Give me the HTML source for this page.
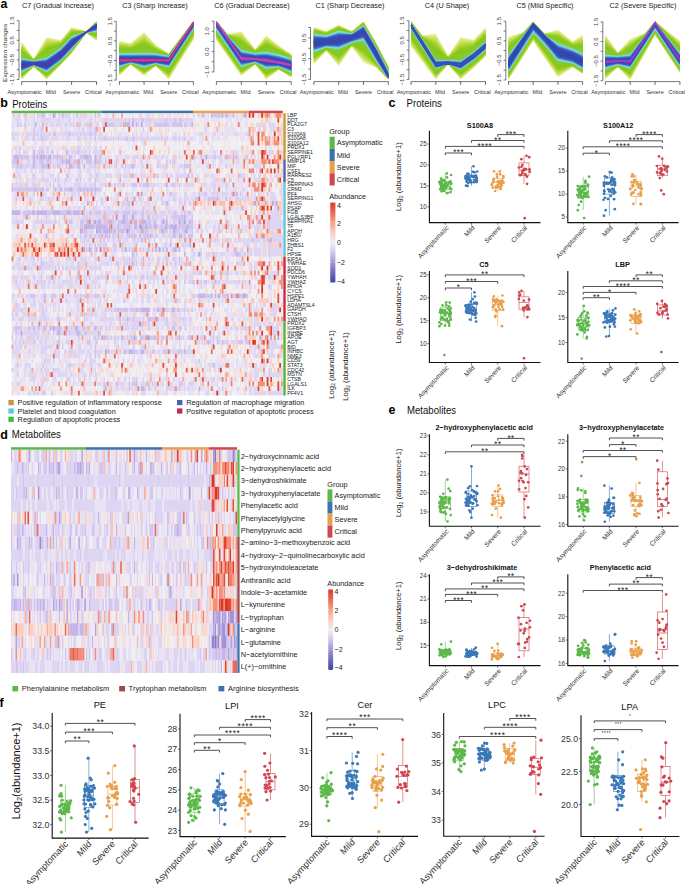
<!DOCTYPE html>
<html><head><meta charset="utf-8"><style>
html,body{margin:0;padding:0;background:#fff;}
svg{display:block;font-family:"Liberation Sans", sans-serif;}
</style></head><body>
<svg width="685" height="884" viewBox="0 0 685 884" shape-rendering="auto">
<rect width="685" height="884" fill="#fff"/>
<polygon points="21.70,41.67 33.67,58.92 46.63,37.16 60.97,39.91 71.57,27.36 86.28,31.28 96.50,21.29 96.50,41.08 86.28,32.85 71.57,53.43 60.97,64.60 46.63,79.50 33.67,66.56 21.70,79.50" fill="#eaef9a"/>
<polygon points="21.70,42.58 33.67,59.02 46.63,38.31 60.97,40.34 71.57,27.86 86.28,31.30 96.50,21.37 96.50,40.59 86.28,32.84 71.57,53.23 60.97,64.40 46.63,79.10 33.67,66.51 21.70,79.11" fill="#e1ea86"/>
<polygon points="21.70,43.48 33.67,59.13 46.63,39.45 60.97,40.78 71.57,28.37 86.28,31.32 96.50,21.45 96.50,40.10 86.28,32.82 71.57,53.02 60.97,64.20 46.63,78.69 33.67,66.45 21.70,78.72" fill="#d7e670"/>
<polygon points="21.70,44.38 33.67,59.23 46.63,40.59 60.97,41.21 71.57,28.87 86.28,31.33 96.50,21.52 96.50,39.61 86.28,32.80 71.57,52.81 60.97,64.00 46.63,78.29 33.67,66.39 21.70,78.32" fill="#cce15e"/>
<polygon points="21.70,45.29 33.67,59.33 46.63,41.74 60.97,41.65 71.57,29.37 86.28,31.35 96.50,21.60 96.50,39.12 86.28,32.79 71.57,52.60 60.97,63.79 46.63,77.89 33.67,66.33 21.70,77.93" fill="#c1dd51"/>
<polygon points="21.70,46.19 33.67,59.44 46.63,42.88 60.97,42.09 71.57,29.87 86.28,31.37 96.50,21.68 96.50,38.63 86.28,32.77 71.57,52.40 60.97,63.59 46.63,77.49 33.67,66.27 21.70,77.54" fill="#b4d844"/>
<polygon points="21.70,47.09 33.67,59.54 46.63,44.02 60.97,42.52 71.57,30.37 86.28,31.38 96.50,21.76 96.50,38.14 86.28,32.75 71.57,52.19 60.97,63.39 46.63,77.08 33.67,66.22 21.70,77.15" fill="#a9d537"/>
<polygon points="21.70,48.00 33.67,59.64 46.63,45.17 60.97,42.96 71.57,30.87 86.28,31.40 96.50,21.84 96.50,37.65 86.28,32.74 71.57,51.98 60.97,63.18 46.63,76.68 33.67,66.16 21.70,76.76" fill="#a0d12f"/>
<polygon points="21.70,48.90 33.67,59.75 46.63,46.31 60.97,43.39 71.57,31.37 86.28,31.42 96.50,21.92 96.50,37.16 86.28,32.72 71.57,51.78 60.97,62.98 46.63,76.28 33.67,66.10 21.70,76.36" fill="#96cd25"/>
<polygon points="21.70,49.81 33.67,59.85 46.63,47.45 60.97,43.83 71.57,31.87 86.28,31.43 96.50,22.00 96.50,36.67 86.28,32.70 71.57,51.57 60.97,62.78 46.63,75.87 33.67,66.04 21.70,75.97" fill="#8cca1b"/>
<polygon points="21.70,50.71 33.67,59.95 46.63,48.60 60.97,44.26 71.57,32.37 86.28,31.45 96.50,22.07 96.50,36.18 86.28,32.69 71.57,51.36 60.97,62.58 46.63,75.47 33.67,65.98 21.70,75.58" fill="#86c81a"/>
<polygon points="21.70,51.61 33.67,60.06 46.63,49.74 60.97,44.70 71.57,32.87 86.28,31.47 96.50,22.15 96.50,35.69 86.28,32.67 71.57,51.16 60.97,62.37 46.63,75.07 33.67,65.93 21.70,75.19" fill="#86c91e"/>
<polygon points="21.70,52.52 33.67,60.16 46.63,50.88 60.97,45.13 71.57,33.37 86.28,31.48 96.50,22.23 96.50,35.20 86.28,32.65 71.57,50.95 60.97,62.17 46.63,74.67 33.67,65.87 21.70,74.80" fill="#85c921"/>
<polygon points="21.70,53.42 33.67,60.26 46.63,52.03 60.97,45.57 71.57,33.88 86.28,31.50 96.50,22.31 96.50,34.71 86.28,32.64 71.57,50.74 60.97,61.97 46.63,74.26 33.67,65.81 21.70,74.40" fill="#85ca25"/>
<polygon points="21.70,54.32 33.67,60.37 46.63,53.17 60.97,46.01 71.57,34.38 86.28,31.52 96.50,22.39 96.50,34.22 86.28,32.62 71.57,50.54 60.97,61.77 46.63,73.86 33.67,65.75 21.70,74.01" fill="#85cb28"/>
<polygon points="21.70,55.23 33.67,60.47 46.63,54.31 60.97,46.44 71.57,34.88 86.28,31.53 96.50,22.47 96.50,33.73 86.28,32.60 71.57,50.33 60.97,61.56 46.63,73.46 33.67,65.70 21.70,73.62" fill="#84cb2c"/>
<polygon points="21.70,56.13 33.67,60.58 46.63,55.46 60.97,46.88 71.57,35.38 86.28,31.55 96.50,22.55 96.50,33.24 86.28,32.59 71.57,50.12 60.97,61.36 46.63,73.05 33.67,65.64 21.70,73.23" fill="#84cc2f"/>
<polygon points="21.70,57.04 33.67,60.68 46.63,56.60 60.97,47.31 71.57,35.88 86.28,31.57 96.50,22.62 96.50,32.75 86.28,32.57 71.57,49.91 60.97,61.16 46.63,72.65 33.67,65.58 21.70,72.84" fill="#80ca3e"/>
<polygon points="21.70,57.94 33.67,60.78 46.63,57.74 60.97,47.75 71.57,36.38 86.28,31.58 96.50,22.70 96.50,32.26 86.28,32.55 71.57,49.71 60.97,60.95 46.63,72.25 33.67,65.52 21.70,72.44" fill="#86dcc8"/>
<polygon points="21.70,58.54 33.67,61.04 46.63,58.35 60.97,48.35 71.57,36.98 86.28,31.62 96.50,22.90 96.50,31.66 86.28,32.51 71.57,49.20 60.97,60.46 46.63,71.64 33.67,65.38 21.70,71.84" fill="#80d9db"/>
<polygon points="21.70,59.15 33.67,61.29 46.63,58.95 60.97,48.96 71.57,37.59 86.28,31.66 96.50,23.09 96.50,31.06 86.28,32.47 71.57,48.70 60.97,59.96 46.63,71.04 33.67,65.24 21.70,71.24" fill="#6bc4e0"/>
<polygon points="21.70,59.75 33.67,61.54 46.63,59.56 60.97,49.56 71.57,38.19 86.28,31.70 96.50,23.28 96.50,30.45 86.28,32.43 71.57,48.19 60.97,59.47 46.63,70.44 33.67,65.10 21.70,70.63" fill="#4aa0d8"/>
<polygon points="21.70,60.36 33.67,61.79 46.63,60.16 60.97,50.17 71.57,38.80 86.28,31.74 96.50,23.47 96.50,29.85 86.28,32.39 71.57,47.68 60.97,58.97 46.63,69.83 33.67,64.95 21.70,70.03" fill="#4178c8"/>
<polygon points="21.70,60.96 33.67,62.05 46.63,60.77 60.97,50.77 71.57,39.40 86.28,31.78 96.50,23.67 96.50,29.24 86.28,32.35 71.57,47.18 60.97,58.47 46.63,69.23 33.67,64.81 21.70,69.42" fill="#3a57bb"/>
<polygon points="21.70,61.57 33.67,62.30 46.63,61.37 60.97,51.37 71.57,40.01 86.28,31.82 96.50,23.86 96.50,28.64 86.28,32.31 71.57,46.67 60.97,57.98 46.63,68.62 33.67,64.67 21.70,68.82" fill="#3a50b8"/>
<polygon points="21.70,62.17 33.67,62.55 46.63,61.97 60.97,51.98 71.57,40.61 86.28,31.87 96.50,24.05 96.50,28.03 86.28,32.27 71.57,46.16 60.97,57.48 46.63,68.02 33.67,64.53 21.70,68.21" fill="#3a4ab5"/>
<polygon points="21.70,62.77 33.67,62.81 46.63,62.58 60.97,52.58 71.57,41.21 86.28,31.91 96.50,24.24 96.50,27.43 86.28,32.23 71.57,45.66 60.97,56.98 46.63,67.41 33.67,64.39 21.70,67.61" fill="#3c46b1"/>
<polygon points="21.70,63.38 33.67,63.06 46.63,63.18 60.97,53.19 71.57,41.82 86.28,31.95 96.50,24.43 96.50,26.82 86.28,32.19 71.57,45.15 60.97,56.49 46.63,66.81 33.67,64.25 21.70,67.00" fill="#4141b0"/>
<polygon points="21.70,63.98 33.67,63.31 46.63,63.79 60.97,53.79 71.57,42.42 86.28,31.99 96.50,24.63 96.50,26.22 86.28,32.15 71.57,44.64 60.97,55.99 46.63,66.20 33.67,64.10 21.70,66.40" fill="#493cb0"/>
<polygon points="21.70,64.59 33.67,63.57 46.63,64.39 60.97,54.40 71.57,43.03 86.28,32.03 96.50,24.82 96.50,25.62 86.28,32.11 71.57,44.14 60.97,55.50 46.63,65.60 33.67,63.96 21.70,65.80" fill="#4a3cb0"/>
<polyline points="21.70,65.19 33.67,63.82 46.63,65.00 60.97,55.00 71.57,43.63 86.28,32.07 96.50,25.01" fill="none" stroke="#4a3cb0" stroke-width="1.6"/>
<line x1="19.00" y1="20.70" x2="19.00" y2="79.50" stroke="#555" stroke-width="0.8"/>
<line x1="16.80" y1="79.50" x2="19.00" y2="79.50" stroke="#555" stroke-width="0.8"/>
<line x1="16.80" y1="69.70" x2="19.00" y2="69.70" stroke="#555" stroke-width="0.8"/>
<line x1="16.80" y1="59.90" x2="19.00" y2="59.90" stroke="#555" stroke-width="0.8"/>
<line x1="16.80" y1="50.10" x2="19.00" y2="50.10" stroke="#555" stroke-width="0.8"/>
<line x1="16.80" y1="40.30" x2="19.00" y2="40.30" stroke="#555" stroke-width="0.8"/>
<line x1="16.80" y1="30.50" x2="19.00" y2="30.50" stroke="#555" stroke-width="0.8"/>
<line x1="16.80" y1="20.70" x2="19.00" y2="20.70" stroke="#555" stroke-width="0.8"/>
<text x="0" y="0" transform="translate(14.40,20.70) scale(1,1.080) rotate(-90)" font-size="5.6" text-anchor="middle" fill="#444">1.5</text>
<text x="0" y="0" transform="translate(14.40,40.30) scale(1,1.080) rotate(-90)" font-size="5.6" text-anchor="middle" fill="#444">0.5</text>
<text x="0" y="0" transform="translate(14.40,59.90) scale(1,1.080) rotate(-90)" font-size="5.6" text-anchor="middle" fill="#444">−0.5</text>
<text x="0" y="0" transform="translate(14.40,79.50) scale(1,1.080) rotate(-90)" font-size="5.6" text-anchor="middle" fill="#444">−1.5</text>
<line x1="21.70" y1="81.60" x2="96.50" y2="81.60" stroke="#555" stroke-width="0.8"/>
<line x1="21.70" y1="81.60" x2="21.70" y2="84.80" stroke="#555" stroke-width="0.9"/>
<text transform="translate(24.50,93.6) scale(1,1.080)" font-size="5.45" text-anchor="middle" fill="#333">Asymptomatic</text>
<line x1="46.63" y1="81.60" x2="46.63" y2="84.80" stroke="#555" stroke-width="0.9"/>
<text transform="translate(50.83,93.6) scale(1,1.080)" font-size="5.45" text-anchor="middle" fill="#333">Mild</text>
<line x1="71.57" y1="81.60" x2="71.57" y2="84.80" stroke="#555" stroke-width="0.9"/>
<text transform="translate(71.57,93.6) scale(1,1.080)" font-size="5.45" text-anchor="middle" fill="#333">Severe</text>
<line x1="96.50" y1="81.60" x2="96.50" y2="84.80" stroke="#555" stroke-width="0.9"/>
<text transform="translate(93.40,93.6) scale(1,1.080)" font-size="5.45" text-anchor="middle" fill="#333">Critical</text>
<text transform="translate(58.00,8.4) scale(1,1.080)" font-size="7.3" text-anchor="middle" fill="#222">C7 (Gradual Increase)</text>
<text x="0" y="0" transform="translate(6.5,52.8) scale(1,1.080) rotate(-90)" font-size="6.0" text-anchor="middle" fill="#333">Expression changes</text>
<polygon points="119.40,41.10 130.50,43.25 144.07,32.28 155.66,44.82 168.73,53.44 193.40,21.30 193.40,39.72 168.73,79.51 155.66,65.99 144.07,75.79 130.50,64.42 119.40,75.79" fill="#eaef9a"/>
<polygon points="119.40,41.77 130.50,43.81 144.07,33.43 155.66,45.29 168.73,53.59 193.40,21.32 193.40,39.17 168.73,78.85 155.66,65.87 144.07,75.33 130.50,64.34 119.40,75.34" fill="#e1ea86"/>
<polygon points="119.40,42.45 130.50,44.36 144.07,34.58 155.66,45.76 168.73,53.73 193.40,21.35 193.40,38.61 168.73,78.18 155.66,65.76 144.07,74.87 130.50,64.25 119.40,74.90" fill="#d7e670"/>
<polygon points="119.40,43.12 130.50,44.92 144.07,35.74 155.66,46.22 168.73,53.88 193.40,21.37 193.40,38.06 168.73,77.52 155.66,65.64 144.07,74.42 130.50,64.17 119.40,74.45" fill="#cce15e"/>
<polygon points="119.40,43.80 130.50,45.47 144.07,36.89 155.66,46.69 168.73,54.02 193.40,21.40 193.40,37.50 168.73,76.86 155.66,65.52 144.07,73.96 130.50,64.09 119.40,74.00" fill="#c1dd51"/>
<polygon points="119.40,44.47 130.50,46.03 144.07,38.05 155.66,47.16 168.73,54.17 193.40,21.42 193.40,36.95 168.73,76.19 155.66,65.41 144.07,73.50 130.50,64.01 119.40,73.56" fill="#b4d844"/>
<polygon points="119.40,45.15 130.50,46.58 144.07,39.20 155.66,47.63 168.73,54.31 193.40,21.45 193.40,36.39 168.73,75.53 155.66,65.29 144.07,73.04 130.50,63.92 119.40,73.11" fill="#a9d537"/>
<polygon points="119.40,45.82 130.50,47.14 144.07,40.36 155.66,48.10 168.73,54.46 193.40,21.47 193.40,35.84 168.73,74.86 155.66,65.18 144.07,72.59 130.50,63.84 119.40,72.66" fill="#a0d12f"/>
<polygon points="119.40,46.50 130.50,47.69 144.07,41.51 155.66,48.57 168.73,54.60 193.40,21.50 193.40,35.28 168.73,74.20 155.66,65.06 144.07,72.13 130.50,63.76 119.40,72.22" fill="#96cd25"/>
<polygon points="119.40,47.17 130.50,48.25 144.07,42.66 155.66,49.03 168.73,54.75 193.40,21.52 193.40,34.73 168.73,73.53 155.66,64.95 144.07,71.67 130.50,63.68 119.40,71.77" fill="#8cca1b"/>
<polygon points="119.40,47.85 130.50,48.81 144.07,43.82 155.66,49.50 168.73,54.89 193.40,21.55 193.40,34.17 168.73,72.87 155.66,64.83 144.07,71.21 130.50,63.59 119.40,71.32" fill="#86c81a"/>
<polygon points="119.40,48.52 130.50,49.36 144.07,44.97 155.66,49.97 168.73,55.04 193.40,21.57 193.40,33.62 168.73,72.21 155.66,64.71 144.07,70.76 130.50,63.51 119.40,70.88" fill="#86c91e"/>
<polygon points="119.40,49.20 130.50,49.92 144.07,46.13 155.66,50.44 168.73,55.18 193.40,21.60 193.40,33.06 168.73,71.54 155.66,64.60 144.07,70.30 130.50,63.43 119.40,70.43" fill="#85c921"/>
<polygon points="119.40,49.87 130.50,50.47 144.07,47.28 155.66,50.91 168.73,55.33 193.40,21.62 193.40,32.50 168.73,70.88 155.66,64.48 144.07,69.84 130.50,63.34 119.40,69.98" fill="#85ca25"/>
<polygon points="119.40,50.55 130.50,51.03 144.07,48.44 155.66,51.38 168.73,55.47 193.40,21.65 193.40,31.95 168.73,70.21 155.66,64.37 144.07,69.39 130.50,63.26 119.40,69.54" fill="#85cb28"/>
<polygon points="119.40,51.22 130.50,51.58 144.07,49.59 155.66,51.84 168.73,55.62 193.40,21.67 193.40,31.39 168.73,69.55 155.66,64.25 144.07,68.93 130.50,63.18 119.40,69.09" fill="#84cb2c"/>
<polygon points="119.40,51.90 130.50,52.14 144.07,50.74 155.66,52.31 168.73,55.76 193.40,21.70 193.40,30.84 168.73,68.88 155.66,64.13 144.07,68.47 130.50,63.10 119.40,68.64" fill="#84cc2f"/>
<polygon points="119.40,52.57 130.50,52.69 144.07,51.90 155.66,52.78 168.73,55.91 193.40,21.72 193.40,30.28 168.73,68.22 155.66,64.02 144.07,68.01 130.50,63.01 119.40,68.20" fill="#80ca3e"/>
<polygon points="119.40,53.25 130.50,53.25 144.07,53.05 155.66,53.25 168.73,56.05 193.40,21.75 193.40,29.73 168.73,67.56 155.66,63.90 144.07,67.56 130.50,62.93 119.40,67.75" fill="#86dcc8"/>
<polygon points="119.40,53.85 130.50,53.85 144.07,53.66 155.66,53.85 168.73,56.41 193.40,21.81 193.40,29.12 168.73,66.95 155.66,63.62 144.07,66.95 130.50,62.73 119.40,67.15" fill="#80d9db"/>
<polygon points="119.40,54.46 130.50,54.46 144.07,54.26 155.66,54.46 168.73,56.76 193.40,21.87 193.40,28.52 168.73,66.35 155.66,63.34 144.07,66.35 130.50,62.53 119.40,66.54" fill="#6bc4e0"/>
<polygon points="119.40,55.06 130.50,55.06 144.07,54.87 155.66,55.06 168.73,57.11 193.40,21.93 193.40,27.91 168.73,65.74 155.66,63.05 144.07,65.74 130.50,62.32 119.40,65.94" fill="#4aa0d8"/>
<polygon points="119.40,55.67 130.50,55.67 144.07,55.47 155.66,55.67 168.73,57.47 193.40,21.99 193.40,27.31 168.73,65.14 155.66,62.77 144.07,65.14 130.50,62.12 119.40,65.33" fill="#4178c8"/>
<polygon points="119.40,56.27 130.50,56.27 144.07,56.07 155.66,56.27 168.73,57.82 193.40,22.05 193.40,26.71 168.73,64.53 155.66,62.48 144.07,64.53 130.50,61.92 119.40,64.73" fill="#3a57bb"/>
<polygon points="119.40,56.87 130.50,56.87 144.07,56.68 155.66,56.87 168.73,58.18 193.40,22.11 193.40,26.10 168.73,63.93 155.66,62.20 144.07,63.93 130.50,61.72 119.40,64.13" fill="#3a50b8"/>
<polygon points="119.40,57.48 130.50,57.48 144.07,57.28 155.66,57.48 168.73,58.53 193.40,22.17 193.40,25.50 168.73,63.33 155.66,61.92 144.07,63.33 130.50,61.51 119.40,63.52" fill="#3a4ab5"/>
<polygon points="119.40,58.08 130.50,58.08 144.07,57.89 155.66,58.08 168.73,58.89 193.40,22.23 193.40,24.89 168.73,62.72 155.66,61.63 144.07,62.72 130.50,61.31 119.40,62.92" fill="#3c46b1"/>
<polygon points="119.40,58.69 130.50,58.69 144.07,58.49 155.66,58.69 168.73,59.24 193.40,22.29 193.40,24.29 168.73,62.12 155.66,61.35 144.07,62.12 130.50,61.11 119.40,62.31" fill="#773da3"/>
<polygon points="119.40,59.29 130.50,59.29 144.07,59.10 155.66,59.29 168.73,59.60 193.40,22.35 193.40,23.68 168.73,61.51 155.66,61.07 144.07,61.51 130.50,60.91 119.40,61.71" fill="#d8318e"/>
<polygon points="119.40,59.90 130.50,59.90 144.07,59.70 155.66,59.90 168.73,59.95 193.40,22.42 193.40,23.08 168.73,60.91 155.66,60.78 144.07,60.91 130.50,60.70 119.40,61.10" fill="#e0308c"/>
<polyline points="119.40,60.50 130.50,60.50 144.07,60.30 155.66,60.50 168.73,60.30 193.40,22.48" fill="none" stroke="#e0308c" stroke-width="1.6"/>
<line x1="116.20" y1="21.30" x2="116.20" y2="80.10" stroke="#555" stroke-width="0.8"/>
<line x1="114.00" y1="80.10" x2="116.20" y2="80.10" stroke="#555" stroke-width="0.8"/>
<line x1="114.00" y1="70.30" x2="116.20" y2="70.30" stroke="#555" stroke-width="0.8"/>
<line x1="114.00" y1="60.50" x2="116.20" y2="60.50" stroke="#555" stroke-width="0.8"/>
<line x1="114.00" y1="50.70" x2="116.20" y2="50.70" stroke="#555" stroke-width="0.8"/>
<line x1="114.00" y1="40.90" x2="116.20" y2="40.90" stroke="#555" stroke-width="0.8"/>
<line x1="114.00" y1="31.10" x2="116.20" y2="31.10" stroke="#555" stroke-width="0.8"/>
<line x1="114.00" y1="21.30" x2="116.20" y2="21.30" stroke="#555" stroke-width="0.8"/>
<text x="0" y="0" transform="translate(111.60,21.30) scale(1,1.080) rotate(-90)" font-size="5.6" text-anchor="middle" fill="#444">1.5</text>
<text x="0" y="0" transform="translate(111.60,40.90) scale(1,1.080) rotate(-90)" font-size="5.6" text-anchor="middle" fill="#444">0.5</text>
<text x="0" y="0" transform="translate(111.60,60.50) scale(1,1.080) rotate(-90)" font-size="5.6" text-anchor="middle" fill="#444">−0.5</text>
<text x="0" y="0" transform="translate(111.60,80.10) scale(1,1.080) rotate(-90)" font-size="5.6" text-anchor="middle" fill="#444">−1.5</text>
<line x1="119.40" y1="81.60" x2="193.40" y2="81.60" stroke="#555" stroke-width="0.8"/>
<line x1="119.40" y1="81.60" x2="119.40" y2="84.80" stroke="#555" stroke-width="0.9"/>
<text transform="translate(122.20,93.6) scale(1,1.080)" font-size="5.45" text-anchor="middle" fill="#333">Asymptomatic</text>
<line x1="144.07" y1="81.60" x2="144.07" y2="84.80" stroke="#555" stroke-width="0.9"/>
<text transform="translate(148.27,93.6) scale(1,1.080)" font-size="5.45" text-anchor="middle" fill="#333">Mild</text>
<line x1="168.73" y1="81.60" x2="168.73" y2="84.80" stroke="#555" stroke-width="0.9"/>
<text transform="translate(168.73,93.6) scale(1,1.080)" font-size="5.45" text-anchor="middle" fill="#333">Severe</text>
<line x1="193.40" y1="81.60" x2="193.40" y2="84.80" stroke="#555" stroke-width="0.9"/>
<text transform="translate(190.30,93.6) scale(1,1.080)" font-size="5.45" text-anchor="middle" fill="#333">Critical</text>
<text transform="translate(155.00,8.4) scale(1,1.080)" font-size="7.3" text-anchor="middle" fill="#222">C3 (Sharp Increase)</text>
<polygon points="216.40,21.15 227.62,34.34 241.33,31.30 255.30,49.16 266.27,35.56 278.73,45.51 291.20,54.04 291.20,77.58 278.73,69.87 266.27,79.41 255.30,64.59 241.33,75.76 227.62,56.27 216.40,40.44" fill="#eaef9a"/>
<polygon points="216.40,21.17 227.62,34.43 241.33,32.34 255.30,49.38 266.27,36.47 278.73,45.99 291.20,54.27 291.20,77.32 278.73,69.72 266.27,78.82 255.30,64.48 241.33,75.27 227.62,55.75 216.40,39.88" fill="#e1ea86"/>
<polygon points="216.40,21.18 227.62,34.52 241.33,33.38 255.30,49.59 266.27,37.37 278.73,46.48 291.20,54.51 291.20,77.06 278.73,69.57 266.27,78.24 255.30,64.37 241.33,74.79 227.62,55.23 216.40,39.33" fill="#d7e670"/>
<polygon points="216.40,21.20 227.62,34.60 241.33,34.41 255.30,49.81 266.27,38.27 278.73,46.96 291.20,54.74 291.20,76.80 278.73,69.42 266.27,77.65 255.30,64.26 241.33,74.30 227.62,54.71 216.40,38.78" fill="#cce15e"/>
<polygon points="216.40,21.22 227.62,34.69 241.33,35.45 255.30,50.02 266.27,39.17 278.73,47.45 291.20,54.98 291.20,76.54 278.73,69.27 266.27,77.07 255.30,64.15 241.33,73.82 227.62,54.19 216.40,38.22" fill="#c1dd51"/>
<polygon points="216.40,21.24 227.62,34.77 241.33,36.49 255.30,50.24 266.27,40.07 278.73,47.93 291.20,55.21 291.20,76.28 278.73,69.12 266.27,76.48 255.30,64.03 241.33,73.33 227.62,53.68 216.40,37.67" fill="#b4d844"/>
<polygon points="216.40,21.25 227.62,34.86 241.33,37.53 255.30,50.45 266.27,40.98 278.73,48.42 291.20,55.45 291.20,76.02 278.73,68.97 266.27,75.89 255.30,63.92 241.33,72.85 227.62,53.16 216.40,37.12" fill="#a9d537"/>
<polygon points="216.40,21.27 227.62,34.94 241.33,38.56 255.30,50.66 266.27,41.88 278.73,48.90 291.20,55.69 291.20,75.75 278.73,68.82 266.27,75.31 255.30,63.81 241.33,72.36 227.62,52.64 216.40,36.57" fill="#a0d12f"/>
<polygon points="216.40,21.29 227.62,35.03 241.33,39.60 255.30,50.88 266.27,42.78 278.73,49.39 291.20,55.92 291.20,75.49 278.73,68.67 266.27,74.72 255.30,63.70 241.33,71.88 227.62,52.12 216.40,36.01" fill="#96cd25"/>
<polygon points="216.40,21.30 227.62,35.12 241.33,40.64 255.30,51.09 266.27,43.68 278.73,49.87 291.20,56.16 291.20,75.23 278.73,68.52 266.27,74.13 255.30,63.59 241.33,71.39 227.62,51.60 216.40,35.46" fill="#8cca1b"/>
<polygon points="216.40,21.32 227.62,35.20 241.33,41.68 255.30,51.31 266.27,44.59 278.73,50.36 291.20,56.39 291.20,74.97 278.73,68.37 266.27,73.55 255.30,63.48 241.33,70.91 227.62,51.08 216.40,34.91" fill="#86c81a"/>
<polygon points="216.40,21.34 227.62,35.29 241.33,42.71 255.30,51.52 266.27,45.49 278.73,50.84 291.20,56.63 291.20,74.71 278.73,68.22 266.27,72.96 255.30,63.37 241.33,70.42 227.62,50.56 216.40,34.36" fill="#86c91e"/>
<polygon points="216.40,21.36 227.62,35.37 241.33,43.75 255.30,51.74 266.27,46.39 278.73,51.33 291.20,56.86 291.20,74.45 278.73,68.07 266.27,72.37 255.30,63.25 241.33,69.94 227.62,50.04 216.40,33.80" fill="#85c921"/>
<polygon points="216.40,21.37 227.62,35.46 241.33,44.79 255.30,51.95 266.27,47.29 278.73,51.81 291.20,57.10 291.20,74.19 278.73,67.92 266.27,71.79 255.30,63.14 241.33,69.45 227.62,49.52 216.40,33.25" fill="#85ca25"/>
<polygon points="216.40,21.39 227.62,35.54 241.33,45.83 255.30,52.16 266.27,48.19 278.73,52.30 291.20,57.34 291.20,73.92 278.73,67.77 266.27,71.20 255.30,63.03 241.33,68.97 227.62,49.01 216.40,32.70" fill="#85cb28"/>
<polygon points="216.40,21.41 227.62,35.63 241.33,46.86 255.30,52.38 266.27,49.10 278.73,52.78 291.20,57.57 291.20,73.66 278.73,67.62 266.27,70.61 255.30,62.92 241.33,68.48 227.62,48.49 216.40,32.15" fill="#84cb2c"/>
<polygon points="216.40,21.42 227.62,35.72 241.33,47.90 255.30,52.59 266.27,50.00 278.73,53.27 291.20,57.81 291.20,73.40 278.73,67.47 266.27,70.03 255.30,62.81 241.33,68.00 227.62,47.97 216.40,31.59" fill="#84cc2f"/>
<polygon points="216.40,21.44 227.62,35.80 241.33,48.94 255.30,52.81 266.27,50.90 278.73,53.75 291.20,58.04 291.20,73.14 278.73,67.32 266.27,69.44 255.30,62.70 241.33,67.51 227.62,47.45 216.40,31.04" fill="#80ca3e"/>
<polygon points="216.40,21.46 227.62,35.89 241.33,49.98 255.30,53.02 266.27,51.80 278.73,54.24 291.20,58.28 291.20,72.88 278.73,67.17 266.27,68.86 255.30,62.59 241.33,67.03 227.62,46.93 216.40,30.49" fill="#86dcc8"/>
<polygon points="216.40,21.50 227.62,36.10 241.33,50.69 255.30,53.55 266.27,52.51 278.73,54.95 291.20,58.86 291.20,72.24 278.73,66.80 266.27,68.14 255.30,62.31 241.33,66.32 227.62,46.22 216.40,29.78" fill="#80d9db"/>
<polygon points="216.40,21.54 227.62,36.31 241.33,51.40 255.30,54.07 266.27,53.22 278.73,55.66 291.20,59.43 291.20,71.60 278.73,66.44 266.27,67.43 255.30,62.04 241.33,65.61 227.62,45.51 216.40,29.07" fill="#6bc4e0"/>
<polygon points="216.40,21.58 227.62,36.52 241.33,52.11 255.30,54.59 266.27,53.93 278.73,56.37 291.20,60.01 291.20,70.96 278.73,66.07 266.27,66.72 255.30,61.77 241.33,64.90 227.62,44.80 216.40,28.36" fill="#4aa0d8"/>
<polygon points="216.40,21.63 227.62,36.73 241.33,52.82 255.30,55.12 266.27,54.65 278.73,57.08 291.20,60.59 291.20,70.32 278.73,65.70 266.27,66.01 255.30,61.50 241.33,64.19 227.62,44.09 216.40,27.65" fill="#4178c8"/>
<polygon points="216.40,21.67 227.62,36.94 241.33,53.53 255.30,55.64 266.27,55.36 278.73,57.79 291.20,61.16 291.20,69.68 278.73,65.33 266.27,65.30 255.30,61.22 241.33,63.48 227.62,43.38 216.40,26.94" fill="#3a57bb"/>
<polygon points="216.40,21.71 227.62,37.15 241.33,54.24 255.30,56.17 266.27,56.07 278.73,58.50 291.20,61.74 291.20,69.04 278.73,64.97 266.27,64.59 255.30,60.95 241.33,62.77 227.62,42.67 216.40,26.23" fill="#3a50b8"/>
<polygon points="216.40,21.75 227.62,37.36 241.33,54.95 255.30,56.69 266.27,56.78 278.73,59.21 291.20,62.32 291.20,68.40 278.73,64.60 266.27,63.88 255.30,60.68 241.33,62.05 227.62,41.96 216.40,25.51" fill="#3a4ab5"/>
<polygon points="216.40,21.79 227.62,37.57 241.33,55.66 255.30,57.22 266.27,57.49 278.73,59.92 291.20,62.89 291.20,67.76 278.73,64.23 266.27,63.17 255.30,60.40 241.33,61.34 227.62,41.25 216.40,24.80" fill="#3c46b1"/>
<polygon points="216.40,21.84 227.62,37.78 241.33,56.37 255.30,57.74 266.27,58.20 278.73,60.63 291.20,63.47 291.20,67.12 278.73,63.87 266.27,62.46 255.30,60.13 241.33,60.63 227.62,40.54 216.40,24.09" fill="#6b43b3"/>
<polygon points="216.40,21.88 227.62,37.99 241.33,57.08 255.30,58.27 266.27,58.91 278.73,61.34 291.20,64.05 291.20,66.48 278.73,63.50 266.27,61.75 255.30,59.86 241.33,59.92 227.62,39.83 216.40,23.38" fill="#ba40b8"/>
<polygon points="216.40,21.92 227.62,38.20 241.33,57.79 255.30,58.79 266.27,59.62 278.73,62.05 291.20,64.62 291.20,65.84 278.73,63.13 266.27,61.04 255.30,59.59 241.33,59.21 227.62,39.12 216.40,22.67" fill="#c040b8"/>
<polyline points="216.40,21.96 227.62,38.41 241.33,58.50 255.30,59.31 266.27,60.33 278.73,62.77 291.20,65.20" fill="none" stroke="#c040b8" stroke-width="1.6"/>
<line x1="213.90" y1="21.15" x2="213.90" y2="71.90" stroke="#555" stroke-width="0.8"/>
<line x1="211.70" y1="71.90" x2="213.90" y2="71.90" stroke="#555" stroke-width="0.8"/>
<line x1="211.70" y1="61.75" x2="213.90" y2="61.75" stroke="#555" stroke-width="0.8"/>
<line x1="211.70" y1="51.60" x2="213.90" y2="51.60" stroke="#555" stroke-width="0.8"/>
<line x1="211.70" y1="41.45" x2="213.90" y2="41.45" stroke="#555" stroke-width="0.8"/>
<line x1="211.70" y1="31.30" x2="213.90" y2="31.30" stroke="#555" stroke-width="0.8"/>
<line x1="211.70" y1="21.15" x2="213.90" y2="21.15" stroke="#555" stroke-width="0.8"/>
<text x="0" y="0" transform="translate(209.30,31.30) scale(1,1.080) rotate(-90)" font-size="5.6" text-anchor="middle" fill="#444">1.0</text>
<text x="0" y="0" transform="translate(209.30,51.60) scale(1,1.080) rotate(-90)" font-size="5.6" text-anchor="middle" fill="#444">0.0</text>
<text x="0" y="0" transform="translate(209.30,71.90) scale(1,1.080) rotate(-90)" font-size="5.6" text-anchor="middle" fill="#444">−1.0</text>
<line x1="216.40" y1="81.60" x2="291.20" y2="81.60" stroke="#555" stroke-width="0.8"/>
<line x1="216.40" y1="81.60" x2="216.40" y2="84.80" stroke="#555" stroke-width="0.9"/>
<text transform="translate(219.20,93.6) scale(1,1.080)" font-size="5.45" text-anchor="middle" fill="#333">Asymptomatic</text>
<line x1="241.33" y1="81.60" x2="241.33" y2="84.80" stroke="#555" stroke-width="0.9"/>
<text transform="translate(245.53,93.6) scale(1,1.080)" font-size="5.45" text-anchor="middle" fill="#333">Mild</text>
<line x1="266.27" y1="81.60" x2="266.27" y2="84.80" stroke="#555" stroke-width="0.9"/>
<text transform="translate(266.27,93.6) scale(1,1.080)" font-size="5.45" text-anchor="middle" fill="#333">Severe</text>
<line x1="291.20" y1="81.60" x2="291.20" y2="84.80" stroke="#555" stroke-width="0.9"/>
<text transform="translate(288.10,93.6) scale(1,1.080)" font-size="5.45" text-anchor="middle" fill="#333">Critical</text>
<text transform="translate(252.00,8.4) scale(1,1.080)" font-size="7.3" text-anchor="middle" fill="#222">C6 (Gradual Decrease)</text>
<polygon points="313.90,27.08 326.30,31.24 338.70,24.80 351.84,31.24 363.50,21.26 376.89,44.14 388.30,65.98 388.30,79.50 376.89,68.06 363.50,62.24 351.84,46.64 338.70,65.98 326.30,51.00 313.90,64.11" fill="#eaef9a"/>
<polygon points="313.90,27.44 326.30,31.47 338.70,25.12 351.84,31.36 363.50,21.47 376.89,44.36 388.30,66.21 388.30,79.45 376.89,67.77 363.50,61.03 351.84,46.43 338.70,65.06 326.30,50.81 313.90,63.45" fill="#e1ea86"/>
<polygon points="313.90,27.80 326.30,31.69 338.70,25.44 351.84,31.48 363.50,21.68 376.89,44.58 388.30,66.45 388.30,79.39 376.89,67.49 363.50,59.83 351.84,46.22 338.70,64.13 326.30,50.62 313.90,62.79" fill="#d7e670"/>
<polygon points="313.90,28.16 326.30,31.92 338.70,25.77 351.84,31.60 363.50,21.89 376.89,44.80 388.30,66.68 388.30,79.34 376.89,67.20 363.50,58.63 351.84,46.02 338.70,63.21 326.30,50.42 313.90,62.13" fill="#cce15e"/>
<polygon points="313.90,28.52 326.30,32.14 338.70,26.09 351.84,31.72 363.50,22.10 376.89,45.02 388.30,66.91 388.30,79.29 376.89,66.92 363.50,57.43 351.84,45.81 338.70,62.28 326.30,50.23 313.90,61.47" fill="#c1dd51"/>
<polygon points="313.90,28.88 326.30,32.36 338.70,26.41 351.84,31.84 363.50,22.31 376.89,45.24 388.30,67.14 388.30,79.24 376.89,66.63 363.50,56.23 351.84,45.60 338.70,61.36 326.30,50.04 313.90,60.81" fill="#b4d844"/>
<polygon points="313.90,29.23 326.30,32.59 338.70,26.74 351.84,31.96 363.50,22.52 376.89,45.46 388.30,67.38 388.30,79.18 376.89,66.35 363.50,55.03 351.84,45.40 338.70,60.43 326.30,49.84 313.90,60.16" fill="#a9d537"/>
<polygon points="313.90,29.59 326.30,32.81 338.70,27.06 351.84,32.07 363.50,22.74 376.89,45.68 388.30,67.61 388.30,79.13 376.89,66.06 363.50,53.82 351.84,45.19 338.70,59.51 326.30,49.65 313.90,59.50" fill="#a0d12f"/>
<polygon points="313.90,29.95 326.30,33.04 338.70,27.38 351.84,32.19 363.50,22.95 376.89,45.90 388.30,67.84 388.30,79.08 376.89,65.78 363.50,52.62 351.84,44.98 338.70,58.58 326.30,49.46 313.90,58.84" fill="#96cd25"/>
<polygon points="313.90,30.31 326.30,33.26 338.70,27.71 351.84,32.31 363.50,23.16 376.89,46.12 388.30,68.07 388.30,79.03 376.89,65.49 363.50,51.42 351.84,44.78 338.70,57.66 326.30,49.27 313.90,58.18" fill="#8cca1b"/>
<polygon points="313.90,30.67 326.30,33.48 338.70,28.03 351.84,32.43 363.50,23.37 376.89,46.34 388.30,68.31 388.30,78.97 376.89,65.21 363.50,50.22 351.84,44.57 338.70,56.74 326.30,49.07 313.90,57.52" fill="#86c81a"/>
<polygon points="313.90,31.02 326.30,33.71 338.70,28.36 351.84,32.55 363.50,23.58 376.89,46.56 388.30,68.54 388.30,78.92 376.89,64.92 363.50,49.02 351.84,44.37 338.70,55.81 326.30,48.88 313.90,56.86" fill="#86c91e"/>
<polygon points="313.90,31.38 326.30,33.93 338.70,28.68 351.84,32.67 363.50,23.79 376.89,46.77 388.30,68.77 388.30,78.87 376.89,64.63 363.50,47.81 351.84,44.16 338.70,54.89 326.30,48.69 313.90,56.20" fill="#85c921"/>
<polygon points="313.90,31.74 326.30,34.16 338.70,29.00 351.84,32.79 363.50,24.00 376.89,46.99 388.30,69.01 388.30,78.81 376.89,64.35 363.50,46.61 351.84,43.95 338.70,53.96 326.30,48.49 313.90,55.55" fill="#85ca25"/>
<polygon points="313.90,32.10 326.30,34.38 338.70,29.33 351.84,32.90 363.50,24.21 376.89,47.21 388.30,69.24 388.30,78.76 376.89,64.06 363.50,45.41 351.84,43.75 338.70,53.04 326.30,48.30 313.90,54.89" fill="#85cb28"/>
<polygon points="313.90,32.46 326.30,34.60 338.70,29.65 351.84,33.02 363.50,24.42 376.89,47.43 388.30,69.47 388.30,78.71 376.89,63.78 363.50,44.21 351.84,43.54 338.70,52.11 326.30,48.11 313.90,54.23" fill="#84cb2c"/>
<polygon points="313.90,32.82 326.30,34.83 338.70,29.97 351.84,33.14 363.50,24.63 376.89,47.65 388.30,69.70 388.30,78.66 376.89,63.49 363.50,43.01 351.84,43.33 338.70,51.19 326.30,47.91 313.90,53.57" fill="#84cc2f"/>
<polygon points="313.90,33.17 326.30,35.05 338.70,30.30 351.84,33.26 363.50,24.84 376.89,47.87 388.30,69.94 388.30,78.60 376.89,63.21 363.50,41.81 351.84,43.13 338.70,50.26 326.30,47.72 313.90,52.91" fill="#80ca3e"/>
<polygon points="313.90,33.53 326.30,35.28 338.70,30.62 351.84,33.38 363.50,25.05 376.89,48.09 388.30,70.17 388.30,78.55 376.89,62.92 363.50,40.60 351.84,42.92 338.70,49.34 326.30,47.53 313.90,52.25" fill="#86dcc8"/>
<polygon points="313.90,34.31 326.30,35.82 338.70,31.40 351.84,33.67 363.50,25.57 376.89,48.63 388.30,70.74 388.30,78.42 376.89,62.22 363.50,39.82 351.84,42.42 338.70,48.56 326.30,47.05 313.90,51.47" fill="#80d9db"/>
<polygon points="313.90,35.09 326.30,36.37 338.70,32.18 351.84,33.96 363.50,26.09 376.89,49.17 388.30,71.31 388.30,78.29 376.89,61.53 363.50,39.04 351.84,41.91 338.70,47.78 326.30,46.58 313.90,50.69" fill="#6bc4e0"/>
<polygon points="313.90,35.87 326.30,36.92 338.70,32.96 351.84,34.25 363.50,26.60 376.89,49.70 388.30,71.88 388.30,78.16 376.89,60.83 363.50,38.26 351.84,41.41 338.70,47.00 326.30,46.11 313.90,49.91" fill="#4aa0d8"/>
<polygon points="313.90,36.65 326.30,37.47 338.70,33.74 351.84,34.54 363.50,27.12 376.89,50.24 388.30,72.45 388.30,78.04 376.89,60.13 363.50,37.48 351.84,40.90 338.70,46.22 326.30,45.63 313.90,49.13" fill="#4178c8"/>
<polygon points="313.90,37.43 326.30,38.02 338.70,34.52 351.84,34.83 363.50,27.63 376.89,50.78 388.30,73.02 388.30,77.91 376.89,59.43 363.50,36.70 351.84,40.40 338.70,45.44 326.30,45.16 313.90,48.35" fill="#3a57bb"/>
<polygon points="313.90,38.21 326.30,38.56 338.70,35.30 351.84,35.12 363.50,28.15 376.89,51.32 388.30,73.59 388.30,77.78 376.89,58.73 363.50,35.92 351.84,39.89 338.70,44.66 326.30,44.69 313.90,47.57" fill="#3a50b8"/>
<polygon points="313.90,38.99 326.30,39.11 338.70,36.08 351.84,35.41 363.50,28.66 376.89,51.85 388.30,74.16 388.30,77.65 376.89,58.03 363.50,35.14 351.84,39.39 338.70,43.88 326.30,44.22 313.90,46.79" fill="#3a4ab5"/>
<polygon points="313.90,39.77 326.30,39.66 338.70,36.86 351.84,35.70 363.50,29.18 376.89,52.39 388.30,74.73 388.30,77.52 376.89,57.33 363.50,34.36 351.84,38.88 338.70,43.10 326.30,43.74 313.90,46.01" fill="#3c46b1"/>
<polygon points="313.90,40.55 326.30,40.21 338.70,37.64 351.84,35.99 363.50,29.70 376.89,52.93 388.30,75.30 388.30,77.39 376.89,56.64 363.50,33.58 351.84,38.38 338.70,42.32 326.30,43.27 313.90,45.23" fill="#3b45b0"/>
<polygon points="313.90,41.33 326.30,40.76 338.70,38.42 351.84,36.28 363.50,30.21 376.89,53.47 388.30,75.86 388.30,77.26 376.89,55.94 363.50,32.80 351.84,37.87 338.70,41.54 326.30,42.80 313.90,44.45" fill="#3848b0"/>
<polygon points="313.90,42.11 326.30,41.30 338.70,39.20 351.84,36.57 363.50,30.73 376.89,54.00 388.30,76.43 388.30,77.13 376.89,55.24 363.50,32.02 351.84,37.37 338.70,40.76 326.30,42.32 313.90,43.67" fill="#3848b0"/>
<polyline points="313.90,42.89 326.30,41.85 338.70,39.98 351.84,36.86 363.50,31.24 376.89,54.54 388.30,77.00" fill="none" stroke="#3848b0" stroke-width="1.6"/>
<line x1="310.50" y1="27.50" x2="310.50" y2="79.50" stroke="#555" stroke-width="0.8"/>
<line x1="308.30" y1="79.50" x2="310.50" y2="79.50" stroke="#555" stroke-width="0.8"/>
<line x1="308.30" y1="69.10" x2="310.50" y2="69.10" stroke="#555" stroke-width="0.8"/>
<line x1="308.30" y1="58.70" x2="310.50" y2="58.70" stroke="#555" stroke-width="0.8"/>
<line x1="308.30" y1="48.30" x2="310.50" y2="48.30" stroke="#555" stroke-width="0.8"/>
<line x1="308.30" y1="37.90" x2="310.50" y2="37.90" stroke="#555" stroke-width="0.8"/>
<line x1="308.30" y1="27.50" x2="310.50" y2="27.50" stroke="#555" stroke-width="0.8"/>
<text x="0" y="0" transform="translate(305.90,37.90) scale(1,1.080) rotate(-90)" font-size="5.6" text-anchor="middle" fill="#444">0.5</text>
<text x="0" y="0" transform="translate(305.90,58.70) scale(1,1.080) rotate(-90)" font-size="5.6" text-anchor="middle" fill="#444">−0.5</text>
<text x="0" y="0" transform="translate(305.90,79.50) scale(1,1.080) rotate(-90)" font-size="5.6" text-anchor="middle" fill="#444">−1.5</text>
<line x1="313.90" y1="81.60" x2="388.30" y2="81.60" stroke="#555" stroke-width="0.8"/>
<line x1="313.90" y1="81.60" x2="313.90" y2="84.80" stroke="#555" stroke-width="0.9"/>
<text transform="translate(316.70,93.6) scale(1,1.080)" font-size="5.45" text-anchor="middle" fill="#333">Asymptomatic</text>
<line x1="338.70" y1="81.60" x2="338.70" y2="84.80" stroke="#555" stroke-width="0.9"/>
<text transform="translate(342.90,93.6) scale(1,1.080)" font-size="5.45" text-anchor="middle" fill="#333">Mild</text>
<line x1="363.50" y1="81.60" x2="363.50" y2="84.80" stroke="#555" stroke-width="0.9"/>
<text transform="translate(363.50,93.6) scale(1,1.080)" font-size="5.45" text-anchor="middle" fill="#333">Severe</text>
<line x1="388.30" y1="81.60" x2="388.30" y2="84.80" stroke="#555" stroke-width="0.9"/>
<text transform="translate(385.20,93.6) scale(1,1.080)" font-size="5.45" text-anchor="middle" fill="#333">Critical</text>
<text transform="translate(350.00,8.4) scale(1,1.080)" font-size="7.3" text-anchor="middle" fill="#222">C1 (Sharp Decrease)</text>
<polygon points="411.00,21.29 422.42,35.40 435.83,33.64 448.00,55.98 460.67,37.16 473.83,39.71 485.50,27.36 485.50,56.57 473.83,67.74 460.67,79.50 448.00,64.02 435.83,79.50 422.42,61.66 411.00,46.57" fill="#eaef9a"/>
<polygon points="411.00,21.37 422.42,35.60 435.83,35.12 448.00,56.19 460.67,38.48 473.83,40.38 485.50,28.16 485.50,56.22 473.83,67.33 460.67,78.94 448.00,64.02 435.83,78.91 422.42,60.88 411.00,45.61" fill="#e1ea86"/>
<polygon points="411.00,21.45 422.42,35.79 435.83,36.60 448.00,56.39 460.67,39.80 473.83,41.04 485.50,28.95 485.50,55.87 473.83,66.91 460.67,78.39 448.00,64.02 435.83,78.32 422.42,60.10 411.00,44.66" fill="#d7e670"/>
<polygon points="411.00,21.52 422.42,35.99 435.83,38.08 448.00,56.60 460.67,41.12 473.83,41.70 485.50,29.75 485.50,55.52 473.83,66.50 460.67,77.83 448.00,64.02 435.83,77.74 422.42,59.31 411.00,43.70" fill="#cce15e"/>
<polygon points="411.00,21.60 422.42,36.18 435.83,39.56 448.00,56.81 460.67,42.43 473.83,42.37 485.50,30.54 485.50,55.17 473.83,66.08 460.67,77.28 448.00,64.02 435.83,77.15 422.42,58.53 411.00,42.74" fill="#c1dd51"/>
<polygon points="411.00,21.68 422.42,36.38 435.83,41.04 448.00,57.01 460.67,43.75 473.83,43.03 485.50,31.34 485.50,54.83 473.83,65.67 460.67,76.72 448.00,64.02 435.83,76.56 422.42,57.74 411.00,41.78" fill="#b4d844"/>
<polygon points="411.00,21.76 422.42,36.58 435.83,42.52 448.00,57.22 460.67,45.07 473.83,43.70 485.50,32.13 485.50,54.48 473.83,65.26 460.67,76.17 448.00,64.02 435.83,75.97 422.42,56.96 411.00,40.82" fill="#a9d537"/>
<polygon points="411.00,21.84 422.42,36.77 435.83,44.00 448.00,57.43 460.67,46.39 473.83,44.36 485.50,32.93 485.50,54.13 473.83,64.84 460.67,75.61 448.00,64.02 435.83,75.38 422.42,56.18 411.00,39.86" fill="#a0d12f"/>
<polygon points="411.00,21.92 422.42,36.97 435.83,45.48 448.00,57.64 460.67,47.70 473.83,45.03 485.50,33.72 485.50,53.78 473.83,64.43 460.67,75.06 448.00,64.02 435.83,74.80 422.42,55.39 411.00,38.91" fill="#96cd25"/>
<polygon points="411.00,22.00 422.42,37.16 435.83,46.96 448.00,57.84 460.67,49.02 473.83,45.69 485.50,34.52 485.50,53.43 473.83,64.02 460.67,74.50 448.00,64.02 435.83,74.21 422.42,54.61 411.00,37.95" fill="#8cca1b"/>
<polygon points="411.00,22.07 422.42,37.36 435.83,48.44 448.00,58.05 460.67,50.34 473.83,46.35 485.50,35.31 485.50,53.08 473.83,63.60 460.67,73.95 448.00,64.02 435.83,73.62 422.42,53.82 411.00,36.99" fill="#86c81a"/>
<polygon points="411.00,22.15 422.42,37.56 435.83,49.93 448.00,58.26 460.67,51.66 473.83,47.02 485.50,36.11 485.50,52.74 473.83,63.19 460.67,73.39 448.00,64.02 435.83,73.03 422.42,53.04 411.00,36.03" fill="#86c91e"/>
<polygon points="411.00,22.23 422.42,37.75 435.83,51.41 448.00,58.46 460.67,52.97 473.83,47.68 485.50,36.90 485.50,52.39 473.83,62.77 460.67,72.84 448.00,64.02 435.83,72.44 422.42,52.26 411.00,35.07" fill="#85c921"/>
<polygon points="411.00,22.31 422.42,37.95 435.83,52.89 448.00,58.67 460.67,54.29 473.83,48.35 485.50,37.70 485.50,52.04 473.83,62.36 460.67,72.28 448.00,64.02 435.83,71.86 422.42,51.47 411.00,34.12" fill="#85ca25"/>
<polygon points="411.00,22.39 422.42,38.14 435.83,54.37 448.00,58.88 460.67,55.61 473.83,49.01 485.50,38.49 485.50,51.69 473.83,61.95 460.67,71.73 448.00,64.02 435.83,71.27 422.42,50.69 411.00,33.16" fill="#85cb28"/>
<polygon points="411.00,22.47 422.42,38.34 435.83,55.85 448.00,59.08 460.67,56.93 473.83,49.68 485.50,39.29 485.50,51.34 473.83,61.53 460.67,71.17 448.00,64.02 435.83,70.68 422.42,49.90 411.00,32.20" fill="#84cb2c"/>
<polygon points="411.00,22.55 422.42,38.54 435.83,57.33 448.00,59.29 460.67,58.24 473.83,50.34 485.50,40.08 485.50,50.99 473.83,61.12 460.67,70.61 448.00,64.02 435.83,70.09 422.42,49.12 411.00,31.24" fill="#84cc2f"/>
<polygon points="411.00,22.62 422.42,38.73 435.83,58.81 448.00,59.50 460.67,59.56 473.83,51.00 485.50,40.88 485.50,50.64 473.83,60.71 460.67,70.06 448.00,64.02 435.83,69.50 422.42,48.34 411.00,30.28" fill="#80ca3e"/>
<polygon points="411.00,22.70 422.42,38.93 435.83,60.29 448.00,59.70 460.67,60.88 473.83,51.67 485.50,41.67 485.50,50.30 473.83,60.29 460.67,69.50 448.00,64.02 435.83,68.92 422.42,47.55 411.00,29.32" fill="#86dcc8"/>
<polygon points="411.00,22.90 422.42,39.29 435.83,60.65 448.00,60.06 460.67,61.24 473.83,52.03 485.50,42.03 485.50,49.94 473.83,59.93 460.67,69.14 448.00,64.02 435.83,68.56 422.42,47.19 411.00,28.96" fill="#80d9db"/>
<polygon points="411.00,23.09 422.42,39.65 435.83,61.01 448.00,60.42 460.67,61.60 473.83,52.39 485.50,42.39 485.50,49.58 473.83,59.57 460.67,68.79 448.00,64.02 435.83,68.20 422.42,46.83 411.00,28.61" fill="#6bc4e0"/>
<polygon points="411.00,23.28 422.42,40.01 435.83,61.37 448.00,60.78 460.67,61.96 473.83,52.75 485.50,42.75 485.50,49.22 473.83,59.21 460.67,68.43 448.00,64.02 435.83,67.84 422.42,46.47 411.00,28.25" fill="#4aa0d8"/>
<polygon points="411.00,23.47 422.42,40.37 435.83,61.73 448.00,61.14 460.67,62.32 473.83,53.11 485.50,43.11 485.50,48.86 473.83,58.85 460.67,68.07 448.00,64.02 435.83,67.48 422.42,46.11 411.00,27.89" fill="#4178c8"/>
<polygon points="411.00,23.67 422.42,40.72 435.83,62.09 448.00,61.50 460.67,62.68 473.83,53.46 485.50,43.47 485.50,48.50 473.83,58.50 460.67,67.71 448.00,64.02 435.83,67.12 422.42,45.76 411.00,27.53" fill="#3a57bb"/>
<polygon points="411.00,23.86 422.42,41.08 435.83,62.45 448.00,61.86 460.67,63.04 473.83,53.82 485.50,43.83 485.50,48.14 473.83,58.14 460.67,67.35 448.00,64.02 435.83,66.76 422.42,45.40 411.00,27.17" fill="#3a50b8"/>
<polygon points="411.00,24.05 422.42,41.44 435.83,62.81 448.00,62.22 460.67,63.40 473.83,54.18 485.50,44.19 485.50,47.78 473.83,57.78 460.67,66.99 448.00,64.02 435.83,66.40 422.42,45.04 411.00,26.81" fill="#3a4ab5"/>
<polygon points="411.00,24.24 422.42,41.80 435.83,63.17 448.00,62.58 460.67,63.75 473.83,54.54 485.50,44.55 485.50,47.42 473.83,57.42 460.67,66.63 448.00,64.02 435.83,66.04 422.42,44.68 411.00,26.45" fill="#3c46b1"/>
<polygon points="411.00,24.43 422.42,42.16 435.83,63.53 448.00,62.94 460.67,64.11 473.83,54.90 485.50,44.91 485.50,47.06 473.83,57.06 460.67,66.27 448.00,64.02 435.83,65.68 422.42,44.32 411.00,26.09" fill="#3b49b3"/>
<polygon points="411.00,24.63 422.42,42.52 435.83,63.89 448.00,63.30 460.67,64.47 473.83,55.26 485.50,45.27 485.50,46.70 473.83,56.70 460.67,65.91 448.00,64.02 435.83,65.32 422.42,43.96 411.00,25.73" fill="#3a51b8"/>
<polygon points="411.00,24.82 422.42,42.88 435.83,64.24 448.00,63.66 460.67,64.83 473.83,55.62 485.50,45.62 485.50,46.34 473.83,56.34 460.67,65.55 448.00,64.02 435.83,64.96 422.42,43.60 411.00,25.37" fill="#3a52b8"/>
<polyline points="411.00,25.01 422.42,43.24 435.83,64.60 448.00,64.02 460.67,65.19 473.83,55.98 485.50,45.98" fill="none" stroke="#3a52b8" stroke-width="1.6"/>
<line x1="408.90" y1="20.70" x2="408.90" y2="79.50" stroke="#555" stroke-width="0.8"/>
<line x1="406.70" y1="79.50" x2="408.90" y2="79.50" stroke="#555" stroke-width="0.8"/>
<line x1="406.70" y1="69.70" x2="408.90" y2="69.70" stroke="#555" stroke-width="0.8"/>
<line x1="406.70" y1="59.90" x2="408.90" y2="59.90" stroke="#555" stroke-width="0.8"/>
<line x1="406.70" y1="50.10" x2="408.90" y2="50.10" stroke="#555" stroke-width="0.8"/>
<line x1="406.70" y1="40.30" x2="408.90" y2="40.30" stroke="#555" stroke-width="0.8"/>
<line x1="406.70" y1="30.50" x2="408.90" y2="30.50" stroke="#555" stroke-width="0.8"/>
<line x1="406.70" y1="20.70" x2="408.90" y2="20.70" stroke="#555" stroke-width="0.8"/>
<text x="0" y="0" transform="translate(404.30,20.70) scale(1,1.080) rotate(-90)" font-size="5.6" text-anchor="middle" fill="#444">1.5</text>
<text x="0" y="0" transform="translate(404.30,40.30) scale(1,1.080) rotate(-90)" font-size="5.6" text-anchor="middle" fill="#444">0.5</text>
<text x="0" y="0" transform="translate(404.30,59.90) scale(1,1.080) rotate(-90)" font-size="5.6" text-anchor="middle" fill="#444">−0.5</text>
<text x="0" y="0" transform="translate(404.30,79.50) scale(1,1.080) rotate(-90)" font-size="5.6" text-anchor="middle" fill="#444">−1.5</text>
<line x1="411.00" y1="81.60" x2="485.50" y2="81.60" stroke="#555" stroke-width="0.8"/>
<line x1="411.00" y1="81.60" x2="411.00" y2="84.80" stroke="#555" stroke-width="0.9"/>
<text transform="translate(413.80,93.6) scale(1,1.080)" font-size="5.45" text-anchor="middle" fill="#333">Asymptomatic</text>
<line x1="435.83" y1="81.60" x2="435.83" y2="84.80" stroke="#555" stroke-width="0.9"/>
<text transform="translate(440.03,93.6) scale(1,1.080)" font-size="5.45" text-anchor="middle" fill="#333">Mild</text>
<line x1="460.67" y1="81.60" x2="460.67" y2="84.80" stroke="#555" stroke-width="0.9"/>
<text transform="translate(460.67,93.6) scale(1,1.080)" font-size="5.45" text-anchor="middle" fill="#333">Severe</text>
<line x1="485.50" y1="81.60" x2="485.50" y2="84.80" stroke="#555" stroke-width="0.9"/>
<text transform="translate(482.40,93.6) scale(1,1.080)" font-size="5.45" text-anchor="middle" fill="#333">Critical</text>
<text transform="translate(447.00,8.4) scale(1,1.080)" font-size="7.3" text-anchor="middle" fill="#222">C4 (U Shape)</text>
<polygon points="508.50,36.68 523.32,32.18 533.20,21.59 544.32,33.55 557.90,29.82 572.72,41.58 582.60,34.72 582.60,74.12 572.72,67.26 557.90,77.26 544.32,57.46 533.20,41.00 523.32,56.48 508.50,79.61" fill="#eaef9a"/>
<polygon points="508.50,37.69 523.32,32.34 533.20,21.65 544.32,33.60 557.90,30.58 572.72,41.97 582.60,35.76 582.60,73.87 572.72,67.05 557.90,76.35 544.32,56.75 533.20,40.55 523.32,56.04 508.50,79.21" fill="#e1ea86"/>
<polygon points="508.50,38.69 523.32,32.50 533.20,21.70 544.32,33.65 557.90,31.33 572.72,42.35 582.60,36.79 582.60,73.62 572.72,66.84 557.90,75.45 544.32,56.04 533.20,40.10 523.32,55.61 508.50,78.80" fill="#d7e670"/>
<polygon points="508.50,39.69 523.32,32.66 533.20,21.75 544.32,33.70 557.90,32.08 572.72,42.73 582.60,37.83 582.60,73.36 572.72,66.63 557.90,74.54 544.32,55.34 533.20,39.66 523.32,55.17 508.50,78.40" fill="#cce15e"/>
<polygon points="508.50,40.69 523.32,32.82 533.20,21.81 544.32,33.75 557.90,32.83 572.72,43.11 582.60,38.86 582.60,73.11 572.72,66.42 557.90,73.64 544.32,54.63 533.20,39.21 523.32,54.74 508.50,78.00" fill="#c1dd51"/>
<polygon points="508.50,41.69 523.32,32.98 533.20,21.86 544.32,33.80 557.90,33.58 572.72,43.49 582.60,39.90 582.60,72.86 572.72,66.20 557.90,72.74 544.32,53.92 533.20,38.76 523.32,54.30 508.50,77.59" fill="#b4d844"/>
<polygon points="508.50,42.69 523.32,33.14 533.20,21.91 544.32,33.85 557.90,34.33 572.72,43.87 582.60,40.93 582.60,72.61 572.72,65.99 557.90,71.83 544.32,53.21 533.20,38.32 523.32,53.87 508.50,77.19" fill="#a9d537"/>
<polygon points="508.50,43.70 523.32,33.31 533.20,21.97 544.32,33.90 557.90,35.08 572.72,44.25 582.60,41.97 582.60,72.35 572.72,65.78 557.90,70.93 544.32,52.51 533.20,37.87 523.32,53.43 508.50,76.79" fill="#a0d12f"/>
<polygon points="508.50,44.70 523.32,33.47 533.20,22.02 544.32,33.95 557.90,35.83 572.72,44.63 582.60,43.00 582.60,72.10 572.72,65.57 557.90,70.03 544.32,51.80 533.20,37.42 523.32,53.00 508.50,76.38" fill="#96cd25"/>
<polygon points="508.50,45.70 523.32,33.63 533.20,22.08 544.32,33.99 557.90,36.59 572.72,45.01 582.60,44.03 582.60,71.85 572.72,65.36 557.90,69.12 544.32,51.09 533.20,36.98 523.32,52.56 508.50,75.98" fill="#8cca1b"/>
<polygon points="508.50,46.70 523.32,33.79 533.20,22.13 544.32,34.04 557.90,37.34 572.72,45.40 582.60,45.07 582.60,71.60 572.72,65.15 557.90,68.22 544.32,50.38 533.20,36.53 523.32,52.12 508.50,75.58" fill="#86c81a"/>
<polygon points="508.50,47.70 523.32,33.95 533.20,22.18 544.32,34.09 557.90,38.09 572.72,45.78 582.60,46.10 582.60,71.34 572.72,64.94 557.90,67.31 544.32,49.67 533.20,36.09 523.32,51.69 508.50,75.18" fill="#86c91e"/>
<polygon points="508.50,48.71 523.32,34.11 533.20,22.24 544.32,34.14 557.90,38.84 572.72,46.16 582.60,47.14 582.60,71.09 572.72,64.73 557.90,66.41 544.32,48.97 533.20,35.64 523.32,51.25 508.50,74.77" fill="#85c921"/>
<polygon points="508.50,49.71 523.32,34.27 533.20,22.29 544.32,34.19 557.90,39.59 572.72,46.54 582.60,48.17 582.60,70.84 572.72,64.52 557.90,65.51 544.32,48.26 533.20,35.19 523.32,50.82 508.50,74.37" fill="#85ca25"/>
<polygon points="508.50,50.71 523.32,34.44 533.20,22.35 544.32,34.24 557.90,40.34 572.72,46.92 582.60,49.21 582.60,70.59 572.72,64.31 557.90,64.60 544.32,47.55 533.20,34.75 523.32,50.38 508.50,73.97" fill="#85cb28"/>
<polygon points="508.50,51.71 523.32,34.60 533.20,22.40 544.32,34.29 557.90,41.09 572.72,47.30 582.60,50.24 582.60,70.33 572.72,64.09 557.90,63.70 544.32,46.84 533.20,34.30 523.32,49.95 508.50,73.56" fill="#84cb2c"/>
<polygon points="508.50,52.71 523.32,34.76 533.20,22.45 544.32,34.34 557.90,41.85 572.72,47.68 582.60,51.28 582.60,70.08 572.72,63.88 557.90,62.80 544.32,46.14 533.20,33.85 523.32,49.51 508.50,73.16" fill="#84cc2f"/>
<polygon points="508.50,53.71 523.32,34.92 533.20,22.51 544.32,34.39 557.90,42.60 572.72,48.06 582.60,52.31 582.60,69.83 572.72,63.67 557.90,61.89 544.32,45.43 533.20,33.41 523.32,49.08 508.50,72.76" fill="#80ca3e"/>
<polygon points="508.50,54.72 523.32,35.08 533.20,22.56 544.32,34.44 557.90,43.35 572.72,48.44 582.60,53.34 582.60,69.58 572.72,63.46 557.90,60.99 544.32,44.72 533.20,32.96 523.32,48.64 508.50,72.36" fill="#86dcc8"/>
<polygon points="508.50,55.45 523.32,35.48 533.20,22.69 544.32,34.56 557.90,44.08 572.72,49.18 582.60,54.08 582.60,68.96 572.72,62.95 557.90,60.25 544.32,43.98 533.20,32.22 523.32,47.91 508.50,71.62" fill="#80d9db"/>
<polygon points="508.50,56.19 523.32,35.87 533.20,22.82 544.32,34.68 557.90,44.82 572.72,49.91 582.60,54.81 582.60,68.34 572.72,62.43 557.90,59.52 544.32,43.25 533.20,31.49 523.32,47.17 508.50,70.89" fill="#6bc4e0"/>
<polygon points="508.50,56.92 523.32,36.27 533.20,22.96 544.32,34.81 557.90,45.55 572.72,50.65 582.60,55.55 582.60,67.72 572.72,61.91 557.90,58.78 544.32,42.52 533.20,30.75 523.32,46.44 508.50,70.15" fill="#4aa0d8"/>
<polygon points="508.50,57.66 523.32,36.66 533.20,23.09 544.32,34.93 557.90,46.29 572.72,51.38 582.60,56.28 582.60,67.11 572.72,61.40 557.90,58.05 544.32,41.78 533.20,30.02 523.32,45.70 508.50,69.42" fill="#4178c8"/>
<polygon points="508.50,58.39 523.32,37.06 533.20,23.22 544.32,35.05 557.90,47.02 572.72,52.12 582.60,57.02 582.60,66.49 572.72,60.88 557.90,57.31 544.32,41.05 533.20,29.28 523.32,44.96 508.50,68.68" fill="#3a57bb"/>
<polygon points="508.50,59.13 523.32,37.45 533.20,23.35 544.32,35.17 557.90,47.76 572.72,52.85 582.60,57.75 582.60,65.87 572.72,60.36 557.90,56.58 544.32,40.31 533.20,28.55 523.32,44.23 508.50,67.95" fill="#3a50b8"/>
<polygon points="508.50,59.86 523.32,37.85 533.20,23.48 544.32,35.29 557.90,48.49 572.72,53.59 582.60,58.49 582.60,65.25 572.72,59.85 557.90,55.84 544.32,39.58 533.20,27.81 523.32,43.49 508.50,67.21" fill="#3a4ab5"/>
<polygon points="508.50,60.60 523.32,38.24 533.20,23.61 544.32,35.41 557.90,49.23 572.72,54.32 582.60,59.22 582.60,64.63 572.72,59.33 557.90,55.11 544.32,38.84 533.20,27.08 523.32,42.76 508.50,66.48" fill="#3c46b1"/>
<polygon points="508.50,61.33 523.32,38.64 533.20,23.75 544.32,35.54 557.90,49.96 572.72,55.06 582.60,59.96 582.60,64.02 572.72,58.81 557.90,54.37 544.32,38.11 533.20,26.34 523.32,42.02 508.50,65.74" fill="#3845b0"/>
<polygon points="508.50,62.07 523.32,39.03 533.20,23.88 544.32,35.66 557.90,50.70 572.72,55.79 582.60,60.69 582.60,63.40 572.72,58.30 557.90,53.64 544.32,37.37 533.20,25.61 523.32,41.29 508.50,65.01" fill="#3148b0"/>
<polygon points="508.50,62.80 523.32,39.43 533.20,24.01 544.32,35.78 557.90,51.43 572.72,56.53 582.60,61.43 582.60,62.78 572.72,57.78 557.90,52.90 544.32,36.63 533.20,24.88 523.32,40.55 508.50,64.27" fill="#3048b0"/>
<polyline points="508.50,63.54 523.32,39.82 533.20,24.14 544.32,35.90 557.90,52.17 572.72,57.26 582.60,62.16" fill="none" stroke="#3048b0" stroke-width="1.6"/>
<line x1="505.80" y1="21.20" x2="505.80" y2="80.00" stroke="#555" stroke-width="0.8"/>
<line x1="503.60" y1="80.00" x2="505.80" y2="80.00" stroke="#555" stroke-width="0.8"/>
<line x1="503.60" y1="70.20" x2="505.80" y2="70.20" stroke="#555" stroke-width="0.8"/>
<line x1="503.60" y1="60.40" x2="505.80" y2="60.40" stroke="#555" stroke-width="0.8"/>
<line x1="503.60" y1="50.60" x2="505.80" y2="50.60" stroke="#555" stroke-width="0.8"/>
<line x1="503.60" y1="40.80" x2="505.80" y2="40.80" stroke="#555" stroke-width="0.8"/>
<line x1="503.60" y1="31.00" x2="505.80" y2="31.00" stroke="#555" stroke-width="0.8"/>
<line x1="503.60" y1="21.20" x2="505.80" y2="21.20" stroke="#555" stroke-width="0.8"/>
<text x="0" y="0" transform="translate(501.20,21.20) scale(1,1.080) rotate(-90)" font-size="5.6" text-anchor="middle" fill="#444">1.5</text>
<text x="0" y="0" transform="translate(501.20,40.80) scale(1,1.080) rotate(-90)" font-size="5.6" text-anchor="middle" fill="#444">0.5</text>
<text x="0" y="0" transform="translate(501.20,60.40) scale(1,1.080) rotate(-90)" font-size="5.6" text-anchor="middle" fill="#444">−0.5</text>
<text x="0" y="0" transform="translate(501.20,80.00) scale(1,1.080) rotate(-90)" font-size="5.6" text-anchor="middle" fill="#444">−1.5</text>
<line x1="508.50" y1="81.60" x2="582.60" y2="81.60" stroke="#555" stroke-width="0.8"/>
<line x1="508.50" y1="81.60" x2="508.50" y2="84.80" stroke="#555" stroke-width="0.9"/>
<text transform="translate(511.30,93.6) scale(1,1.080)" font-size="5.45" text-anchor="middle" fill="#333">Asymptomatic</text>
<line x1="533.20" y1="81.60" x2="533.20" y2="84.80" stroke="#555" stroke-width="0.9"/>
<text transform="translate(537.40,93.6) scale(1,1.080)" font-size="5.45" text-anchor="middle" fill="#333">Mild</text>
<line x1="557.90" y1="81.60" x2="557.90" y2="84.80" stroke="#555" stroke-width="0.9"/>
<text transform="translate(557.90,93.6) scale(1,1.080)" font-size="5.45" text-anchor="middle" fill="#333">Severe</text>
<line x1="582.60" y1="81.60" x2="582.60" y2="84.80" stroke="#555" stroke-width="0.9"/>
<text transform="translate(579.50,93.6) scale(1,1.080)" font-size="5.45" text-anchor="middle" fill="#333">Critical</text>
<text transform="translate(545.00,8.4) scale(1,1.080)" font-size="7.3" text-anchor="middle" fill="#222">C5 (Mild Specific)</text>
<polygon points="605.40,34.64 617.82,52.48 630.23,38.95 645.13,33.27 655.07,21.51 679.90,40.72 679.90,72.86 655.07,35.23 645.13,53.06 630.23,79.92 617.82,67.37 605.40,79.13" fill="#eaef9a"/>
<polygon points="605.40,35.75 617.82,52.66 630.23,39.79 645.13,33.37 655.07,21.53 679.90,41.38 679.90,72.54 655.07,34.93 645.13,52.64 630.23,79.28 617.82,67.24 605.40,78.58" fill="#e1ea86"/>
<polygon points="605.40,36.86 617.82,52.84 630.23,40.63 645.13,33.47 655.07,21.56 679.90,42.04 679.90,72.23 655.07,34.64 645.13,52.21 630.23,78.65 617.82,67.11 605.40,78.02" fill="#d7e670"/>
<polygon points="605.40,37.97 617.82,53.02 630.23,41.47 645.13,33.58 655.07,21.58 679.90,42.71 679.90,71.91 655.07,34.35 645.13,51.79 630.23,78.02 617.82,66.97 605.40,77.47" fill="#cce15e"/>
<polygon points="605.40,39.08 617.82,53.20 630.23,42.31 645.13,33.68 655.07,21.61 679.90,43.37 679.90,71.60 655.07,34.05 645.13,51.37 630.23,77.39 617.82,66.84 605.40,76.91" fill="#c1dd51"/>
<polygon points="605.40,40.19 617.82,53.39 630.23,43.14 645.13,33.79 655.07,21.63 679.90,44.04 679.90,71.28 655.07,33.76 645.13,50.94 630.23,76.76 617.82,66.71 605.40,76.36" fill="#b4d844"/>
<polygon points="605.40,41.30 617.82,53.57 630.23,43.98 645.13,33.89 655.07,21.66 679.90,44.70 679.90,70.97 655.07,33.46 645.13,50.52 630.23,76.13 617.82,66.58 605.40,75.80" fill="#a9d537"/>
<polygon points="605.40,42.41 617.82,53.75 630.23,44.82 645.13,33.99 655.07,21.68 679.90,45.37 679.90,70.65 655.07,33.17 645.13,50.09 630.23,75.50 617.82,66.45 605.40,75.24" fill="#a0d12f"/>
<polygon points="605.40,43.53 617.82,53.93 630.23,45.66 645.13,34.10 655.07,21.71 679.90,46.03 679.90,70.33 655.07,32.88 645.13,49.67 630.23,74.86 617.82,66.31 605.40,74.69" fill="#96cd25"/>
<polygon points="605.40,44.64 617.82,54.11 630.23,46.50 645.13,34.20 655.07,21.73 679.90,46.69 679.90,70.02 655.07,32.58 645.13,49.24 630.23,74.23 617.82,66.18 605.40,74.13" fill="#8cca1b"/>
<polygon points="605.40,45.75 617.82,54.30 630.23,47.34 645.13,34.30 655.07,21.76 679.90,47.36 679.90,69.70 655.07,32.29 645.13,48.82 630.23,73.60 617.82,66.05 605.40,73.58" fill="#86c81a"/>
<polygon points="605.40,46.86 617.82,54.48 630.23,48.17 645.13,34.41 655.07,21.78 679.90,48.02 679.90,69.39 655.07,31.99 645.13,48.39 630.23,72.97 617.82,65.92 605.40,73.02" fill="#86c91e"/>
<polygon points="605.40,47.97 617.82,54.66 630.23,49.01 645.13,34.51 655.07,21.81 679.90,48.69 679.90,69.07 655.07,31.70 645.13,47.97 630.23,72.34 617.82,65.78 605.40,72.47" fill="#85c921"/>
<polygon points="605.40,49.08 617.82,54.84 630.23,49.85 645.13,34.61 655.07,21.83 679.90,49.35 679.90,68.75 655.07,31.41 645.13,47.54 630.23,71.71 617.82,65.65 605.40,71.91" fill="#85ca25"/>
<polygon points="605.40,50.19 617.82,55.02 630.23,50.69 645.13,34.72 655.07,21.86 679.90,50.02 679.90,68.44 655.07,31.11 645.13,47.12 630.23,71.07 617.82,65.52 605.40,71.36" fill="#85cb28"/>
<polygon points="605.40,51.30 617.82,55.21 630.23,51.53 645.13,34.82 655.07,21.88 679.90,50.68 679.90,68.12 655.07,30.82 645.13,46.69 630.23,70.44 617.82,65.39 605.40,70.80" fill="#84cb2c"/>
<polygon points="605.40,52.41 617.82,55.39 630.23,52.37 645.13,34.92 655.07,21.91 679.90,51.34 679.90,67.81 655.07,30.52 645.13,46.27 630.23,69.81 617.82,65.25 605.40,70.25" fill="#84cc2f"/>
<polygon points="605.40,53.52 617.82,55.57 630.23,53.21 645.13,35.03 655.07,21.93 679.90,52.01 679.90,67.49 655.07,30.23 645.13,45.84 630.23,69.18 617.82,65.12 605.40,69.69" fill="#80ca3e"/>
<polygon points="605.40,54.63 617.82,55.75 630.23,54.04 645.13,35.13 655.07,21.95 679.90,52.67 679.90,67.18 655.07,29.94 645.13,45.42 630.23,68.55 617.82,64.99 605.40,69.14" fill="#86dcc8"/>
<polygon points="605.40,55.24 617.82,56.20 630.23,54.65 645.13,35.38 655.07,22.02 679.90,53.28 679.90,66.57 655.07,29.33 645.13,44.82 630.23,67.94 617.82,64.66 605.40,68.53" fill="#80d9db"/>
<polygon points="605.40,55.84 617.82,56.64 630.23,55.25 645.13,35.64 655.07,22.08 679.90,53.88 679.90,65.97 655.07,28.73 645.13,44.21 630.23,67.34 617.82,64.34 605.40,67.93" fill="#6bc4e0"/>
<polygon points="605.40,56.45 617.82,57.09 630.23,55.86 645.13,35.89 655.07,22.14 679.90,54.48 679.90,65.36 655.07,28.12 645.13,43.61 630.23,66.73 617.82,64.02 605.40,67.32" fill="#4aa0d8"/>
<polygon points="605.40,57.05 617.82,57.54 630.23,56.46 645.13,36.14 655.07,22.20 679.90,55.09 679.90,64.76 655.07,27.52 645.13,43.00 630.23,66.13 617.82,63.69 605.40,66.72" fill="#4178c8"/>
<polygon points="605.40,57.65 617.82,57.98 630.23,57.07 645.13,36.40 655.07,22.26 679.90,55.69 679.90,64.15 655.07,26.91 645.13,42.40 630.23,65.53 617.82,63.37 605.40,66.11" fill="#3a57bb"/>
<polygon points="605.40,58.26 617.82,58.43 630.23,57.67 645.13,36.65 655.07,22.32 679.90,56.30 679.90,63.55 655.07,26.31 645.13,41.79 630.23,64.92 617.82,63.04 605.40,65.51" fill="#3a50b8"/>
<polygon points="605.40,58.86 617.82,58.87 630.23,58.27 645.13,36.90 655.07,22.38 679.90,56.90 679.90,62.95 655.07,25.71 645.13,41.19 630.23,64.32 617.82,62.72 605.40,64.91" fill="#3a4ab5"/>
<polygon points="605.40,59.47 617.82,59.32 630.23,58.88 645.13,37.16 655.07,22.44 679.90,57.51 679.90,62.34 655.07,25.10 645.13,40.59 630.23,63.71 617.82,62.40 605.40,64.30" fill="#3c46b1"/>
<polygon points="605.40,60.07 617.82,59.76 630.23,59.48 645.13,37.41 655.07,22.50 679.90,58.11 679.90,61.74 655.07,24.50 645.13,39.98 630.23,63.11 617.82,62.07 605.40,63.70" fill="#5e41b7"/>
<polygon points="605.40,60.68 617.82,60.21 630.23,60.09 645.13,37.66 655.07,22.56 679.90,58.72 679.90,61.13 655.07,23.89 645.13,39.38 630.23,62.50 617.82,61.75 605.40,63.09" fill="#963cc3"/>
<polygon points="605.40,61.28 617.82,60.65 630.23,60.69 645.13,37.91 655.07,22.62 679.90,59.32 679.90,60.53 655.07,23.29 645.13,38.77 630.23,61.90 617.82,61.42 605.40,62.49" fill="#9a3cc4"/>
<polyline points="605.40,61.88 617.82,61.10 630.23,61.30 645.13,38.17 655.07,22.68 679.90,59.92" fill="none" stroke="#9a3cc4" stroke-width="1.6"/>
<line x1="602.80" y1="21.90" x2="602.80" y2="80.70" stroke="#555" stroke-width="0.8"/>
<line x1="600.60" y1="80.70" x2="602.80" y2="80.70" stroke="#555" stroke-width="0.8"/>
<line x1="600.60" y1="70.90" x2="602.80" y2="70.90" stroke="#555" stroke-width="0.8"/>
<line x1="600.60" y1="61.10" x2="602.80" y2="61.10" stroke="#555" stroke-width="0.8"/>
<line x1="600.60" y1="51.30" x2="602.80" y2="51.30" stroke="#555" stroke-width="0.8"/>
<line x1="600.60" y1="41.50" x2="602.80" y2="41.50" stroke="#555" stroke-width="0.8"/>
<line x1="600.60" y1="31.70" x2="602.80" y2="31.70" stroke="#555" stroke-width="0.8"/>
<line x1="600.60" y1="21.90" x2="602.80" y2="21.90" stroke="#555" stroke-width="0.8"/>
<text x="0" y="0" transform="translate(598.20,21.90) scale(1,1.080) rotate(-90)" font-size="5.6" text-anchor="middle" fill="#444">1.5</text>
<text x="0" y="0" transform="translate(598.20,41.50) scale(1,1.080) rotate(-90)" font-size="5.6" text-anchor="middle" fill="#444">0.5</text>
<text x="0" y="0" transform="translate(598.20,61.10) scale(1,1.080) rotate(-90)" font-size="5.6" text-anchor="middle" fill="#444">−0.5</text>
<text x="0" y="0" transform="translate(598.20,80.70) scale(1,1.080) rotate(-90)" font-size="5.6" text-anchor="middle" fill="#444">−1.5</text>
<line x1="605.40" y1="81.60" x2="679.90" y2="81.60" stroke="#555" stroke-width="0.8"/>
<line x1="605.40" y1="81.60" x2="605.40" y2="84.80" stroke="#555" stroke-width="0.9"/>
<text transform="translate(608.20,93.6) scale(1,1.080)" font-size="5.45" text-anchor="middle" fill="#333">Asymptomatic</text>
<line x1="630.23" y1="81.60" x2="630.23" y2="84.80" stroke="#555" stroke-width="0.9"/>
<text transform="translate(634.43,93.6) scale(1,1.080)" font-size="5.45" text-anchor="middle" fill="#333">Mild</text>
<line x1="655.07" y1="81.60" x2="655.07" y2="84.80" stroke="#555" stroke-width="0.9"/>
<text transform="translate(655.07,93.6) scale(1,1.080)" font-size="5.45" text-anchor="middle" fill="#333">Severe</text>
<line x1="679.90" y1="81.60" x2="679.90" y2="84.80" stroke="#555" stroke-width="0.9"/>
<text transform="translate(676.80,93.6) scale(1,1.080)" font-size="5.45" text-anchor="middle" fill="#333">Critical</text>
<text transform="translate(643.00,8.4) scale(1,1.080)" font-size="7.3" text-anchor="middle" fill="#222">C2 (Severe Specific)</text>
<text transform="translate(0.4,8.1) scale(1,1.080)" font-size="12.4" font-weight="bold" fill="#000">a</text>
<g transform="translate(11.600,113.100) scale(1.79603,4.63000)" fill="none" stroke-width="1.02">
<path stroke="#e8e2f3" d="M0 0.5h1M6 0.5h1M11 0.5h1M20 0.5h1M22 0.5h1M27 0.5h1M35 0.5h1M37 0.5h1M42 0.5h2M47 0.5h1M52 0.5h1M59 0.5h1M67 0.5h1M72 0.5h1M74 0.5h1M77 0.5h1M83 0.5h1M86 0.5h2M90 0.5h1M93 0.5h1M126 0.5h1M144 0.5h1M0 1.5h2M5 1.5h1M9 1.5h3M13 1.5h1M15 1.5h1M22 1.5h1M24 1.5h1M27 1.5h1M29 1.5h2M33 1.5h4M39 1.5h1M41 1.5h2M45 1.5h1M48 1.5h2M101 1.5h2M105 1.5h1M107 1.5h3M111 1.5h5M117 1.5h1M119 1.5h4M124 1.5h5M130 1.5h2M143 1.5h2M1 2.5h2M6 2.5h1M8 2.5h1M10 2.5h2M14 2.5h1M16 2.5h1M20 2.5h1M24 2.5h1M28 2.5h1M31 2.5h1M35 2.5h1M45 2.5h1M66 2.5h1M68 2.5h1M71 2.5h1M78 2.5h1M95 2.5h1M107 2.5h2M120 2.5h1M123 2.5h1M125 2.5h1M127 2.5h1M130 2.5h2M134 2.5h1M0 3.5h2M3 3.5h1M10 3.5h2M13 3.5h2M22 3.5h3M28 3.5h2M31 3.5h2M34 3.5h3M45 3.5h1M54 3.5h1M58 3.5h1M62 3.5h1M66 3.5h1M68 3.5h1M71 3.5h1M75 3.5h2M83 3.5h1M85 3.5h1M97 3.5h1M102 3.5h1M112 3.5h2M115 3.5h2M118 3.5h5M124 3.5h1M127 3.5h2M131 3.5h1M143 3.5h1M7 4.5h1M15 4.5h1M50 4.5h4M57 4.5h3M61 4.5h5M68 4.5h1M71 4.5h1M73 4.5h2M76 4.5h2M79 4.5h4M85 4.5h2M89 4.5h2M95 4.5h1M99 4.5h1M101 4.5h3M107 4.5h1M109 4.5h3M115 4.5h2M118 4.5h2M121 4.5h3M126 4.5h4M144 4.5h1M2 5.5h1M6 5.5h1M10 5.5h1M13 5.5h1M21 5.5h1M26 5.5h2M29 5.5h1M33 5.5h1M35 5.5h1M39 5.5h1M42 5.5h1M45 5.5h1M47 5.5h1M87 5.5h2M98 5.5h1M101 5.5h2M104 5.5h2M107 5.5h1M109 5.5h1M111 5.5h1M113 5.5h2M117 5.5h4M123 5.5h1M125 5.5h1M127 5.5h3M131 5.5h1M144 5.5h1M3 6.5h1M7 6.5h1M12 6.5h3M16 6.5h3M22 6.5h1M25 6.5h1M31 6.5h1M37 6.5h2M46 6.5h2M49 6.5h1M59 6.5h1M64 6.5h2M67 6.5h3M72 6.5h1M76 6.5h1M91 6.5h1M93 6.5h1M95 6.5h1M99 6.5h1M104 6.5h2M111 6.5h1M128 6.5h1M144 6.5h1M0 7.5h1M3 7.5h1M5 7.5h4M10 7.5h1M12 7.5h2M21 7.5h7M32 7.5h1M39 7.5h1M41 7.5h1M44 7.5h2M50 7.5h1M55 7.5h2M59 7.5h2M65 7.5h1M73 7.5h2M84 7.5h1M86 7.5h1M88 7.5h1M90 7.5h1M107 7.5h1M111 7.5h2M114 7.5h1M117 7.5h1M127 7.5h1M143 7.5h2M3 8.5h1M9 8.5h1M11 8.5h1M13 8.5h1M18 8.5h1M21 8.5h1M28 8.5h1M32 8.5h1M57 8.5h1M59 8.5h1M62 8.5h2M68 8.5h1M91 8.5h1M95 8.5h1M103 8.5h1M106 8.5h2M110 8.5h2M114 8.5h1M120 8.5h2M126 8.5h1M129 8.5h2M10 9.5h1M34 9.5h1M50 9.5h2M53 9.5h1M55 9.5h1M57 9.5h1M60 9.5h3M71 9.5h1M75 9.5h1M77 9.5h2M81 9.5h2M85 9.5h1M87 9.5h1M92 9.5h1M95 9.5h1M104 9.5h1M127 9.5h1M134 9.5h1M143 9.5h2M7 10.5h1M10 10.5h1M45 10.5h1M51 10.5h1M53 10.5h1M60 10.5h2M64 10.5h1M66 10.5h2M70 10.5h2M74 10.5h1M76 10.5h1M83 10.5h1M87 10.5h1M93 10.5h1M97 10.5h2M101 10.5h2M104 10.5h2M107 10.5h2M111 10.5h1M113 10.5h1M118 10.5h4M124 10.5h1M128 10.5h1M130 10.5h2M22 11.5h1M29 11.5h1M39 11.5h1M41 11.5h2M56 11.5h1M60 11.5h1M69 11.5h3M74 11.5h1M78 11.5h1M80 11.5h1M87 11.5h1M91 11.5h2M100 11.5h1M102 11.5h6M111 11.5h1M113 11.5h1M116 11.5h2M120 11.5h1M122 11.5h1M124 11.5h5M134 11.5h1M139 11.5h1M143 11.5h2M4 12.5h3M8 12.5h1M18 12.5h4M23 12.5h1M26 12.5h1M30 12.5h1M34 12.5h1M36 12.5h1M40 12.5h2M44 12.5h1M47 12.5h1M49 12.5h1M52 12.5h1M58 12.5h1M60 12.5h1M62 12.5h1M64 12.5h1M67 12.5h1M69 12.5h1M71 12.5h1M73 12.5h2M83 12.5h2M86 12.5h1M90 12.5h4M95 12.5h1M100 12.5h1M102 12.5h1M106 12.5h1M108 12.5h1M117 12.5h1M127 12.5h1M143 12.5h1M0 13.5h1M2 13.5h1M5 13.5h1M7 13.5h3M13 13.5h2M16 13.5h1M19 13.5h2M28 13.5h1M32 13.5h3M36 13.5h1M39 13.5h1M41 13.5h2M45 13.5h1M49 13.5h1M51 13.5h1M57 13.5h1M61 13.5h1M70 13.5h2M82 13.5h2M85 13.5h1M87 13.5h1M99 13.5h1M102 13.5h1M104 13.5h1M110 13.5h1M113 13.5h3M119 13.5h1M121 13.5h2M124 13.5h2M130 13.5h2M134 13.5h1M143 13.5h1M6 14.5h1M10 14.5h1M14 14.5h1M21 14.5h2M27 14.5h2M31 14.5h1M33 14.5h1M42 14.5h1M44 14.5h1M50 14.5h1M52 14.5h1M55 14.5h1M58 14.5h2M62 14.5h5M68 14.5h1M76 14.5h1M81 14.5h1M83 14.5h1M89 14.5h1M94 14.5h1M99 14.5h1M101 14.5h1M107 14.5h2M111 14.5h1M119 14.5h1M124 14.5h2M127 14.5h2M131 14.5h1M134 14.5h1M143 14.5h2M9 15.5h2M16 15.5h3M20 15.5h1M27 15.5h2M30 15.5h5M39 15.5h1M42 15.5h1M47 15.5h2M56 15.5h1M58 15.5h1M65 15.5h1M70 15.5h1M80 15.5h1M82 15.5h1M84 15.5h1M87 15.5h1M95 15.5h1M103 15.5h1M109 15.5h2M114 15.5h1M116 15.5h1M118 15.5h1M121 15.5h1M124 15.5h4M130 15.5h2M18 16.5h1M50 16.5h1M52 16.5h1M59 16.5h1M61 16.5h1M64 16.5h1M67 16.5h3M72 16.5h3M76 16.5h1M82 16.5h1M87 16.5h1M91 16.5h1M96 16.5h3M101 16.5h1M106 16.5h2M109 16.5h1M114 16.5h1M116 16.5h2M120 16.5h3M125 16.5h3M130 16.5h2M134 16.5h1M144 16.5h1M0 17.5h2M4 17.5h1M7 17.5h1M9 17.5h3M19 17.5h1M21 17.5h2M24 17.5h1M30 17.5h3M36 17.5h1M39 17.5h1M43 17.5h1M45 17.5h1M47 17.5h3M55 17.5h1M57 17.5h1M61 17.5h1M65 17.5h2M73 17.5h1M75 17.5h1M78 17.5h1M80 17.5h4M87 17.5h1M92 17.5h1M94 17.5h1M99 17.5h2M102 17.5h2M109 17.5h2M116 17.5h1M121 17.5h1M126 17.5h1M129 17.5h1M134 17.5h1M139 17.5h1M143 17.5h1M0 18.5h2M3 18.5h1M5 18.5h1M7 18.5h2M12 18.5h1M14 18.5h2M18 18.5h1M24 18.5h1M29 18.5h1M34 18.5h4M43 18.5h1M48 18.5h1M51 18.5h1M54 18.5h1M56 18.5h2M61 18.5h2M65 18.5h1M69 18.5h2M78 18.5h3M82 18.5h1M84 18.5h3M88 18.5h1M92 18.5h1M95 18.5h1M99 18.5h1M105 18.5h2M116 18.5h1M118 18.5h1M120 18.5h1M123 18.5h1M134 18.5h1M142 18.5h2M13 19.5h1M16 19.5h1M34 19.5h1M36 19.5h1M40 19.5h2M49 19.5h1M51 19.5h1M53 19.5h1M55 19.5h2M60 19.5h1M68 19.5h1M70 19.5h2M73 19.5h1M77 19.5h3M88 19.5h1M90 19.5h2M95 19.5h1M98 19.5h1M100 19.5h1M0 20.5h3M4 20.5h2M7 20.5h3M11 20.5h1M16 20.5h1M18 20.5h4M26 20.5h5M33 20.5h2M36 20.5h1M41 20.5h1M44 20.5h1M48 20.5h1M52 20.5h1M55 20.5h2M58 20.5h1M60 20.5h1M62 20.5h1M66 20.5h1M68 20.5h5M75 20.5h1M77 20.5h2M80 20.5h2M85 20.5h1M88 20.5h3M92 20.5h1M94 20.5h1M96 20.5h2M100 20.5h1M102 20.5h1M105 20.5h2M108 20.5h4M113 20.5h3M119 20.5h2M124 20.5h1M126 20.5h1M130 20.5h2M134 20.5h1M143 20.5h1M102 21.5h1M104 21.5h2M107 21.5h3M111 21.5h5M117 21.5h1M119 21.5h3M123 21.5h7M131 21.5h1M1 22.5h1M3 22.5h3M12 22.5h1M16 22.5h3M21 22.5h1M23 22.5h1M26 22.5h3M31 22.5h2M34 22.5h3M38 22.5h1M55 22.5h1M57 22.5h1M60 22.5h1M70 22.5h1M74 22.5h1M77 22.5h1M85 22.5h1M99 22.5h1M122 22.5h1M124 22.5h1M129 22.5h1M134 22.5h1M142 22.5h1M9 23.5h1M11 23.5h1M25 23.5h1M28 23.5h1M34 23.5h2M37 23.5h1M82 23.5h1M87 23.5h1M101 23.5h2M105 23.5h1M110 23.5h5M117 23.5h1M121 23.5h2M125 23.5h2M0 24.5h3M7 24.5h1M9 24.5h1M11 24.5h1M13 24.5h3M18 24.5h3M27 24.5h2M30 24.5h1M32 24.5h1M34 24.5h2M37 24.5h1M67 24.5h1M101 24.5h1M107 24.5h1M109 24.5h3M114 24.5h1M116 24.5h1M121 24.5h1M124 24.5h2M129 24.5h1M131 24.5h1M134 24.5h1M139 24.5h1M3 25.5h1M5 25.5h1M12 25.5h1M15 25.5h1M18 25.5h1M25 25.5h1M32 25.5h2M87 25.5h1M102 25.5h1M104 25.5h1M109 25.5h1M113 25.5h1M120 25.5h2M124 25.5h1M129 25.5h1M131 25.5h1M0 26.5h1M3 26.5h2M6 26.5h3M11 26.5h2M15 26.5h3M22 26.5h1M26 26.5h2M30 26.5h3M36 26.5h2M39 26.5h1M45 26.5h1M55 26.5h1M62 26.5h1M82 26.5h2M97 26.5h1M109 26.5h1M112 26.5h1M127 26.5h1M129 26.5h1M134 26.5h1M11 27.5h1M14 27.5h1M44 27.5h1M46 27.5h1M48 27.5h1M50 27.5h1M52 27.5h1M55 27.5h1M58 27.5h1M61 27.5h1M65 27.5h1M69 27.5h1M71 27.5h1M75 27.5h1M77 27.5h1M82 27.5h1M85 27.5h1M89 27.5h1M95 27.5h1M98 27.5h1M100 27.5h2M103 27.5h1M105 27.5h1M107 27.5h1M109 27.5h1M125 27.5h1M139 27.5h1M42 28.5h1M45 28.5h1M47 28.5h1M53 28.5h1M59 28.5h1M64 28.5h1M66 28.5h2M72 28.5h3M79 28.5h1M84 28.5h1M87 28.5h1M90 28.5h1M100 28.5h1M104 28.5h1M112 28.5h4M119 28.5h1M122 28.5h1M125 28.5h1M128 28.5h1M134 28.5h1M139 28.5h1M142 28.5h1M45 29.5h1M59 29.5h2M74 29.5h1M77 29.5h1M83 29.5h1M85 29.5h1M87 29.5h2M101 29.5h2M107 29.5h1M109 29.5h1M112 29.5h1M114 29.5h1M121 29.5h2M126 29.5h1M134 29.5h1M139 29.5h1M142 29.5h1M41 30.5h1M43 30.5h1M45 30.5h1M47 30.5h1M49 30.5h1M54 30.5h2M57 30.5h2M62 30.5h1M64 30.5h1M70 30.5h1M74 30.5h1M77 30.5h2M82 30.5h1M86 30.5h1M91 30.5h1M93 30.5h1M99 30.5h2M102 30.5h1M115 30.5h1M119 30.5h1M128 30.5h1M134 30.5h1M139 30.5h1M142 30.5h1M2 31.5h1M5 31.5h2M9 31.5h1M15 31.5h1M17 31.5h1M19 31.5h2M23 31.5h3M33 31.5h1M36 31.5h2M42 31.5h1M45 31.5h1M49 31.5h1M51 31.5h1M53 31.5h1M58 31.5h2M70 31.5h2M75 31.5h1M77 31.5h1M79 31.5h1M83 31.5h1M92 31.5h1M95 31.5h1M99 31.5h1M101 31.5h2M104 31.5h1M107 31.5h2M111 31.5h1M114 31.5h4M120 31.5h2M123 31.5h1M125 31.5h3M143 31.5h2M0 32.5h2M7 32.5h2M10 32.5h1M14 32.5h2M24 32.5h1M27 32.5h3M31 32.5h2M43 32.5h1M45 32.5h1M47 32.5h2M54 32.5h1M56 32.5h2M61 32.5h1M70 32.5h1M74 32.5h1M78 32.5h2M83 32.5h1M87 32.5h1M89 32.5h1M92 32.5h1M100 32.5h2M110 32.5h2M114 32.5h3M119 32.5h1M121 32.5h3M131 32.5h1M144 32.5h1M2 33.5h1M25 33.5h1M29 33.5h1M42 33.5h1M52 33.5h1M55 33.5h1M57 33.5h1M61 33.5h1M63 33.5h1M68 33.5h3M75 33.5h1M81 33.5h1M86 33.5h1M90 33.5h1M92 33.5h1M96 33.5h2M99 33.5h2M122 33.5h1M134 33.5h1M143 33.5h1M1 34.5h1M3 34.5h4M10 34.5h3M14 34.5h3M19 34.5h1M22 34.5h2M25 34.5h1M28 34.5h1M30 34.5h2M34 34.5h1M38 34.5h1M41 34.5h1M43 34.5h1M49 34.5h1M55 34.5h1M58 34.5h1M61 34.5h1M64 34.5h2M70 34.5h5M76 34.5h3M84 34.5h1M89 34.5h1M91 34.5h2M95 34.5h1M98 34.5h1M100 34.5h1M110 34.5h1M114 34.5h2M121 34.5h1M123 34.5h2M126 34.5h1M131 34.5h1M139 34.5h1M143 34.5h1M4 35.5h1M11 35.5h1M13 35.5h2M17 35.5h1M25 35.5h1M27 35.5h2M34 35.5h1M39 35.5h1M44 35.5h2M55 35.5h1M57 35.5h1M61 35.5h1M67 35.5h1M70 35.5h1M74 35.5h1M82 35.5h1M88 35.5h3M93 35.5h1M95 35.5h1M98 35.5h1M103 35.5h1M114 35.5h1M117 35.5h1M126 35.5h1M134 35.5h1M142 35.5h1M3 36.5h1M7 36.5h1M11 36.5h1M13 36.5h1M22 36.5h1M25 36.5h1M27 36.5h1M34 36.5h1M37 36.5h1M39 36.5h1M42 36.5h2M48 36.5h2M57 36.5h2M61 36.5h2M65 36.5h1M68 36.5h1M72 36.5h1M75 36.5h1M77 36.5h2M83 36.5h1M85 36.5h1M88 36.5h1M91 36.5h2M94 36.5h1M102 36.5h1M106 36.5h1M110 36.5h1M116 36.5h1M127 36.5h1M131 36.5h1M144 36.5h1M0 37.5h2M5 37.5h1M7 37.5h2M10 37.5h2M15 37.5h1M19 37.5h1M21 37.5h2M24 37.5h1M29 37.5h2M35 37.5h2M39 37.5h1M45 37.5h1M47 37.5h1M51 37.5h2M60 37.5h5M67 37.5h3M72 37.5h1M75 37.5h2M78 37.5h2M81 37.5h2M84 37.5h3M95 37.5h2M101 37.5h1M103 37.5h2M106 37.5h3M111 37.5h1M114 37.5h2M124 37.5h3M129 37.5h3M142 37.5h1M10 38.5h1M17 38.5h2M23 38.5h1M26 38.5h1M32 38.5h1M38 38.5h1M43 38.5h1M46 38.5h1M51 38.5h1M54 38.5h1M56 38.5h3M60 38.5h4M67 38.5h2M72 38.5h1M75 38.5h2M79 38.5h1M81 38.5h1M83 38.5h2M87 38.5h1M95 38.5h2M98 38.5h3M104 38.5h1M111 38.5h1M119 38.5h1M143 38.5h2M7 39.5h1M14 39.5h2M20 39.5h1M25 39.5h1M29 39.5h1M31 39.5h1M33 39.5h1M52 39.5h1M54 39.5h2M58 39.5h1M61 39.5h3M71 39.5h1M74 39.5h1M77 39.5h1M80 39.5h3M86 39.5h1M88 39.5h2M93 39.5h5M99 39.5h1M116 39.5h1M144 39.5h1M1 40.5h1M4 40.5h1M7 40.5h2M10 40.5h2M13 40.5h2M16 40.5h1M20 40.5h1M24 40.5h2M28 40.5h2M32 40.5h4M41 40.5h1M43 40.5h1M45 40.5h4M51 40.5h1M56 40.5h5M64 40.5h2M67 40.5h1M69 40.5h2M77 40.5h1M81 40.5h2M84 40.5h2M87 40.5h3M94 40.5h1M98 40.5h1M100 40.5h3M106 40.5h3M110 40.5h2M113 40.5h4M118 40.5h1M121 40.5h2M124 40.5h4M129 40.5h1M131 40.5h1M143 40.5h1M0 41.5h1M6 41.5h1M8 41.5h1M18 41.5h1M20 41.5h1M22 41.5h1M25 41.5h1M28 41.5h1M30 41.5h3M34 41.5h2M38 41.5h1M40 41.5h1M42 41.5h4M49 41.5h3M57 41.5h1M65 41.5h3M72 41.5h2M77 41.5h1M79 41.5h1M81 41.5h4M89 41.5h1M92 41.5h1M97 41.5h1M100 41.5h1M102 41.5h1M120 41.5h2M126 41.5h1M128 41.5h1M130 41.5h2M134 41.5h1M139 41.5h1M143 41.5h1M8 42.5h1M11 42.5h4M18 42.5h1M21 42.5h1M25 42.5h1M30 42.5h3M34 42.5h2M38 42.5h1M47 42.5h3M78 42.5h1M101 42.5h1M105 42.5h3M109 42.5h1M111 42.5h1M118 42.5h1M120 42.5h1M124 42.5h5M131 42.5h1M134 42.5h1M142 42.5h2M1 43.5h1M5 43.5h1M15 43.5h1M20 43.5h2M23 43.5h1M26 43.5h1M28 43.5h1M33 43.5h3M37 43.5h1M48 43.5h2M54 43.5h3M59 43.5h1M61 43.5h2M65 43.5h2M69 43.5h1M71 43.5h2M78 43.5h1M80 43.5h1M86 43.5h1M88 43.5h1M92 43.5h1M94 43.5h1M99 43.5h1M102 43.5h1M110 43.5h1M112 43.5h1M114 43.5h2M119 43.5h5M126 43.5h2M129 43.5h2M2 44.5h2M7 44.5h2M14 44.5h1M21 44.5h4M28 44.5h2M32 44.5h2M38 44.5h1M43 44.5h1M46 44.5h3M57 44.5h1M72 44.5h1M74 44.5h1M82 44.5h1M87 44.5h1M98 44.5h1M100 44.5h1M102 44.5h2M106 44.5h2M109 44.5h1M111 44.5h5M125 44.5h1M127 44.5h2M130 44.5h1M134 44.5h1M144 44.5h1M3 45.5h2M7 45.5h1M12 45.5h3M17 45.5h2M20 45.5h1M22 45.5h2M25 45.5h1M30 45.5h1M32 45.5h2M35 45.5h3M40 45.5h2M46 45.5h6M53 45.5h1M59 45.5h1M65 45.5h1M77 45.5h1M81 45.5h4M88 45.5h1M92 45.5h1M94 45.5h1M97 45.5h2M100 45.5h1M112 45.5h2M129 45.5h1M134 45.5h1M139 45.5h1M142 45.5h1M53 46.5h1M55 46.5h1M57 46.5h1M66 46.5h1M71 46.5h1M75 46.5h1M77 46.5h3M82 46.5h2M88 46.5h1M91 46.5h1M100 46.5h1M104 46.5h1M106 46.5h1M109 46.5h2M112 46.5h1M114 46.5h2M117 46.5h2M121 46.5h1M123 46.5h1M126 46.5h1M134 46.5h1M1 47.5h1M24 47.5h1M51 47.5h2M54 47.5h1M61 47.5h1M64 47.5h2M67 47.5h1M74 47.5h1M83 47.5h1M95 47.5h1M98 47.5h2M101 47.5h2M104 47.5h2M108 47.5h2M111 47.5h1M121 47.5h1M124 47.5h2M128 47.5h1M131 47.5h1M3 48.5h2M6 48.5h2M13 48.5h1M15 48.5h1M18 48.5h1M21 48.5h1M23 48.5h2M28 48.5h1M31 48.5h3M35 48.5h2M38 48.5h1M40 48.5h1M42 48.5h1M56 48.5h1M60 48.5h1M87 48.5h1M96 48.5h2M102 48.5h1M104 48.5h1M113 48.5h1M116 48.5h1M119 48.5h2M122 48.5h1M124 48.5h1M127 48.5h3M143 48.5h1M0 49.5h1M3 49.5h1M5 49.5h1M17 49.5h1M20 49.5h3M24 49.5h1M27 49.5h3M35 49.5h2M38 49.5h1M40 49.5h1M44 49.5h2M49 49.5h1M51 49.5h1M53 49.5h2M56 49.5h1M59 49.5h1M62 49.5h1M64 49.5h1M66 49.5h1M72 49.5h2M75 49.5h1M79 49.5h2M85 49.5h1M90 49.5h3M94 49.5h1M96 49.5h2M99 49.5h1M105 49.5h1M116 49.5h1M121 49.5h1M129 49.5h1M1 50.5h1M9 50.5h1M11 50.5h1M13 50.5h1M15 50.5h1M23 50.5h2M31 50.5h1M35 50.5h2M40 50.5h4M47 50.5h6M57 50.5h1M62 50.5h4M71 50.5h1M78 50.5h2M82 50.5h4M89 50.5h1M91 50.5h1M94 50.5h1M104 50.5h1M107 50.5h1M134 50.5h1M139 50.5h1M5 51.5h1M7 51.5h2M11 51.5h1M13 51.5h3M22 51.5h1M27 51.5h1M31 51.5h1M41 51.5h1M44 51.5h2M61 51.5h1M80 51.5h1M83 51.5h1M104 51.5h1M108 51.5h1M117 51.5h1M124 51.5h1M126 51.5h1M134 51.5h1M143 51.5h1M1 52.5h1M6 52.5h3M10 52.5h2M13 52.5h1M15 52.5h4M20 52.5h1M22 52.5h1M28 52.5h1M38 52.5h2M42 52.5h1M47 52.5h1M55 52.5h2M60 52.5h1M62 52.5h1M65 52.5h1M67 52.5h1M70 52.5h2M76 52.5h1M80 52.5h1M85 52.5h2M90 52.5h1M96 52.5h5M107 52.5h1M112 52.5h1M115 52.5h2M119 52.5h1M134 52.5h1M0 53.5h1M2 53.5h1M4 53.5h2M7 53.5h1M9 53.5h1M16 53.5h2M27 53.5h3M31 53.5h2M35 53.5h1M37 53.5h2M48 53.5h1M53 53.5h1M57 53.5h1M64 53.5h2M68 53.5h1M71 53.5h3M76 53.5h1M79 53.5h1M81 53.5h1M83 53.5h2M86 53.5h1M93 53.5h3M99 53.5h2M103 53.5h1M105 53.5h1M111 53.5h1M113 53.5h3M118 53.5h4M123 53.5h1M128 53.5h2M131 53.5h1M143 53.5h1M1 54.5h1M4 54.5h1M13 54.5h4M18 54.5h1M20 54.5h4M25 54.5h2M36 54.5h1M38 54.5h1M41 54.5h2M45 54.5h3M59 54.5h1M62 54.5h1M67 54.5h2M72 54.5h1M76 54.5h1M82 54.5h1M88 54.5h1M92 54.5h2M103 54.5h2M107 54.5h2M114 54.5h1M116 54.5h1M118 54.5h1M122 54.5h2M125 54.5h5M131 54.5h1M139 54.5h1M143 54.5h2M1 55.5h1M3 55.5h2M6 55.5h1M8 55.5h2M12 55.5h2M15 55.5h1M21 55.5h2M27 55.5h3M31 55.5h1M36 55.5h1M40 55.5h1M42 55.5h2M45 55.5h1M48 55.5h2M52 55.5h1M54 55.5h1M69 55.5h1M85 55.5h1M94 55.5h1M104 55.5h1M107 55.5h3M112 55.5h1M114 55.5h1M119 55.5h1M121 55.5h1M123 55.5h1M125 55.5h2M129 55.5h3M134 55.5h1M139 55.5h1M1 56.5h2M5 56.5h1M8 56.5h1M14 56.5h3M18 56.5h1M20 56.5h1M23 56.5h1M25 56.5h1M31 56.5h2M34 56.5h1M36 56.5h1M38 56.5h1M45 56.5h1M48 56.5h2M53 56.5h1M63 56.5h1M65 56.5h1M69 56.5h1M71 56.5h1M73 56.5h4M80 56.5h2M108 56.5h1M113 56.5h1M116 56.5h1M124 56.5h1M134 56.5h1M139 56.5h1M142 56.5h1M1 57.5h2M4 57.5h4M9 57.5h1M13 57.5h1M15 57.5h1M22 57.5h1M25 57.5h1M27 57.5h2M35 57.5h1M41 57.5h1M49 57.5h2M56 57.5h2M60 57.5h1M62 57.5h1M70 57.5h1M72 57.5h1M75 57.5h2M78 57.5h1M83 57.5h2M89 57.5h1M91 57.5h2M94 57.5h1M96 57.5h1M99 57.5h2M103 57.5h2M109 57.5h2M113 57.5h1M118 57.5h1M121 57.5h1M123 57.5h1M125 57.5h1M130 57.5h2M143 57.5h1M1 58.5h1M5 58.5h1M7 58.5h1M10 58.5h1M15 58.5h1M22 58.5h1M25 58.5h1M35 58.5h3M41 58.5h5M47 58.5h1M50 58.5h1M56 58.5h1M63 58.5h2M66 58.5h1M70 58.5h2M77 58.5h1M82 58.5h1M90 58.5h3M102 58.5h2M107 58.5h1M112 58.5h2M118 58.5h4M124 58.5h1M130 58.5h1M143 58.5h1M0 59.5h1M2 59.5h1M7 59.5h1M18 59.5h2M26 59.5h1M43 59.5h1M46 59.5h1M53 59.5h1M56 59.5h2M60 59.5h1M78 59.5h1M81 59.5h4M95 59.5h1M97 59.5h1M99 59.5h1M101 59.5h1M106 59.5h3M110 59.5h1M112 59.5h1M114 59.5h1M118 59.5h1M120 59.5h1M122 59.5h2M129 59.5h1M131 59.5h1M134 59.5h1M144 59.5h1M3 60.5h2M6 60.5h1M11 60.5h1M13 60.5h1M15 60.5h2M23 60.5h2M28 60.5h1M31 60.5h2M34 60.5h3M39 60.5h2M42 60.5h1M44 60.5h2M48 60.5h1M50 60.5h1M56 60.5h2M59 60.5h1M61 60.5h1M63 60.5h3M68 60.5h1M76 60.5h1M79 60.5h1M82 60.5h3M91 60.5h1M94 60.5h1M96 60.5h1M98 60.5h3M103 60.5h1M107 60.5h1M113 60.5h1M117 60.5h2M120 60.5h3M126 60.5h1M130 60.5h1M134 60.5h1M142 60.5h1"/>
<path stroke="#d2c6ee" d="M1 0.5h1M4 0.5h1M7 0.5h1M14 0.5h1M16 0.5h3M24 0.5h1M26 0.5h1M30 0.5h1M36 0.5h1M46 0.5h1M48 0.5h1M112 0.5h5M120 0.5h1M52 1.5h1M59 1.5h1M63 1.5h1M65 1.5h1M67 1.5h2M72 1.5h2M76 1.5h1M85 1.5h2M88 1.5h1M90 1.5h2M93 1.5h2M97 1.5h1M3 2.5h1M7 2.5h1M19 2.5h1M25 2.5h1M30 2.5h1M34 2.5h1M37 2.5h2M43 2.5h2M51 2.5h1M53 2.5h4M60 2.5h1M70 2.5h1M79 2.5h9M89 2.5h5M96 2.5h2M143 2.5h1M12 3.5h1M16 3.5h2M46 3.5h1M73 3.5h1M0 4.5h1M12 4.5h1M14 4.5h1M16 4.5h1M23 4.5h2M31 4.5h2M38 4.5h1M40 4.5h1M43 4.5h2M46 4.5h1M49 4.5h1M12 5.5h1M16 5.5h2M37 5.5h1M46 5.5h1M51 5.5h2M59 5.5h1M63 5.5h2M67 5.5h2M72 5.5h1M75 5.5h1M83 5.5h1M86 5.5h1M90 5.5h1M93 5.5h1M96 5.5h1M4 7.5h1M37 7.5h1M49 7.5h1M4 8.5h1M16 8.5h2M22 8.5h1M25 8.5h1M31 8.5h1M36 8.5h2M43 8.5h1M143 8.5h1M4 9.5h1M6 9.5h4M11 9.5h1M13 9.5h1M15 9.5h1M19 9.5h1M23 9.5h2M26 9.5h3M30 9.5h1M33 9.5h1M38 9.5h2M43 9.5h2M47 9.5h1M90 9.5h1M105 9.5h1M112 9.5h2M116 9.5h1M120 9.5h2M124 9.5h2M130 9.5h2M0 10.5h3M5 10.5h1M9 10.5h1M15 10.5h1M17 10.5h1M19 10.5h3M25 10.5h1M27 10.5h1M29 10.5h1M34 10.5h2M39 10.5h1M41 10.5h4M47 10.5h3M52 10.5h1M58 10.5h1M72 10.5h1M86 10.5h1M88 10.5h1M90 10.5h1M2 11.5h3M8 11.5h1M11 11.5h1M16 11.5h1M18 11.5h2M21 11.5h1M23 11.5h1M25 11.5h2M30 11.5h1M34 11.5h1M36 11.5h1M43 11.5h1M46 11.5h1M54 11.5h1M58 11.5h1M61 11.5h1M63 11.5h1M66 11.5h1M68 11.5h1M81 11.5h1M84 11.5h1M94 11.5h1M96 11.5h4M119 11.5h1M12 13.5h1M30 13.5h2M47 13.5h1M60 13.5h1M72 13.5h1M81 13.5h1M86 13.5h1M94 13.5h1M100 13.5h1M127 13.5h1M24 14.5h1M30 14.5h1M36 14.5h1M38 14.5h1M43 14.5h1M46 14.5h1M0 15.5h1M5 15.5h1M8 15.5h1M12 15.5h1M21 15.5h1M23 15.5h1M26 15.5h1M35 15.5h1M37 15.5h1M46 15.5h1M52 15.5h1M57 15.5h1M59 15.5h1M67 15.5h3M71 15.5h1M73 15.5h2M76 15.5h1M79 15.5h1M85 15.5h1M89 15.5h2M93 15.5h1M119 15.5h1M143 15.5h1M1 16.5h3M5 16.5h8M14 16.5h3M19 16.5h2M23 16.5h1M26 16.5h1M29 16.5h3M34 16.5h1M36 16.5h2M39 16.5h1M41 16.5h1M43 16.5h1M45 16.5h1M47 16.5h3M119 16.5h1M12 17.5h1M37 17.5h1M46 17.5h1M59 17.5h1M104 17.5h1M107 17.5h2M112 17.5h1M114 17.5h1M117 17.5h1M122 17.5h1M124 17.5h1M127 17.5h1M2 18.5h1M10 18.5h1M16 18.5h1M20 18.5h1M26 18.5h1M52 18.5h1M63 18.5h1M71 18.5h1M83 18.5h1M90 18.5h1M102 18.5h2M109 18.5h5M115 18.5h1M121 18.5h1M125 18.5h1M50 19.5h1M62 19.5h1M64 19.5h2M93 19.5h1M96 19.5h1M99 19.5h1M65 20.5h1M73 20.5h1M6 21.5h3M10 21.5h1M13 21.5h1M20 21.5h3M27 21.5h3M33 21.5h1M38 21.5h1M40 21.5h1M43 21.5h2M46 21.5h4M51 21.5h2M57 21.5h3M62 21.5h4M67 21.5h3M72 21.5h2M75 21.5h1M79 21.5h2M84 21.5h1M90 21.5h2M94 21.5h1M96 21.5h1M98 21.5h2M7 22.5h1M19 22.5h1M41 22.5h1M43 22.5h1M50 22.5h1M52 22.5h1M56 22.5h1M63 22.5h2M68 22.5h1M72 22.5h2M75 22.5h1M78 22.5h1M86 22.5h1M89 22.5h7M100 22.5h1M3 23.5h1M16 23.5h1M24 23.5h1M32 23.5h2M38 23.5h1M41 23.5h1M45 23.5h1M47 23.5h1M51 23.5h2M56 23.5h1M59 23.5h2M64 23.5h2M67 23.5h1M75 23.5h3M80 23.5h1M83 23.5h1M85 23.5h1M90 23.5h1M94 23.5h2M98 23.5h1M100 23.5h1M104 23.5h1M120 23.5h1M143 23.5h1M38 24.5h2M46 24.5h1M53 24.5h1M56 24.5h1M58 24.5h1M60 24.5h1M62 24.5h3M66 24.5h1M73 24.5h1M76 24.5h1M81 24.5h1M87 24.5h1M94 24.5h3M99 24.5h2M115 24.5h1M120 24.5h1M143 24.5h1M40 25.5h1M44 25.5h1M50 25.5h1M56 25.5h1M60 25.5h1M62 25.5h2M67 25.5h1M70 25.5h1M74 25.5h2M82 25.5h1M85 25.5h2M88 25.5h1M91 25.5h3M95 25.5h1M100 25.5h1M103 25.5h1M112 25.5h1M119 25.5h1M143 25.5h1M38 26.5h1M40 26.5h2M43 26.5h2M46 26.5h1M48 26.5h2M53 26.5h1M56 26.5h1M61 26.5h1M64 26.5h4M69 26.5h1M73 26.5h2M76 26.5h1M78 26.5h1M80 26.5h1M84 26.5h1M89 26.5h1M91 26.5h1M96 26.5h1M98 26.5h3M40 27.5h1M51 27.5h1M59 27.5h2M68 27.5h1M70 27.5h1M76 27.5h1M79 27.5h1M88 27.5h1M93 27.5h1M97 27.5h1M113 27.5h1M117 27.5h1M119 27.5h1M124 27.5h1M126 27.5h1M133 27.5h2M137 27.5h1M140 27.5h1M146 27.5h1M43 28.5h1M46 28.5h1M48 28.5h1M52 28.5h1M57 28.5h1M61 28.5h1M78 28.5h1M85 28.5h1M91 28.5h1M131 28.5h1M143 28.5h1M41 29.5h1M44 29.5h1M46 29.5h1M52 29.5h1M57 29.5h1M61 29.5h1M65 29.5h1M67 29.5h1M73 29.5h1M75 29.5h2M89 29.5h1M100 29.5h1M120 29.5h1M128 29.5h1M143 29.5h1M51 30.5h1M69 30.5h1M101 30.5h1M105 30.5h1M108 30.5h1M124 30.5h1M126 30.5h2M129 30.5h1M131 30.5h1M143 30.5h1M4 31.5h1M12 31.5h1M14 31.5h1M16 31.5h1M30 31.5h1M32 31.5h1M34 31.5h1M39 31.5h1M62 31.5h1M65 31.5h1M67 31.5h1M76 31.5h1M81 31.5h1M86 31.5h1M90 31.5h1M93 31.5h1M16 32.5h2M19 32.5h1M37 32.5h1M53 32.5h1M58 32.5h2M65 32.5h1M69 32.5h1M72 32.5h1M81 32.5h1M84 32.5h1M88 32.5h1M91 32.5h1M93 32.5h1M96 32.5h1M98 32.5h1M112 32.5h1M125 32.5h1M8 33.5h1M15 33.5h2M24 33.5h1M26 33.5h1M28 33.5h1M30 33.5h1M37 33.5h1M41 33.5h1M49 33.5h1M101 34.5h1M104 34.5h2M113 34.5h1M117 34.5h1M119 34.5h2M125 34.5h1M5 35.5h1M12 35.5h1M16 35.5h1M23 35.5h1M26 35.5h1M36 35.5h1M43 35.5h1M48 35.5h1M64 35.5h1M72 35.5h2M75 35.5h1M86 35.5h1M143 35.5h1M2 36.5h1M14 36.5h1M16 36.5h1M18 36.5h1M23 36.5h1M96 36.5h1M100 36.5h2M105 36.5h1M107 36.5h2M115 36.5h1M126 36.5h1M128 36.5h1M143 37.5h1M10 39.5h3M22 39.5h3M38 39.5h1M40 39.5h2M46 39.5h3M101 39.5h1M103 39.5h1M108 39.5h3M117 39.5h3M123 39.5h2M127 39.5h1M131 39.5h1M12 40.5h1M30 40.5h1M49 40.5h1M62 40.5h1M90 40.5h1M104 40.5h1M2 41.5h1M48 41.5h1M5 42.5h1M17 42.5h1M19 42.5h1M43 42.5h1M52 42.5h1M55 42.5h1M57 42.5h2M60 42.5h3M64 42.5h1M66 42.5h3M70 42.5h2M79 42.5h1M82 42.5h2M85 42.5h2M92 42.5h2M96 42.5h1M98 42.5h1M100 42.5h1M112 42.5h1M0 43.5h1M2 43.5h1M17 43.5h1M38 43.5h1M41 43.5h1M44 43.5h1M4 44.5h1M18 44.5h1M25 44.5h2M40 44.5h1M50 44.5h1M59 44.5h2M62 44.5h1M65 44.5h1M67 44.5h2M73 44.5h1M77 44.5h3M86 44.5h1M95 44.5h1M99 44.5h1M108 44.5h1M60 45.5h1M64 45.5h1M68 45.5h1M72 45.5h2M76 45.5h1M86 45.5h1M143 45.5h1M1 46.5h5M9 46.5h2M14 46.5h2M17 46.5h1M19 46.5h1M22 46.5h1M24 46.5h2M27 46.5h1M29 46.5h1M31 46.5h1M33 46.5h1M39 46.5h2M47 46.5h1M50 46.5h1M52 46.5h1M54 46.5h1M59 46.5h1M63 46.5h1M67 46.5h1M76 46.5h1M89 46.5h1M93 46.5h2M111 46.5h1M122 46.5h1M125 46.5h1M2 47.5h1M13 47.5h1M17 47.5h1M20 47.5h1M23 47.5h1M27 47.5h1M32 47.5h1M38 47.5h1M40 47.5h2M49 47.5h1M112 47.5h1M117 47.5h1M0 48.5h1M5 48.5h1M9 48.5h1M14 48.5h1M19 48.5h1M26 48.5h1M37 48.5h1M46 48.5h1M48 48.5h1M52 48.5h2M55 48.5h1M57 48.5h1M59 48.5h1M62 48.5h1M64 48.5h1M66 48.5h2M69 48.5h1M73 48.5h1M77 48.5h2M80 48.5h1M83 48.5h2M89 48.5h1M92 48.5h1M98 48.5h2M105 48.5h1M112 48.5h1M114 48.5h1M4 49.5h1M12 49.5h1M25 49.5h2M31 49.5h1M42 49.5h2M47 49.5h1M67 49.5h1M108 49.5h1M110 49.5h1M112 49.5h1M114 49.5h2M119 49.5h1M126 49.5h3M130 49.5h2M143 49.5h1M5 50.5h1M7 50.5h1M19 50.5h1M26 50.5h1M28 50.5h1M44 50.5h1M46 50.5h1M59 50.5h1M120 50.5h1M143 50.5h1M24 51.5h1M32 51.5h1M46 51.5h1M53 51.5h2M62 51.5h1M68 51.5h2M75 51.5h1M78 51.5h2M84 51.5h3M88 51.5h1M92 51.5h3M98 51.5h1M100 51.5h1M46 52.5h1M48 52.5h1M143 52.5h1M18 53.5h1M23 53.5h1M62 53.5h1M90 53.5h1M104 53.5h1M3 54.5h1M17 54.5h1M32 54.5h1M44 54.5h1M0 55.5h1M16 55.5h1M23 55.5h1M25 55.5h1M115 55.5h1M143 55.5h1M3 56.5h1M19 56.5h1M26 56.5h1M33 56.5h1M43 56.5h1M86 56.5h1M143 56.5h1M12 57.5h1M31 57.5h1M63 57.5h1M69 57.5h1M112 57.5h1M3 58.5h1M17 58.5h1M51 58.5h1M65 58.5h1M67 58.5h2M76 58.5h1M78 58.5h1M80 58.5h1M93 58.5h2M99 58.5h1M51 59.5h1M54 59.5h1M58 59.5h1M65 59.5h1M74 59.5h1M76 59.5h1M86 59.5h1M90 59.5h1M93 59.5h1M98 59.5h1M117 59.5h1M12 60.5h1M14 60.5h1M17 60.5h2M22 60.5h1M143 60.5h1"/>
<path stroke="#f4e3e0" d="M2 0.5h1M9 0.5h1M65 0.5h1M81 0.5h1M91 0.5h1M94 0.5h2M97 0.5h2M108 0.5h1M124 0.5h1M131 0.5h1M47 1.5h1M39 2.5h1M73 2.5h1M101 2.5h2M104 2.5h1M106 2.5h1M110 2.5h1M116 2.5h1M118 2.5h1M129 2.5h1M25 3.5h1M38 3.5h1M61 3.5h1M80 3.5h1M86 3.5h1M89 3.5h1M95 3.5h2M99 3.5h1M101 3.5h1M109 3.5h1M117 3.5h1M5 4.5h1M84 4.5h1M39 6.5h1M56 6.5h1M97 6.5h1M106 6.5h1M118 6.5h1M121 6.5h1M18 7.5h1M31 7.5h1M61 7.5h1M70 7.5h2M82 7.5h1M95 7.5h1M97 7.5h3M101 7.5h1M106 7.5h1M110 7.5h1M118 7.5h1M121 7.5h1M129 7.5h2M26 8.5h1M42 8.5h1M54 8.5h2M61 8.5h1M66 8.5h1M69 8.5h1M71 8.5h1M80 8.5h1M84 8.5h2M90 8.5h1M99 8.5h2M109 8.5h1M66 9.5h1M94 9.5h1M117 9.5h1M40 10.5h1M73 10.5h1M77 10.5h1M80 10.5h1M85 10.5h1M94 10.5h1M115 10.5h1M122 10.5h1M127 10.5h1M50 11.5h1M59 11.5h1M118 11.5h1M39 12.5h1M45 12.5h1M54 12.5h1M57 12.5h1M76 12.5h1M101 12.5h1M107 12.5h1M109 12.5h2M116 12.5h1M120 12.5h1M125 12.5h2M128 12.5h2M131 12.5h1M18 13.5h1M56 13.5h1M101 13.5h1M3 14.5h1M54 14.5h1M69 14.5h1M73 14.5h1M79 14.5h1M86 14.5h1M106 14.5h1M110 14.5h1M22 15.5h1M104 15.5h1M21 16.5h2M77 16.5h1M95 16.5h1M99 16.5h1M111 16.5h1M27 17.5h1M38 17.5h1M52 17.5h1M93 17.5h1M0 19.5h2M4 19.5h1M11 19.5h1M14 19.5h1M23 19.5h1M26 19.5h2M38 19.5h1M52 19.5h1M97 19.5h1M120 19.5h1M128 19.5h1M131 19.5h1M91 20.5h1M5 21.5h1M81 21.5h1M93 21.5h1M87 22.5h1M106 22.5h1M110 22.5h1M112 22.5h1M118 22.5h1M121 22.5h1M125 22.5h1M128 22.5h1M81 23.5h1M89 23.5h1M4 25.5h1M6 25.5h3M10 25.5h2M29 25.5h1M35 25.5h1M37 25.5h1M81 25.5h1M70 26.5h1M106 26.5h1M113 26.5h1M117 26.5h2M123 26.5h1M2 27.5h1M17 27.5h1M19 27.5h1M24 27.5h1M26 27.5h1M66 27.5h1M91 27.5h2M5 28.5h2M16 28.5h1M20 28.5h1M38 28.5h1M75 28.5h1M89 28.5h1M102 28.5h1M108 28.5h1M116 28.5h1M118 28.5h1M127 28.5h1M0 29.5h1M17 29.5h1M20 29.5h1M25 29.5h1M95 29.5h1M103 29.5h2M129 29.5h1M0 30.5h1M2 30.5h1M10 30.5h1M26 30.5h1M36 30.5h1M39 30.5h2M53 30.5h1M61 30.5h1M73 30.5h1M80 30.5h2M88 30.5h1M107 30.5h1M121 30.5h1M85 32.5h1M12 33.5h1M74 33.5h1M82 33.5h1M85 33.5h1M87 33.5h1M102 33.5h1M105 33.5h1M108 33.5h2M113 33.5h1M115 33.5h1M123 33.5h1M126 33.5h3M9 34.5h1M56 34.5h1M66 34.5h1M86 34.5h1M88 34.5h1M94 34.5h1M10 35.5h1M18 35.5h1M31 35.5h1M85 35.5h1M101 35.5h1M105 35.5h1M109 35.5h2M113 35.5h1M118 35.5h1M122 35.5h1M128 35.5h2M19 36.5h1M97 36.5h1M14 38.5h2M28 38.5h1M118 38.5h1M2 39.5h1M50 39.5h1M70 39.5h1M112 39.5h1M121 39.5h1M103 40.5h1M80 41.5h1M90 41.5h1M101 41.5h1M109 41.5h1M122 41.5h1M127 41.5h1M77 42.5h1M110 42.5h1M4 43.5h1M125 43.5h1M56 45.5h1M102 45.5h1M104 45.5h2M107 45.5h1M109 45.5h1M111 45.5h1M118 45.5h1M126 45.5h2M20 46.5h1M44 46.5h1M102 46.5h1M16 47.5h1M57 47.5h2M60 47.5h1M78 47.5h1M82 47.5h1M89 47.5h1M103 47.5h1M122 47.5h1M89 49.5h1M101 49.5h1M54 50.5h1M60 50.5h1M77 50.5h1M88 50.5h1M101 50.5h1M106 50.5h1M109 50.5h2M113 50.5h1M116 50.5h2M124 50.5h1M127 50.5h1M129 50.5h2M51 51.5h1M102 51.5h1M110 51.5h1M113 51.5h1M116 51.5h1M121 51.5h1M123 51.5h1M129 51.5h2M51 52.5h1M54 52.5h1M79 52.5h1M87 52.5h1M95 52.5h1M114 52.5h1M121 52.5h1M123 52.5h1M125 52.5h1M127 52.5h1M130 52.5h2M6 53.5h1M8 53.5h1M39 53.5h1M50 53.5h1M77 53.5h1M89 53.5h1M101 53.5h1M110 53.5h1M116 53.5h2M50 54.5h1M55 54.5h2M64 54.5h2M70 54.5h2M75 54.5h1M77 54.5h1M79 54.5h1M83 54.5h1M85 54.5h1M89 54.5h2M95 54.5h1M97 54.5h2M100 54.5h1M55 55.5h1M57 55.5h1M65 55.5h1M67 55.5h1M71 55.5h1M73 55.5h1M75 55.5h2M84 55.5h1M87 55.5h1M98 55.5h2M101 55.5h1M105 55.5h1M6 56.5h1M54 56.5h1M58 56.5h1M60 56.5h2M64 56.5h1M66 56.5h1M68 56.5h1M78 56.5h2M88 56.5h1M96 56.5h1M98 56.5h1M102 56.5h2M110 56.5h1M114 56.5h2M118 56.5h1M121 56.5h1M123 56.5h1M125 56.5h4M131 56.5h1M14 57.5h1M53 57.5h2M97 57.5h1M127 57.5h1M6 58.5h1M9 58.5h1M21 58.5h1M24 58.5h1M28 58.5h1M33 58.5h1M57 58.5h1M127 58.5h1M129 58.5h1M3 59.5h2M8 59.5h2M17 59.5h1M20 59.5h3M24 59.5h1M28 59.5h1M30 59.5h1M34 59.5h1M38 59.5h2M41 59.5h1M45 59.5h1M50 59.5h1M75 59.5h1M116 59.5h1M128 59.5h1M2 60.5h1M29 60.5h1M58 60.5h1M70 60.5h1M78 60.5h1M80 60.5h1M88 60.5h1M92 60.5h1M101 60.5h1M110 60.5h1M127 60.5h1"/>
<path stroke="#ded5f3" d="M3 0.5h1M10 0.5h1M12 0.5h1M15 0.5h1M21 0.5h1M29 0.5h1M31 0.5h2M34 0.5h1M39 0.5h3M44 0.5h1M49 0.5h1M75 0.5h1M101 0.5h1M103 0.5h2M107 0.5h1M109 0.5h1M118 0.5h1M121 0.5h2M125 0.5h1M128 0.5h1M138 0.5h1M2 1.5h3M7 1.5h2M12 1.5h1M14 1.5h1M16 1.5h6M23 1.5h1M25 1.5h2M28 1.5h1M31 1.5h2M37 1.5h2M40 1.5h1M43 1.5h2M46 1.5h1M50 1.5h2M53 1.5h6M60 1.5h3M64 1.5h1M66 1.5h1M69 1.5h3M74 1.5h2M77 1.5h3M81 1.5h4M87 1.5h1M89 1.5h1M92 1.5h1M95 1.5h2M98 1.5h3M0 2.5h1M4 2.5h2M9 2.5h1M12 2.5h1M15 2.5h1M21 2.5h3M26 2.5h2M29 2.5h1M32 2.5h2M40 2.5h2M47 2.5h2M50 2.5h1M57 2.5h3M74 2.5h3M88 2.5h1M98 2.5h2M119 2.5h1M136 2.5h1M138 2.5h1M140 2.5h2M144 2.5h3M7 3.5h1M15 3.5h1M27 3.5h1M30 3.5h1M37 3.5h1M39 3.5h2M42 3.5h3M48 3.5h2M107 3.5h2M123 3.5h1M133 3.5h1M137 3.5h2M144 3.5h3M150 3.5h1M1 4.5h3M8 4.5h4M13 4.5h1M17 4.5h5M25 4.5h1M27 4.5h4M33 4.5h5M39 4.5h1M41 4.5h2M45 4.5h1M47 4.5h1M60 4.5h1M67 4.5h1M72 4.5h1M75 4.5h1M91 4.5h1M93 4.5h1M104 4.5h2M108 4.5h1M112 4.5h2M117 4.5h1M124 4.5h2M130 4.5h2M136 4.5h1M0 5.5h2M3 5.5h1M5 5.5h1M7 5.5h3M11 5.5h1M14 5.5h2M18 5.5h3M22 5.5h4M28 5.5h1M30 5.5h3M34 5.5h1M36 5.5h1M38 5.5h1M40 5.5h2M43 5.5h2M48 5.5h3M53 5.5h6M60 5.5h3M65 5.5h2M69 5.5h3M73 5.5h2M76 5.5h7M84 5.5h2M89 5.5h1M91 5.5h2M94 5.5h2M97 5.5h1M99 5.5h2M106 5.5h1M112 5.5h1M115 5.5h1M132 5.5h1M73 6.5h1M2 7.5h1M9 7.5h1M11 7.5h1M15 7.5h3M19 7.5h2M30 7.5h1M33 7.5h1M36 7.5h1M38 7.5h1M40 7.5h1M42 7.5h2M46 7.5h2M67 7.5h1M0 8.5h1M2 8.5h1M6 8.5h2M14 8.5h1M19 8.5h2M23 8.5h1M33 8.5h3M38 8.5h4M45 8.5h5M73 8.5h1M93 8.5h1M112 8.5h2M117 8.5h1M119 8.5h1M122 8.5h1M124 8.5h2M132 8.5h2M138 8.5h1M144 8.5h1M147 8.5h1M150 8.5h1M0 9.5h1M22 9.5h1M31 9.5h1M35 9.5h1M37 9.5h1M48 9.5h1M52 9.5h1M54 9.5h1M58 9.5h2M63 9.5h3M67 9.5h4M72 9.5h1M74 9.5h1M79 9.5h2M83 9.5h2M86 9.5h1M93 9.5h1M102 9.5h1M106 9.5h2M109 9.5h3M114 9.5h2M118 9.5h1M122 9.5h1M126 9.5h1M129 9.5h1M135 9.5h1M137 9.5h1M4 10.5h1M8 10.5h1M11 10.5h1M13 10.5h2M18 10.5h1M22 10.5h1M24 10.5h1M26 10.5h1M33 10.5h1M38 10.5h1M50 10.5h1M57 10.5h1M59 10.5h1M75 10.5h1M81 10.5h2M89 10.5h1M91 10.5h1M96 10.5h1M109 10.5h1M112 10.5h1M116 10.5h2M125 10.5h2M136 10.5h1M138 10.5h1M0 11.5h2M6 11.5h2M9 11.5h2M13 11.5h3M24 11.5h1M27 11.5h2M31 11.5h1M35 11.5h1M38 11.5h1M44 11.5h2M47 11.5h1M49 11.5h1M52 11.5h2M55 11.5h1M57 11.5h1M62 11.5h1M64 11.5h2M72 11.5h2M76 11.5h2M82 11.5h2M85 11.5h1M89 11.5h1M93 11.5h1M95 11.5h1M108 11.5h2M112 11.5h1M115 11.5h1M121 11.5h1M123 11.5h1M131 11.5h1M135 11.5h4M2 12.5h2M7 12.5h1M10 12.5h2M13 12.5h1M15 12.5h3M31 12.5h2M37 12.5h2M42 12.5h2M46 12.5h1M48 12.5h1M59 12.5h1M63 12.5h1M65 12.5h1M72 12.5h1M85 12.5h1M96 12.5h1M136 12.5h1M3 13.5h2M11 13.5h1M17 13.5h1M21 13.5h3M25 13.5h2M37 13.5h2M43 13.5h2M46 13.5h1M48 13.5h1M50 13.5h1M52 13.5h4M58 13.5h2M62 13.5h4M68 13.5h2M73 13.5h2M76 13.5h3M80 13.5h1M88 13.5h2M91 13.5h3M95 13.5h3M103 13.5h1M108 13.5h2M111 13.5h2M120 13.5h1M123 13.5h1M128 13.5h2M133 13.5h1M135 13.5h1M137 13.5h2M146 13.5h2M149 13.5h2M2 14.5h1M4 14.5h1M8 14.5h1M11 14.5h3M15 14.5h1M17 14.5h4M23 14.5h1M25 14.5h2M29 14.5h1M32 14.5h1M35 14.5h1M37 14.5h1M40 14.5h1M47 14.5h2M72 14.5h1M91 14.5h1M104 14.5h1M112 14.5h2M116 14.5h2M122 14.5h1M126 14.5h1M135 14.5h1M137 14.5h2M145 14.5h1M1 15.5h4M6 15.5h1M11 15.5h1M14 15.5h2M19 15.5h1M25 15.5h1M29 15.5h1M36 15.5h1M38 15.5h1M40 15.5h2M43 15.5h3M49 15.5h3M53 15.5h1M55 15.5h1M60 15.5h2M64 15.5h1M66 15.5h1M72 15.5h1M77 15.5h2M81 15.5h1M83 15.5h1M88 15.5h1M91 15.5h2M94 15.5h1M96 15.5h6M105 15.5h1M107 15.5h2M111 15.5h3M115 15.5h1M117 15.5h1M120 15.5h1M128 15.5h1M138 15.5h1M25 16.5h1M28 16.5h1M35 16.5h1M75 16.5h1M86 16.5h1M93 16.5h1M108 16.5h1M110 16.5h1M112 16.5h2M123 16.5h2M128 16.5h2M133 16.5h1M138 16.5h1M149 16.5h2M2 17.5h1M17 17.5h2M33 17.5h3M41 17.5h1M51 17.5h1M58 17.5h1M63 17.5h2M67 17.5h1M69 17.5h1M71 17.5h1M74 17.5h1M79 17.5h1M86 17.5h1M89 17.5h3M96 17.5h2M101 17.5h1M105 17.5h2M111 17.5h1M113 17.5h1M118 17.5h3M128 17.5h1M130 17.5h1M133 17.5h1M135 17.5h1M137 17.5h2M140 17.5h1M144 17.5h3M149 17.5h2M4 18.5h1M9 18.5h1M11 18.5h1M17 18.5h1M19 18.5h1M21 18.5h3M28 18.5h1M30 18.5h3M40 18.5h3M46 18.5h1M49 18.5h2M55 18.5h1M58 18.5h2M67 18.5h1M73 18.5h1M75 18.5h1M81 18.5h1M87 18.5h1M89 18.5h1M91 18.5h1M93 18.5h2M96 18.5h3M100 18.5h2M107 18.5h2M117 18.5h1M122 18.5h1M124 18.5h1M126 18.5h7M135 18.5h1M137 18.5h1M141 18.5h1M144 18.5h4M19 19.5h1M39 19.5h1M43 19.5h1M45 19.5h1M47 19.5h1M58 19.5h1M61 19.5h1M63 19.5h1M66 19.5h1M69 19.5h1M72 19.5h1M74 19.5h1M76 19.5h1M80 19.5h1M83 19.5h3M87 19.5h1M94 19.5h1M12 20.5h1M14 20.5h1M17 20.5h1M23 20.5h1M31 20.5h2M35 20.5h1M37 20.5h2M43 20.5h1M46 20.5h2M49 20.5h1M51 20.5h1M53 20.5h2M59 20.5h1M61 20.5h1M63 20.5h2M67 20.5h1M74 20.5h1M76 20.5h1M86 20.5h2M93 20.5h1M117 20.5h1M122 20.5h1M125 20.5h1M127 20.5h1M129 20.5h1M133 20.5h1M146 20.5h2M149 20.5h2M41 21.5h2M45 21.5h1M50 21.5h1M53 21.5h4M60 21.5h2M66 21.5h1M70 21.5h2M74 21.5h1M77 21.5h2M82 21.5h2M85 21.5h1M87 21.5h3M92 21.5h1M95 21.5h1M97 21.5h1M100 21.5h1M137 21.5h2M144 21.5h5M150 21.5h1M0 22.5h1M2 22.5h1M6 22.5h1M9 22.5h2M20 22.5h1M24 22.5h1M30 22.5h1M33 22.5h1M37 22.5h1M39 22.5h2M42 22.5h1M44 22.5h2M47 22.5h3M54 22.5h1M59 22.5h1M61 22.5h1M65 22.5h2M69 22.5h1M71 22.5h1M79 22.5h6M88 22.5h1M97 22.5h2M119 22.5h1M133 22.5h1M135 22.5h1M137 22.5h2M141 22.5h1M144 22.5h6M0 23.5h3M4 23.5h3M12 23.5h4M17 23.5h7M26 23.5h1M29 23.5h1M31 23.5h1M40 23.5h1M44 23.5h1M50 23.5h1M57 23.5h2M70 23.5h1M78 23.5h1M88 23.5h1M91 23.5h2M97 23.5h1M109 23.5h1M115 23.5h1M128 23.5h1M131 23.5h1M133 23.5h1M141 23.5h1M144 23.5h7M4 24.5h1M6 24.5h1M12 24.5h1M16 24.5h1M21 24.5h1M26 24.5h1M33 24.5h1M36 24.5h1M57 24.5h1M61 24.5h1M70 24.5h1M78 24.5h1M82 24.5h1M84 24.5h1M92 24.5h1M102 24.5h1M105 24.5h1M108 24.5h1M112 24.5h2M117 24.5h1M122 24.5h1M128 24.5h1M130 24.5h1M133 24.5h1M135 24.5h4M141 24.5h1M144 24.5h7M42 25.5h2M45 25.5h1M58 25.5h1M66 25.5h1M68 25.5h2M77 25.5h3M89 25.5h1M94 25.5h1M98 25.5h2M105 25.5h2M108 25.5h1M114 25.5h1M116 25.5h2M125 25.5h2M128 25.5h1M130 25.5h1M135 25.5h1M138 25.5h1M141 25.5h1M145 25.5h1M147 25.5h1M2 26.5h1M18 26.5h1M20 26.5h1M23 26.5h1M28 26.5h1M33 26.5h2M42 26.5h1M47 26.5h1M57 26.5h2M60 26.5h1M63 26.5h1M72 26.5h1M79 26.5h1M81 26.5h1M85 26.5h1M87 26.5h2M92 26.5h1M95 26.5h1M111 26.5h1M133 26.5h1M135 26.5h1M137 26.5h2M141 26.5h1M145 26.5h6M38 27.5h2M41 27.5h3M47 27.5h1M53 27.5h2M56 27.5h2M62 27.5h3M67 27.5h1M73 27.5h1M83 27.5h1M86 27.5h1M94 27.5h1M102 27.5h1M104 27.5h1M108 27.5h1M111 27.5h2M114 27.5h2M118 27.5h1M121 27.5h2M128 27.5h5M135 27.5h2M138 27.5h1M141 27.5h1M145 27.5h1M147 27.5h4M39 28.5h1M41 28.5h1M44 28.5h1M49 28.5h3M56 28.5h1M58 28.5h1M62 28.5h1M65 28.5h1M68 28.5h1M77 28.5h1M81 28.5h1M83 28.5h1M86 28.5h1M94 28.5h5M109 28.5h1M121 28.5h1M129 28.5h2M132 28.5h1M136 28.5h1M138 28.5h1M140 28.5h1M146 28.5h1M148 28.5h1M150 28.5h1M38 29.5h1M42 29.5h1M50 29.5h1M56 29.5h1M58 29.5h1M62 29.5h1M64 29.5h1M66 29.5h1M72 29.5h1M79 29.5h1M81 29.5h1M92 29.5h1M96 29.5h1M105 29.5h1M119 29.5h1M123 29.5h1M125 29.5h1M127 29.5h1M132 29.5h2M135 29.5h4M140 29.5h2M144 29.5h7M46 30.5h1M56 30.5h1M68 30.5h1M85 30.5h1M90 30.5h1M103 30.5h1M109 30.5h2M113 30.5h2M116 30.5h3M120 30.5h1M122 30.5h2M130 30.5h1M132 30.5h2M135 30.5h4M141 30.5h1M144 30.5h6M3 31.5h1M7 31.5h2M10 31.5h2M21 31.5h2M26 31.5h1M31 31.5h1M38 31.5h1M40 31.5h2M43 31.5h1M46 31.5h2M50 31.5h1M52 31.5h1M54 31.5h2M57 31.5h1M60 31.5h1M63 31.5h2M66 31.5h1M68 31.5h2M72 31.5h1M78 31.5h1M82 31.5h1M84 31.5h2M87 31.5h1M89 31.5h1M91 31.5h1M94 31.5h1M98 31.5h1M100 31.5h1M105 31.5h1M109 31.5h1M119 31.5h1M129 31.5h1M2 32.5h3M6 32.5h1M9 32.5h1M11 32.5h3M18 32.5h1M20 32.5h4M25 32.5h2M30 32.5h1M33 32.5h2M36 32.5h1M38 32.5h3M42 32.5h1M44 32.5h1M46 32.5h1M49 32.5h4M55 32.5h1M60 32.5h1M62 32.5h3M66 32.5h1M68 32.5h1M71 32.5h1M75 32.5h3M90 32.5h1M94 32.5h2M105 32.5h1M120 32.5h1M126 32.5h3M132 32.5h1M135 32.5h2M141 32.5h1M0 33.5h2M3 33.5h4M9 33.5h3M13 33.5h1M17 33.5h7M31 33.5h6M40 33.5h1M43 33.5h6M67 33.5h1M72 33.5h2M76 33.5h1M89 33.5h1M91 33.5h1M132 33.5h2M135 33.5h2M17 34.5h1M36 34.5h1M40 34.5h1M44 34.5h1M46 34.5h1M50 34.5h1M52 34.5h3M59 34.5h1M63 34.5h1M68 34.5h1M75 34.5h1M80 34.5h1M87 34.5h1M90 34.5h1M93 34.5h1M96 34.5h1M99 34.5h1M102 34.5h2M107 34.5h1M109 34.5h1M112 34.5h1M118 34.5h1M122 34.5h1M127 34.5h1M130 34.5h1M140 34.5h1M144 34.5h4M0 35.5h4M6 35.5h4M15 35.5h1M19 35.5h3M24 35.5h1M30 35.5h1M32 35.5h2M35 35.5h1M40 35.5h3M46 35.5h2M49 35.5h4M56 35.5h1M58 35.5h3M62 35.5h1M65 35.5h2M68 35.5h2M71 35.5h1M76 35.5h6M83 35.5h2M94 35.5h1M96 35.5h2M99 35.5h2M119 35.5h2M135 35.5h2M141 35.5h1M144 35.5h2M147 35.5h1M0 36.5h1M4 36.5h1M6 36.5h1M8 36.5h1M10 36.5h1M12 36.5h1M15 36.5h1M17 36.5h1M20 36.5h2M24 36.5h1M26 36.5h1M28 36.5h6M36 36.5h1M40 36.5h2M44 36.5h4M52 36.5h2M56 36.5h1M63 36.5h2M67 36.5h1M73 36.5h1M76 36.5h1M79 36.5h1M81 36.5h1M86 36.5h2M90 36.5h1M93 36.5h1M98 36.5h2M104 36.5h1M109 36.5h1M111 36.5h2M114 36.5h1M117 36.5h5M123 36.5h3M129 36.5h2M145 36.5h1M2 37.5h3M6 37.5h1M12 37.5h1M14 37.5h1M16 37.5h3M20 37.5h1M23 37.5h1M26 37.5h3M31 37.5h4M37 37.5h1M40 37.5h2M43 37.5h2M46 37.5h1M48 37.5h2M59 37.5h1M73 37.5h1M93 37.5h1M105 37.5h1M132 37.5h2M135 37.5h1M144 37.5h1M52 38.5h1M59 38.5h1M64 38.5h1M86 38.5h1M90 38.5h1M93 38.5h1M0 39.5h2M3 39.5h2M6 39.5h1M8 39.5h2M13 39.5h1M16 39.5h2M19 39.5h1M21 39.5h1M26 39.5h2M30 39.5h1M32 39.5h1M34 39.5h4M39 39.5h1M43 39.5h3M49 39.5h1M53 39.5h1M59 39.5h1M65 39.5h1M69 39.5h1M72 39.5h1M75 39.5h2M84 39.5h1M91 39.5h1M102 39.5h1M114 39.5h1M136 39.5h1M0 40.5h1M2 40.5h1M9 40.5h1M15 40.5h1M17 40.5h1M23 40.5h1M26 40.5h1M31 40.5h1M36 40.5h2M39 40.5h2M44 40.5h1M52 40.5h2M63 40.5h1M68 40.5h1M72 40.5h2M75 40.5h2M80 40.5h1M86 40.5h1M92 40.5h2M97 40.5h1M105 40.5h1M109 40.5h1M112 40.5h1M117 40.5h1M123 40.5h1M137 40.5h1M144 40.5h1M3 41.5h2M7 41.5h1M10 41.5h4M15 41.5h3M19 41.5h1M21 41.5h1M23 41.5h2M26 41.5h1M36 41.5h2M46 41.5h1M86 41.5h1M96 41.5h1M115 41.5h1M117 41.5h1M133 41.5h1M136 41.5h1M138 41.5h1M140 41.5h2M145 41.5h3M0 42.5h1M2 42.5h3M6 42.5h2M16 42.5h1M23 42.5h1M26 42.5h1M28 42.5h1M33 42.5h1M36 42.5h2M40 42.5h1M44 42.5h1M46 42.5h1M50 42.5h1M53 42.5h2M56 42.5h1M65 42.5h1M80 42.5h1M87 42.5h2M94 42.5h2M97 42.5h1M102 42.5h1M104 42.5h1M108 42.5h1M119 42.5h1M122 42.5h1M130 42.5h1M133 42.5h1M135 42.5h2M145 42.5h3M3 43.5h1M6 43.5h3M10 43.5h2M16 43.5h1M18 43.5h2M25 43.5h1M30 43.5h2M36 43.5h1M42 43.5h2M45 43.5h3M50 43.5h3M58 43.5h1M64 43.5h1M73 43.5h2M76 43.5h1M79 43.5h1M82 43.5h1M90 43.5h2M93 43.5h1M96 43.5h1M98 43.5h1M103 43.5h1M108 43.5h1M111 43.5h1M128 43.5h1M137 43.5h1M140 43.5h2M144 43.5h4M0 44.5h2M5 44.5h2M9 44.5h5M15 44.5h3M19 44.5h2M27 44.5h1M30 44.5h1M35 44.5h1M37 44.5h1M41 44.5h2M44 44.5h1M49 44.5h1M51 44.5h6M58 44.5h1M61 44.5h1M63 44.5h1M66 44.5h1M69 44.5h3M75 44.5h1M83 44.5h3M89 44.5h3M93 44.5h2M96 44.5h2M120 44.5h1M122 44.5h2M126 44.5h1M129 44.5h1M131 44.5h1M133 44.5h1M135 44.5h1M2 45.5h1M9 45.5h1M16 45.5h1M43 45.5h3M52 45.5h1M54 45.5h2M57 45.5h1M62 45.5h2M66 45.5h2M69 45.5h2M75 45.5h1M80 45.5h1M85 45.5h1M87 45.5h1M89 45.5h2M93 45.5h1M95 45.5h2M99 45.5h1M132 45.5h1M135 45.5h4M140 45.5h2M144 45.5h2M147 45.5h1M150 45.5h1M7 46.5h2M11 46.5h1M13 46.5h1M16 46.5h1M28 46.5h1M32 46.5h1M34 46.5h1M37 46.5h2M41 46.5h1M45 46.5h1M48 46.5h1M56 46.5h1M60 46.5h1M62 46.5h1M64 46.5h2M68 46.5h3M72 46.5h2M80 46.5h2M84 46.5h1M86 46.5h1M92 46.5h1M96 46.5h2M99 46.5h1M101 46.5h1M103 46.5h1M105 46.5h1M119 46.5h2M124 46.5h1M127 46.5h3M131 46.5h1M133 46.5h1M135 46.5h1M137 46.5h1M141 46.5h1M145 46.5h4M150 46.5h1M0 47.5h1M3 47.5h2M6 47.5h7M14 47.5h2M18 47.5h1M21 47.5h1M28 47.5h1M31 47.5h1M33 47.5h3M39 47.5h1M42 47.5h6M66 47.5h1M73 47.5h1M93 47.5h1M106 47.5h1M115 47.5h1M130 47.5h1M137 47.5h1M145 47.5h3M2 48.5h1M8 48.5h1M11 48.5h2M16 48.5h2M20 48.5h1M30 48.5h1M34 48.5h1M41 48.5h1M45 48.5h1M47 48.5h1M49 48.5h1M54 48.5h1M58 48.5h1M65 48.5h1M71 48.5h1M82 48.5h1M85 48.5h1M88 48.5h1M94 48.5h2M101 48.5h1M106 48.5h1M108 48.5h1M110 48.5h2M115 48.5h1M131 48.5h1M1 49.5h2M7 49.5h5M13 49.5h1M15 49.5h2M18 49.5h2M23 49.5h1M30 49.5h1M32 49.5h1M34 49.5h1M37 49.5h1M39 49.5h1M46 49.5h1M57 49.5h2M61 49.5h1M63 49.5h1M69 49.5h1M74 49.5h1M76 49.5h1M93 49.5h1M103 49.5h2M106 49.5h1M111 49.5h1M118 49.5h1M122 49.5h4M138 49.5h1M144 49.5h4M2 50.5h3M10 50.5h1M12 50.5h1M14 50.5h1M16 50.5h3M20 50.5h3M32 50.5h1M37 50.5h2M53 50.5h1M61 50.5h1M67 50.5h2M72 50.5h2M76 50.5h1M86 50.5h1M90 50.5h1M93 50.5h1M96 50.5h1M98 50.5h2M111 50.5h1M132 50.5h2M135 50.5h2M138 50.5h1M144 50.5h6M0 51.5h5M9 51.5h2M16 51.5h4M23 51.5h1M25 51.5h2M29 51.5h2M33 51.5h3M37 51.5h4M42 51.5h2M47 51.5h4M55 51.5h3M59 51.5h1M64 51.5h1M70 51.5h2M74 51.5h1M77 51.5h1M81 51.5h2M89 51.5h3M95 51.5h1M97 51.5h1M99 51.5h1M127 51.5h1M133 51.5h1M135 51.5h1M137 51.5h2M144 51.5h2M0 52.5h1M2 52.5h2M9 52.5h1M12 52.5h1M19 52.5h1M21 52.5h1M24 52.5h3M31 52.5h2M34 52.5h4M41 52.5h1M43 52.5h2M49 52.5h1M59 52.5h1M68 52.5h1M72 52.5h1M75 52.5h1M94 52.5h1M101 52.5h1M132 52.5h1M135 52.5h3M144 52.5h3M149 52.5h2M11 53.5h1M19 53.5h3M26 53.5h1M30 53.5h1M40 53.5h2M43 53.5h4M59 53.5h1M67 53.5h1M70 53.5h1M96 53.5h1M102 53.5h1M107 53.5h1M125 53.5h1M130 53.5h1M2 54.5h1M5 54.5h1M7 54.5h4M19 54.5h1M28 54.5h1M30 54.5h2M33 54.5h2M37 54.5h1M40 54.5h1M43 54.5h1M48 54.5h2M102 54.5h1M105 54.5h1M109 54.5h3M113 54.5h1M115 54.5h1M117 54.5h1M121 54.5h1M130 54.5h1M133 54.5h1M135 54.5h2M138 54.5h1M141 54.5h1M2 55.5h1M7 55.5h1M10 55.5h1M14 55.5h1M18 55.5h3M24 55.5h1M26 55.5h1M30 55.5h1M32 55.5h1M38 55.5h2M46 55.5h1M113 55.5h1M133 55.5h1M135 55.5h2M138 55.5h1M144 55.5h1M149 55.5h1M7 56.5h1M9 56.5h5M17 56.5h1M24 56.5h1M27 56.5h3M35 56.5h1M39 56.5h3M44 56.5h1M46 56.5h2M55 56.5h1M107 56.5h1M133 56.5h1M135 56.5h3M140 56.5h2M144 56.5h7M10 57.5h2M17 57.5h1M19 57.5h2M23 57.5h2M30 57.5h1M32 57.5h1M34 57.5h1M37 57.5h2M46 57.5h1M51 57.5h1M65 57.5h1M67 57.5h2M73 57.5h1M79 57.5h1M85 57.5h2M90 57.5h1M93 57.5h1M101 57.5h1M105 57.5h1M107 57.5h2M111 57.5h1M115 57.5h2M124 57.5h1M129 57.5h1M135 57.5h2M0 58.5h1M4 58.5h1M12 58.5h1M14 58.5h1M16 58.5h1M19 58.5h1M23 58.5h1M32 58.5h1M34 58.5h1M38 58.5h1M40 58.5h1M48 58.5h2M52 58.5h1M54 58.5h2M59 58.5h4M72 58.5h3M79 58.5h1M83 58.5h2M88 58.5h2M95 58.5h2M98 58.5h1M100 58.5h2M111 58.5h1M114 58.5h1M117 58.5h1M16 59.5h1M59 59.5h1M61 59.5h2M64 59.5h1M66 59.5h1M68 59.5h2M71 59.5h1M77 59.5h1M79 59.5h2M87 59.5h3M92 59.5h1M94 59.5h1M96 59.5h1M100 59.5h1M102 59.5h1M105 59.5h1M109 59.5h1M115 59.5h1M125 59.5h2M132 59.5h2M135 59.5h2M149 59.5h2M0 60.5h1M9 60.5h2M30 60.5h1M43 60.5h1M49 60.5h1M53 60.5h1M67 60.5h1M72 60.5h3M85 60.5h2M90 60.5h1M104 60.5h1M108 60.5h2M112 60.5h1M115 60.5h1M129 60.5h1M132 60.5h2M135 60.5h4M140 60.5h2M145 60.5h6"/>
<path stroke="#f0eef0" d="M5 0.5h1M13 0.5h1M19 0.5h1M25 0.5h1M33 0.5h1M45 0.5h1M50 0.5h2M54 0.5h2M58 0.5h1M60 0.5h1M62 0.5h3M66 0.5h1M68 0.5h3M73 0.5h1M79 0.5h2M85 0.5h1M89 0.5h1M96 0.5h1M99 0.5h2M102 0.5h1M110 0.5h1M135 0.5h2M145 0.5h1M6 1.5h1M103 1.5h2M106 1.5h1M110 1.5h1M116 1.5h1M118 1.5h1M123 1.5h1M129 1.5h1M132 1.5h7M140 1.5h1M145 1.5h3M149 1.5h2M49 2.5h1M105 2.5h1M111 2.5h2M114 2.5h1M121 2.5h1M124 2.5h1M128 2.5h1M132 2.5h1M135 2.5h1M142 2.5h1M147 2.5h1M149 2.5h1M2 3.5h1M4 3.5h3M9 3.5h1M18 3.5h1M20 3.5h2M26 3.5h1M33 3.5h1M41 3.5h1M50 3.5h1M52 3.5h2M55 3.5h2M59 3.5h2M63 3.5h2M67 3.5h1M70 3.5h1M72 3.5h1M74 3.5h1M79 3.5h1M81 3.5h1M84 3.5h1M88 3.5h1M90 3.5h5M98 3.5h1M100 3.5h1M103 3.5h4M110 3.5h2M125 3.5h2M129 3.5h2M136 3.5h1M139 3.5h1M142 3.5h1M54 4.5h1M56 4.5h1M66 4.5h1M70 4.5h1M78 4.5h1M87 4.5h2M92 4.5h1M94 4.5h1M97 4.5h1M100 4.5h1M133 4.5h1M135 4.5h1M138 4.5h1M141 4.5h2M145 4.5h1M147 4.5h1M4 5.5h1M103 5.5h1M110 5.5h1M116 5.5h1M121 5.5h2M124 5.5h1M126 5.5h1M130 5.5h1M135 5.5h2M138 5.5h1M149 5.5h1M0 6.5h3M4 6.5h2M8 6.5h4M15 6.5h1M19 6.5h2M23 6.5h2M26 6.5h5M32 6.5h5M40 6.5h1M42 6.5h1M44 6.5h2M48 6.5h1M50 6.5h6M57 6.5h2M60 6.5h4M66 6.5h1M70 6.5h2M75 6.5h1M77 6.5h8M86 6.5h5M92 6.5h1M94 6.5h1M96 6.5h1M100 6.5h4M107 6.5h2M110 6.5h1M112 6.5h6M119 6.5h2M122 6.5h6M129 6.5h4M135 6.5h2M138 6.5h1M140 6.5h1M149 6.5h1M14 7.5h1M48 7.5h1M51 7.5h1M53 7.5h2M57 7.5h2M62 7.5h3M66 7.5h1M68 7.5h1M72 7.5h1M75 7.5h4M80 7.5h2M83 7.5h1M85 7.5h1M89 7.5h1M91 7.5h4M96 7.5h1M100 7.5h1M102 7.5h4M108 7.5h2M113 7.5h1M115 7.5h2M119 7.5h2M122 7.5h5M132 7.5h9M142 7.5h1M145 7.5h3M149 7.5h2M1 8.5h1M5 8.5h1M10 8.5h1M24 8.5h1M27 8.5h1M29 8.5h1M44 8.5h1M52 8.5h1M56 8.5h1M58 8.5h1M64 8.5h2M67 8.5h1M72 8.5h1M74 8.5h3M79 8.5h1M81 8.5h1M83 8.5h1M86 8.5h1M88 8.5h2M92 8.5h1M94 8.5h1M97 8.5h1M102 8.5h1M115 8.5h1M118 8.5h1M127 8.5h1M135 8.5h2M142 8.5h1M146 8.5h1M36 9.5h1M45 9.5h1M56 9.5h1M88 9.5h1M96 9.5h1M98 9.5h1M132 9.5h1M136 9.5h1M138 9.5h1M141 9.5h1M145 9.5h1M147 9.5h1M56 10.5h1M65 10.5h1M69 10.5h1M78 10.5h2M84 10.5h1M92 10.5h1M95 10.5h1M100 10.5h1M103 10.5h1M110 10.5h1M114 10.5h1M79 11.5h1M88 11.5h1M101 11.5h1M114 11.5h1M130 11.5h1M132 11.5h2M141 11.5h2M145 11.5h3M149 11.5h2M0 12.5h2M9 12.5h1M12 12.5h1M14 12.5h1M22 12.5h1M24 12.5h2M28 12.5h1M33 12.5h1M35 12.5h1M50 12.5h2M53 12.5h1M55 12.5h2M61 12.5h1M66 12.5h1M68 12.5h1M70 12.5h1M75 12.5h1M79 12.5h4M87 12.5h3M94 12.5h1M97 12.5h2M103 12.5h3M111 12.5h3M118 12.5h2M121 12.5h1M123 12.5h2M130 12.5h1M135 12.5h1M137 12.5h1M140 12.5h1M145 12.5h1M147 12.5h1M149 12.5h1M6 13.5h1M10 13.5h1M15 13.5h1M24 13.5h1M27 13.5h1M29 13.5h1M35 13.5h1M40 13.5h1M90 13.5h1M105 13.5h2M116 13.5h3M132 13.5h1M136 13.5h1M139 13.5h1M142 13.5h1M145 13.5h1M0 14.5h2M7 14.5h1M34 14.5h1M39 14.5h1M41 14.5h1M45 14.5h1M53 14.5h1M56 14.5h2M61 14.5h1M67 14.5h1M71 14.5h1M74 14.5h1M78 14.5h1M80 14.5h1M82 14.5h1M84 14.5h2M88 14.5h1M90 14.5h1M93 14.5h1M95 14.5h2M98 14.5h1M105 14.5h1M109 14.5h1M120 14.5h1M123 14.5h1M130 14.5h1M133 14.5h1M146 14.5h2M150 14.5h1M24 15.5h1M102 15.5h1M122 15.5h1M129 15.5h1M133 15.5h1M136 15.5h1M142 15.5h1M145 15.5h2M148 15.5h2M51 16.5h1M53 16.5h4M58 16.5h1M62 16.5h2M65 16.5h2M70 16.5h2M79 16.5h3M84 16.5h2M88 16.5h2M92 16.5h1M94 16.5h1M100 16.5h1M102 16.5h2M118 16.5h1M132 16.5h1M142 16.5h1M145 16.5h4M13 17.5h1M15 17.5h1M20 17.5h1M28 17.5h1M50 17.5h1M53 17.5h2M56 17.5h1M62 17.5h1M68 17.5h1M76 17.5h1M85 17.5h1M95 17.5h1M98 17.5h1M132 17.5h1M136 17.5h1M141 17.5h1M147 17.5h2M13 18.5h1M27 18.5h1M39 18.5h1M44 18.5h1M47 18.5h1M60 18.5h1M74 18.5h1M148 18.5h2M3 19.5h1M5 19.5h1M7 19.5h1M17 19.5h2M24 19.5h2M31 19.5h2M35 19.5h1M37 19.5h1M46 19.5h1M48 19.5h1M54 19.5h1M81 19.5h2M89 19.5h1M92 19.5h1M108 19.5h1M111 19.5h1M119 19.5h1M3 20.5h1M6 20.5h1M10 20.5h1M13 20.5h1M15 20.5h1M24 20.5h2M39 20.5h1M42 20.5h1M50 20.5h1M57 20.5h1M83 20.5h2M98 20.5h2M103 20.5h2M112 20.5h1M116 20.5h1M132 20.5h1M135 20.5h1M137 20.5h1M141 20.5h1M145 20.5h1M101 21.5h1M103 21.5h1M106 21.5h1M110 21.5h1M116 21.5h1M122 21.5h1M132 21.5h1M134 21.5h1M136 21.5h1M141 21.5h1M11 22.5h1M13 22.5h1M15 22.5h1M22 22.5h1M25 22.5h1M101 22.5h5M107 22.5h3M111 22.5h1M113 22.5h5M120 22.5h1M123 22.5h1M126 22.5h1M130 22.5h1M140 22.5h1M150 22.5h1M7 23.5h2M10 23.5h1M27 23.5h1M103 23.5h1M106 23.5h2M118 23.5h1M123 23.5h2M127 23.5h1M129 23.5h2M135 23.5h1M139 23.5h1M5 24.5h1M10 24.5h1M22 24.5h1M24 24.5h2M29 24.5h1M103 24.5h1M106 24.5h1M127 24.5h1M0 25.5h3M9 25.5h1M14 25.5h1M17 25.5h1M19 25.5h1M24 25.5h1M26 25.5h1M28 25.5h1M36 25.5h1M46 25.5h1M101 25.5h1M107 25.5h1M110 25.5h2M118 25.5h1M123 25.5h1M133 25.5h2M140 25.5h1M150 25.5h1M1 26.5h1M9 26.5h1M13 26.5h2M21 26.5h1M24 26.5h2M29 26.5h1M35 26.5h1M101 26.5h4M107 26.5h2M115 26.5h2M119 26.5h4M124 26.5h2M128 26.5h1M130 26.5h2M0 27.5h1M8 27.5h1M15 27.5h1M32 27.5h2M37 27.5h1M78 27.5h1M80 27.5h2M84 27.5h1M87 27.5h1M90 27.5h1M116 27.5h1M123 27.5h1M54 28.5h2M70 28.5h2M82 28.5h1M93 28.5h1M103 28.5h1M105 28.5h3M111 28.5h1M124 28.5h1M126 28.5h1M133 28.5h1M137 28.5h1M48 29.5h1M70 29.5h1M94 29.5h1M97 29.5h3M106 29.5h1M108 29.5h1M110 29.5h1M113 29.5h1M115 29.5h4M130 29.5h1M3 30.5h1M17 30.5h3M22 30.5h1M42 30.5h1M48 30.5h1M59 30.5h2M63 30.5h1M65 30.5h2M71 30.5h1M76 30.5h1M79 30.5h1M83 30.5h2M92 30.5h1M94 30.5h2M97 30.5h2M106 30.5h1M1 31.5h1M13 31.5h1M27 31.5h1M29 31.5h1M44 31.5h1M80 31.5h1M88 31.5h1M96 31.5h1M103 31.5h1M106 31.5h1M110 31.5h1M118 31.5h1M122 31.5h1M124 31.5h1M130 31.5h1M132 31.5h6M139 31.5h4M145 31.5h5M35 32.5h1M102 32.5h2M106 32.5h4M124 32.5h1M130 32.5h1M134 32.5h1M142 32.5h1M145 32.5h1M147 32.5h1M149 32.5h1M27 33.5h1M50 33.5h2M53 33.5h2M56 33.5h1M58 33.5h1M60 33.5h1M64 33.5h1M71 33.5h1M77 33.5h3M83 33.5h1M88 33.5h1M93 33.5h1M95 33.5h1M98 33.5h1M104 33.5h1M107 33.5h1M110 33.5h1M112 33.5h1M114 33.5h1M119 33.5h1M121 33.5h1M125 33.5h1M129 33.5h3M137 33.5h1M140 33.5h2M145 33.5h3M150 33.5h1M0 34.5h1M2 34.5h1M7 34.5h2M13 34.5h1M18 34.5h1M20 34.5h2M26 34.5h1M29 34.5h1M33 34.5h1M35 34.5h1M39 34.5h1M45 34.5h1M47 34.5h2M51 34.5h1M57 34.5h1M60 34.5h1M67 34.5h1M69 34.5h1M81 34.5h2M85 34.5h1M106 34.5h1M134 34.5h1M136 34.5h1M138 34.5h1M149 34.5h2M29 35.5h1M54 35.5h1M63 35.5h1M102 35.5h1M104 35.5h1M106 35.5h3M115 35.5h1M121 35.5h1M123 35.5h3M127 35.5h1M130 35.5h3M137 35.5h1M149 35.5h1M50 36.5h2M54 36.5h2M66 36.5h1M69 36.5h2M74 36.5h1M80 36.5h1M82 36.5h1M95 36.5h1M133 36.5h4M141 36.5h2M147 36.5h1M50 37.5h1M53 37.5h6M66 37.5h1M70 37.5h1M77 37.5h1M80 37.5h1M83 37.5h1M87 37.5h2M92 37.5h1M94 37.5h1M97 37.5h4M102 37.5h1M109 37.5h2M113 37.5h1M116 37.5h1M120 37.5h4M127 37.5h1M134 37.5h1M136 37.5h1M138 37.5h1M140 37.5h2M145 37.5h3M149 37.5h1M0 38.5h4M5 38.5h5M11 38.5h3M16 38.5h1M19 38.5h4M24 38.5h2M27 38.5h1M29 38.5h2M33 38.5h2M36 38.5h2M39 38.5h2M42 38.5h1M45 38.5h1M47 38.5h3M53 38.5h1M55 38.5h1M66 38.5h1M70 38.5h2M74 38.5h1M77 38.5h2M82 38.5h1M85 38.5h1M88 38.5h1M92 38.5h1M94 38.5h1M97 38.5h1M101 38.5h3M105 38.5h3M109 38.5h2M112 38.5h1M114 38.5h2M120 38.5h12M133 38.5h4M138 38.5h1M140 38.5h3M145 38.5h1M147 38.5h1M149 38.5h2M56 39.5h2M60 39.5h1M66 39.5h3M79 39.5h1M83 39.5h1M85 39.5h1M87 39.5h1M92 39.5h1M98 39.5h1M132 39.5h4M137 39.5h2M140 39.5h3M145 39.5h1M147 39.5h1M149 39.5h2M3 40.5h1M5 40.5h1M21 40.5h1M50 40.5h1M54 40.5h2M61 40.5h1M66 40.5h1M71 40.5h1M74 40.5h1M78 40.5h1M83 40.5h1M95 40.5h1M130 40.5h1M132 40.5h1M135 40.5h2M145 40.5h3M149 40.5h2M5 41.5h1M9 41.5h1M14 41.5h1M27 41.5h1M29 41.5h1M33 41.5h1M41 41.5h1M47 41.5h1M52 41.5h1M54 41.5h1M56 41.5h1M58 41.5h7M68 41.5h4M74 41.5h3M78 41.5h1M85 41.5h1M87 41.5h2M91 41.5h1M93 41.5h3M98 41.5h2M103 41.5h1M107 41.5h2M110 41.5h2M113 41.5h2M116 41.5h1M118 41.5h2M124 41.5h2M135 41.5h1M137 41.5h1M142 41.5h1M149 41.5h1M20 42.5h1M22 42.5h1M27 42.5h1M29 42.5h1M41 42.5h1M103 42.5h1M113 42.5h5M121 42.5h1M123 42.5h1M129 42.5h1M138 42.5h1M140 42.5h2M150 42.5h1M14 43.5h1M22 43.5h1M24 43.5h1M27 43.5h1M29 43.5h1M53 43.5h1M57 43.5h1M70 43.5h1M77 43.5h1M81 43.5h1M85 43.5h1M87 43.5h1M95 43.5h1M97 43.5h1M100 43.5h2M104 43.5h1M106 43.5h1M109 43.5h1M116 43.5h3M131 43.5h1M134 43.5h1M142 43.5h1M148 43.5h3M31 44.5h1M34 44.5h1M39 44.5h1M45 44.5h1M101 44.5h1M104 44.5h2M116 44.5h2M121 44.5h1M124 44.5h1M138 44.5h1M140 44.5h1M145 44.5h1M147 44.5h1M149 44.5h1M0 45.5h2M6 45.5h1M8 45.5h1M10 45.5h1M24 45.5h1M27 45.5h3M31 45.5h1M42 45.5h1M58 45.5h1M101 45.5h1M103 45.5h1M106 45.5h1M115 45.5h3M121 45.5h2M125 45.5h1M131 45.5h1M146 45.5h1M51 46.5h1M85 46.5h1M95 46.5h1M98 46.5h1M107 46.5h1M116 46.5h1M136 46.5h1M139 46.5h2M149 46.5h1M22 47.5h1M50 47.5h1M55 47.5h2M59 47.5h1M62 47.5h2M69 47.5h2M72 47.5h1M75 47.5h3M79 47.5h1M84 47.5h3M90 47.5h1M92 47.5h1M94 47.5h1M96 47.5h2M100 47.5h1M107 47.5h1M113 47.5h2M116 47.5h1M119 47.5h1M123 47.5h1M126 47.5h1M129 47.5h1M133 47.5h1M135 47.5h1M138 47.5h1M140 47.5h3M149 47.5h1M1 48.5h1M25 48.5h1M27 48.5h1M29 48.5h1M44 48.5h1M70 48.5h1M90 48.5h1M109 48.5h1M117 48.5h2M121 48.5h1M123 48.5h1M126 48.5h1M136 48.5h2M140 48.5h1M145 48.5h1M147 48.5h1M149 48.5h1M14 49.5h1M48 49.5h1M50 49.5h1M52 49.5h1M55 49.5h1M60 49.5h1M77 49.5h2M82 49.5h1M84 49.5h1M87 49.5h2M95 49.5h1M98 49.5h1M100 49.5h1M113 49.5h1M133 49.5h1M136 49.5h1M141 49.5h1M148 49.5h3M6 50.5h1M27 50.5h1M29 50.5h2M34 50.5h1M39 50.5h1M45 50.5h1M55 50.5h2M66 50.5h1M69 50.5h2M75 50.5h1M80 50.5h2M87 50.5h1M92 50.5h1M95 50.5h1M97 50.5h1M100 50.5h1M102 50.5h1M105 50.5h1M108 50.5h1M114 50.5h2M118 50.5h2M122 50.5h1M126 50.5h1M128 50.5h1M131 50.5h1M141 50.5h1M20 51.5h1M28 51.5h1M105 51.5h3M109 51.5h1M112 51.5h1M114 51.5h2M118 51.5h2M125 51.5h1M128 51.5h1M136 51.5h1M141 51.5h1M146 51.5h3M5 52.5h1M14 52.5h1M27 52.5h1M40 52.5h1M45 52.5h1M50 52.5h1M53 52.5h1M58 52.5h1M61 52.5h1M63 52.5h2M66 52.5h1M69 52.5h1M73 52.5h2M78 52.5h1M81 52.5h1M83 52.5h2M88 52.5h2M93 52.5h1M102 52.5h3M106 52.5h1M109 52.5h3M113 52.5h1M120 52.5h1M122 52.5h1M124 52.5h1M126 52.5h1M128 52.5h1M133 52.5h1M140 52.5h3M147 52.5h1M1 53.5h1M10 53.5h1M12 53.5h4M22 53.5h1M24 53.5h2M33 53.5h2M36 53.5h1M42 53.5h1M47 53.5h1M49 53.5h1M55 53.5h2M58 53.5h1M60 53.5h2M63 53.5h1M66 53.5h1M69 53.5h1M74 53.5h2M78 53.5h1M85 53.5h1M88 53.5h1M92 53.5h1M97 53.5h2M106 53.5h1M108 53.5h2M112 53.5h1M122 53.5h1M124 53.5h1M126 53.5h2M132 53.5h1M134 53.5h5M141 53.5h1M145 53.5h3M149 53.5h2M0 54.5h1M6 54.5h1M11 54.5h2M24 54.5h1M29 54.5h1M51 54.5h3M57 54.5h1M60 54.5h1M63 54.5h1M69 54.5h1M73 54.5h1M80 54.5h2M86 54.5h2M96 54.5h1M99 54.5h1M101 54.5h1M106 54.5h1M124 54.5h1M137 54.5h1M142 54.5h1M146 54.5h3M150 54.5h1M5 55.5h1M33 55.5h1M35 55.5h1M41 55.5h1M47 55.5h1M51 55.5h1M56 55.5h1M58 55.5h3M62 55.5h1M66 55.5h1M68 55.5h1M70 55.5h1M72 55.5h1M74 55.5h1M77 55.5h5M88 55.5h2M92 55.5h2M95 55.5h2M111 55.5h1M117 55.5h2M120 55.5h1M122 55.5h1M128 55.5h1M132 55.5h1M141 55.5h2M145 55.5h1M147 55.5h1M0 56.5h1M4 56.5h1M42 56.5h1M50 56.5h3M57 56.5h1M59 56.5h1M62 56.5h1M67 56.5h1M70 56.5h1M72 56.5h1M83 56.5h3M87 56.5h1M89 56.5h2M92 56.5h3M97 56.5h1M99 56.5h3M105 56.5h1M109 56.5h1M111 56.5h2M117 56.5h1M122 56.5h1M138 56.5h1M0 57.5h1M3 57.5h1M8 57.5h1M21 57.5h1M26 57.5h1M29 57.5h1M33 57.5h1M36 57.5h1M39 57.5h1M42 57.5h1M44 57.5h2M48 57.5h1M52 57.5h1M55 57.5h1M58 57.5h1M61 57.5h1M64 57.5h1M66 57.5h1M71 57.5h1M74 57.5h1M80 57.5h2M88 57.5h1M98 57.5h1M120 57.5h1M126 57.5h1M134 57.5h1M137 57.5h1M140 57.5h2M145 57.5h3M149 57.5h1M8 58.5h1M11 58.5h1M13 58.5h1M18 58.5h1M20 58.5h1M27 58.5h1M29 58.5h1M31 58.5h1M85 58.5h1M97 58.5h1M104 58.5h1M108 58.5h1M110 58.5h1M115 58.5h2M123 58.5h1M125 58.5h2M128 58.5h1M131 58.5h1M133 58.5h1M135 58.5h2M141 58.5h1M146 58.5h2M149 58.5h1M10 59.5h1M12 59.5h1M14 59.5h1M23 59.5h1M25 59.5h1M29 59.5h1M31 59.5h1M35 59.5h3M42 59.5h1M44 59.5h1M47 59.5h3M85 59.5h1M103 59.5h1M113 59.5h1M121 59.5h1M124 59.5h1M127 59.5h1M138 59.5h1M140 59.5h3M145 59.5h3M1 60.5h1M5 60.5h1M7 60.5h2M19 60.5h3M25 60.5h3M38 60.5h1M52 60.5h1M60 60.5h1M62 60.5h1M66 60.5h1M71 60.5h1M75 60.5h1M77 60.5h1M87 60.5h1M89 60.5h1M93 60.5h1M95 60.5h1M97 60.5h1M102 60.5h1M105 60.5h2M111 60.5h1M116 60.5h1M123 60.5h3M128 60.5h1M131 60.5h1"/>
<path stroke="#fbcdbf" d="M8 0.5h1M38 0.5h1M71 0.5h1M133 0.5h1M137 0.5h1M140 0.5h1M146 0.5h1M150 0.5h1M80 1.5h1M139 1.5h1M141 1.5h1M61 2.5h1M77 2.5h1M133 2.5h1M137 2.5h1M139 2.5h1M148 2.5h1M150 2.5h1M135 3.5h1M140 3.5h2M147 3.5h1M149 3.5h1M6 4.5h1M69 4.5h1M83 4.5h1M96 4.5h1M98 4.5h1M106 4.5h1M148 4.5h3M140 5.5h1M145 5.5h1M147 5.5h1M150 5.5h1M21 6.5h1M43 6.5h1M109 6.5h1M139 6.5h1M145 6.5h1M150 6.5h1M1 7.5h1M28 7.5h2M34 7.5h1M79 7.5h1M131 7.5h1M141 7.5h1M148 7.5h1M8 8.5h1M82 8.5h1M87 8.5h1M128 8.5h1M137 8.5h1M145 8.5h1M149 8.5h1M29 9.5h1M91 9.5h1M99 9.5h1M133 9.5h1M150 9.5h1M63 10.5h1M133 10.5h1M135 10.5h1M137 10.5h1M144 10.5h1M149 10.5h2M90 11.5h1M29 12.5h1M141 12.5h1M150 12.5h1M84 13.5h1M107 13.5h1M140 13.5h2M144 13.5h1M148 13.5h1M16 14.5h1M136 14.5h1M141 14.5h1M7 15.5h1M13 15.5h1M106 15.5h1M147 15.5h1M150 15.5h1M83 16.5h1M104 16.5h1M140 16.5h2M115 17.5h1M133 18.5h1M150 18.5h1M2 19.5h1M15 19.5h1M29 19.5h1M57 19.5h1M75 19.5h1M107 19.5h1M110 19.5h1M115 19.5h1M123 19.5h4M129 19.5h1M132 19.5h2M136 19.5h1M138 19.5h3M144 19.5h1M146 19.5h1M148 19.5h3M107 20.5h1M123 20.5h1M136 20.5h1M76 21.5h1M133 21.5h1M135 21.5h1M139 21.5h1M149 21.5h1M136 23.5h1M22 25.5h1M71 25.5h1M76 25.5h1M80 25.5h1M132 25.5h1M136 25.5h2M139 25.5h1M144 25.5h1M146 25.5h1M5 26.5h1M51 26.5h1M132 26.5h1M144 26.5h1M3 27.5h1M10 27.5h1M12 27.5h1M27 27.5h1M34 27.5h1M127 27.5h1M3 28.5h1M8 28.5h1M29 28.5h1M37 28.5h1M40 28.5h1M63 28.5h1M123 28.5h1M135 28.5h1M141 28.5h1M144 28.5h2M147 28.5h1M4 29.5h1M9 29.5h1M11 29.5h1M14 29.5h1M18 29.5h1M30 29.5h1M32 29.5h1M34 29.5h1M37 29.5h1M54 29.5h2M5 30.5h1M7 30.5h2M16 30.5h1M20 30.5h1M32 30.5h1M140 30.5h1M150 30.5h1M138 31.5h1M150 31.5h1M104 32.5h1M118 32.5h1M133 32.5h1M146 32.5h1M38 33.5h2M106 33.5h1M138 33.5h1M144 33.5h1M149 33.5h1M132 34.5h1M92 35.5h1M133 35.5h1M138 35.5h1M148 35.5h1M1 36.5h1M35 36.5h1M122 36.5h1M146 36.5h1M148 36.5h1M25 37.5h1M89 37.5h1M119 37.5h1M137 37.5h1M148 37.5h1M41 38.5h1M44 38.5h1M69 38.5h1M73 38.5h1M89 38.5h1M108 38.5h1M132 38.5h1M146 38.5h1M148 38.5h1M5 39.5h1M73 39.5h1M78 39.5h1M100 39.5h1M146 39.5h1M19 40.5h1M79 40.5h1M96 40.5h1M128 40.5h1M133 40.5h1M138 40.5h4M1 41.5h1M148 41.5h1M150 41.5h1M15 42.5h1M91 42.5h1M137 42.5h1M144 42.5h1M148 42.5h1M63 43.5h1M107 43.5h1M124 43.5h1M36 44.5h1M92 44.5h1M118 44.5h1M132 44.5h1M136 44.5h2M141 44.5h1M5 45.5h1M21 45.5h1M133 45.5h1M148 45.5h2M58 46.5h1M87 46.5h1M19 47.5h1M120 47.5h1M150 47.5h1M43 48.5h1M125 48.5h1M132 48.5h2M135 48.5h1M139 48.5h1M150 48.5h1M70 49.5h1M107 49.5h1M120 49.5h1M137 49.5h1M58 50.5h1M123 50.5h1M125 50.5h1M140 50.5h1M132 51.5h1M149 51.5h2M29 52.5h1M33 52.5h1M82 52.5h1M108 52.5h1M118 52.5h1M138 52.5h1M3 53.5h1M54 53.5h1M133 53.5h1M144 53.5h1M148 53.5h1M58 54.5h1M132 54.5h1M140 54.5h1M145 54.5h1M34 55.5h1M50 55.5h1M102 55.5h1M110 55.5h1M137 55.5h1M146 55.5h1M150 55.5h1M30 56.5h1M37 56.5h1M56 56.5h1M132 56.5h1M16 57.5h1M43 57.5h1M47 57.5h1M132 57.5h2M148 57.5h1M150 57.5h1M86 58.5h1M105 58.5h1M145 58.5h1M119 59.5h1M139 59.5h1M41 60.5h1M69 60.5h1M139 60.5h1M144 60.5h1"/>
<path stroke="#b4a4df" d="M23 0.5h1M67 2.5h1M72 2.5h1M16 9.5h1M21 9.5h1M108 9.5h1M72 17.5h1M68 18.5h1M135 19.5h1M137 19.5h1M141 19.5h1M145 19.5h1M147 19.5h1M62 22.5h1M67 22.5h1M46 23.5h1M84 23.5h1M93 23.5h1M96 23.5h1M137 23.5h1M41 24.5h1M71 24.5h2M91 24.5h1M38 25.5h1M47 25.5h1M54 25.5h1M72 25.5h1M90 25.5h1M97 25.5h1M43 29.5h1M63 29.5h1M82 29.5h1M104 30.5h1M115 39.5h1M126 39.5h1M129 39.5h1M23 46.5h1M5 47.5h1M50 48.5h1M68 48.5h1M76 48.5h1M138 48.5h1M144 48.5h1M148 48.5h1M52 51.5h1"/>
<path stroke="#c3b5e7" d="M28 0.5h1M106 0.5h1M111 0.5h1M117 0.5h1M119 0.5h1M123 0.5h1M129 0.5h2M13 2.5h1M17 2.5h1M62 2.5h1M64 2.5h2M69 2.5h1M94 2.5h1M100 2.5h1M12 8.5h1M30 8.5h1M1 9.5h3M5 9.5h1M12 9.5h1M14 9.5h1M17 9.5h2M20 9.5h1M25 9.5h1M32 9.5h1M40 9.5h3M46 9.5h1M49 9.5h1M101 9.5h1M12 10.5h1M16 10.5h1M28 10.5h1M30 10.5h3M36 10.5h1M46 10.5h1M5 11.5h1M12 11.5h1M17 11.5h1M33 11.5h1M37 11.5h1M40 11.5h1M67 11.5h1M67 13.5h1M98 13.5h1M62 15.5h1M75 15.5h1M86 15.5h1M0 16.5h1M4 16.5h1M13 16.5h1M17 16.5h1M24 16.5h1M27 16.5h1M32 16.5h2M38 16.5h1M40 16.5h1M42 16.5h1M44 16.5h1M46 16.5h1M88 17.5h1M125 17.5h1M76 18.5h1M114 18.5h1M119 18.5h1M86 19.5h1M40 20.5h1M0 21.5h5M9 21.5h1M11 21.5h2M14 21.5h6M23 21.5h4M30 21.5h3M34 21.5h4M76 22.5h1M96 22.5h1M39 23.5h1M42 23.5h1M48 23.5h2M54 23.5h2M61 23.5h3M68 23.5h2M72 23.5h3M79 23.5h1M86 23.5h1M99 23.5h1M40 24.5h1M42 24.5h4M47 24.5h6M54 24.5h1M59 24.5h1M65 24.5h1M68 24.5h2M74 24.5h2M77 24.5h1M79 24.5h2M83 24.5h1M85 24.5h2M88 24.5h3M93 24.5h1M97 24.5h2M39 25.5h1M48 25.5h2M51 25.5h3M55 25.5h1M57 25.5h1M59 25.5h1M61 25.5h1M65 25.5h1M73 25.5h1M83 25.5h2M96 25.5h1M19 26.5h1M50 26.5h1M52 26.5h1M54 26.5h1M68 26.5h1M71 26.5h1M75 26.5h1M77 26.5h1M90 26.5h1M93 26.5h2M72 27.5h1M143 27.5h2M69 28.5h1M88 28.5h1M99 28.5h1M40 29.5h1M47 29.5h1M51 29.5h1M80 29.5h1M84 29.5h1M86 29.5h1M90 29.5h2M93 29.5h1M67 30.5h1M96 30.5h1M112 30.5h1M125 30.5h1M73 31.5h1M67 32.5h1M37 35.5h1M113 36.5h1M18 39.5h1M104 39.5h4M111 39.5h1M113 39.5h1M120 39.5h1M128 39.5h1M130 39.5h1M18 40.5h1M59 42.5h1M63 42.5h1M69 42.5h1M72 42.5h5M81 42.5h1M89 42.5h2M64 44.5h1M76 44.5h1M81 44.5h1M12 46.5h1M18 46.5h1M21 46.5h1M26 46.5h1M35 46.5h2M46 46.5h1M90 46.5h1M25 47.5h2M30 47.5h1M36 47.5h2M48 47.5h1M61 48.5h1M72 48.5h1M74 48.5h1M79 48.5h1M93 48.5h1M109 49.5h1M117 49.5h1M63 51.5h1M65 51.5h3M72 51.5h2M96 51.5h1M112 54.5h1M58 58.5h1M69 58.5h1M52 59.5h1M72 59.5h2M104 59.5h1"/>
<path stroke="#f7d8cf" d="M53 0.5h1M57 0.5h1M76 0.5h1M78 0.5h1M82 0.5h1M84 0.5h1M88 0.5h1M92 0.5h1M105 0.5h1M127 0.5h1M18 2.5h1M46 2.5h1M103 2.5h1M113 2.5h1M117 2.5h1M122 2.5h1M8 3.5h1M57 3.5h1M69 3.5h1M78 3.5h1M82 3.5h1M87 3.5h1M4 4.5h1M22 4.5h1M26 4.5h1M48 4.5h1M55 4.5h1M114 4.5h1M120 4.5h1M143 4.5h1M41 6.5h1M35 7.5h1M87 7.5h1M53 8.5h1M70 8.5h1M98 8.5h1M108 8.5h1M131 8.5h1M89 9.5h1M103 9.5h1M128 9.5h1M6 10.5h1M23 10.5h1M78 12.5h1M75 13.5h1M5 14.5h1M9 14.5h1M49 14.5h1M51 14.5h1M77 14.5h1M100 14.5h1M115 14.5h1M63 15.5h1M60 16.5h1M90 16.5h1M66 18.5h1M72 18.5h1M6 19.5h1M8 19.5h2M12 19.5h1M20 19.5h1M22 19.5h1M33 19.5h1M104 19.5h1M106 19.5h1M114 19.5h1M130 19.5h1M143 19.5h1M82 20.5h1M86 21.5h1M143 21.5h1M46 22.5h1M36 23.5h1M108 23.5h1M123 24.5h1M13 25.5h1M27 25.5h1M34 25.5h1M86 26.5h1M143 26.5h1M1 27.5h1M4 27.5h1M6 27.5h2M16 27.5h1M18 27.5h1M21 27.5h3M25 27.5h1M28 27.5h2M31 27.5h1M36 27.5h1M0 28.5h2M10 28.5h1M12 28.5h1M14 28.5h2M17 28.5h1M24 28.5h4M31 28.5h2M1 29.5h2M10 29.5h1M19 29.5h1M24 29.5h1M35 29.5h1M111 29.5h1M4 30.5h1M9 30.5h1M12 30.5h1M15 30.5h1M21 30.5h1M23 30.5h1M30 30.5h1M33 30.5h1M50 30.5h1M72 30.5h1M89 30.5h1M111 30.5h1M18 31.5h1M28 31.5h1M61 31.5h1M74 31.5h1M5 32.5h1M80 32.5h1M82 32.5h1M113 32.5h1M116 33.5h1M118 33.5h1M97 34.5h1M128 34.5h1M87 35.5h1M5 36.5h1M143 36.5h1M38 37.5h1M50 38.5h1M143 39.5h1M123 41.5h1M10 42.5h1M24 42.5h1M51 42.5h1M99 42.5h1M67 43.5h1M113 43.5h1M143 43.5h1M88 44.5h1M143 44.5h1M38 45.5h1M61 45.5h1M108 45.5h1M110 45.5h1M123 45.5h2M130 45.5h1M0 46.5h1M6 46.5h1M74 46.5h1M53 47.5h1M80 47.5h1M127 47.5h1M22 48.5h1M63 48.5h1M41 49.5h1M8 50.5h1M103 50.5h1M6 51.5h1M12 51.5h1M21 51.5h1M36 51.5h1M76 51.5h1M103 51.5h1M30 52.5h1M92 52.5h1M105 52.5h1M82 53.5h1M27 54.5h1M35 54.5h1M74 54.5h1M94 54.5h1M17 55.5h1M53 55.5h1M82 55.5h2M124 55.5h1M82 56.5h1M95 56.5h1M106 56.5h1M129 56.5h1M114 57.5h1M2 58.5h1M1 59.5h1M32 59.5h1M63 59.5h1M67 59.5h1M46 60.5h1"/>
<path stroke="#fabead" d="M56 0.5h1M142 1.5h1M42 2.5h1M115 2.5h1M134 3.5h1M134 4.5h1M134 5.5h1M142 5.5h1M6 6.5h1M85 6.5h1M52 7.5h1M128 7.5h1M15 8.5h1M123 8.5h1M68 10.5h1M99 10.5h1M142 10.5h1M48 11.5h1M86 11.5h1M103 14.5h1M114 14.5h1M121 14.5h1M142 14.5h1M78 16.5h1M23 17.5h1M25 17.5h1M29 17.5h1M42 17.5h1M77 17.5h1M142 17.5h1M103 19.5h1M105 19.5h1M109 19.5h1M117 19.5h2M127 19.5h1M134 19.5h1M142 19.5h1M45 20.5h1M118 20.5h1M142 21.5h1M14 22.5h1M53 22.5h1M127 22.5h1M142 23.5h1M118 24.5h1M142 24.5h1M21 25.5h1M23 25.5h1M115 25.5h1M122 25.5h1M114 26.5h1M142 26.5h1M13 27.5h1M20 27.5h1M120 27.5h1M142 27.5h1M2 28.5h1M13 28.5h1M34 28.5h1M6 29.5h1M8 29.5h1M28 29.5h1M71 29.5h1M1 30.5h1M35 30.5h1M38 30.5h1M113 31.5h1M59 33.5h1M101 33.5h1M27 34.5h1M129 34.5h1M59 36.5h1M71 36.5h1M89 36.5h1M113 38.5h1M42 40.5h1M99 40.5h1M134 40.5h1M142 40.5h1M1 42.5h1M42 42.5h1M13 43.5h1M40 43.5h1M68 43.5h1M89 43.5h1M142 44.5h1M74 45.5h1M78 45.5h1M91 45.5h1M42 46.5h2M49 46.5h1M130 46.5h1M68 47.5h1M10 48.5h1M91 48.5h1M134 48.5h1M6 49.5h1M68 49.5h1M60 51.5h1M142 51.5h1M77 52.5h1M117 52.5h1M52 53.5h1M39 54.5h1M66 54.5h1M78 54.5h1M64 55.5h1M127 55.5h1M77 56.5h1M120 56.5h1M18 57.5h1M40 57.5h1M59 57.5h1M40 59.5h1M55 59.5h1M47 60.5h1M55 60.5h1"/>
<path stroke="#f7a08a" d="M61 0.5h1M143 0.5h1M63 2.5h1M47 3.5h1M143 5.5h1M98 6.5h1M143 6.5h1M50 8.5h1M104 8.5h1M119 9.5h1M37 10.5h1M123 10.5h1M32 11.5h1M51 11.5h1M99 12.5h1M115 12.5h1M79 13.5h1M60 14.5h1M144 15.5h1M143 16.5h1M5 17.5h2M44 17.5h1M10 19.5h1M28 19.5h1M42 19.5h1M121 19.5h1M128 20.5h1M59 26.5h1M105 26.5h1M74 27.5h1M96 27.5h1M110 27.5h1M4 28.5h1M110 28.5h1M21 29.5h1M53 29.5h1M68 29.5h2M124 29.5h1M28 30.5h1M97 31.5h1M128 31.5h1M99 32.5h1M129 32.5h1M143 32.5h1M66 33.5h1M37 34.5h1M108 34.5h1M116 34.5h1M60 36.5h1M91 37.5h1M128 37.5h1M91 40.5h1M105 41.5h1M9 43.5h1M32 43.5h1M83 43.5h1M110 44.5h1M114 45.5h1M143 46.5h1M81 47.5h1M143 47.5h1M39 48.5h1M130 48.5h1M71 49.5h1M81 49.5h1M0 50.5h1M4 52.5h1M80 53.5h1M87 53.5h1M11 55.5h1M44 55.5h1M61 55.5h1M90 55.5h1M21 56.5h1M119 56.5h1M130 56.5h1M119 57.5h1M122 57.5h1M144 58.5h1M5 59.5h2M11 59.5h1M27 59.5h1M54 60.5h1"/>
<path stroke="#de3522" d="M132 0.5h1M134 0.5h1M139 0.5h1M146 4.5h1M77 8.5h1M139 8.5h1M139 9.5h1M142 9.5h1M149 9.5h1M139 12.5h1M146 12.5h1M70 14.5h1M132 14.5h1M149 14.5h1M139 15.5h1M139 16.5h1M38 18.5h1M45 18.5h1M139 18.5h1M112 19.5h1M122 19.5h1M139 20.5h1M142 20.5h1M139 22.5h1M8 24.5h1M18 28.5h1M23 28.5h1M36 28.5h1M92 28.5h1M101 28.5h1M3 29.5h1M12 29.5h1M15 29.5h1M31 29.5h1M14 30.5h1M25 30.5h1M27 30.5h1M29 30.5h1M31 30.5h1M34 30.5h1M65 33.5h1M84 33.5h1M103 33.5h1M117 33.5h1M139 33.5h1M142 33.5h1M139 35.5h1M146 35.5h1M38 36.5h1M139 36.5h1M139 37.5h1M139 38.5h1M39 41.5h1M149 42.5h1M139 44.5h1M139 47.5h1M134 49.5h2M142 49.5h1M131 51.5h1M139 53.5h1M142 53.5h1M91 54.5h1M134 54.5h1M149 54.5h1M116 55.5h1M91 56.5h1M139 57.5h1M142 57.5h1M142 58.5h1M114 60.5h1"/>
<path stroke="#f38e79" d="M141 0.5h1M147 0.5h3M77 3.5h1M132 3.5h1M148 3.5h1M132 4.5h1M139 4.5h2M108 5.5h1M133 5.5h1M139 5.5h1M141 5.5h1M146 5.5h1M133 6.5h1M141 6.5h1M146 6.5h3M78 8.5h1M141 8.5h1M148 8.5h1M73 9.5h1M140 9.5h1M146 9.5h1M148 9.5h1M3 10.5h1M132 10.5h1M139 10.5h3M146 10.5h3M129 11.5h1M140 11.5h1M27 12.5h1M132 12.5h2M138 12.5h1M148 12.5h1M1 13.5h1M75 14.5h1M129 14.5h1M139 14.5h2M148 14.5h1M132 15.5h1M135 15.5h1M137 15.5h1M141 15.5h1M135 16.5h3M26 17.5h1M131 17.5h1M33 18.5h1M136 18.5h1M138 18.5h1M140 18.5h1M113 19.5h1M79 20.5h1M138 20.5h1M148 20.5h1M140 21.5h1M8 22.5h1M131 22.5h2M136 22.5h1M30 23.5h1M66 23.5h1M132 23.5h1M138 23.5h1M17 24.5h1M31 24.5h1M132 24.5h1M140 24.5h1M16 25.5h1M30 25.5h1M148 25.5h2M136 26.5h1M139 26.5h2M5 27.5h1M9 28.5h1M149 28.5h1M7 29.5h1M22 29.5h2M33 29.5h1M131 29.5h1M117 32.5h1M137 32.5h3M150 32.5h1M7 33.5h1M120 33.5h1M79 34.5h1M133 34.5h1M135 34.5h1M137 34.5h1M141 34.5h1M148 34.5h1M22 35.5h1M150 35.5h1M132 36.5h1M137 36.5h2M149 36.5h2M42 37.5h1M65 37.5h1M150 37.5h1M35 38.5h1M117 38.5h1M137 38.5h1M122 39.5h1M139 39.5h1M6 40.5h1M38 40.5h1M132 41.5h1M132 42.5h1M139 42.5h1M75 43.5h1M84 43.5h1M105 43.5h1M132 43.5h2M135 43.5h2M138 43.5h2M80 44.5h1M146 44.5h1M148 44.5h1M150 44.5h1M132 46.5h1M138 46.5h1M71 47.5h1M87 47.5h1M132 47.5h1M136 47.5h1M75 48.5h1M86 48.5h1M100 48.5h1M107 48.5h1M141 48.5h1M146 48.5h1M65 49.5h1M132 49.5h1M139 49.5h1M33 50.5h1M74 50.5h1M121 50.5h1M137 50.5h1M150 50.5h1M58 51.5h1M139 51.5h1M139 52.5h1M148 52.5h1M140 53.5h1M37 55.5h1M86 55.5h1M91 55.5h1M106 55.5h1M140 55.5h1M148 55.5h1M82 57.5h1M138 57.5h1M26 58.5h1M53 58.5h1M132 58.5h1M137 58.5h4M150 58.5h1M13 59.5h1M91 59.5h1M33 60.5h1"/>
<path stroke="#ef7c67" d="M142 0.5h1M109 2.5h1M126 2.5h1M134 6.5h1M142 6.5h1M51 8.5h1M105 8.5h1M116 8.5h1M134 8.5h1M100 9.5h1M129 10.5h1M134 10.5h1M20 11.5h1M110 11.5h1M134 12.5h1M142 12.5h1M102 14.5h1M118 14.5h1M54 15.5h1M123 15.5h1M134 15.5h1M57 16.5h1M105 16.5h1M70 17.5h1M84 17.5h1M123 17.5h1M59 19.5h1M102 19.5h1M95 20.5h1M121 20.5h1M39 21.5h1M58 22.5h1M43 23.5h1M134 23.5h1M3 24.5h1M23 24.5h1M55 24.5h1M126 24.5h1M142 25.5h1M99 27.5h1M106 27.5h1M21 28.5h2M30 28.5h1M60 28.5h1M76 28.5h1M80 28.5h1M29 29.5h1M35 31.5h1M48 31.5h1M111 33.5h1M142 34.5h1M38 35.5h1M53 35.5h1M112 35.5h1M103 36.5h1M13 37.5h1M117 37.5h1M125 39.5h1M45 42.5h1M119 44.5h1M15 45.5h1M26 45.5h1M39 45.5h1M71 45.5h1M30 46.5h1M61 46.5h1M113 46.5h1M142 46.5h1M134 47.5h1M142 48.5h1M86 49.5h1M102 49.5h1M142 50.5h1M87 51.5h1M54 54.5h1M119 54.5h1M117 57.5h1M30 58.5h1M46 58.5h1M81 58.5h1M109 58.5h1M122 58.5h1M134 58.5h1M33 59.5h1M70 59.5h1M111 59.5h1M119 60.5h1"/>
<path stroke="#e24733" d="M148 1.5h1M51 3.5h1M137 4.5h1M137 5.5h1M148 5.5h1M137 6.5h1M69 7.5h1M140 8.5h1M97 9.5h1M55 10.5h1M106 10.5h1M145 10.5h1M148 11.5h1M144 12.5h1M87 14.5h1M140 15.5h1M16 17.5h1M53 18.5h1M30 19.5h1M140 20.5h1M144 20.5h1M130 21.5h1M140 23.5h1M31 25.5h1M10 26.5h1M110 26.5h1M11 28.5h1M37 30.5h1M112 31.5h1M131 31.5h1M140 32.5h1M148 32.5h1M148 33.5h1M24 34.5h1M83 34.5h1M111 35.5h1M140 35.5h1M140 36.5h1M71 37.5h1M118 37.5h1M65 38.5h1M80 38.5h1M148 39.5h1M148 40.5h1M53 41.5h1M112 41.5h1M144 41.5h1M79 45.5h1M119 45.5h1M144 46.5h1M88 47.5h1M118 47.5h1M144 47.5h1M148 47.5h1M33 49.5h1M140 49.5h1M112 50.5h1M101 51.5h1M140 51.5h1M61 54.5h1M84 54.5h1M100 55.5h1M144 57.5h1M148 58.5h1M137 59.5h1M148 59.5h1M51 60.5h1"/>
<path stroke="#f8af9c" d="M36 2.5h1M114 3.5h1M74 6.5h1M60 8.5h1M76 9.5h1M123 9.5h1M77 12.5h1M66 13.5h1M126 13.5h1M92 14.5h1M8 17.5h1M14 17.5h1M40 17.5h1M64 18.5h1M21 19.5h1M44 19.5h1M101 19.5h1M116 19.5h1M22 20.5h1M101 20.5h1M29 22.5h1M51 22.5h1M53 23.5h1M71 23.5h1M119 23.5h1M20 25.5h1M41 25.5h1M127 25.5h1M126 26.5h1M9 27.5h1M30 27.5h1M49 27.5h1M19 28.5h1M28 28.5h1M33 28.5h1M117 28.5h1M13 29.5h1M16 29.5h1M27 29.5h1M78 29.5h1M11 30.5h1M44 30.5h1M41 32.5h1M73 32.5h1M86 32.5h1M97 32.5h1M62 33.5h1M80 33.5h1M32 34.5h1M111 34.5h1M116 35.5h1M9 36.5h1M112 37.5h1M4 38.5h1M91 38.5h1M116 38.5h1M42 39.5h1M51 39.5h1M22 40.5h1M119 40.5h1M106 41.5h1M129 41.5h1M12 43.5h1M39 43.5h1M11 45.5h1M19 45.5h1M34 45.5h1M51 48.5h1M81 48.5h1M83 49.5h1M52 52.5h1M129 52.5h1M91 53.5h1M103 55.5h1M77 57.5h1M87 57.5h1M95 57.5h1M75 58.5h1M106 58.5h1M130 59.5h1M81 60.5h1"/>
<path stroke="#e65945" d="M52 2.5h1M65 3.5h1M54 10.5h1M62 10.5h1M143 10.5h1M114 12.5h1M122 12.5h1M97 14.5h1M6 18.5h1M77 18.5h1M118 21.5h1M143 22.5h1M45 27.5h1M7 28.5h1M35 28.5h1M39 29.5h1M24 30.5h1M52 30.5h1M87 30.5h1M124 33.5h1M42 34.5h1M31 38.5h1M27 40.5h1M55 41.5h1M9 42.5h1M60 43.5h1M128 45.5h1M110 47.5h1M103 48.5h1M122 51.5h1M97 55.5h1M22 56.5h1M106 57.5h1M39 58.5h1M15 59.5h1M143 59.5h1M37 60.5h1"/>
<path stroke="#ea6a56" d="M19 3.5h1M96 8.5h1M101 8.5h1M75 11.5h1M115 16.5h1M3 17.5h1M60 17.5h1M25 18.5h1M104 18.5h1M67 19.5h1M116 23.5h1M104 24.5h1M119 24.5h1M35 27.5h1M120 28.5h1M5 29.5h1M26 29.5h1M36 29.5h1M49 29.5h1M6 30.5h1M13 30.5h1M75 30.5h1M0 31.5h1M56 31.5h1M14 33.5h1M94 33.5h1M62 34.5h1M91 35.5h1M84 36.5h1M9 37.5h1M74 37.5h1M90 37.5h1M28 39.5h1M64 39.5h1M90 39.5h1M120 40.5h1M104 41.5h1M39 42.5h1M84 42.5h1M120 45.5h1M108 46.5h1M29 47.5h1M91 47.5h1M25 50.5h1M111 51.5h1M120 51.5h1M23 52.5h1M57 52.5h1M91 52.5h1M51 53.5h1M120 54.5h1M63 55.5h1M104 56.5h1M102 57.5h1M128 57.5h1M87 58.5h1"/>
<path stroke="#a593d8" d="M64 25.5h1"/>
</g>
<rect x="11.60" y="110.7" width="89.80" height="2.4" fill="#5cb84a"/>
<rect x="101.40" y="110.7" width="91.60" height="2.4" fill="#3b73ad"/>
<rect x="193.00" y="110.7" width="55.68" height="2.4" fill="#e8a04a"/>
<rect x="248.68" y="110.7" width="34.12" height="2.4" fill="#d0484e"/>
<rect x="283.3" y="113.10" width="2.4" height="46.30" fill="#c49a3a"/>
<rect x="283.3" y="159.40" width="2.4" height="23.15" fill="#4a64b4"/>
<rect x="283.3" y="182.55" width="2.4" height="74.08" fill="#5ac8dc"/>
<rect x="283.3" y="256.63" width="2.4" height="64.82" fill="#c8284e"/>
<rect x="283.3" y="321.45" width="2.4" height="74.08" fill="#48b83a"/>
<text transform="translate(287.2,117.00) scale(1,1.080)" font-size="5.2" fill="#222">LBP</text>
<text transform="translate(287.2,121.63) scale(1,1.080)" font-size="5.2" fill="#222">DDT</text>
<text transform="translate(287.2,126.26) scale(1,1.080)" font-size="5.2" fill="#222">PLA2G7</text>
<text transform="translate(287.2,130.89) scale(1,1.080)" font-size="5.2" fill="#222">C3</text>
<text transform="translate(287.2,135.52) scale(1,1.080)" font-size="5.2" fill="#222">S100A9</text>
<text transform="translate(287.2,140.15) scale(1,1.080)" font-size="5.2" fill="#222">S100A8</text>
<text transform="translate(287.2,144.78) scale(1,1.080)" font-size="5.2" fill="#222">S100A12</text>
<text transform="translate(287.2,149.41) scale(1,1.080)" font-size="5.2" fill="#222">PRDX1</text>
<text transform="translate(287.2,154.04) scale(1,1.080)" font-size="5.2" fill="#222">SERPINE1</text>
<text transform="translate(287.2,158.67) scale(1,1.080)" font-size="5.2" fill="#222">PGLYRP1</text>
<text transform="translate(287.2,163.30) scale(1,1.080)" font-size="5.2" fill="#222">MMP14</text>
<text transform="translate(287.2,167.93) scale(1,1.080)" font-size="5.2" fill="#222">MIF</text>
<text transform="translate(287.2,172.56) scale(1,1.080)" font-size="5.2" fill="#222">CSF1</text>
<text transform="translate(287.2,177.19) scale(1,1.080)" font-size="5.2" fill="#222">RARRES2</text>
<text transform="translate(287.2,181.82) scale(1,1.080)" font-size="5.2" fill="#222">C5</text>
<text transform="translate(287.2,186.45) scale(1,1.080)" font-size="5.2" fill="#222">SERPINA3</text>
<text transform="translate(287.2,191.08) scale(1,1.080)" font-size="5.2" fill="#222">CRM2</text>
<text transform="translate(287.2,195.71) scale(1,1.080)" font-size="5.2" fill="#222">PF4</text>
<text transform="translate(287.2,200.34) scale(1,1.080)" font-size="5.2" fill="#222">SERPING1</text>
<text transform="translate(287.2,204.97) scale(1,1.080)" font-size="5.2" fill="#222">AHSG</text>
<text transform="translate(287.2,209.60) scale(1,1.080)" font-size="5.2" fill="#222">PSAP</text>
<text transform="translate(287.2,214.23) scale(1,1.080)" font-size="5.2" fill="#222">FGB</text>
<text transform="translate(287.2,218.86) scale(1,1.080)" font-size="5.2" fill="#222">LGALS3BP</text>
<text transform="translate(287.2,223.49) scale(1,1.080)" font-size="5.2" fill="#222">SERPINA1</text>
<text transform="translate(287.2,228.12) scale(1,1.080)" font-size="5.2" fill="#222">TF</text>
<text transform="translate(287.2,232.75) scale(1,1.080)" font-size="5.2" fill="#222">APOH</text>
<text transform="translate(287.2,237.38) scale(1,1.080)" font-size="5.2" fill="#222">A1BG</text>
<text transform="translate(287.2,242.01) scale(1,1.080)" font-size="5.2" fill="#222">HRG</text>
<text transform="translate(287.2,246.64) scale(1,1.080)" font-size="5.2" fill="#222">THBS1</text>
<text transform="translate(287.2,251.27) scale(1,1.080)" font-size="5.2" fill="#222">F2</text>
<text transform="translate(287.2,255.90) scale(1,1.080)" font-size="5.2" fill="#222">HPSE</text>
<text transform="translate(287.2,260.53) scale(1,1.080)" font-size="5.2" fill="#222">EIF5A</text>
<text transform="translate(287.2,265.16) scale(1,1.080)" font-size="5.2" fill="#222">YWHAE</text>
<text transform="translate(287.2,269.79) scale(1,1.080)" font-size="5.2" fill="#222">SOD1</text>
<text transform="translate(287.2,274.42) scale(1,1.080)" font-size="5.2" fill="#222">PDCD6</text>
<text transform="translate(287.2,279.05) scale(1,1.080)" font-size="5.2" fill="#222">YWHAH</text>
<text transform="translate(287.2,283.68) scale(1,1.080)" font-size="5.2" fill="#222">YWHAZ</text>
<text transform="translate(287.2,288.31) scale(1,1.080)" font-size="5.2" fill="#222">RHOA</text>
<text transform="translate(287.2,292.94) scale(1,1.080)" font-size="5.2" fill="#222">CYCS</text>
<text transform="translate(287.2,297.57) scale(1,1.080)" font-size="5.2" fill="#222">HSPE1</text>
<text transform="translate(287.2,302.20) scale(1,1.080)" font-size="5.2" fill="#222">LDHA</text>
<text transform="translate(287.2,306.83) scale(1,1.080)" font-size="5.2" fill="#222">ADAMTSL4</text>
<text transform="translate(287.2,311.46) scale(1,1.080)" font-size="5.2" fill="#222">GAPDH</text>
<text transform="translate(287.2,316.09) scale(1,1.080)" font-size="5.2" fill="#222">CTSH</text>
<text transform="translate(287.2,320.72) scale(1,1.080)" font-size="5.2" fill="#222">YWHAQ</text>
<text transform="translate(287.2,325.35) scale(1,1.080)" font-size="5.2" fill="#222">PRDX2</text>
<text transform="translate(287.2,329.98) scale(1,1.080)" font-size="5.2" fill="#222">IGFBP3</text>
<text transform="translate(287.2,334.61) scale(1,1.080)" font-size="5.2" fill="#222">INHBE</text>
<text transform="translate(287.2,339.24) scale(1,1.080)" font-size="5.2" fill="#222">APOE</text>
<text transform="translate(287.2,343.87) scale(1,1.080)" font-size="5.2" fill="#222">AGT</text>
<text transform="translate(287.2,348.50) scale(1,1.080)" font-size="5.2" fill="#222">BID</text>
<text transform="translate(287.2,353.13) scale(1,1.080)" font-size="5.2" fill="#222">INHBC</text>
<text transform="translate(287.2,357.76) scale(1,1.080)" font-size="5.2" fill="#222">NME3</text>
<text transform="translate(287.2,362.39) scale(1,1.080)" font-size="5.2" fill="#222">CD59</text>
<text transform="translate(287.2,367.02) scale(1,1.080)" font-size="5.2" fill="#222">STAT3</text>
<text transform="translate(287.2,371.65) scale(1,1.080)" font-size="5.2" fill="#222">CDC42</text>
<text transform="translate(287.2,376.28) scale(1,1.080)" font-size="5.2" fill="#222">MSTN</text>
<text transform="translate(287.2,380.91) scale(1,1.080)" font-size="5.2" fill="#222">CTSB</text>
<text transform="translate(287.2,385.54) scale(1,1.080)" font-size="5.2" fill="#222">LGALS1</text>
<text transform="translate(287.2,390.17) scale(1,1.080)" font-size="5.2" fill="#222">ILK</text>
<text transform="translate(287.2,394.80) scale(1,1.080)" font-size="5.2" fill="#222">PF4V1</text>
<text transform="translate(0.3,107.4) scale(1,1.080)" font-size="12.5" font-weight="bold" fill="#000">b</text>
<text transform="translate(12.2,107.6) scale(1,1.080)" font-size="9.6" fill="#111">Proteins</text>
<rect x="8.40" y="400.00" width="5.4" height="5.2" fill="#c49a3a"/>
<text transform="translate(17.60,405.10) scale(1,1.080)" font-size="7.35" fill="#222">Positive regulation of inflammatory response</text>
<rect x="8.40" y="408.40" width="5.4" height="5.2" fill="#5ac8dc"/>
<text transform="translate(17.60,413.50) scale(1,1.080)" font-size="7.35" fill="#222">Platelet and blood coagulation</text>
<rect x="8.40" y="416.70" width="5.4" height="5.2" fill="#48b83a"/>
<text transform="translate(17.60,421.80) scale(1,1.080)" font-size="7.35" fill="#222">Regulation of apoptotic process</text>
<rect x="177.00" y="400.00" width="5.4" height="5.2" fill="#4a64b4"/>
<text transform="translate(186.20,405.10) scale(1,1.080)" font-size="7.35" fill="#222">Regulation of macrophage migration</text>
<rect x="177.00" y="408.40" width="5.4" height="5.2" fill="#c8284e"/>
<text transform="translate(186.20,413.50) scale(1,1.080)" font-size="7.35" fill="#222">Positive regulation of apoptotic process</text>
<text transform="translate(329.2,134.0) scale(1,1.080)" font-size="7.3" fill="#222">Group</text>
<rect x="329.6" y="136.70" width="5.1" height="12.2" fill="#5cb84a"/>
<text transform="translate(336.8,145.30) scale(1,1.080)" font-size="7.3" fill="#222">Asymptomatic</text>
<rect x="329.6" y="148.90" width="5.1" height="12.2" fill="#3b73ad"/>
<text transform="translate(336.8,157.50) scale(1,1.080)" font-size="7.3" fill="#222">Mild</text>
<rect x="329.6" y="161.10" width="5.1" height="12.2" fill="#e8a04a"/>
<text transform="translate(336.8,169.70) scale(1,1.080)" font-size="7.3" fill="#222">Severe</text>
<rect x="329.6" y="173.30" width="5.1" height="12.2" fill="#d0484e"/>
<text transform="translate(336.8,181.90) scale(1,1.080)" font-size="7.3" fill="#222">Critical</text>
<text transform="translate(329.2,199.2) scale(1,1.080)" font-size="7.3" fill="#222">Abundance</text>
<defs><linearGradient id="cb1" x1="0" y1="0" x2="0" y2="1"><stop offset="0.000" stop-color="#de3522"/><stop offset="0.062" stop-color="#e4503c"/><stop offset="0.125" stop-color="#ea6a56"/><stop offset="0.188" stop-color="#f18570"/><stop offset="0.250" stop-color="#f7a08a"/><stop offset="0.312" stop-color="#f9b6a4"/><stop offset="0.375" stop-color="#fbcdbf"/><stop offset="0.438" stop-color="#f6ded8"/><stop offset="0.500" stop-color="#f0eef0"/><stop offset="0.562" stop-color="#e4dcf5"/><stop offset="0.625" stop-color="#d2c6ee"/><stop offset="0.688" stop-color="#bcace3"/><stop offset="0.750" stop-color="#a593d8"/><stop offset="0.812" stop-color="#8a80cc"/><stop offset="0.875" stop-color="#706cbf"/><stop offset="0.938" stop-color="#5559b2"/><stop offset="1.000" stop-color="#3a46a6"/></linearGradient></defs>
<rect x="330.20" y="202.50" width="5.20" height="80.00" fill="url(#cb1)"/>
<line x1="330.20" x2="331.20" y1="202.80" y2="202.80" stroke="#fff" stroke-width="0.6"/>
<line x1="334.40" x2="335.40" y1="202.80" y2="202.80" stroke="#fff" stroke-width="0.6"/>
<line x1="330.20" x2="331.20" y1="222.50" y2="222.50" stroke="#fff" stroke-width="0.6"/>
<line x1="334.40" x2="335.40" y1="222.50" y2="222.50" stroke="#fff" stroke-width="0.6"/>
<line x1="330.20" x2="331.20" y1="242.50" y2="242.50" stroke="#fff" stroke-width="0.6"/>
<line x1="334.40" x2="335.40" y1="242.50" y2="242.50" stroke="#fff" stroke-width="0.6"/>
<line x1="330.20" x2="331.20" y1="262.50" y2="262.50" stroke="#fff" stroke-width="0.6"/>
<line x1="334.40" x2="335.40" y1="262.50" y2="262.50" stroke="#fff" stroke-width="0.6"/>
<line x1="330.20" x2="331.20" y1="282.20" y2="282.20" stroke="#fff" stroke-width="0.6"/>
<line x1="334.40" x2="335.40" y1="282.20" y2="282.20" stroke="#fff" stroke-width="0.6"/>
<text transform="translate(337.0,207.50) scale(1,1.080)" font-size="7.0" fill="#222">4</text>
<text transform="translate(337.0,226.40) scale(1,1.080)" font-size="7.0" fill="#222">2</text>
<text transform="translate(337.0,245.30) scale(1,1.080)" font-size="7.0" fill="#222">0</text>
<text transform="translate(337.0,264.50) scale(1,1.080)" font-size="7.0" fill="#222">−2</text>
<text transform="translate(337.0,283.50) scale(1,1.080)" font-size="7.0" fill="#222">−4</text>
<g transform="translate(11.000,449.700) scale(1.49669,12.40000)" fill="none" stroke-width="1.02">
<path stroke="#c3b5e7" d="M0 0.5h1M21 0.5h1M25 0.5h1M57 0.5h1M77 0.5h1M90 0.5h1M4 1.5h1M7 1.5h1M18 1.5h1M25 1.5h1M28 1.5h1M42 1.5h1M44 1.5h2M47 1.5h1M50 1.5h1M52 1.5h1M59 1.5h1M70 1.5h1M82 1.5h1M85 1.5h1M95 1.5h1M100 1.5h1M113 1.5h1M122 1.5h1M130 1.5h1M132 2.5h1M10 3.5h1M30 3.5h1M43 3.5h2M47 3.5h1M78 3.5h2M84 3.5h1M113 3.5h1M127 3.5h1M58 5.5h1M117 5.5h1M7 6.5h1M15 6.5h1M18 6.5h1M23 6.5h1M28 6.5h1M43 6.5h1M49 6.5h1M70 6.5h1M93 6.5h1M109 6.5h1M6 7.5h1M12 7.5h1M24 7.5h1M28 7.5h1M69 7.5h1M82 7.5h1M95 7.5h1M133 7.5h1M30 9.5h1M51 9.5h1M82 9.5h1M118 9.5h1M1 10.5h2M22 10.5h1M26 10.5h1M59 10.5h1M63 10.5h1M70 10.5h1M94 10.5h1M9 11.5h1M53 11.5h1M75 11.5h1M83 11.5h1M2 12.5h2M6 12.5h1M8 12.5h1M17 12.5h1M19 12.5h1M21 12.5h2M30 12.5h1M33 12.5h1M39 12.5h1M44 12.5h2M52 12.5h1M61 12.5h1M63 12.5h1M65 12.5h1M87 12.5h1M92 12.5h2M23 13.5h1M32 13.5h1M59 13.5h1M78 13.5h1M118 13.5h1M136 13.5h1M39 14.5h2M42 14.5h1M44 14.5h1M46 14.5h1M61 14.5h1M81 14.5h1M140 14.5h1M54 15.5h1M140 15.5h1M146 15.5h1M59 16.5h1M137 16.5h1M139 16.5h1M141 16.5h2M148 16.5h1M150 16.5h1M140 17.5h1"/>
<path stroke="#f0eef0" d="M1 0.5h1M8 0.5h2M14 0.5h1M19 0.5h1M32 0.5h1M35 0.5h1M37 0.5h1M44 0.5h1M54 0.5h1M66 0.5h1M74 0.5h1M76 0.5h1M78 0.5h1M95 0.5h1M116 0.5h1M119 0.5h1M128 0.5h1M132 0.5h1M142 0.5h1M12 1.5h1M16 1.5h2M35 1.5h1M49 1.5h1M54 1.5h1M68 1.5h1M79 1.5h1M91 1.5h1M96 1.5h1M102 1.5h1M105 1.5h1M114 1.5h3M123 1.5h1M125 1.5h1M149 1.5h1M143 2.5h1M2 3.5h1M16 3.5h1M21 3.5h1M36 3.5h1M42 3.5h1M48 3.5h1M52 3.5h1M58 3.5h1M62 3.5h1M72 3.5h2M77 3.5h1M82 3.5h2M86 3.5h1M95 3.5h1M98 3.5h1M102 3.5h1M116 3.5h1M120 3.5h1M128 3.5h2M144 3.5h1M146 3.5h1M150 3.5h1M143 4.5h1M145 4.5h1M1 5.5h1M3 5.5h1M13 5.5h1M18 5.5h1M20 5.5h3M37 5.5h1M60 5.5h1M68 5.5h1M72 5.5h2M82 5.5h1M85 5.5h1M93 5.5h1M103 5.5h1M109 5.5h1M120 5.5h2M133 5.5h1M135 5.5h1M143 5.5h1M145 5.5h1M147 5.5h1M14 6.5h1M41 6.5h1M61 6.5h1M77 6.5h2M81 6.5h1M83 6.5h1M88 6.5h1M99 6.5h1M103 6.5h1M106 6.5h1M108 6.5h1M115 6.5h1M120 6.5h1M129 6.5h1M135 6.5h1M144 6.5h1M31 7.5h1M43 7.5h1M48 7.5h1M53 7.5h2M59 7.5h1M64 7.5h1M92 7.5h1M96 7.5h1M105 7.5h1M117 7.5h1M121 7.5h1M126 7.5h1M137 7.5h1M137 8.5h1M144 8.5h1M16 9.5h1M22 9.5h1M36 9.5h1M44 9.5h1M46 9.5h1M57 9.5h1M61 9.5h1M80 9.5h1M86 9.5h1M88 9.5h2M95 9.5h1M106 9.5h1M114 9.5h1M120 9.5h1M132 9.5h1M10 10.5h1M13 10.5h1M15 10.5h2M34 10.5h1M37 10.5h1M44 10.5h1M47 10.5h1M52 10.5h1M56 10.5h1M68 10.5h2M74 10.5h1M76 10.5h3M81 10.5h1M83 10.5h1M87 10.5h2M93 10.5h1M95 10.5h1M97 10.5h1M101 10.5h3M107 10.5h1M109 10.5h1M112 10.5h1M122 10.5h1M128 10.5h1M131 10.5h1M134 10.5h1M144 10.5h1M4 11.5h1M6 11.5h1M18 11.5h3M43 11.5h1M48 11.5h1M50 11.5h1M56 11.5h1M64 11.5h1M66 11.5h1M71 11.5h1M79 11.5h2M99 11.5h1M101 11.5h2M116 11.5h3M125 11.5h1M130 11.5h1M149 11.5h1M36 12.5h1M42 12.5h1M62 12.5h1M64 12.5h1M73 12.5h1M75 12.5h1M95 12.5h1M102 12.5h1M120 12.5h1M129 12.5h1M3 13.5h2M13 13.5h1M16 13.5h1M28 13.5h1M33 13.5h1M43 13.5h1M49 13.5h2M53 13.5h1M67 13.5h3M71 13.5h1M75 13.5h2M95 13.5h1M97 13.5h1M104 13.5h1M120 13.5h1M122 13.5h1M133 13.5h1M32 14.5h1M34 14.5h1M55 14.5h1M59 14.5h1M66 14.5h1M77 14.5h1M80 14.5h1M83 14.5h1M85 14.5h1M101 14.5h1M104 14.5h1M121 14.5h2M124 14.5h3M1 15.5h1M10 15.5h2M14 15.5h1M33 15.5h1M35 15.5h1M37 15.5h1M39 15.5h1M44 15.5h3M50 15.5h1M61 15.5h1M66 15.5h3M71 15.5h1M73 15.5h1M77 15.5h2M81 15.5h1M83 15.5h1M101 15.5h1M103 15.5h1M106 15.5h3M113 15.5h1M118 15.5h1M126 15.5h1M128 15.5h1M130 15.5h1M19 16.5h1M33 16.5h1M35 16.5h1M49 16.5h1M53 16.5h1M61 16.5h1M73 16.5h1M77 16.5h1M80 16.5h3M85 16.5h1M91 16.5h1M122 16.5h1M131 16.5h1M48 17.5h1M83 17.5h1M104 17.5h1M133 17.5h1M137 17.5h1M141 17.5h1"/>
<path stroke="#ded5f3" d="M2 0.5h2M16 0.5h1M18 0.5h1M20 0.5h1M22 0.5h1M39 0.5h3M51 0.5h1M56 0.5h1M59 0.5h1M67 0.5h1M73 0.5h1M81 0.5h1M83 0.5h2M92 0.5h1M97 0.5h1M117 0.5h2M122 0.5h1M144 0.5h1M150 0.5h1M2 1.5h2M5 1.5h2M9 1.5h2M14 1.5h1M21 1.5h1M29 1.5h1M34 1.5h1M38 1.5h1M40 1.5h2M55 1.5h1M58 1.5h1M63 1.5h1M66 1.5h1M69 1.5h1M72 1.5h2M77 1.5h1M90 1.5h1M101 1.5h1M103 1.5h1M107 1.5h2M110 1.5h2M121 1.5h1M126 1.5h1M128 1.5h1M131 1.5h1M0 2.5h4M5 2.5h3M9 2.5h7M18 2.5h10M29 2.5h5M35 2.5h8M44 2.5h7M52 2.5h4M57 2.5h15M73 2.5h1M75 2.5h18M94 2.5h4M99 2.5h6M106 2.5h3M110 2.5h3M114 2.5h4M119 2.5h10M130 2.5h2M136 2.5h1M146 2.5h1M0 3.5h1M4 3.5h4M11 3.5h1M19 3.5h2M28 3.5h2M38 3.5h4M49 3.5h2M56 3.5h1M60 3.5h2M63 3.5h1M66 3.5h1M68 3.5h1M81 3.5h1M87 3.5h1M92 3.5h1M97 3.5h1M100 3.5h2M103 3.5h1M106 3.5h1M110 3.5h1M114 3.5h1M118 3.5h1M121 3.5h1M133 3.5h1M143 3.5h1M147 3.5h1M149 3.5h1M0 4.5h7M8 4.5h2M11 4.5h2M14 4.5h2M17 4.5h7M25 4.5h3M30 4.5h1M32 4.5h4M37 4.5h4M42 4.5h14M63 4.5h11M75 4.5h3M79 4.5h2M83 4.5h1M85 4.5h3M89 4.5h1M91 4.5h3M96 4.5h5M102 4.5h18M121 4.5h2M125 4.5h2M128 4.5h6M137 4.5h1M147 4.5h1M19 5.5h1M27 5.5h1M31 5.5h1M41 5.5h2M44 5.5h1M50 5.5h1M53 5.5h1M59 5.5h1M64 5.5h1M69 5.5h1M71 5.5h1M74 5.5h3M81 5.5h1M84 5.5h1M90 5.5h1M92 5.5h1M97 5.5h5M108 5.5h1M114 5.5h1M118 5.5h1M125 5.5h2M137 5.5h1M140 5.5h1M142 5.5h1M146 5.5h1M148 5.5h2M2 6.5h2M6 6.5h1M9 6.5h1M11 6.5h1M13 6.5h1M16 6.5h1M19 6.5h4M24 6.5h1M29 6.5h2M32 6.5h1M35 6.5h1M37 6.5h1M44 6.5h1M46 6.5h1M48 6.5h1M51 6.5h1M57 6.5h1M62 6.5h2M66 6.5h1M71 6.5h1M80 6.5h1M82 6.5h1M92 6.5h1M95 6.5h1M97 6.5h2M105 6.5h1M117 6.5h1M119 6.5h1M122 6.5h1M125 6.5h1M127 6.5h2M131 6.5h1M143 6.5h1M9 7.5h3M14 7.5h1M16 7.5h1M18 7.5h1M25 7.5h1M27 7.5h1M32 7.5h1M34 7.5h1M38 7.5h1M42 7.5h1M47 7.5h1M51 7.5h1M55 7.5h1M61 7.5h3M68 7.5h1M70 7.5h2M73 7.5h1M79 7.5h1M83 7.5h1M87 7.5h1M89 7.5h1M94 7.5h1M102 7.5h3M106 7.5h1M109 7.5h1M113 7.5h1M122 7.5h1M124 7.5h1M0 8.5h6M7 8.5h1M9 8.5h4M14 8.5h1M16 8.5h4M22 8.5h3M26 8.5h1M30 8.5h2M33 8.5h2M36 8.5h2M39 8.5h3M43 8.5h3M50 8.5h9M60 8.5h2M64 8.5h6M73 8.5h4M79 8.5h1M81 8.5h2M84 8.5h1M87 8.5h2M91 8.5h5M99 8.5h1M102 8.5h1M104 8.5h4M109 8.5h2M112 8.5h3M117 8.5h3M121 8.5h1M124 8.5h2M129 8.5h4M5 9.5h1M9 9.5h2M12 9.5h1M17 9.5h2M23 9.5h1M27 9.5h2M32 9.5h1M35 9.5h1M38 9.5h1M41 9.5h1M45 9.5h1M49 9.5h2M55 9.5h1M63 9.5h1M77 9.5h2M81 9.5h1M83 9.5h2M87 9.5h1M90 9.5h1M93 9.5h2M96 9.5h2M100 9.5h1M103 9.5h3M108 9.5h1M110 9.5h2M123 9.5h2M128 9.5h1M133 9.5h1M8 10.5h1M11 10.5h1M18 10.5h1M24 10.5h1M30 10.5h3M36 10.5h1M40 10.5h1M45 10.5h1M49 10.5h2M72 10.5h1M79 10.5h2M84 10.5h1M99 10.5h1M108 10.5h1M117 10.5h3M126 10.5h1M130 10.5h1M0 11.5h2M15 11.5h1M21 11.5h2M26 11.5h1M33 11.5h1M38 11.5h1M42 11.5h1M51 11.5h2M57 11.5h1M69 11.5h1M73 11.5h1M76 11.5h1M86 11.5h1M96 11.5h1M115 11.5h1M143 11.5h1M7 12.5h1M16 12.5h1M25 12.5h2M31 12.5h1M46 12.5h2M54 12.5h1M56 12.5h1M58 12.5h2M74 12.5h1M78 12.5h1M81 12.5h1M84 12.5h1M86 12.5h1M91 12.5h1M100 12.5h2M104 12.5h3M108 12.5h1M111 12.5h1M116 12.5h1M118 12.5h2M121 12.5h4M126 12.5h2M130 12.5h2M0 13.5h1M11 13.5h1M15 13.5h1M17 13.5h1M21 13.5h2M39 13.5h2M42 13.5h1M48 13.5h1M55 13.5h1M57 13.5h1M79 13.5h1M87 13.5h1M130 13.5h1M134 13.5h1M140 13.5h1M149 13.5h1M63 14.5h3M70 14.5h1M76 14.5h1M82 14.5h1M94 14.5h1M97 14.5h2M132 14.5h3M147 14.5h1M4 15.5h1M9 15.5h1M17 15.5h1M23 15.5h1M38 15.5h1M40 15.5h1M47 15.5h1M49 15.5h1M58 15.5h1M62 15.5h1M64 15.5h2M70 15.5h1M79 15.5h1M91 15.5h1M98 15.5h3M148 15.5h1M8 16.5h1M13 16.5h2M17 16.5h2M20 16.5h1M23 16.5h1M25 16.5h1M28 16.5h1M32 16.5h1M34 16.5h1M38 16.5h1M58 16.5h1M60 16.5h1M63 16.5h3M69 16.5h2M75 16.5h2M79 16.5h1M90 16.5h1M92 16.5h1M98 16.5h1M103 16.5h3M110 16.5h2M119 16.5h1M121 16.5h1M124 16.5h2M128 16.5h1M133 16.5h2M0 17.5h3M7 17.5h1M9 17.5h3M16 17.5h2M19 17.5h4M27 17.5h4M33 17.5h2M36 17.5h2M39 17.5h4M45 17.5h3M50 17.5h1M53 17.5h1M55 17.5h1M57 17.5h1M59 17.5h3M64 17.5h1M66 17.5h5M72 17.5h1M76 17.5h4M84 17.5h4M89 17.5h1M92 17.5h1M94 17.5h1M96 17.5h4M105 17.5h2M108 17.5h3M112 17.5h3M118 17.5h5M124 17.5h1M126 17.5h4M134 17.5h1M136 17.5h1M138 17.5h1M146 17.5h1"/>
<path stroke="#e8e2f3" d="M4 0.5h1M15 0.5h1M24 0.5h1M27 0.5h1M34 0.5h1M42 0.5h1M45 0.5h1M48 0.5h2M55 0.5h1M60 0.5h1M63 0.5h1M68 0.5h1M72 0.5h1M85 0.5h1M87 0.5h3M91 0.5h1M94 0.5h1M100 0.5h1M115 0.5h1M125 0.5h1M134 0.5h1M143 0.5h1M0 1.5h2M13 1.5h1M15 1.5h1M20 1.5h1M24 1.5h1M33 1.5h1M53 1.5h1M56 1.5h2M64 1.5h1M67 1.5h1M71 1.5h1M74 1.5h2M80 1.5h1M83 1.5h2M89 1.5h1M92 1.5h1M97 1.5h3M117 1.5h1M119 1.5h2M127 1.5h1M129 1.5h1M132 1.5h1M134 1.5h1M4 2.5h1M16 2.5h1M56 2.5h1M74 2.5h1M129 2.5h1M137 2.5h1M13 3.5h1M17 3.5h1M23 3.5h2M26 3.5h2M35 3.5h1M45 3.5h1M51 3.5h1M53 3.5h2M57 3.5h1M65 3.5h1M71 3.5h1M74 3.5h1M76 3.5h1M80 3.5h1M88 3.5h1M90 3.5h2M96 3.5h1M99 3.5h1M104 3.5h2M107 3.5h3M111 3.5h2M115 3.5h1M117 3.5h1M122 3.5h1M124 3.5h2M130 3.5h1M140 3.5h1M142 3.5h1M7 4.5h1M10 4.5h1M13 4.5h1M16 4.5h1M24 4.5h1M28 4.5h2M31 4.5h1M36 4.5h1M41 4.5h1M56 4.5h7M74 4.5h1M78 4.5h1M81 4.5h2M84 4.5h1M88 4.5h1M90 4.5h1M94 4.5h2M101 4.5h1M120 4.5h1M123 4.5h2M139 4.5h1M149 4.5h1M7 5.5h1M12 5.5h1M14 5.5h1M23 5.5h2M26 5.5h1M28 5.5h1M43 5.5h1M46 5.5h3M51 5.5h1M54 5.5h1M56 5.5h2M65 5.5h1M70 5.5h1M88 5.5h2M91 5.5h1M94 5.5h1M102 5.5h1M110 5.5h1M116 5.5h1M119 5.5h1M124 5.5h1M127 5.5h1M129 5.5h1M131 5.5h1M141 5.5h1M144 5.5h1M1 6.5h1M10 6.5h1M12 6.5h1M25 6.5h2M33 6.5h1M36 6.5h1M38 6.5h1M42 6.5h1M45 6.5h1M50 6.5h1M52 6.5h2M56 6.5h1M58 6.5h1M60 6.5h1M65 6.5h1M69 6.5h1M72 6.5h1M74 6.5h2M79 6.5h1M84 6.5h2M89 6.5h1M100 6.5h3M114 6.5h1M121 6.5h1M123 6.5h1M132 6.5h1M136 6.5h1M138 6.5h1M140 6.5h1M142 6.5h1M1 7.5h1M3 7.5h1M7 7.5h2M15 7.5h1M22 7.5h1M29 7.5h1M35 7.5h1M37 7.5h1M40 7.5h2M46 7.5h1M49 7.5h1M56 7.5h1M60 7.5h1M65 7.5h1M74 7.5h1M76 7.5h1M80 7.5h2M84 7.5h1M86 7.5h1M97 7.5h4M107 7.5h1M110 7.5h3M114 7.5h1M118 7.5h2M123 7.5h1M125 7.5h1M129 7.5h2M149 7.5h1M8 8.5h1M13 8.5h1M15 8.5h1M20 8.5h2M25 8.5h1M27 8.5h2M32 8.5h1M35 8.5h1M38 8.5h1M42 8.5h1M47 8.5h2M62 8.5h2M70 8.5h1M72 8.5h1M77 8.5h2M80 8.5h1M83 8.5h1M85 8.5h2M89 8.5h2M96 8.5h3M100 8.5h2M103 8.5h1M108 8.5h1M111 8.5h1M115 8.5h2M120 8.5h1M122 8.5h2M126 8.5h3M140 8.5h2M147 8.5h1M149 8.5h1M1 9.5h2M4 9.5h1M7 9.5h1M13 9.5h3M20 9.5h2M24 9.5h1M29 9.5h1M40 9.5h1M43 9.5h1M53 9.5h2M59 9.5h2M62 9.5h1M65 9.5h2M70 9.5h3M74 9.5h1M76 9.5h1M91 9.5h1M99 9.5h1M109 9.5h1M117 9.5h1M121 9.5h1M131 9.5h1M3 10.5h1M5 10.5h2M9 10.5h1M12 10.5h1M14 10.5h1M19 10.5h3M23 10.5h1M33 10.5h1M38 10.5h1M48 10.5h1M53 10.5h3M66 10.5h1M75 10.5h1M82 10.5h1M86 10.5h1M89 10.5h2M98 10.5h1M125 10.5h1M132 10.5h1M2 11.5h2M5 11.5h1M10 11.5h2M14 11.5h1M17 11.5h1M23 11.5h1M25 11.5h1M30 11.5h1M35 11.5h3M41 11.5h1M45 11.5h2M60 11.5h2M68 11.5h1M72 11.5h1M78 11.5h1M82 11.5h1M84 11.5h1M89 11.5h3M93 11.5h1M95 11.5h1M100 11.5h1M103 11.5h1M108 11.5h2M111 11.5h4M119 11.5h1M121 11.5h2M129 11.5h1M145 11.5h1M14 12.5h1M23 12.5h1M27 12.5h1M38 12.5h1M40 12.5h1M48 12.5h1M50 12.5h2M60 12.5h1M68 12.5h1M72 12.5h1M76 12.5h1M80 12.5h1M83 12.5h1M85 12.5h1M88 12.5h2M96 12.5h2M112 12.5h1M114 12.5h1M2 13.5h1M5 13.5h1M7 13.5h2M14 13.5h1M18 13.5h1M27 13.5h1M30 13.5h2M34 13.5h1M41 13.5h1M54 13.5h1M61 13.5h1M64 13.5h1M72 13.5h3M80 13.5h2M86 13.5h1M89 13.5h2M92 13.5h2M102 13.5h2M109 13.5h1M113 13.5h1M126 13.5h1M132 13.5h1M144 13.5h1M9 14.5h2M17 14.5h1M37 14.5h1M52 14.5h2M75 14.5h1M79 14.5h1M84 14.5h1M92 14.5h1M96 14.5h1M99 14.5h1M107 14.5h1M110 14.5h1M117 14.5h2M131 14.5h1M137 14.5h1M0 15.5h1M2 15.5h1M8 15.5h1M15 15.5h1M18 15.5h1M21 15.5h1M24 15.5h2M27 15.5h2M43 15.5h1M52 15.5h2M55 15.5h1M59 15.5h1M63 15.5h1M74 15.5h2M88 15.5h1M94 15.5h3M109 15.5h1M112 15.5h1M133 15.5h1M1 16.5h2M4 16.5h2M7 16.5h1M10 16.5h3M16 16.5h1M22 16.5h1M27 16.5h1M29 16.5h3M37 16.5h1M51 16.5h1M54 16.5h1M57 16.5h1M62 16.5h1M72 16.5h1M74 16.5h1M78 16.5h1M83 16.5h2M86 16.5h3M94 16.5h2M97 16.5h1M99 16.5h4M106 16.5h3M112 16.5h1M114 16.5h2M117 16.5h2M120 16.5h1M123 16.5h1M127 16.5h1M5 17.5h1M12 17.5h4M18 17.5h1M23 17.5h4M32 17.5h1M35 17.5h1M38 17.5h1M43 17.5h2M52 17.5h1M54 17.5h1M56 17.5h1M62 17.5h2M65 17.5h1M73 17.5h3M81 17.5h2M88 17.5h1M91 17.5h1M93 17.5h1M95 17.5h1M101 17.5h3M107 17.5h1M111 17.5h1M115 17.5h3M123 17.5h1M125 17.5h1M130 17.5h3M139 17.5h1M145 17.5h1M147 17.5h1"/>
<path stroke="#ef7c67" d="M5 0.5h1M130 0.5h1M145 1.5h1M142 2.5h1M131 7.5h1M146 9.5h1M105 10.5h1M139 10.5h1M146 10.5h2M77 11.5h1M85 13.5h1M117 13.5h1M128 13.5h1M68 14.5h1M115 14.5h1M121 15.5h1M39 16.5h2M42 16.5h2M45 16.5h1M48 16.5h1"/>
<path stroke="#f8af9c" d="M6 0.5h1M36 0.5h1M96 0.5h1M103 0.5h1M113 0.5h1M129 0.5h1M15 3.5h1M55 3.5h1M16 5.5h1M67 5.5h1M67 6.5h1M66 7.5h1M77 7.5h1M34 9.5h1M115 9.5h1M34 11.5h1M110 12.5h1M9 13.5h1M62 13.5h1M12 14.5h1M24 14.5h1M49 14.5h2M111 14.5h1M92 15.5h1M66 16.5h1M80 17.5h1M90 17.5h1"/>
<path stroke="#f4e3e0" d="M7 0.5h1M13 0.5h1M31 0.5h1M46 0.5h1M52 0.5h1M58 0.5h1M71 0.5h1M93 0.5h1M101 0.5h2M104 0.5h3M108 0.5h1M114 0.5h1M121 0.5h1M126 0.5h1M141 0.5h1M36 1.5h1M88 1.5h1M109 1.5h1M12 3.5h1M123 3.5h1M126 3.5h1M141 4.5h1M2 5.5h1M10 5.5h1M34 5.5h2M38 5.5h1M40 5.5h1M61 5.5h3M80 5.5h1M95 5.5h1M106 5.5h1M130 5.5h1M68 6.5h1M86 6.5h1M91 6.5h1M116 6.5h1M2 7.5h1M44 7.5h1M52 7.5h1M90 7.5h1M115 7.5h2M6 9.5h1M25 9.5h1M48 9.5h1M56 9.5h1M58 9.5h1M64 9.5h1M85 9.5h1M101 9.5h2M126 9.5h1M129 9.5h1M7 10.5h1M29 10.5h1M41 10.5h1M62 10.5h1M67 10.5h1M73 10.5h1M85 10.5h1M106 10.5h1M114 10.5h2M121 10.5h1M123 10.5h1M129 10.5h1M7 11.5h1M12 11.5h2M16 11.5h1M24 11.5h1M44 11.5h1M54 11.5h1M62 11.5h1M67 11.5h1M74 11.5h1M92 11.5h1M94 11.5h1M104 11.5h1M123 11.5h2M126 11.5h1M128 11.5h1M94 12.5h1M115 12.5h1M128 12.5h1M1 13.5h1M6 13.5h1M20 13.5h1M29 13.5h1M36 13.5h1M38 13.5h1M45 13.5h2M52 13.5h1M56 13.5h1M77 13.5h1M84 13.5h1M96 13.5h1M98 13.5h1M101 13.5h1M112 13.5h1M114 13.5h1M116 13.5h1M124 13.5h2M16 14.5h1M19 14.5h1M21 14.5h2M28 14.5h1M54 14.5h1M60 14.5h1M62 14.5h1M72 14.5h2M89 14.5h1M102 14.5h1M105 14.5h2M112 14.5h1M114 14.5h1M6 15.5h1M12 15.5h1M20 15.5h1M36 15.5h1M41 15.5h1M56 15.5h2M60 15.5h1M72 15.5h1M76 15.5h1M80 15.5h1M82 15.5h1M85 15.5h2M89 15.5h1M97 15.5h1M104 15.5h2M110 15.5h1M114 15.5h1M117 15.5h1M119 15.5h2M127 15.5h1M129 15.5h1M131 15.5h1M96 16.5h1M135 17.5h1"/>
<path stroke="#f7d8cf" d="M10 0.5h1M26 0.5h1M69 0.5h1M80 0.5h1M112 0.5h1M78 1.5h1M140 1.5h1M138 2.5h1M141 2.5h1M33 3.5h1M146 4.5h1M150 4.5h1M6 5.5h1M8 5.5h1M25 5.5h1M52 5.5h1M83 5.5h1M107 5.5h1M123 5.5h1M128 5.5h1M73 6.5h1M146 6.5h1M36 7.5h1M85 7.5h1M101 7.5h1M108 7.5h1M120 7.5h1M147 7.5h1M29 8.5h1M75 9.5h1M119 9.5h1M125 9.5h1M127 9.5h1M138 9.5h1M149 9.5h1M25 10.5h1M43 10.5h1M64 10.5h1M71 10.5h1M96 10.5h1M111 10.5h1M143 10.5h1M58 11.5h1M88 11.5h1M110 11.5h1M120 11.5h1M138 11.5h1M147 11.5h1M51 13.5h1M66 13.5h1M99 13.5h1M105 13.5h1M107 13.5h2M129 13.5h1M0 14.5h3M8 14.5h1M11 14.5h1M15 14.5h1M18 14.5h1M30 14.5h2M33 14.5h1M35 14.5h1M57 14.5h2M74 14.5h1M86 14.5h1M95 14.5h1M103 14.5h1M108 14.5h2M113 14.5h1M127 14.5h4M13 15.5h1M16 15.5h1M48 15.5h1M90 15.5h1M102 15.5h1M116 15.5h1M122 15.5h2"/>
<path stroke="#d2c6ee" d="M11 0.5h1M17 0.5h1M28 0.5h1M30 0.5h1M33 0.5h1M43 0.5h1M62 0.5h1M64 0.5h1M70 0.5h1M98 0.5h1M110 0.5h1M145 0.5h2M8 1.5h1M11 1.5h1M19 1.5h1M22 1.5h2M26 1.5h2M30 1.5h1M37 1.5h1M39 1.5h1M43 1.5h1M48 1.5h1M51 1.5h1M60 1.5h2M65 1.5h1M76 1.5h1M81 1.5h1M94 1.5h1M104 1.5h1M112 1.5h1M118 1.5h1M124 1.5h1M133 1.5h1M8 2.5h1M17 2.5h1M28 2.5h1M34 2.5h1M43 2.5h1M51 2.5h1M72 2.5h1M93 2.5h1M98 2.5h1M105 2.5h1M109 2.5h1M113 2.5h1M118 2.5h1M133 2.5h1M149 2.5h1M1 3.5h1M3 3.5h1M8 3.5h2M14 3.5h1M22 3.5h1M25 3.5h1M31 3.5h2M34 3.5h1M37 3.5h1M46 3.5h1M59 3.5h1M64 3.5h1M67 3.5h1M69 3.5h2M75 3.5h1M85 3.5h1M93 3.5h2M131 3.5h1M139 3.5h1M141 3.5h1M145 3.5h1M4 5.5h1M15 5.5h1M17 5.5h1M30 5.5h1M33 5.5h1M39 5.5h1M55 5.5h1M66 5.5h1M77 5.5h1M87 5.5h1M96 5.5h1M104 5.5h2M111 5.5h3M122 5.5h1M132 5.5h1M134 5.5h1M138 5.5h1M0 6.5h1M4 6.5h2M8 6.5h1M27 6.5h1M31 6.5h1M34 6.5h1M39 6.5h2M47 6.5h1M54 6.5h2M59 6.5h1M64 6.5h1M76 6.5h1M87 6.5h1M90 6.5h1M94 6.5h1M104 6.5h1M107 6.5h1M110 6.5h1M112 6.5h2M118 6.5h1M124 6.5h1M126 6.5h1M133 6.5h1M148 6.5h3M0 7.5h1M5 7.5h1M13 7.5h1M17 7.5h1M20 7.5h2M23 7.5h1M30 7.5h1M50 7.5h1M57 7.5h2M67 7.5h1M72 7.5h1M75 7.5h1M93 7.5h1M127 7.5h2M132 7.5h1M6 8.5h1M46 8.5h1M49 8.5h1M59 8.5h1M71 8.5h1M133 8.5h2M0 9.5h1M3 9.5h1M8 9.5h1M11 9.5h1M19 9.5h1M26 9.5h1M31 9.5h1M33 9.5h1M39 9.5h1M47 9.5h1M52 9.5h1M67 9.5h1M69 9.5h1M79 9.5h1M92 9.5h1M98 9.5h1M107 9.5h1M112 9.5h2M116 9.5h1M122 9.5h1M130 9.5h1M134 9.5h1M0 10.5h1M17 10.5h1M27 10.5h2M35 10.5h1M39 10.5h1M51 10.5h1M60 10.5h1M92 10.5h1M100 10.5h1M110 10.5h1M113 10.5h1M116 10.5h1M8 11.5h1M27 11.5h3M32 11.5h1M39 11.5h2M55 11.5h1M63 11.5h1M65 11.5h1M70 11.5h1M85 11.5h1M87 11.5h1M97 11.5h1M105 11.5h1M107 11.5h1M127 11.5h1M131 11.5h1M150 11.5h1M0 12.5h2M4 12.5h2M9 12.5h2M12 12.5h2M15 12.5h1M18 12.5h1M20 12.5h1M24 12.5h1M29 12.5h1M34 12.5h1M41 12.5h1M43 12.5h1M53 12.5h1M55 12.5h1M57 12.5h1M66 12.5h2M69 12.5h3M77 12.5h1M82 12.5h1M90 12.5h1M98 12.5h2M103 12.5h1M107 12.5h1M109 12.5h1M117 12.5h1M10 13.5h1M19 13.5h1M24 13.5h1M26 13.5h1M47 13.5h1M63 13.5h1M91 13.5h1M94 13.5h1M100 13.5h1M45 14.5h1M48 14.5h1M51 14.5h1M69 14.5h1M71 14.5h1M87 14.5h1M90 14.5h1M93 14.5h1M143 14.5h1M150 14.5h1M5 15.5h1M29 15.5h2M32 15.5h1M34 15.5h1M42 15.5h1M51 15.5h1M84 15.5h1M87 15.5h1M93 15.5h1M132 15.5h1M144 15.5h2M0 16.5h1M9 16.5h1M15 16.5h1M24 16.5h1M26 16.5h1M36 16.5h1M50 16.5h1M52 16.5h1M55 16.5h1M71 16.5h1M89 16.5h1M109 16.5h1M113 16.5h1M116 16.5h1M126 16.5h1M129 16.5h1M132 16.5h1M135 16.5h2M138 16.5h1M140 16.5h1M143 16.5h2M146 16.5h2M149 16.5h1M3 17.5h2M6 17.5h1M8 17.5h1M31 17.5h1M49 17.5h1M51 17.5h1M58 17.5h1M71 17.5h1M100 17.5h1"/>
<path stroke="#b4a4df" d="M12 0.5h1M47 0.5h1M82 0.5h1M107 0.5h1M127 0.5h1M149 0.5h1M31 1.5h2M46 1.5h1M86 1.5h1M93 1.5h1M32 5.5h1M78 5.5h1M111 6.5h1M4 7.5h1M39 7.5h1M45 7.5h1M104 10.5h1M106 11.5h1M28 12.5h1M32 12.5h1M37 12.5h1M113 12.5h1M37 13.5h1M44 13.5h1M137 13.5h2M142 13.5h2M145 13.5h1M150 13.5h1M41 14.5h1M43 14.5h1M47 14.5h1M56 14.5h1M67 14.5h1M135 14.5h1M138 14.5h1M144 14.5h1M149 14.5h1M3 15.5h1M137 15.5h1M147 15.5h1M150 15.5h1M145 16.5h1"/>
<path stroke="#f7a08a" d="M23 0.5h1M131 0.5h1M138 1.5h1M89 3.5h1M135 3.5h1M142 4.5h1M45 5.5h1M141 6.5h1M26 7.5h1M78 7.5h1M134 7.5h2M148 7.5h1M150 8.5h1M37 9.5h1M141 9.5h1M150 9.5h1M46 10.5h1M57 10.5h2M61 10.5h1M65 10.5h1M124 10.5h1M127 10.5h1M136 10.5h1M140 10.5h1M141 11.5h1M11 12.5h1M79 12.5h1M147 12.5h1M38 14.5h1M120 14.5h1M7 15.5h1M19 15.5h1M22 15.5h1M26 15.5h1M130 16.5h1"/>
<path stroke="#fabead" d="M29 0.5h1M61 0.5h1M86 0.5h1M109 0.5h1M62 1.5h1M106 1.5h1M146 1.5h1M136 4.5h1M5 5.5h1M145 6.5h1M33 7.5h1M143 8.5h1M145 8.5h1M136 9.5h1M149 10.5h2M81 11.5h1M35 12.5h1M133 12.5h1M138 12.5h1M35 13.5h1M70 13.5h1M115 13.5h1M121 13.5h1M127 13.5h1M91 14.5h1M100 14.5h1M146 14.5h1M69 15.5h1M111 15.5h1M6 16.5h1M21 16.5h1M93 16.5h1"/>
<path stroke="#fbcdbf" d="M38 0.5h1M50 0.5h1M53 0.5h1M75 0.5h1M99 0.5h1M133 0.5h1M137 0.5h2M140 0.5h1M147 0.5h1M139 2.5h2M145 2.5h1M147 2.5h1M150 2.5h1M148 3.5h1M127 4.5h1M138 4.5h1M140 4.5h1M0 5.5h1M36 5.5h1M49 5.5h1M79 5.5h1M86 5.5h1M136 5.5h1M139 5.5h1M130 6.5h1M134 6.5h1M139 6.5h1M147 6.5h1M88 7.5h1M139 7.5h3M136 8.5h1M138 8.5h1M148 8.5h1M91 10.5h1M133 10.5h1M31 11.5h1M49 11.5h1M59 11.5h1M98 11.5h1M132 11.5h2M136 11.5h1M144 11.5h1M146 11.5h1M148 11.5h1M132 12.5h1M134 12.5h1M149 12.5h1M25 13.5h1M60 13.5h1M83 13.5h1M106 13.5h1M111 13.5h1M119 13.5h1M123 13.5h1M131 13.5h1M4 14.5h4M13 14.5h2M20 14.5h1M23 14.5h1M25 14.5h3M78 14.5h1M88 14.5h1M116 14.5h1M119 14.5h1M123 14.5h1M115 15.5h1M124 15.5h2M139 15.5h1M142 17.5h1M144 17.5h1"/>
<path stroke="#f38e79" d="M65 0.5h1M120 0.5h1M123 0.5h1M87 1.5h1M135 1.5h3M139 1.5h1M141 1.5h2M144 1.5h1M150 1.5h1M134 3.5h1M29 5.5h1M91 7.5h1M136 7.5h1M138 7.5h1M144 7.5h3M150 7.5h1M42 9.5h1M68 9.5h1M137 9.5h1M139 9.5h1M142 9.5h1M144 9.5h1M147 9.5h1M120 10.5h1M141 10.5h1M148 10.5h1M135 11.5h1M137 11.5h1M139 11.5h2M142 11.5h1M125 12.5h1M135 12.5h3M142 12.5h1M148 12.5h1M150 12.5h1M58 13.5h1M65 13.5h1M82 13.5h1M88 13.5h1M29 14.5h1M148 14.5h1M31 15.5h1M3 16.5h1M46 16.5h2M56 16.5h1M67 16.5h1"/>
<path stroke="#e65945" d="M79 0.5h1M73 9.5h1"/>
<path stroke="#de3522" d="M111 0.5h1M148 1.5h1M134 2.5h2M148 2.5h1M136 3.5h2M137 6.5h1M143 7.5h1M146 8.5h1M148 9.5h1M138 10.5h1M134 11.5h1M140 12.5h2M143 12.5h2M145 14.5h1"/>
<path stroke="#e24733" d="M124 0.5h1M143 1.5h1M147 1.5h1M144 2.5h1M132 3.5h1M138 3.5h1M134 4.5h2M144 4.5h1M148 4.5h1M11 5.5h1M150 5.5h1M142 7.5h1M135 8.5h1M139 8.5h1M142 8.5h1M135 9.5h1M140 9.5h1M143 9.5h1M145 9.5h1M135 10.5h1M137 10.5h1M142 10.5h1M145 10.5h1M139 12.5h1M145 12.5h2M110 13.5h1M41 16.5h1M143 17.5h1"/>
<path stroke="#a593d8" d="M135 0.5h1M139 0.5h1M18 3.5h1M119 3.5h1M4 10.5h1M47 11.5h1M49 12.5h1M135 13.5h1M139 13.5h1M141 13.5h1M146 13.5h3M136 14.5h1M139 14.5h1M141 14.5h2M141 15.5h3M149 15.5h1"/>
<path stroke="#8179c7" d="M136 0.5h1M136 15.5h1"/>
<path stroke="#9386d0" d="M148 0.5h1M19 7.5h1M134 15.5h2M138 15.5h1"/>
<path stroke="#ea6a56" d="M9 5.5h1M115 5.5h1M17 6.5h1M96 6.5h1M42 10.5h1M12 13.5h1M3 14.5h1M36 14.5h1M44 16.5h1M68 16.5h1M148 17.5h3"/>
</g>
<rect x="11.00" y="447.2" width="74.83" height="2.5" fill="#5cb84a"/>
<rect x="85.83" y="447.2" width="76.33" height="2.5" fill="#3b73ad"/>
<rect x="162.17" y="447.2" width="46.40" height="2.5" fill="#e8a04a"/>
<rect x="208.56" y="447.2" width="28.44" height="2.5" fill="#d0484e"/>
<rect x="237.3" y="449.70" width="2.3" height="86.80" fill="#5cb84a"/>
<rect x="237.3" y="536.50" width="2.3" height="86.80" fill="#a0484a"/>
<rect x="237.3" y="623.30" width="2.3" height="49.60" fill="#3b73ad"/>
<text transform="translate(240.8,458.50) scale(1,1.080)" font-size="7.35" fill="#222">2−hydroxycinnamic acid</text>
<text transform="translate(240.8,470.90) scale(1,1.080)" font-size="7.35" fill="#222">2−hydroxyphenylacetic acid</text>
<text transform="translate(240.8,483.30) scale(1,1.080)" font-size="7.35" fill="#222">3−dehydroshikimate</text>
<text transform="translate(240.8,495.70) scale(1,1.080)" font-size="7.35" fill="#222">3−hydroxyphenylacetate</text>
<text transform="translate(240.8,508.10) scale(1,1.080)" font-size="7.35" fill="#222">Phenylacetic acid</text>
<text transform="translate(240.8,520.50) scale(1,1.080)" font-size="7.35" fill="#222">Phenylacetylglycine</text>
<text transform="translate(240.8,532.90) scale(1,1.080)" font-size="7.35" fill="#222">Phenylpyruvic acid</text>
<text transform="translate(240.8,545.30) scale(1,1.080)" font-size="7.35" fill="#222">2−amino−3−methoxybenzoic acid</text>
<text transform="translate(240.8,557.70) scale(1,1.080)" font-size="7.35" fill="#222">4−hydroxy−2−quinolinecarboxylic acid</text>
<text transform="translate(240.8,570.10) scale(1,1.080)" font-size="7.35" fill="#222">5−hydroxyindoleacetate</text>
<text transform="translate(240.8,582.50) scale(1,1.080)" font-size="7.35" fill="#222">Anthranilic acid</text>
<text transform="translate(240.8,594.90) scale(1,1.080)" font-size="7.35" fill="#222">Indole−3−acetamide</text>
<text transform="translate(240.8,607.30) scale(1,1.080)" font-size="7.35" fill="#222">L−kynurenine</text>
<text transform="translate(240.8,619.70) scale(1,1.080)" font-size="7.35" fill="#222">L−tryptophan</text>
<text transform="translate(240.8,632.10) scale(1,1.080)" font-size="7.35" fill="#222">L−arginine</text>
<text transform="translate(240.8,644.50) scale(1,1.080)" font-size="7.35" fill="#222">L−glutamine</text>
<text transform="translate(240.8,656.90) scale(1,1.080)" font-size="7.35" fill="#222">N−acetylornithine</text>
<text transform="translate(240.8,669.30) scale(1,1.080)" font-size="7.35" fill="#222">L(+)−ornithine</text>
<text transform="translate(0.3,438.8) scale(1,1.080)" font-size="12.5" font-weight="bold" fill="#000">d</text>
<text transform="translate(11.8,437.6) scale(1,1.080)" font-size="9.6" fill="#111">Metabolites</text>
<rect x="12.40" y="686.0" width="5.8" height="5.4" fill="#5cb84a"/>
<text transform="translate(21.80,691.2) scale(1,1.080)" font-size="7.5" fill="#222">Phenylalanine metabolism</text>
<rect x="119.20" y="686.0" width="5.8" height="5.4" fill="#a0484a"/>
<text transform="translate(128.60,691.2) scale(1,1.080)" font-size="7.5" fill="#222">Tryptophan metabolism</text>
<rect x="218.50" y="686.0" width="5.8" height="5.4" fill="#3b73ad"/>
<text transform="translate(227.90,691.2) scale(1,1.080)" font-size="7.5" fill="#222">Arginine biosynthesis</text>
<text transform="translate(327.3,487.2) scale(1,1.080)" font-size="7.3" fill="#222">Group</text>
<rect x="327.5" y="489.40" width="4.9" height="12.05" fill="#5cb84a"/>
<text transform="translate(334.6,498.00) scale(1,1.080)" font-size="7.3" fill="#222">Asymptomatic</text>
<rect x="327.5" y="501.45" width="4.9" height="12.05" fill="#3b73ad"/>
<text transform="translate(334.6,510.05) scale(1,1.080)" font-size="7.3" fill="#222">Mild</text>
<rect x="327.5" y="513.50" width="4.9" height="12.05" fill="#e8a04a"/>
<text transform="translate(334.6,522.10) scale(1,1.080)" font-size="7.3" fill="#222">Severe</text>
<rect x="327.5" y="525.55" width="4.9" height="12.05" fill="#d0484e"/>
<text transform="translate(334.6,534.15) scale(1,1.080)" font-size="7.3" fill="#222">Critical</text>
<text transform="translate(327.3,585.8) scale(1,1.080)" font-size="7.3" fill="#222">Abundance</text>
<defs><linearGradient id="cb2" x1="0" y1="0" x2="0" y2="1"><stop offset="0.000" stop-color="#de3522"/><stop offset="0.062" stop-color="#e4503c"/><stop offset="0.125" stop-color="#ea6a56"/><stop offset="0.188" stop-color="#f18570"/><stop offset="0.250" stop-color="#f7a08a"/><stop offset="0.312" stop-color="#f9b6a4"/><stop offset="0.375" stop-color="#fbcdbf"/><stop offset="0.438" stop-color="#f6ded8"/><stop offset="0.500" stop-color="#f0eef0"/><stop offset="0.562" stop-color="#e4dcf5"/><stop offset="0.625" stop-color="#d2c6ee"/><stop offset="0.688" stop-color="#bcace3"/><stop offset="0.750" stop-color="#a593d8"/><stop offset="0.812" stop-color="#8a80cc"/><stop offset="0.875" stop-color="#706cbf"/><stop offset="0.938" stop-color="#5559b2"/><stop offset="1.000" stop-color="#3a46a6"/></linearGradient></defs>
<rect x="328.20" y="589.40" width="4.90" height="80.60" fill="url(#cb2)"/>
<line x1="328.20" x2="329.20" y1="589.70" y2="589.70" stroke="#fff" stroke-width="0.6"/>
<line x1="332.10" x2="333.10" y1="589.70" y2="589.70" stroke="#fff" stroke-width="0.6"/>
<line x1="328.20" x2="329.20" y1="609.55" y2="609.55" stroke="#fff" stroke-width="0.6"/>
<line x1="332.10" x2="333.10" y1="609.55" y2="609.55" stroke="#fff" stroke-width="0.6"/>
<line x1="328.20" x2="329.20" y1="629.70" y2="629.70" stroke="#fff" stroke-width="0.6"/>
<line x1="332.10" x2="333.10" y1="629.70" y2="629.70" stroke="#fff" stroke-width="0.6"/>
<line x1="328.20" x2="329.20" y1="649.85" y2="649.85" stroke="#fff" stroke-width="0.6"/>
<line x1="332.10" x2="333.10" y1="649.85" y2="649.85" stroke="#fff" stroke-width="0.6"/>
<line x1="328.20" x2="329.20" y1="669.70" y2="669.70" stroke="#fff" stroke-width="0.6"/>
<line x1="332.10" x2="333.10" y1="669.70" y2="669.70" stroke="#fff" stroke-width="0.6"/>
<text transform="translate(334.6,594.30) scale(1,1.080)" font-size="7.0" fill="#222">4</text>
<text transform="translate(334.6,613.10) scale(1,1.080)" font-size="7.0" fill="#222">2</text>
<text transform="translate(334.6,632.10) scale(1,1.080)" font-size="7.0" fill="#222">0</text>
<text transform="translate(334.6,651.50) scale(1,1.080)" font-size="7.0" fill="#222">−2</text>
<text transform="translate(334.6,670.20) scale(1,1.080)" font-size="7.0" fill="#222">−4</text>
<path d="M429.40 130.70 V222.60 H540.50" fill="none" stroke="#111" stroke-width="1.10"/>
<line x1="427.40" x2="429.40" y1="144.05" y2="144.05" stroke="#333" stroke-width="0.7"/>
<text transform="translate(426.60,146.28) scale(1,1.080)" font-size="6.20" text-anchor="end" fill="#333">25</text>
<line x1="427.40" x2="429.40" y1="165.00" y2="165.00" stroke="#333" stroke-width="0.7"/>
<text transform="translate(426.60,167.23) scale(1,1.080)" font-size="6.20" text-anchor="end" fill="#333">20</text>
<line x1="427.40" x2="429.40" y1="185.95" y2="185.95" stroke="#333" stroke-width="0.7"/>
<text transform="translate(426.60,188.18) scale(1,1.080)" font-size="6.20" text-anchor="end" fill="#333">15</text>
<line x1="427.40" x2="429.40" y1="206.90" y2="206.90" stroke="#333" stroke-width="0.7"/>
<text transform="translate(426.60,209.13) scale(1,1.080)" font-size="6.20" text-anchor="end" fill="#333">10</text>
<line x1="445.30" x2="445.30" y1="222.60" y2="224.60" stroke="#333" stroke-width="0.7"/>
<text x="0" y="0" transform="translate(448.90,228.30) scale(1,1.080) rotate(-45)" font-size="6.40" text-anchor="end" fill="#333">Asymptomatic</text>
<line x1="471.50" x2="471.50" y1="222.60" y2="224.60" stroke="#333" stroke-width="0.7"/>
<text x="0" y="0" transform="translate(475.10,228.30) scale(1,1.080) rotate(-45)" font-size="6.40" text-anchor="end" fill="#333">Mild</text>
<line x1="497.70" x2="497.70" y1="222.60" y2="224.60" stroke="#333" stroke-width="0.7"/>
<text x="0" y="0" transform="translate(501.30,228.30) scale(1,1.080) rotate(-45)" font-size="6.40" text-anchor="end" fill="#333">Severe</text>
<line x1="524.00" x2="524.00" y1="222.60" y2="224.60" stroke="#333" stroke-width="0.7"/>
<text x="0" y="0" transform="translate(527.60,228.30) scale(1,1.080) rotate(-45)" font-size="6.40" text-anchor="end" fill="#333">Critical</text>
<text transform="translate(480.00,127.60) scale(1,1.080)" font-size="7.30" font-weight="bold" text-anchor="middle" fill="#111">S100A8</text>
<line x1="445.30" x2="445.30" y1="173.38" y2="181.76" stroke="#5cb84a" stroke-width="0.6"/>
<line x1="445.30" x2="445.30" y1="189.30" y2="193.07" stroke="#5cb84a" stroke-width="0.6"/>
<rect x="440.30" y="181.76" width="10.00" height="7.54" fill="#fff" fill-opacity="0.6" stroke="#5cb84a" stroke-width="0.6"/>
<line x1="440.30" x2="450.30" y1="185.95" y2="185.95" stroke="#5cb84a" stroke-width="0.7"/>
<circle cx="447.22" cy="185.87" r="1.35" fill="#5cb84a"/>
<circle cx="445.02" cy="187.98" r="1.35" fill="#5cb84a"/>
<circle cx="445.84" cy="183.27" r="1.35" fill="#5cb84a"/>
<circle cx="447.71" cy="193.01" r="1.35" fill="#5cb84a"/>
<circle cx="441.23" cy="185.86" r="1.35" fill="#5cb84a"/>
<circle cx="448.89" cy="182.27" r="1.35" fill="#5cb84a"/>
<circle cx="449.77" cy="187.94" r="1.35" fill="#5cb84a"/>
<circle cx="439.87" cy="181.77" r="1.35" fill="#5cb84a"/>
<circle cx="441.68" cy="187.96" r="1.35" fill="#5cb84a"/>
<circle cx="442.29" cy="186.68" r="1.35" fill="#5cb84a"/>
<circle cx="440.43" cy="182.16" r="1.35" fill="#5cb84a"/>
<circle cx="440.98" cy="186.66" r="1.35" fill="#5cb84a"/>
<circle cx="447.00" cy="177.46" r="1.35" fill="#5cb84a"/>
<circle cx="440.78" cy="184.41" r="1.35" fill="#5cb84a"/>
<circle cx="440.10" cy="189.26" r="1.35" fill="#5cb84a"/>
<circle cx="450.65" cy="183.47" r="1.35" fill="#5cb84a"/>
<circle cx="444.12" cy="190.81" r="1.35" fill="#5cb84a"/>
<circle cx="445.79" cy="182.96" r="1.35" fill="#5cb84a"/>
<circle cx="444.99" cy="185.46" r="1.35" fill="#5cb84a"/>
<circle cx="443.42" cy="179.80" r="1.35" fill="#5cb84a"/>
<circle cx="444.75" cy="180.92" r="1.35" fill="#5cb84a"/>
<circle cx="441.63" cy="180.82" r="1.35" fill="#5cb84a"/>
<circle cx="446.26" cy="187.54" r="1.35" fill="#5cb84a"/>
<circle cx="442.31" cy="187.45" r="1.35" fill="#5cb84a"/>
<circle cx="441.04" cy="178.63" r="1.35" fill="#5cb84a"/>
<circle cx="441.80" cy="182.86" r="1.35" fill="#5cb84a"/>
<circle cx="444.25" cy="185.65" r="1.35" fill="#5cb84a"/>
<circle cx="450.46" cy="181.31" r="1.35" fill="#5cb84a"/>
<circle cx="446.47" cy="186.09" r="1.35" fill="#5cb84a"/>
<circle cx="451.07" cy="174.98" r="1.35" fill="#5cb84a"/>
<circle cx="444.11" cy="185.23" r="1.35" fill="#5cb84a"/>
<circle cx="442.43" cy="184.91" r="1.35" fill="#5cb84a"/>
<circle cx="447.83" cy="184.20" r="1.35" fill="#5cb84a"/>
<circle cx="441.59" cy="191.35" r="1.35" fill="#5cb84a"/>
<circle cx="451.28" cy="183.62" r="1.35" fill="#5cb84a"/>
<circle cx="443.99" cy="184.63" r="1.35" fill="#5cb84a"/>
<circle cx="442.56" cy="184.69" r="1.35" fill="#5cb84a"/>
<circle cx="442.56" cy="186.97" r="1.35" fill="#5cb84a"/>
<circle cx="442.95" cy="190.34" r="1.35" fill="#5cb84a"/>
<circle cx="450.54" cy="192.06" r="1.35" fill="#5cb84a"/>
<circle cx="451.21" cy="189.21" r="1.35" fill="#5cb84a"/>
<circle cx="446.00" cy="187.85" r="1.35" fill="#5cb84a"/>
<circle cx="442.08" cy="186.53" r="1.35" fill="#5cb84a"/>
<circle cx="439.42" cy="182.24" r="1.35" fill="#5cb84a"/>
<circle cx="440.26" cy="183.92" r="1.35" fill="#5cb84a"/>
<circle cx="442.88" cy="189.00" r="1.35" fill="#5cb84a"/>
<circle cx="447.01" cy="193.07" r="1.35" fill="#5cb84a"/>
<circle cx="446.82" cy="173.38" r="1.35" fill="#5cb84a"/>
<line x1="471.50" x2="471.50" y1="166.26" y2="175.47" stroke="#3b78b8" stroke-width="0.6"/>
<line x1="471.50" x2="471.50" y1="182.60" y2="185.95" stroke="#3b78b8" stroke-width="0.6"/>
<rect x="466.50" y="175.47" width="10.00" height="7.12" fill="#fff" fill-opacity="0.6" stroke="#3b78b8" stroke-width="0.6"/>
<line x1="466.50" x2="476.50" y1="179.66" y2="179.66" stroke="#3b78b8" stroke-width="0.7"/>
<circle cx="465.63" cy="177.39" r="1.35" fill="#3b78b8"/>
<circle cx="468.17" cy="183.00" r="1.35" fill="#3b78b8"/>
<circle cx="476.06" cy="177.41" r="1.35" fill="#3b78b8"/>
<circle cx="466.94" cy="175.64" r="1.35" fill="#3b78b8"/>
<circle cx="469.10" cy="178.20" r="1.35" fill="#3b78b8"/>
<circle cx="469.18" cy="176.89" r="1.35" fill="#3b78b8"/>
<circle cx="476.08" cy="176.25" r="1.35" fill="#3b78b8"/>
<circle cx="473.85" cy="177.36" r="1.35" fill="#3b78b8"/>
<circle cx="476.71" cy="182.11" r="1.35" fill="#3b78b8"/>
<circle cx="467.80" cy="179.42" r="1.35" fill="#3b78b8"/>
<circle cx="466.56" cy="181.45" r="1.35" fill="#3b78b8"/>
<circle cx="469.62" cy="179.78" r="1.35" fill="#3b78b8"/>
<circle cx="474.69" cy="180.39" r="1.35" fill="#3b78b8"/>
<circle cx="472.93" cy="171.81" r="1.35" fill="#3b78b8"/>
<circle cx="476.72" cy="178.43" r="1.35" fill="#3b78b8"/>
<circle cx="474.05" cy="176.00" r="1.35" fill="#3b78b8"/>
<circle cx="466.48" cy="176.59" r="1.35" fill="#3b78b8"/>
<circle cx="469.28" cy="178.71" r="1.35" fill="#3b78b8"/>
<circle cx="467.94" cy="177.55" r="1.35" fill="#3b78b8"/>
<circle cx="468.71" cy="174.09" r="1.35" fill="#3b78b8"/>
<circle cx="473.50" cy="182.27" r="1.35" fill="#3b78b8"/>
<circle cx="470.82" cy="182.46" r="1.35" fill="#3b78b8"/>
<circle cx="474.58" cy="181.84" r="1.35" fill="#3b78b8"/>
<circle cx="465.69" cy="178.14" r="1.35" fill="#3b78b8"/>
<circle cx="476.41" cy="178.56" r="1.35" fill="#3b78b8"/>
<circle cx="467.45" cy="173.60" r="1.35" fill="#3b78b8"/>
<circle cx="474.41" cy="172.29" r="1.35" fill="#3b78b8"/>
<circle cx="475.63" cy="175.83" r="1.35" fill="#3b78b8"/>
<circle cx="466.01" cy="185.69" r="1.35" fill="#3b78b8"/>
<circle cx="472.01" cy="176.66" r="1.35" fill="#3b78b8"/>
<circle cx="477.20" cy="171.52" r="1.35" fill="#3b78b8"/>
<circle cx="465.59" cy="176.08" r="1.35" fill="#3b78b8"/>
<circle cx="471.47" cy="175.71" r="1.35" fill="#3b78b8"/>
<circle cx="470.60" cy="181.31" r="1.35" fill="#3b78b8"/>
<circle cx="470.08" cy="180.28" r="1.35" fill="#3b78b8"/>
<circle cx="467.83" cy="178.99" r="1.35" fill="#3b78b8"/>
<circle cx="467.66" cy="178.43" r="1.35" fill="#3b78b8"/>
<circle cx="468.69" cy="178.10" r="1.35" fill="#3b78b8"/>
<circle cx="468.11" cy="179.19" r="1.35" fill="#3b78b8"/>
<circle cx="469.03" cy="179.16" r="1.35" fill="#3b78b8"/>
<circle cx="476.32" cy="177.97" r="1.35" fill="#3b78b8"/>
<circle cx="476.89" cy="180.49" r="1.35" fill="#3b78b8"/>
<circle cx="468.62" cy="180.17" r="1.35" fill="#3b78b8"/>
<circle cx="465.83" cy="178.74" r="1.35" fill="#3b78b8"/>
<circle cx="468.69" cy="178.48" r="1.35" fill="#3b78b8"/>
<circle cx="475.78" cy="175.57" r="1.35" fill="#3b78b8"/>
<circle cx="467.61" cy="185.95" r="1.35" fill="#3b78b8"/>
<circle cx="473.44" cy="166.26" r="1.35" fill="#3b78b8"/>
<line x1="497.70" x2="497.70" y1="171.28" y2="178.41" stroke="#e8a04a" stroke-width="0.6"/>
<line x1="497.70" x2="497.70" y1="186.79" y2="190.98" stroke="#e8a04a" stroke-width="0.6"/>
<rect x="492.70" y="178.41" width="10.00" height="8.38" fill="#fff" fill-opacity="0.6" stroke="#e8a04a" stroke-width="0.6"/>
<line x1="492.70" x2="502.70" y1="182.60" y2="182.60" stroke="#e8a04a" stroke-width="0.7"/>
<circle cx="500.94" cy="183.83" r="1.35" fill="#e8a04a"/>
<circle cx="498.34" cy="181.62" r="1.35" fill="#e8a04a"/>
<circle cx="502.17" cy="180.30" r="1.35" fill="#e8a04a"/>
<circle cx="492.21" cy="183.57" r="1.35" fill="#e8a04a"/>
<circle cx="499.91" cy="181.93" r="1.35" fill="#e8a04a"/>
<circle cx="502.62" cy="182.61" r="1.35" fill="#e8a04a"/>
<circle cx="493.89" cy="181.26" r="1.35" fill="#e8a04a"/>
<circle cx="492.79" cy="187.73" r="1.35" fill="#e8a04a"/>
<circle cx="497.59" cy="181.91" r="1.35" fill="#e8a04a"/>
<circle cx="499.54" cy="183.45" r="1.35" fill="#e8a04a"/>
<circle cx="499.28" cy="184.07" r="1.35" fill="#e8a04a"/>
<circle cx="498.06" cy="187.19" r="1.35" fill="#e8a04a"/>
<circle cx="495.77" cy="187.82" r="1.35" fill="#e8a04a"/>
<circle cx="500.23" cy="174.36" r="1.35" fill="#e8a04a"/>
<circle cx="503.56" cy="182.61" r="1.35" fill="#e8a04a"/>
<circle cx="497.78" cy="185.02" r="1.35" fill="#e8a04a"/>
<circle cx="496.45" cy="186.11" r="1.35" fill="#e8a04a"/>
<circle cx="503.33" cy="177.43" r="1.35" fill="#e8a04a"/>
<circle cx="493.83" cy="178.85" r="1.35" fill="#e8a04a"/>
<circle cx="498.45" cy="180.99" r="1.35" fill="#e8a04a"/>
<circle cx="501.77" cy="181.31" r="1.35" fill="#e8a04a"/>
<circle cx="501.19" cy="184.85" r="1.35" fill="#e8a04a"/>
<circle cx="500.67" cy="188.96" r="1.35" fill="#e8a04a"/>
<circle cx="499.88" cy="171.44" r="1.35" fill="#e8a04a"/>
<circle cx="497.10" cy="186.46" r="1.35" fill="#e8a04a"/>
<circle cx="503.29" cy="176.04" r="1.35" fill="#e8a04a"/>
<circle cx="491.72" cy="185.07" r="1.35" fill="#e8a04a"/>
<circle cx="496.78" cy="174.39" r="1.35" fill="#e8a04a"/>
<circle cx="497.11" cy="176.74" r="1.35" fill="#e8a04a"/>
<circle cx="500.32" cy="187.12" r="1.35" fill="#e8a04a"/>
<circle cx="495.15" cy="190.98" r="1.35" fill="#e8a04a"/>
<circle cx="494.07" cy="171.28" r="1.35" fill="#e8a04a"/>
<line x1="524.00" x2="524.00" y1="155.78" y2="162.91" stroke="#d0464e" stroke-width="0.6"/>
<line x1="524.00" x2="524.00" y1="175.47" y2="183.85" stroke="#d0464e" stroke-width="0.6"/>
<rect x="519.00" y="162.91" width="10.00" height="12.57" fill="#fff" fill-opacity="0.6" stroke="#d0464e" stroke-width="0.6"/>
<line x1="519.00" x2="529.00" y1="170.03" y2="170.03" stroke="#d0464e" stroke-width="0.7"/>
<circle cx="518.89" cy="167.48" r="1.35" fill="#d0464e"/>
<circle cx="526.04" cy="169.01" r="1.35" fill="#d0464e"/>
<circle cx="521.21" cy="174.94" r="1.35" fill="#d0464e"/>
<circle cx="524.23" cy="168.92" r="1.35" fill="#d0464e"/>
<circle cx="519.95" cy="175.16" r="1.35" fill="#d0464e"/>
<circle cx="525.39" cy="174.08" r="1.35" fill="#d0464e"/>
<circle cx="529.22" cy="157.20" r="1.35" fill="#d0464e"/>
<circle cx="527.03" cy="176.85" r="1.35" fill="#d0464e"/>
<circle cx="522.40" cy="164.97" r="1.35" fill="#d0464e"/>
<circle cx="529.49" cy="169.36" r="1.35" fill="#d0464e"/>
<circle cx="522.20" cy="171.59" r="1.35" fill="#d0464e"/>
<circle cx="521.34" cy="159.16" r="1.35" fill="#d0464e"/>
<circle cx="523.07" cy="170.58" r="1.35" fill="#d0464e"/>
<circle cx="529.82" cy="171.64" r="1.35" fill="#d0464e"/>
<circle cx="522.64" cy="173.30" r="1.35" fill="#d0464e"/>
<circle cx="521.49" cy="166.82" r="1.35" fill="#d0464e"/>
<circle cx="524.52" cy="170.09" r="1.35" fill="#d0464e"/>
<circle cx="525.64" cy="175.22" r="1.35" fill="#d0464e"/>
<circle cx="527.10" cy="183.85" r="1.35" fill="#d0464e"/>
<circle cx="526.51" cy="155.78" r="1.35" fill="#d0464e"/>
<circle cx="524.69" cy="218.21" r="1.35" fill="#d0464e"/>
<path d="M445.30 155.20 V153.00 H471.50 V155.20" fill="none" stroke="#333" stroke-width="0.85"/>
<text transform="translate(458.67,155.36) scale(1,1.080)" font-size="8.00" letter-spacing="0.55" text-anchor="middle" fill="#222">***</text>
<path d="M445.30 148.60 V146.40 H524.00 V148.60" fill="none" stroke="#333" stroke-width="0.85"/>
<text transform="translate(484.92,148.76) scale(1,1.080)" font-size="8.00" letter-spacing="0.55" text-anchor="middle" fill="#222">****</text>
<path d="M471.50 142.70 V140.50 H524.00 V142.70" fill="none" stroke="#333" stroke-width="0.85"/>
<text transform="translate(498.02,142.86) scale(1,1.080)" font-size="8.00" letter-spacing="0.55" text-anchor="middle" fill="#222">**</text>
<path d="M497.70 136.80 V134.60 H524.00 V136.80" fill="none" stroke="#333" stroke-width="0.85"/>
<text transform="translate(511.12,136.96) scale(1,1.080)" font-size="8.00" letter-spacing="0.55" text-anchor="middle" fill="#222">***</text>
<path d="M567.80 130.70 V222.60 H678.60" fill="none" stroke="#111" stroke-width="1.10"/>
<line x1="565.80" x2="567.80" y1="148.20" y2="148.20" stroke="#333" stroke-width="0.7"/>
<text transform="translate(565.00,150.43) scale(1,1.080)" font-size="6.20" text-anchor="end" fill="#333">20</text>
<line x1="565.80" x2="567.80" y1="171.17" y2="171.17" stroke="#333" stroke-width="0.7"/>
<text transform="translate(565.00,173.40) scale(1,1.080)" font-size="6.20" text-anchor="end" fill="#333">15</text>
<line x1="565.80" x2="567.80" y1="194.13" y2="194.13" stroke="#333" stroke-width="0.7"/>
<text transform="translate(565.00,196.37) scale(1,1.080)" font-size="6.20" text-anchor="end" fill="#333">10</text>
<line x1="565.80" x2="567.80" y1="217.10" y2="217.10" stroke="#333" stroke-width="0.7"/>
<text transform="translate(565.00,219.33) scale(1,1.080)" font-size="6.20" text-anchor="end" fill="#333">5</text>
<line x1="583.20" x2="583.20" y1="222.60" y2="224.60" stroke="#333" stroke-width="0.7"/>
<text x="0" y="0" transform="translate(586.80,228.30) scale(1,1.080) rotate(-45)" font-size="6.40" text-anchor="end" fill="#333">Asymptomatic</text>
<line x1="609.40" x2="609.40" y1="222.60" y2="224.60" stroke="#333" stroke-width="0.7"/>
<text x="0" y="0" transform="translate(613.00,228.30) scale(1,1.080) rotate(-45)" font-size="6.40" text-anchor="end" fill="#333">Mild</text>
<line x1="636.00" x2="636.00" y1="222.60" y2="224.60" stroke="#333" stroke-width="0.7"/>
<text x="0" y="0" transform="translate(639.60,228.30) scale(1,1.080) rotate(-45)" font-size="6.40" text-anchor="end" fill="#333">Severe</text>
<line x1="662.40" x2="662.40" y1="222.60" y2="224.60" stroke="#333" stroke-width="0.7"/>
<text x="0" y="0" transform="translate(666.00,228.30) scale(1,1.080) rotate(-45)" font-size="6.40" text-anchor="end" fill="#333">Critical</text>
<text transform="translate(618.20,127.60) scale(1,1.080)" font-size="7.30" font-weight="bold" text-anchor="middle" fill="#111">S100A12</text>
<line x1="583.20" x2="583.20" y1="176.68" y2="185.87" stroke="#5cb84a" stroke-width="0.6"/>
<line x1="583.20" x2="583.20" y1="197.35" y2="210.21" stroke="#5cb84a" stroke-width="0.6"/>
<rect x="578.20" y="185.87" width="10.00" height="11.48" fill="#fff" fill-opacity="0.6" stroke="#5cb84a" stroke-width="0.6"/>
<line x1="578.20" x2="588.20" y1="192.76" y2="192.76" stroke="#5cb84a" stroke-width="0.7"/>
<circle cx="588.01" cy="184.55" r="1.35" fill="#5cb84a"/>
<circle cx="581.03" cy="201.71" r="1.35" fill="#5cb84a"/>
<circle cx="578.35" cy="194.80" r="1.35" fill="#5cb84a"/>
<circle cx="585.04" cy="189.40" r="1.35" fill="#5cb84a"/>
<circle cx="587.85" cy="186.20" r="1.35" fill="#5cb84a"/>
<circle cx="577.35" cy="195.13" r="1.35" fill="#5cb84a"/>
<circle cx="584.80" cy="188.51" r="1.35" fill="#5cb84a"/>
<circle cx="587.48" cy="191.93" r="1.35" fill="#5cb84a"/>
<circle cx="582.71" cy="190.03" r="1.35" fill="#5cb84a"/>
<circle cx="584.03" cy="194.96" r="1.35" fill="#5cb84a"/>
<circle cx="586.85" cy="193.85" r="1.35" fill="#5cb84a"/>
<circle cx="580.06" cy="187.89" r="1.35" fill="#5cb84a"/>
<circle cx="580.48" cy="189.94" r="1.35" fill="#5cb84a"/>
<circle cx="585.12" cy="185.86" r="1.35" fill="#5cb84a"/>
<circle cx="583.83" cy="192.49" r="1.35" fill="#5cb84a"/>
<circle cx="583.62" cy="189.67" r="1.35" fill="#5cb84a"/>
<circle cx="581.21" cy="192.02" r="1.35" fill="#5cb84a"/>
<circle cx="588.44" cy="196.94" r="1.35" fill="#5cb84a"/>
<circle cx="580.66" cy="197.10" r="1.35" fill="#5cb84a"/>
<circle cx="585.35" cy="180.78" r="1.35" fill="#5cb84a"/>
<circle cx="587.93" cy="196.95" r="1.35" fill="#5cb84a"/>
<circle cx="582.01" cy="196.59" r="1.35" fill="#5cb84a"/>
<circle cx="577.85" cy="189.48" r="1.35" fill="#5cb84a"/>
<circle cx="579.84" cy="192.04" r="1.35" fill="#5cb84a"/>
<circle cx="578.00" cy="189.86" r="1.35" fill="#5cb84a"/>
<circle cx="578.98" cy="191.62" r="1.35" fill="#5cb84a"/>
<circle cx="578.65" cy="197.46" r="1.35" fill="#5cb84a"/>
<circle cx="581.31" cy="193.03" r="1.35" fill="#5cb84a"/>
<circle cx="581.64" cy="196.98" r="1.35" fill="#5cb84a"/>
<circle cx="582.57" cy="186.48" r="1.35" fill="#5cb84a"/>
<circle cx="585.18" cy="193.37" r="1.35" fill="#5cb84a"/>
<circle cx="585.32" cy="182.08" r="1.35" fill="#5cb84a"/>
<circle cx="585.45" cy="182.87" r="1.35" fill="#5cb84a"/>
<circle cx="581.57" cy="191.41" r="1.35" fill="#5cb84a"/>
<circle cx="585.15" cy="188.25" r="1.35" fill="#5cb84a"/>
<circle cx="583.80" cy="196.05" r="1.35" fill="#5cb84a"/>
<circle cx="578.73" cy="205.04" r="1.35" fill="#5cb84a"/>
<circle cx="583.75" cy="186.36" r="1.35" fill="#5cb84a"/>
<circle cx="581.02" cy="186.31" r="1.35" fill="#5cb84a"/>
<circle cx="585.31" cy="196.57" r="1.35" fill="#5cb84a"/>
<circle cx="586.02" cy="194.90" r="1.35" fill="#5cb84a"/>
<circle cx="580.09" cy="194.15" r="1.35" fill="#5cb84a"/>
<circle cx="582.42" cy="198.10" r="1.35" fill="#5cb84a"/>
<circle cx="582.66" cy="186.59" r="1.35" fill="#5cb84a"/>
<circle cx="580.76" cy="195.00" r="1.35" fill="#5cb84a"/>
<circle cx="577.69" cy="186.08" r="1.35" fill="#5cb84a"/>
<circle cx="577.80" cy="210.21" r="1.35" fill="#5cb84a"/>
<circle cx="589.11" cy="176.68" r="1.35" fill="#5cb84a"/>
<circle cx="584.16" cy="218.02" r="1.35" fill="#5cb84a"/>
<line x1="609.40" x2="609.40" y1="172.09" y2="178.06" stroke="#3b78b8" stroke-width="0.6"/>
<line x1="609.40" x2="609.40" y1="194.13" y2="215.72" stroke="#3b78b8" stroke-width="0.6"/>
<rect x="604.40" y="178.06" width="10.00" height="16.08" fill="#fff" fill-opacity="0.6" stroke="#3b78b8" stroke-width="0.6"/>
<line x1="604.40" x2="614.40" y1="184.03" y2="184.03" stroke="#3b78b8" stroke-width="0.7"/>
<circle cx="606.09" cy="183.42" r="1.35" fill="#3b78b8"/>
<circle cx="609.71" cy="182.71" r="1.35" fill="#3b78b8"/>
<circle cx="603.80" cy="182.72" r="1.35" fill="#3b78b8"/>
<circle cx="614.11" cy="199.13" r="1.35" fill="#3b78b8"/>
<circle cx="604.94" cy="176.27" r="1.35" fill="#3b78b8"/>
<circle cx="610.51" cy="189.73" r="1.35" fill="#3b78b8"/>
<circle cx="611.35" cy="181.06" r="1.35" fill="#3b78b8"/>
<circle cx="611.13" cy="182.12" r="1.35" fill="#3b78b8"/>
<circle cx="611.59" cy="172.57" r="1.35" fill="#3b78b8"/>
<circle cx="607.83" cy="183.87" r="1.35" fill="#3b78b8"/>
<circle cx="612.91" cy="179.36" r="1.35" fill="#3b78b8"/>
<circle cx="614.66" cy="181.85" r="1.35" fill="#3b78b8"/>
<circle cx="610.81" cy="195.88" r="1.35" fill="#3b78b8"/>
<circle cx="615.16" cy="182.66" r="1.35" fill="#3b78b8"/>
<circle cx="613.60" cy="189.87" r="1.35" fill="#3b78b8"/>
<circle cx="604.07" cy="190.65" r="1.35" fill="#3b78b8"/>
<circle cx="611.46" cy="179.20" r="1.35" fill="#3b78b8"/>
<circle cx="604.50" cy="191.59" r="1.35" fill="#3b78b8"/>
<circle cx="611.34" cy="180.70" r="1.35" fill="#3b78b8"/>
<circle cx="607.86" cy="198.97" r="1.35" fill="#3b78b8"/>
<circle cx="613.65" cy="193.53" r="1.35" fill="#3b78b8"/>
<circle cx="603.94" cy="185.83" r="1.35" fill="#3b78b8"/>
<circle cx="614.76" cy="209.22" r="1.35" fill="#3b78b8"/>
<circle cx="603.92" cy="193.79" r="1.35" fill="#3b78b8"/>
<circle cx="604.08" cy="184.72" r="1.35" fill="#3b78b8"/>
<circle cx="603.43" cy="199.74" r="1.35" fill="#3b78b8"/>
<circle cx="604.91" cy="197.86" r="1.35" fill="#3b78b8"/>
<circle cx="615.23" cy="192.36" r="1.35" fill="#3b78b8"/>
<circle cx="613.42" cy="184.30" r="1.35" fill="#3b78b8"/>
<circle cx="614.40" cy="191.29" r="1.35" fill="#3b78b8"/>
<circle cx="605.64" cy="210.13" r="1.35" fill="#3b78b8"/>
<circle cx="611.65" cy="191.98" r="1.35" fill="#3b78b8"/>
<circle cx="612.94" cy="189.50" r="1.35" fill="#3b78b8"/>
<circle cx="612.12" cy="177.28" r="1.35" fill="#3b78b8"/>
<circle cx="606.64" cy="182.51" r="1.35" fill="#3b78b8"/>
<circle cx="615.05" cy="185.16" r="1.35" fill="#3b78b8"/>
<circle cx="612.14" cy="180.42" r="1.35" fill="#3b78b8"/>
<circle cx="611.61" cy="185.02" r="1.35" fill="#3b78b8"/>
<circle cx="606.81" cy="177.36" r="1.35" fill="#3b78b8"/>
<circle cx="608.17" cy="189.23" r="1.35" fill="#3b78b8"/>
<circle cx="612.49" cy="188.85" r="1.35" fill="#3b78b8"/>
<circle cx="609.60" cy="190.91" r="1.35" fill="#3b78b8"/>
<circle cx="609.26" cy="191.49" r="1.35" fill="#3b78b8"/>
<circle cx="614.44" cy="179.25" r="1.35" fill="#3b78b8"/>
<circle cx="608.45" cy="183.37" r="1.35" fill="#3b78b8"/>
<circle cx="613.71" cy="181.63" r="1.35" fill="#3b78b8"/>
<circle cx="603.96" cy="215.72" r="1.35" fill="#3b78b8"/>
<circle cx="609.77" cy="172.09" r="1.35" fill="#3b78b8"/>
<line x1="636.00" x2="636.00" y1="174.38" y2="181.27" stroke="#e8a04a" stroke-width="0.6"/>
<line x1="636.00" x2="636.00" y1="196.43" y2="204.24" stroke="#e8a04a" stroke-width="0.6"/>
<rect x="631.00" y="181.27" width="10.00" height="15.16" fill="#fff" fill-opacity="0.6" stroke="#e8a04a" stroke-width="0.6"/>
<line x1="631.00" x2="641.00" y1="185.87" y2="185.87" stroke="#e8a04a" stroke-width="0.7"/>
<circle cx="631.85" cy="176.31" r="1.35" fill="#e8a04a"/>
<circle cx="632.76" cy="186.95" r="1.35" fill="#e8a04a"/>
<circle cx="640.64" cy="185.22" r="1.35" fill="#e8a04a"/>
<circle cx="631.91" cy="182.12" r="1.35" fill="#e8a04a"/>
<circle cx="638.64" cy="194.36" r="1.35" fill="#e8a04a"/>
<circle cx="640.92" cy="195.46" r="1.35" fill="#e8a04a"/>
<circle cx="632.95" cy="184.89" r="1.35" fill="#e8a04a"/>
<circle cx="640.35" cy="188.23" r="1.35" fill="#e8a04a"/>
<circle cx="633.85" cy="182.61" r="1.35" fill="#e8a04a"/>
<circle cx="639.27" cy="184.60" r="1.35" fill="#e8a04a"/>
<circle cx="636.97" cy="183.74" r="1.35" fill="#e8a04a"/>
<circle cx="634.21" cy="179.95" r="1.35" fill="#e8a04a"/>
<circle cx="640.63" cy="203.88" r="1.35" fill="#e8a04a"/>
<circle cx="638.35" cy="187.40" r="1.35" fill="#e8a04a"/>
<circle cx="633.83" cy="176.26" r="1.35" fill="#e8a04a"/>
<circle cx="636.88" cy="182.44" r="1.35" fill="#e8a04a"/>
<circle cx="633.53" cy="192.56" r="1.35" fill="#e8a04a"/>
<circle cx="633.43" cy="203.90" r="1.35" fill="#e8a04a"/>
<circle cx="641.26" cy="187.84" r="1.35" fill="#e8a04a"/>
<circle cx="641.71" cy="189.20" r="1.35" fill="#e8a04a"/>
<circle cx="631.89" cy="193.33" r="1.35" fill="#e8a04a"/>
<circle cx="641.00" cy="194.30" r="1.35" fill="#e8a04a"/>
<circle cx="638.57" cy="184.42" r="1.35" fill="#e8a04a"/>
<circle cx="630.13" cy="188.85" r="1.35" fill="#e8a04a"/>
<circle cx="631.30" cy="194.30" r="1.35" fill="#e8a04a"/>
<circle cx="635.23" cy="189.99" r="1.35" fill="#e8a04a"/>
<circle cx="640.65" cy="192.24" r="1.35" fill="#e8a04a"/>
<circle cx="640.48" cy="184.21" r="1.35" fill="#e8a04a"/>
<circle cx="633.01" cy="192.63" r="1.35" fill="#e8a04a"/>
<circle cx="635.35" cy="180.40" r="1.35" fill="#e8a04a"/>
<circle cx="641.10" cy="204.24" r="1.35" fill="#e8a04a"/>
<circle cx="632.52" cy="174.38" r="1.35" fill="#e8a04a"/>
<line x1="662.40" x2="662.40" y1="156.47" y2="165.20" stroke="#d0464e" stroke-width="0.6"/>
<line x1="662.40" x2="662.40" y1="175.76" y2="178.06" stroke="#d0464e" stroke-width="0.6"/>
<rect x="657.40" y="165.20" width="10.00" height="10.56" fill="#fff" fill-opacity="0.6" stroke="#d0464e" stroke-width="0.6"/>
<line x1="657.40" x2="667.40" y1="168.87" y2="168.87" stroke="#d0464e" stroke-width="0.7"/>
<circle cx="666.95" cy="171.38" r="1.35" fill="#d0464e"/>
<circle cx="660.25" cy="168.68" r="1.35" fill="#d0464e"/>
<circle cx="661.44" cy="168.33" r="1.35" fill="#d0464e"/>
<circle cx="661.66" cy="174.40" r="1.35" fill="#d0464e"/>
<circle cx="664.82" cy="169.86" r="1.35" fill="#d0464e"/>
<circle cx="656.87" cy="166.02" r="1.35" fill="#d0464e"/>
<circle cx="664.06" cy="165.92" r="1.35" fill="#d0464e"/>
<circle cx="662.25" cy="158.76" r="1.35" fill="#d0464e"/>
<circle cx="666.01" cy="168.25" r="1.35" fill="#d0464e"/>
<circle cx="660.79" cy="171.90" r="1.35" fill="#d0464e"/>
<circle cx="663.26" cy="174.48" r="1.35" fill="#d0464e"/>
<circle cx="668.01" cy="166.58" r="1.35" fill="#d0464e"/>
<circle cx="657.10" cy="172.39" r="1.35" fill="#d0464e"/>
<circle cx="665.91" cy="167.21" r="1.35" fill="#d0464e"/>
<circle cx="662.02" cy="170.52" r="1.35" fill="#d0464e"/>
<circle cx="660.00" cy="173.37" r="1.35" fill="#d0464e"/>
<circle cx="659.70" cy="178.06" r="1.35" fill="#d0464e"/>
<circle cx="659.01" cy="156.47" r="1.35" fill="#d0464e"/>
<circle cx="663.77" cy="194.13" r="1.35" fill="#d0464e"/>
<circle cx="661.21" cy="190.46" r="1.35" fill="#d0464e"/>
<path d="M583.20 155.40 V153.20 H609.40 V155.40" fill="none" stroke="#333" stroke-width="0.85"/>
<text transform="translate(596.57,155.56) scale(1,1.080)" font-size="8.00" letter-spacing="0.55" text-anchor="middle" fill="#222">*</text>
<path d="M583.20 149.00 V146.80 H662.40 V149.00" fill="none" stroke="#333" stroke-width="0.85"/>
<text transform="translate(623.07,149.16) scale(1,1.080)" font-size="8.00" letter-spacing="0.55" text-anchor="middle" fill="#222">****</text>
<path d="M609.40 143.00 V140.80 H662.40 V143.00" fill="none" stroke="#333" stroke-width="0.85"/>
<text transform="translate(636.17,143.16) scale(1,1.080)" font-size="8.00" letter-spacing="0.55" text-anchor="middle" fill="#222">****</text>
<path d="M636.00 136.80 V134.60 H662.40 V136.80" fill="none" stroke="#333" stroke-width="0.85"/>
<text transform="translate(649.48,136.96) scale(1,1.080)" font-size="8.00" letter-spacing="0.55" text-anchor="middle" fill="#222">****</text>
<path d="M429.40 271.00 V362.50 H540.50" fill="none" stroke="#111" stroke-width="1.10"/>
<line x1="427.40" x2="429.40" y1="274.90" y2="274.90" stroke="#333" stroke-width="0.7"/>
<text transform="translate(426.60,277.13) scale(1,1.080)" font-size="6.20" text-anchor="end" fill="#333">25</text>
<line x1="427.40" x2="429.40" y1="297.80" y2="297.80" stroke="#333" stroke-width="0.7"/>
<text transform="translate(426.60,300.03) scale(1,1.080)" font-size="6.20" text-anchor="end" fill="#333">20</text>
<line x1="427.40" x2="429.40" y1="320.70" y2="320.70" stroke="#333" stroke-width="0.7"/>
<text transform="translate(426.60,322.93) scale(1,1.080)" font-size="6.20" text-anchor="end" fill="#333">15</text>
<line x1="427.40" x2="429.40" y1="343.60" y2="343.60" stroke="#333" stroke-width="0.7"/>
<text transform="translate(426.60,345.83) scale(1,1.080)" font-size="6.20" text-anchor="end" fill="#333">10</text>
<line x1="445.30" x2="445.30" y1="362.50" y2="364.50" stroke="#333" stroke-width="0.7"/>
<text x="0" y="0" transform="translate(448.90,368.20) scale(1,1.080) rotate(-45)" font-size="6.40" text-anchor="end" fill="#333">Asymptomatic</text>
<line x1="471.50" x2="471.50" y1="362.50" y2="364.50" stroke="#333" stroke-width="0.7"/>
<text x="0" y="0" transform="translate(475.10,368.20) scale(1,1.080) rotate(-45)" font-size="6.40" text-anchor="end" fill="#333">Mild</text>
<line x1="497.70" x2="497.70" y1="362.50" y2="364.50" stroke="#333" stroke-width="0.7"/>
<text x="0" y="0" transform="translate(501.30,368.20) scale(1,1.080) rotate(-45)" font-size="6.40" text-anchor="end" fill="#333">Severe</text>
<line x1="524.00" x2="524.00" y1="362.50" y2="364.50" stroke="#333" stroke-width="0.7"/>
<text x="0" y="0" transform="translate(527.60,368.20) scale(1,1.080) rotate(-45)" font-size="6.40" text-anchor="end" fill="#333">Critical</text>
<text transform="translate(484.00,266.80) scale(1,1.080)" font-size="7.30" font-weight="bold" text-anchor="middle" fill="#111">C5</text>
<line x1="445.30" x2="445.30" y1="302.38" y2="307.88" stroke="#5cb84a" stroke-width="0.6"/>
<line x1="445.30" x2="445.30" y1="320.70" y2="326.20" stroke="#5cb84a" stroke-width="0.6"/>
<rect x="440.30" y="307.88" width="10.00" height="12.82" fill="#fff" fill-opacity="0.6" stroke="#5cb84a" stroke-width="0.6"/>
<line x1="440.30" x2="450.30" y1="313.83" y2="313.83" stroke="#5cb84a" stroke-width="0.7"/>
<circle cx="441.72" cy="312.80" r="1.35" fill="#5cb84a"/>
<circle cx="444.88" cy="311.56" r="1.35" fill="#5cb84a"/>
<circle cx="448.98" cy="323.44" r="1.35" fill="#5cb84a"/>
<circle cx="449.26" cy="306.43" r="1.35" fill="#5cb84a"/>
<circle cx="444.85" cy="313.90" r="1.35" fill="#5cb84a"/>
<circle cx="449.41" cy="316.17" r="1.35" fill="#5cb84a"/>
<circle cx="447.01" cy="318.60" r="1.35" fill="#5cb84a"/>
<circle cx="442.02" cy="310.31" r="1.35" fill="#5cb84a"/>
<circle cx="440.41" cy="309.81" r="1.35" fill="#5cb84a"/>
<circle cx="441.34" cy="324.04" r="1.35" fill="#5cb84a"/>
<circle cx="448.78" cy="313.90" r="1.35" fill="#5cb84a"/>
<circle cx="443.98" cy="312.73" r="1.35" fill="#5cb84a"/>
<circle cx="449.35" cy="310.44" r="1.35" fill="#5cb84a"/>
<circle cx="450.91" cy="313.75" r="1.35" fill="#5cb84a"/>
<circle cx="450.33" cy="311.88" r="1.35" fill="#5cb84a"/>
<circle cx="444.93" cy="310.30" r="1.35" fill="#5cb84a"/>
<circle cx="439.39" cy="322.32" r="1.35" fill="#5cb84a"/>
<circle cx="442.62" cy="310.43" r="1.35" fill="#5cb84a"/>
<circle cx="441.93" cy="318.04" r="1.35" fill="#5cb84a"/>
<circle cx="447.09" cy="320.53" r="1.35" fill="#5cb84a"/>
<circle cx="447.72" cy="321.09" r="1.35" fill="#5cb84a"/>
<circle cx="450.36" cy="312.12" r="1.35" fill="#5cb84a"/>
<circle cx="447.76" cy="308.62" r="1.35" fill="#5cb84a"/>
<circle cx="450.82" cy="308.55" r="1.35" fill="#5cb84a"/>
<circle cx="446.96" cy="312.68" r="1.35" fill="#5cb84a"/>
<circle cx="445.00" cy="325.63" r="1.35" fill="#5cb84a"/>
<circle cx="449.34" cy="325.65" r="1.35" fill="#5cb84a"/>
<circle cx="442.59" cy="305.43" r="1.35" fill="#5cb84a"/>
<circle cx="448.64" cy="322.03" r="1.35" fill="#5cb84a"/>
<circle cx="448.03" cy="321.83" r="1.35" fill="#5cb84a"/>
<circle cx="449.70" cy="302.55" r="1.35" fill="#5cb84a"/>
<circle cx="440.02" cy="312.36" r="1.35" fill="#5cb84a"/>
<circle cx="441.56" cy="311.08" r="1.35" fill="#5cb84a"/>
<circle cx="450.70" cy="319.15" r="1.35" fill="#5cb84a"/>
<circle cx="441.01" cy="309.74" r="1.35" fill="#5cb84a"/>
<circle cx="444.71" cy="311.82" r="1.35" fill="#5cb84a"/>
<circle cx="446.52" cy="305.30" r="1.35" fill="#5cb84a"/>
<circle cx="445.09" cy="315.38" r="1.35" fill="#5cb84a"/>
<circle cx="449.85" cy="314.55" r="1.35" fill="#5cb84a"/>
<circle cx="450.76" cy="319.67" r="1.35" fill="#5cb84a"/>
<circle cx="443.40" cy="318.77" r="1.35" fill="#5cb84a"/>
<circle cx="440.91" cy="318.77" r="1.35" fill="#5cb84a"/>
<circle cx="450.27" cy="316.62" r="1.35" fill="#5cb84a"/>
<circle cx="444.74" cy="319.78" r="1.35" fill="#5cb84a"/>
<circle cx="442.28" cy="316.89" r="1.35" fill="#5cb84a"/>
<circle cx="440.96" cy="310.75" r="1.35" fill="#5cb84a"/>
<circle cx="439.41" cy="326.20" r="1.35" fill="#5cb84a"/>
<circle cx="446.29" cy="302.38" r="1.35" fill="#5cb84a"/>
<circle cx="444.42" cy="355.05" r="1.35" fill="#5cb84a"/>
<line x1="471.50" x2="471.50" y1="292.30" y2="304.67" stroke="#3b78b8" stroke-width="0.6"/>
<line x1="471.50" x2="471.50" y1="313.83" y2="321.62" stroke="#3b78b8" stroke-width="0.6"/>
<rect x="466.50" y="304.67" width="10.00" height="9.16" fill="#fff" fill-opacity="0.6" stroke="#3b78b8" stroke-width="0.6"/>
<line x1="466.50" x2="476.50" y1="309.25" y2="309.25" stroke="#3b78b8" stroke-width="0.7"/>
<circle cx="474.13" cy="302.92" r="1.35" fill="#3b78b8"/>
<circle cx="468.44" cy="312.51" r="1.35" fill="#3b78b8"/>
<circle cx="472.52" cy="306.89" r="1.35" fill="#3b78b8"/>
<circle cx="467.55" cy="307.75" r="1.35" fill="#3b78b8"/>
<circle cx="470.30" cy="309.65" r="1.35" fill="#3b78b8"/>
<circle cx="475.26" cy="314.94" r="1.35" fill="#3b78b8"/>
<circle cx="465.62" cy="305.56" r="1.35" fill="#3b78b8"/>
<circle cx="471.94" cy="313.29" r="1.35" fill="#3b78b8"/>
<circle cx="470.73" cy="301.66" r="1.35" fill="#3b78b8"/>
<circle cx="468.90" cy="307.47" r="1.35" fill="#3b78b8"/>
<circle cx="466.28" cy="306.95" r="1.35" fill="#3b78b8"/>
<circle cx="471.78" cy="311.24" r="1.35" fill="#3b78b8"/>
<circle cx="469.50" cy="312.43" r="1.35" fill="#3b78b8"/>
<circle cx="466.67" cy="312.21" r="1.35" fill="#3b78b8"/>
<circle cx="470.32" cy="307.48" r="1.35" fill="#3b78b8"/>
<circle cx="473.65" cy="310.73" r="1.35" fill="#3b78b8"/>
<circle cx="466.46" cy="310.55" r="1.35" fill="#3b78b8"/>
<circle cx="474.92" cy="296.54" r="1.35" fill="#3b78b8"/>
<circle cx="466.50" cy="309.40" r="1.35" fill="#3b78b8"/>
<circle cx="471.15" cy="312.83" r="1.35" fill="#3b78b8"/>
<circle cx="469.90" cy="313.04" r="1.35" fill="#3b78b8"/>
<circle cx="475.79" cy="303.20" r="1.35" fill="#3b78b8"/>
<circle cx="476.21" cy="313.33" r="1.35" fill="#3b78b8"/>
<circle cx="474.35" cy="308.06" r="1.35" fill="#3b78b8"/>
<circle cx="469.03" cy="304.72" r="1.35" fill="#3b78b8"/>
<circle cx="469.39" cy="309.30" r="1.35" fill="#3b78b8"/>
<circle cx="475.40" cy="312.26" r="1.35" fill="#3b78b8"/>
<circle cx="471.62" cy="309.51" r="1.35" fill="#3b78b8"/>
<circle cx="473.12" cy="314.40" r="1.35" fill="#3b78b8"/>
<circle cx="474.19" cy="310.35" r="1.35" fill="#3b78b8"/>
<circle cx="467.80" cy="305.02" r="1.35" fill="#3b78b8"/>
<circle cx="470.12" cy="308.59" r="1.35" fill="#3b78b8"/>
<circle cx="476.95" cy="303.83" r="1.35" fill="#3b78b8"/>
<circle cx="469.49" cy="305.57" r="1.35" fill="#3b78b8"/>
<circle cx="475.68" cy="317.85" r="1.35" fill="#3b78b8"/>
<circle cx="467.36" cy="312.62" r="1.35" fill="#3b78b8"/>
<circle cx="465.67" cy="305.95" r="1.35" fill="#3b78b8"/>
<circle cx="471.53" cy="313.01" r="1.35" fill="#3b78b8"/>
<circle cx="468.90" cy="310.20" r="1.35" fill="#3b78b8"/>
<circle cx="472.65" cy="299.17" r="1.35" fill="#3b78b8"/>
<circle cx="474.74" cy="313.61" r="1.35" fill="#3b78b8"/>
<circle cx="465.97" cy="311.83" r="1.35" fill="#3b78b8"/>
<circle cx="471.49" cy="304.30" r="1.35" fill="#3b78b8"/>
<circle cx="469.98" cy="319.55" r="1.35" fill="#3b78b8"/>
<circle cx="476.37" cy="302.70" r="1.35" fill="#3b78b8"/>
<circle cx="475.63" cy="310.40" r="1.35" fill="#3b78b8"/>
<circle cx="476.12" cy="321.62" r="1.35" fill="#3b78b8"/>
<circle cx="474.40" cy="292.30" r="1.35" fill="#3b78b8"/>
<line x1="497.70" x2="497.70" y1="295.51" y2="300.09" stroke="#e8a04a" stroke-width="0.6"/>
<line x1="497.70" x2="497.70" y1="310.62" y2="326.20" stroke="#e8a04a" stroke-width="0.6"/>
<rect x="492.70" y="300.09" width="10.00" height="10.53" fill="#fff" fill-opacity="0.6" stroke="#e8a04a" stroke-width="0.6"/>
<line x1="492.70" x2="502.70" y1="304.67" y2="304.67" stroke="#e8a04a" stroke-width="0.7"/>
<circle cx="500.71" cy="304.10" r="1.35" fill="#e8a04a"/>
<circle cx="495.73" cy="309.16" r="1.35" fill="#e8a04a"/>
<circle cx="493.27" cy="300.90" r="1.35" fill="#e8a04a"/>
<circle cx="498.31" cy="304.37" r="1.35" fill="#e8a04a"/>
<circle cx="502.23" cy="306.78" r="1.35" fill="#e8a04a"/>
<circle cx="503.22" cy="309.64" r="1.35" fill="#e8a04a"/>
<circle cx="492.97" cy="298.88" r="1.35" fill="#e8a04a"/>
<circle cx="500.65" cy="302.13" r="1.35" fill="#e8a04a"/>
<circle cx="495.59" cy="302.89" r="1.35" fill="#e8a04a"/>
<circle cx="503.35" cy="301.78" r="1.35" fill="#e8a04a"/>
<circle cx="496.38" cy="299.47" r="1.35" fill="#e8a04a"/>
<circle cx="492.93" cy="307.16" r="1.35" fill="#e8a04a"/>
<circle cx="495.67" cy="301.89" r="1.35" fill="#e8a04a"/>
<circle cx="497.88" cy="301.36" r="1.35" fill="#e8a04a"/>
<circle cx="493.81" cy="296.39" r="1.35" fill="#e8a04a"/>
<circle cx="500.94" cy="304.76" r="1.35" fill="#e8a04a"/>
<circle cx="495.65" cy="315.57" r="1.35" fill="#e8a04a"/>
<circle cx="500.61" cy="303.17" r="1.35" fill="#e8a04a"/>
<circle cx="494.49" cy="300.33" r="1.35" fill="#e8a04a"/>
<circle cx="497.59" cy="300.25" r="1.35" fill="#e8a04a"/>
<circle cx="499.62" cy="309.37" r="1.35" fill="#e8a04a"/>
<circle cx="494.18" cy="305.31" r="1.35" fill="#e8a04a"/>
<circle cx="495.17" cy="316.89" r="1.35" fill="#e8a04a"/>
<circle cx="501.78" cy="301.22" r="1.35" fill="#e8a04a"/>
<circle cx="496.43" cy="311.42" r="1.35" fill="#e8a04a"/>
<circle cx="495.88" cy="301.98" r="1.35" fill="#e8a04a"/>
<circle cx="499.11" cy="301.08" r="1.35" fill="#e8a04a"/>
<circle cx="500.00" cy="303.28" r="1.35" fill="#e8a04a"/>
<circle cx="502.07" cy="300.77" r="1.35" fill="#e8a04a"/>
<circle cx="498.48" cy="306.68" r="1.35" fill="#e8a04a"/>
<circle cx="501.95" cy="326.20" r="1.35" fill="#e8a04a"/>
<circle cx="502.42" cy="295.51" r="1.35" fill="#e8a04a"/>
<line x1="524.00" x2="524.00" y1="290.93" y2="296.88" stroke="#d0464e" stroke-width="0.6"/>
<line x1="524.00" x2="524.00" y1="309.25" y2="317.04" stroke="#d0464e" stroke-width="0.6"/>
<rect x="519.00" y="296.88" width="10.00" height="12.37" fill="#fff" fill-opacity="0.6" stroke="#d0464e" stroke-width="0.6"/>
<line x1="519.00" x2="529.00" y1="302.38" y2="302.38" stroke="#d0464e" stroke-width="0.7"/>
<circle cx="519.22" cy="292.39" r="1.35" fill="#d0464e"/>
<circle cx="529.17" cy="309.31" r="1.35" fill="#d0464e"/>
<circle cx="522.99" cy="307.93" r="1.35" fill="#d0464e"/>
<circle cx="527.52" cy="309.61" r="1.35" fill="#d0464e"/>
<circle cx="518.84" cy="298.92" r="1.35" fill="#d0464e"/>
<circle cx="523.78" cy="300.62" r="1.35" fill="#d0464e"/>
<circle cx="526.95" cy="306.38" r="1.35" fill="#d0464e"/>
<circle cx="527.26" cy="305.40" r="1.35" fill="#d0464e"/>
<circle cx="520.28" cy="294.77" r="1.35" fill="#d0464e"/>
<circle cx="523.77" cy="310.33" r="1.35" fill="#d0464e"/>
<circle cx="527.75" cy="305.75" r="1.35" fill="#d0464e"/>
<circle cx="528.96" cy="299.68" r="1.35" fill="#d0464e"/>
<circle cx="519.13" cy="295.56" r="1.35" fill="#d0464e"/>
<circle cx="525.05" cy="307.71" r="1.35" fill="#d0464e"/>
<circle cx="528.68" cy="308.22" r="1.35" fill="#d0464e"/>
<circle cx="525.44" cy="307.74" r="1.35" fill="#d0464e"/>
<circle cx="527.42" cy="317.04" r="1.35" fill="#d0464e"/>
<circle cx="521.57" cy="290.93" r="1.35" fill="#d0464e"/>
<circle cx="523.97" cy="358.26" r="1.35" fill="#d0464e"/>
<path d="M445.30 290.20 V288.00 H471.50 V290.20" fill="none" stroke="#333" stroke-width="0.85"/>
<text transform="translate(458.67,290.36) scale(1,1.080)" font-size="8.00" letter-spacing="0.55" text-anchor="middle" fill="#222">*</text>
<path d="M445.30 283.70 V281.50 H497.70 V283.70" fill="none" stroke="#333" stroke-width="0.85"/>
<text transform="translate(471.77,283.86) scale(1,1.080)" font-size="8.00" letter-spacing="0.55" text-anchor="middle" fill="#222">***</text>
<path d="M445.30 277.10 V274.90 H524.00 V277.10" fill="none" stroke="#333" stroke-width="0.85"/>
<text transform="translate(484.92,277.26) scale(1,1.080)" font-size="8.00" letter-spacing="0.55" text-anchor="middle" fill="#222">**</text>
<path d="M567.80 271.00 V362.50 H678.60" fill="none" stroke="#111" stroke-width="1.10"/>
<line x1="565.80" x2="567.80" y1="292.40" y2="292.40" stroke="#333" stroke-width="0.7"/>
<text transform="translate(565.00,294.63) scale(1,1.080)" font-size="6.20" text-anchor="end" fill="#333">20</text>
<line x1="565.80" x2="567.80" y1="317.45" y2="317.45" stroke="#333" stroke-width="0.7"/>
<text transform="translate(565.00,319.68) scale(1,1.080)" font-size="6.20" text-anchor="end" fill="#333">15</text>
<line x1="565.80" x2="567.80" y1="342.50" y2="342.50" stroke="#333" stroke-width="0.7"/>
<text transform="translate(565.00,344.73) scale(1,1.080)" font-size="6.20" text-anchor="end" fill="#333">10</text>
<line x1="583.20" x2="583.20" y1="362.50" y2="364.50" stroke="#333" stroke-width="0.7"/>
<text x="0" y="0" transform="translate(586.80,368.20) scale(1,1.080) rotate(-45)" font-size="6.40" text-anchor="end" fill="#333">Asymptomatic</text>
<line x1="609.40" x2="609.40" y1="362.50" y2="364.50" stroke="#333" stroke-width="0.7"/>
<text x="0" y="0" transform="translate(613.00,368.20) scale(1,1.080) rotate(-45)" font-size="6.40" text-anchor="end" fill="#333">Mild</text>
<line x1="636.00" x2="636.00" y1="362.50" y2="364.50" stroke="#333" stroke-width="0.7"/>
<text x="0" y="0" transform="translate(639.60,368.20) scale(1,1.080) rotate(-45)" font-size="6.40" text-anchor="end" fill="#333">Severe</text>
<line x1="662.40" x2="662.40" y1="362.50" y2="364.50" stroke="#333" stroke-width="0.7"/>
<text x="0" y="0" transform="translate(666.00,368.20) scale(1,1.080) rotate(-45)" font-size="6.40" text-anchor="end" fill="#333">Critical</text>
<text transform="translate(622.60,266.80) scale(1,1.080)" font-size="7.30" font-weight="bold" text-anchor="middle" fill="#111">LBP</text>
<line x1="583.20" x2="583.20" y1="305.93" y2="317.45" stroke="#5cb84a" stroke-width="0.6"/>
<line x1="583.20" x2="583.20" y1="329.98" y2="338.49" stroke="#5cb84a" stroke-width="0.6"/>
<rect x="578.20" y="317.45" width="10.00" height="12.53" fill="#fff" fill-opacity="0.6" stroke="#5cb84a" stroke-width="0.6"/>
<line x1="578.20" x2="588.20" y1="323.46" y2="323.46" stroke="#5cb84a" stroke-width="0.7"/>
<circle cx="587.00" cy="336.94" r="1.35" fill="#5cb84a"/>
<circle cx="577.59" cy="319.96" r="1.35" fill="#5cb84a"/>
<circle cx="584.57" cy="329.00" r="1.35" fill="#5cb84a"/>
<circle cx="587.66" cy="317.72" r="1.35" fill="#5cb84a"/>
<circle cx="588.53" cy="317.94" r="1.35" fill="#5cb84a"/>
<circle cx="585.39" cy="320.99" r="1.35" fill="#5cb84a"/>
<circle cx="581.35" cy="319.60" r="1.35" fill="#5cb84a"/>
<circle cx="581.19" cy="327.15" r="1.35" fill="#5cb84a"/>
<circle cx="584.77" cy="328.38" r="1.35" fill="#5cb84a"/>
<circle cx="578.00" cy="321.18" r="1.35" fill="#5cb84a"/>
<circle cx="577.54" cy="324.85" r="1.35" fill="#5cb84a"/>
<circle cx="587.78" cy="325.00" r="1.35" fill="#5cb84a"/>
<circle cx="584.72" cy="332.44" r="1.35" fill="#5cb84a"/>
<circle cx="579.15" cy="320.61" r="1.35" fill="#5cb84a"/>
<circle cx="582.34" cy="322.71" r="1.35" fill="#5cb84a"/>
<circle cx="580.67" cy="329.35" r="1.35" fill="#5cb84a"/>
<circle cx="587.63" cy="330.06" r="1.35" fill="#5cb84a"/>
<circle cx="580.63" cy="327.27" r="1.35" fill="#5cb84a"/>
<circle cx="585.89" cy="322.49" r="1.35" fill="#5cb84a"/>
<circle cx="586.13" cy="315.61" r="1.35" fill="#5cb84a"/>
<circle cx="581.03" cy="330.09" r="1.35" fill="#5cb84a"/>
<circle cx="580.23" cy="323.94" r="1.35" fill="#5cb84a"/>
<circle cx="583.45" cy="324.71" r="1.35" fill="#5cb84a"/>
<circle cx="582.00" cy="328.72" r="1.35" fill="#5cb84a"/>
<circle cx="584.33" cy="311.26" r="1.35" fill="#5cb84a"/>
<circle cx="581.14" cy="314.98" r="1.35" fill="#5cb84a"/>
<circle cx="586.73" cy="323.90" r="1.35" fill="#5cb84a"/>
<circle cx="582.24" cy="313.05" r="1.35" fill="#5cb84a"/>
<circle cx="578.83" cy="324.40" r="1.35" fill="#5cb84a"/>
<circle cx="586.49" cy="326.34" r="1.35" fill="#5cb84a"/>
<circle cx="587.94" cy="313.56" r="1.35" fill="#5cb84a"/>
<circle cx="585.37" cy="319.72" r="1.35" fill="#5cb84a"/>
<circle cx="583.76" cy="320.59" r="1.35" fill="#5cb84a"/>
<circle cx="587.66" cy="324.40" r="1.35" fill="#5cb84a"/>
<circle cx="588.41" cy="321.87" r="1.35" fill="#5cb84a"/>
<circle cx="577.31" cy="334.39" r="1.35" fill="#5cb84a"/>
<circle cx="583.05" cy="326.52" r="1.35" fill="#5cb84a"/>
<circle cx="577.43" cy="325.14" r="1.35" fill="#5cb84a"/>
<circle cx="581.20" cy="328.68" r="1.35" fill="#5cb84a"/>
<circle cx="580.10" cy="325.83" r="1.35" fill="#5cb84a"/>
<circle cx="582.74" cy="330.30" r="1.35" fill="#5cb84a"/>
<circle cx="585.33" cy="329.74" r="1.35" fill="#5cb84a"/>
<circle cx="587.53" cy="312.57" r="1.35" fill="#5cb84a"/>
<circle cx="580.33" cy="316.53" r="1.35" fill="#5cb84a"/>
<circle cx="577.34" cy="324.39" r="1.35" fill="#5cb84a"/>
<circle cx="589.19" cy="325.42" r="1.35" fill="#5cb84a"/>
<circle cx="586.59" cy="338.49" r="1.35" fill="#5cb84a"/>
<circle cx="583.80" cy="305.93" r="1.35" fill="#5cb84a"/>
<circle cx="581.65" cy="358.53" r="1.35" fill="#5cb84a"/>
<line x1="609.40" x2="609.40" y1="308.43" y2="313.44" stroke="#3b78b8" stroke-width="0.6"/>
<line x1="609.40" x2="609.40" y1="322.46" y2="336.49" stroke="#3b78b8" stroke-width="0.6"/>
<rect x="604.40" y="313.44" width="10.00" height="9.02" fill="#fff" fill-opacity="0.6" stroke="#3b78b8" stroke-width="0.6"/>
<line x1="604.40" x2="614.40" y1="317.45" y2="317.45" stroke="#3b78b8" stroke-width="0.7"/>
<circle cx="605.77" cy="314.04" r="1.35" fill="#3b78b8"/>
<circle cx="607.02" cy="311.41" r="1.35" fill="#3b78b8"/>
<circle cx="614.88" cy="326.57" r="1.35" fill="#3b78b8"/>
<circle cx="605.96" cy="317.56" r="1.35" fill="#3b78b8"/>
<circle cx="606.91" cy="315.54" r="1.35" fill="#3b78b8"/>
<circle cx="606.01" cy="313.38" r="1.35" fill="#3b78b8"/>
<circle cx="613.82" cy="324.21" r="1.35" fill="#3b78b8"/>
<circle cx="611.65" cy="316.45" r="1.35" fill="#3b78b8"/>
<circle cx="610.49" cy="321.14" r="1.35" fill="#3b78b8"/>
<circle cx="613.61" cy="320.19" r="1.35" fill="#3b78b8"/>
<circle cx="608.96" cy="336.08" r="1.35" fill="#3b78b8"/>
<circle cx="614.39" cy="319.87" r="1.35" fill="#3b78b8"/>
<circle cx="612.72" cy="319.50" r="1.35" fill="#3b78b8"/>
<circle cx="606.99" cy="322.59" r="1.35" fill="#3b78b8"/>
<circle cx="606.23" cy="315.56" r="1.35" fill="#3b78b8"/>
<circle cx="609.85" cy="319.94" r="1.35" fill="#3b78b8"/>
<circle cx="608.75" cy="315.33" r="1.35" fill="#3b78b8"/>
<circle cx="612.88" cy="310.38" r="1.35" fill="#3b78b8"/>
<circle cx="611.23" cy="319.24" r="1.35" fill="#3b78b8"/>
<circle cx="612.31" cy="320.67" r="1.35" fill="#3b78b8"/>
<circle cx="610.64" cy="316.60" r="1.35" fill="#3b78b8"/>
<circle cx="606.57" cy="318.37" r="1.35" fill="#3b78b8"/>
<circle cx="612.33" cy="320.15" r="1.35" fill="#3b78b8"/>
<circle cx="615.18" cy="318.49" r="1.35" fill="#3b78b8"/>
<circle cx="611.05" cy="319.54" r="1.35" fill="#3b78b8"/>
<circle cx="611.93" cy="313.00" r="1.35" fill="#3b78b8"/>
<circle cx="606.20" cy="316.42" r="1.35" fill="#3b78b8"/>
<circle cx="604.82" cy="313.76" r="1.35" fill="#3b78b8"/>
<circle cx="608.78" cy="316.49" r="1.35" fill="#3b78b8"/>
<circle cx="610.52" cy="314.28" r="1.35" fill="#3b78b8"/>
<circle cx="612.13" cy="320.40" r="1.35" fill="#3b78b8"/>
<circle cx="609.09" cy="321.18" r="1.35" fill="#3b78b8"/>
<circle cx="609.92" cy="326.67" r="1.35" fill="#3b78b8"/>
<circle cx="604.46" cy="313.66" r="1.35" fill="#3b78b8"/>
<circle cx="603.98" cy="313.47" r="1.35" fill="#3b78b8"/>
<circle cx="604.86" cy="327.47" r="1.35" fill="#3b78b8"/>
<circle cx="607.22" cy="312.18" r="1.35" fill="#3b78b8"/>
<circle cx="606.32" cy="321.47" r="1.35" fill="#3b78b8"/>
<circle cx="605.11" cy="314.40" r="1.35" fill="#3b78b8"/>
<circle cx="607.46" cy="320.17" r="1.35" fill="#3b78b8"/>
<circle cx="607.44" cy="322.21" r="1.35" fill="#3b78b8"/>
<circle cx="613.29" cy="317.55" r="1.35" fill="#3b78b8"/>
<circle cx="614.62" cy="322.28" r="1.35" fill="#3b78b8"/>
<circle cx="615.33" cy="314.55" r="1.35" fill="#3b78b8"/>
<circle cx="612.25" cy="315.66" r="1.35" fill="#3b78b8"/>
<circle cx="603.53" cy="322.32" r="1.35" fill="#3b78b8"/>
<circle cx="606.26" cy="336.49" r="1.35" fill="#3b78b8"/>
<circle cx="615.39" cy="308.43" r="1.35" fill="#3b78b8"/>
<line x1="636.00" x2="636.00" y1="309.43" y2="314.94" stroke="#e8a04a" stroke-width="0.6"/>
<line x1="636.00" x2="636.00" y1="323.46" y2="333.48" stroke="#e8a04a" stroke-width="0.6"/>
<rect x="631.00" y="314.94" width="10.00" height="8.52" fill="#fff" fill-opacity="0.6" stroke="#e8a04a" stroke-width="0.6"/>
<line x1="631.00" x2="641.00" y1="318.45" y2="318.45" stroke="#e8a04a" stroke-width="0.7"/>
<circle cx="640.12" cy="316.47" r="1.35" fill="#e8a04a"/>
<circle cx="635.56" cy="322.63" r="1.35" fill="#e8a04a"/>
<circle cx="641.20" cy="321.97" r="1.35" fill="#e8a04a"/>
<circle cx="635.16" cy="319.45" r="1.35" fill="#e8a04a"/>
<circle cx="638.73" cy="323.24" r="1.35" fill="#e8a04a"/>
<circle cx="639.01" cy="315.57" r="1.35" fill="#e8a04a"/>
<circle cx="634.85" cy="320.65" r="1.35" fill="#e8a04a"/>
<circle cx="639.84" cy="320.32" r="1.35" fill="#e8a04a"/>
<circle cx="638.62" cy="319.51" r="1.35" fill="#e8a04a"/>
<circle cx="631.91" cy="316.63" r="1.35" fill="#e8a04a"/>
<circle cx="637.05" cy="317.26" r="1.35" fill="#e8a04a"/>
<circle cx="635.83" cy="322.22" r="1.35" fill="#e8a04a"/>
<circle cx="637.15" cy="316.02" r="1.35" fill="#e8a04a"/>
<circle cx="630.35" cy="315.28" r="1.35" fill="#e8a04a"/>
<circle cx="638.41" cy="323.03" r="1.35" fill="#e8a04a"/>
<circle cx="634.76" cy="315.04" r="1.35" fill="#e8a04a"/>
<circle cx="638.85" cy="320.91" r="1.35" fill="#e8a04a"/>
<circle cx="632.89" cy="318.54" r="1.35" fill="#e8a04a"/>
<circle cx="630.25" cy="320.26" r="1.35" fill="#e8a04a"/>
<circle cx="635.59" cy="313.10" r="1.35" fill="#e8a04a"/>
<circle cx="637.67" cy="316.39" r="1.35" fill="#e8a04a"/>
<circle cx="639.34" cy="315.88" r="1.35" fill="#e8a04a"/>
<circle cx="636.49" cy="319.81" r="1.35" fill="#e8a04a"/>
<circle cx="640.57" cy="314.16" r="1.35" fill="#e8a04a"/>
<circle cx="631.97" cy="317.03" r="1.35" fill="#e8a04a"/>
<circle cx="631.48" cy="315.53" r="1.35" fill="#e8a04a"/>
<circle cx="634.84" cy="317.42" r="1.35" fill="#e8a04a"/>
<circle cx="637.89" cy="317.53" r="1.35" fill="#e8a04a"/>
<circle cx="639.19" cy="311.41" r="1.35" fill="#e8a04a"/>
<circle cx="630.78" cy="329.27" r="1.35" fill="#e8a04a"/>
<circle cx="637.18" cy="333.48" r="1.35" fill="#e8a04a"/>
<circle cx="634.20" cy="309.43" r="1.35" fill="#e8a04a"/>
<line x1="662.40" x2="662.40" y1="300.92" y2="304.92" stroke="#d0464e" stroke-width="0.6"/>
<line x1="662.40" x2="662.40" y1="314.94" y2="318.45" stroke="#d0464e" stroke-width="0.6"/>
<rect x="657.40" y="304.92" width="10.00" height="10.02" fill="#fff" fill-opacity="0.6" stroke="#d0464e" stroke-width="0.6"/>
<line x1="657.40" x2="667.40" y1="310.94" y2="310.94" stroke="#d0464e" stroke-width="0.7"/>
<circle cx="664.56" cy="307.02" r="1.35" fill="#d0464e"/>
<circle cx="660.48" cy="308.15" r="1.35" fill="#d0464e"/>
<circle cx="665.94" cy="305.16" r="1.35" fill="#d0464e"/>
<circle cx="662.12" cy="312.98" r="1.35" fill="#d0464e"/>
<circle cx="665.12" cy="306.70" r="1.35" fill="#d0464e"/>
<circle cx="662.99" cy="311.49" r="1.35" fill="#d0464e"/>
<circle cx="666.72" cy="309.19" r="1.35" fill="#d0464e"/>
<circle cx="662.46" cy="313.59" r="1.35" fill="#d0464e"/>
<circle cx="657.48" cy="312.81" r="1.35" fill="#d0464e"/>
<circle cx="665.56" cy="310.71" r="1.35" fill="#d0464e"/>
<circle cx="659.17" cy="314.46" r="1.35" fill="#d0464e"/>
<circle cx="663.27" cy="306.54" r="1.35" fill="#d0464e"/>
<circle cx="667.60" cy="314.64" r="1.35" fill="#d0464e"/>
<circle cx="665.08" cy="304.18" r="1.35" fill="#d0464e"/>
<circle cx="657.23" cy="303.79" r="1.35" fill="#d0464e"/>
<circle cx="666.47" cy="306.18" r="1.35" fill="#d0464e"/>
<circle cx="668.00" cy="318.45" r="1.35" fill="#d0464e"/>
<circle cx="661.98" cy="300.92" r="1.35" fill="#d0464e"/>
<circle cx="661.42" cy="352.02" r="1.35" fill="#d0464e"/>
<path d="M583.20 299.90 V297.70 H609.40 V299.90" fill="none" stroke="#333" stroke-width="0.85"/>
<text transform="translate(596.57,300.06) scale(1,1.080)" font-size="8.00" letter-spacing="0.55" text-anchor="middle" fill="#222">**</text>
<path d="M583.20 294.60 V292.40 H636.00 V294.60" fill="none" stroke="#333" stroke-width="0.85"/>
<text transform="translate(609.88,294.76) scale(1,1.080)" font-size="8.00" letter-spacing="0.55" text-anchor="middle" fill="#222">*</text>
<path d="M583.20 288.70 V286.50 H662.40 V288.70" fill="none" stroke="#333" stroke-width="0.85"/>
<text transform="translate(623.07,288.86) scale(1,1.080)" font-size="8.00" letter-spacing="0.55" text-anchor="middle" fill="#222">****</text>
<path d="M609.40 283.00 V280.80 H662.40 V283.00" fill="none" stroke="#333" stroke-width="0.85"/>
<text transform="translate(636.17,283.16) scale(1,1.080)" font-size="8.00" letter-spacing="0.55" text-anchor="middle" fill="#222">**</text>
<path d="M636.00 277.10 V274.90 H662.40 V277.10" fill="none" stroke="#333" stroke-width="0.85"/>
<text transform="translate(649.48,277.26) scale(1,1.080)" font-size="8.00" letter-spacing="0.55" text-anchor="middle" fill="#222">**</text>
<path d="M429.40 434.30 V526.20 H540.50" fill="none" stroke="#111" stroke-width="1.10"/>
<line x1="427.40" x2="429.40" y1="435.80" y2="435.80" stroke="#333" stroke-width="0.7"/>
<text transform="translate(426.60,438.03) scale(1,1.080)" font-size="6.20" text-anchor="end" fill="#333">23</text>
<line x1="427.40" x2="429.40" y1="454.85" y2="454.85" stroke="#333" stroke-width="0.7"/>
<text transform="translate(426.60,457.08) scale(1,1.080)" font-size="6.20" text-anchor="end" fill="#333">22</text>
<line x1="427.40" x2="429.40" y1="473.90" y2="473.90" stroke="#333" stroke-width="0.7"/>
<text transform="translate(426.60,476.13) scale(1,1.080)" font-size="6.20" text-anchor="end" fill="#333">21</text>
<line x1="427.40" x2="429.40" y1="492.95" y2="492.95" stroke="#333" stroke-width="0.7"/>
<text transform="translate(426.60,495.18) scale(1,1.080)" font-size="6.20" text-anchor="end" fill="#333">20</text>
<line x1="427.40" x2="429.40" y1="512.00" y2="512.00" stroke="#333" stroke-width="0.7"/>
<text transform="translate(426.60,514.23) scale(1,1.080)" font-size="6.20" text-anchor="end" fill="#333">19</text>
<line x1="445.30" x2="445.30" y1="526.20" y2="528.20" stroke="#333" stroke-width="0.7"/>
<text x="0" y="0" transform="translate(448.90,531.90) scale(1,1.080) rotate(-45)" font-size="6.40" text-anchor="end" fill="#333">Asymptomatic</text>
<line x1="471.50" x2="471.50" y1="526.20" y2="528.20" stroke="#333" stroke-width="0.7"/>
<text x="0" y="0" transform="translate(475.10,531.90) scale(1,1.080) rotate(-45)" font-size="6.40" text-anchor="end" fill="#333">Mild</text>
<line x1="497.70" x2="497.70" y1="526.20" y2="528.20" stroke="#333" stroke-width="0.7"/>
<text x="0" y="0" transform="translate(501.30,531.90) scale(1,1.080) rotate(-45)" font-size="6.40" text-anchor="end" fill="#333">Severe</text>
<line x1="524.00" x2="524.00" y1="526.20" y2="528.20" stroke="#333" stroke-width="0.7"/>
<text x="0" y="0" transform="translate(527.60,531.90) scale(1,1.080) rotate(-45)" font-size="6.40" text-anchor="end" fill="#333">Critical</text>
<text transform="translate(484.20,430.20) scale(1,1.080)" font-size="7.30" font-weight="bold" text-anchor="middle" fill="#111">2−hydroxyphenylacetic acid</text>
<line x1="445.30" x2="445.30" y1="479.62" y2="496.76" stroke="#5cb84a" stroke-width="0.6"/>
<line x1="445.30" x2="445.30" y1="508.19" y2="521.52" stroke="#5cb84a" stroke-width="0.6"/>
<rect x="440.30" y="496.76" width="10.00" height="11.43" fill="#fff" fill-opacity="0.6" stroke="#5cb84a" stroke-width="0.6"/>
<line x1="440.30" x2="450.30" y1="502.48" y2="502.48" stroke="#5cb84a" stroke-width="0.7"/>
<circle cx="443.27" cy="493.80" r="1.35" fill="#5cb84a"/>
<circle cx="441.43" cy="504.41" r="1.35" fill="#5cb84a"/>
<circle cx="440.33" cy="511.50" r="1.35" fill="#5cb84a"/>
<circle cx="441.83" cy="497.84" r="1.35" fill="#5cb84a"/>
<circle cx="442.06" cy="501.99" r="1.35" fill="#5cb84a"/>
<circle cx="442.29" cy="500.70" r="1.35" fill="#5cb84a"/>
<circle cx="448.89" cy="500.81" r="1.35" fill="#5cb84a"/>
<circle cx="440.30" cy="509.17" r="1.35" fill="#5cb84a"/>
<circle cx="441.70" cy="501.09" r="1.35" fill="#5cb84a"/>
<circle cx="439.96" cy="506.24" r="1.35" fill="#5cb84a"/>
<circle cx="445.37" cy="502.86" r="1.35" fill="#5cb84a"/>
<circle cx="442.05" cy="502.73" r="1.35" fill="#5cb84a"/>
<circle cx="445.67" cy="497.63" r="1.35" fill="#5cb84a"/>
<circle cx="442.15" cy="501.36" r="1.35" fill="#5cb84a"/>
<circle cx="441.66" cy="499.70" r="1.35" fill="#5cb84a"/>
<circle cx="445.16" cy="497.64" r="1.35" fill="#5cb84a"/>
<circle cx="440.16" cy="496.86" r="1.35" fill="#5cb84a"/>
<circle cx="449.92" cy="498.58" r="1.35" fill="#5cb84a"/>
<circle cx="446.05" cy="500.56" r="1.35" fill="#5cb84a"/>
<circle cx="444.04" cy="507.66" r="1.35" fill="#5cb84a"/>
<circle cx="445.90" cy="513.95" r="1.35" fill="#5cb84a"/>
<circle cx="450.67" cy="515.12" r="1.35" fill="#5cb84a"/>
<circle cx="445.23" cy="502.22" r="1.35" fill="#5cb84a"/>
<circle cx="444.03" cy="503.86" r="1.35" fill="#5cb84a"/>
<circle cx="441.90" cy="506.36" r="1.35" fill="#5cb84a"/>
<circle cx="443.86" cy="498.63" r="1.35" fill="#5cb84a"/>
<circle cx="448.59" cy="498.89" r="1.35" fill="#5cb84a"/>
<circle cx="446.66" cy="507.36" r="1.35" fill="#5cb84a"/>
<circle cx="442.61" cy="500.22" r="1.35" fill="#5cb84a"/>
<circle cx="450.08" cy="509.10" r="1.35" fill="#5cb84a"/>
<circle cx="440.90" cy="509.58" r="1.35" fill="#5cb84a"/>
<circle cx="443.57" cy="507.96" r="1.35" fill="#5cb84a"/>
<circle cx="448.61" cy="488.69" r="1.35" fill="#5cb84a"/>
<circle cx="450.28" cy="491.07" r="1.35" fill="#5cb84a"/>
<circle cx="444.81" cy="511.84" r="1.35" fill="#5cb84a"/>
<circle cx="439.43" cy="503.51" r="1.35" fill="#5cb84a"/>
<circle cx="446.03" cy="497.71" r="1.35" fill="#5cb84a"/>
<circle cx="444.42" cy="502.65" r="1.35" fill="#5cb84a"/>
<circle cx="439.65" cy="507.12" r="1.35" fill="#5cb84a"/>
<circle cx="443.49" cy="512.57" r="1.35" fill="#5cb84a"/>
<circle cx="449.88" cy="498.37" r="1.35" fill="#5cb84a"/>
<circle cx="439.75" cy="501.73" r="1.35" fill="#5cb84a"/>
<circle cx="441.44" cy="512.27" r="1.35" fill="#5cb84a"/>
<circle cx="441.31" cy="501.83" r="1.35" fill="#5cb84a"/>
<circle cx="448.87" cy="503.44" r="1.35" fill="#5cb84a"/>
<circle cx="442.99" cy="506.33" r="1.35" fill="#5cb84a"/>
<circle cx="447.51" cy="521.52" r="1.35" fill="#5cb84a"/>
<circle cx="447.40" cy="479.62" r="1.35" fill="#5cb84a"/>
<line x1="471.50" x2="471.50" y1="466.28" y2="491.04" stroke="#3b78b8" stroke-width="0.6"/>
<line x1="471.50" x2="471.50" y1="506.28" y2="517.72" stroke="#3b78b8" stroke-width="0.6"/>
<rect x="466.50" y="491.04" width="10.00" height="15.24" fill="#fff" fill-opacity="0.6" stroke="#3b78b8" stroke-width="0.6"/>
<line x1="466.50" x2="476.50" y1="498.67" y2="498.67" stroke="#3b78b8" stroke-width="0.7"/>
<circle cx="474.55" cy="499.61" r="1.35" fill="#3b78b8"/>
<circle cx="476.83" cy="494.10" r="1.35" fill="#3b78b8"/>
<circle cx="468.82" cy="500.67" r="1.35" fill="#3b78b8"/>
<circle cx="471.47" cy="496.97" r="1.35" fill="#3b78b8"/>
<circle cx="476.60" cy="501.36" r="1.35" fill="#3b78b8"/>
<circle cx="469.46" cy="499.57" r="1.35" fill="#3b78b8"/>
<circle cx="473.88" cy="491.47" r="1.35" fill="#3b78b8"/>
<circle cx="470.45" cy="502.14" r="1.35" fill="#3b78b8"/>
<circle cx="467.34" cy="504.19" r="1.35" fill="#3b78b8"/>
<circle cx="467.94" cy="503.74" r="1.35" fill="#3b78b8"/>
<circle cx="469.82" cy="497.38" r="1.35" fill="#3b78b8"/>
<circle cx="465.85" cy="492.10" r="1.35" fill="#3b78b8"/>
<circle cx="476.08" cy="492.66" r="1.35" fill="#3b78b8"/>
<circle cx="469.76" cy="503.12" r="1.35" fill="#3b78b8"/>
<circle cx="468.39" cy="493.73" r="1.35" fill="#3b78b8"/>
<circle cx="475.10" cy="499.08" r="1.35" fill="#3b78b8"/>
<circle cx="465.57" cy="502.65" r="1.35" fill="#3b78b8"/>
<circle cx="474.64" cy="492.11" r="1.35" fill="#3b78b8"/>
<circle cx="470.90" cy="495.38" r="1.35" fill="#3b78b8"/>
<circle cx="466.58" cy="501.95" r="1.35" fill="#3b78b8"/>
<circle cx="470.27" cy="512.11" r="1.35" fill="#3b78b8"/>
<circle cx="477.33" cy="505.22" r="1.35" fill="#3b78b8"/>
<circle cx="465.97" cy="498.94" r="1.35" fill="#3b78b8"/>
<circle cx="468.91" cy="497.51" r="1.35" fill="#3b78b8"/>
<circle cx="467.64" cy="501.31" r="1.35" fill="#3b78b8"/>
<circle cx="472.60" cy="497.00" r="1.35" fill="#3b78b8"/>
<circle cx="467.89" cy="499.93" r="1.35" fill="#3b78b8"/>
<circle cx="475.68" cy="499.44" r="1.35" fill="#3b78b8"/>
<circle cx="469.87" cy="486.34" r="1.35" fill="#3b78b8"/>
<circle cx="476.90" cy="493.56" r="1.35" fill="#3b78b8"/>
<circle cx="466.96" cy="499.28" r="1.35" fill="#3b78b8"/>
<circle cx="468.26" cy="488.22" r="1.35" fill="#3b78b8"/>
<circle cx="465.82" cy="492.70" r="1.35" fill="#3b78b8"/>
<circle cx="466.03" cy="505.40" r="1.35" fill="#3b78b8"/>
<circle cx="467.70" cy="502.17" r="1.35" fill="#3b78b8"/>
<circle cx="472.55" cy="503.70" r="1.35" fill="#3b78b8"/>
<circle cx="472.11" cy="490.08" r="1.35" fill="#3b78b8"/>
<circle cx="474.22" cy="496.05" r="1.35" fill="#3b78b8"/>
<circle cx="468.31" cy="496.54" r="1.35" fill="#3b78b8"/>
<circle cx="472.69" cy="508.65" r="1.35" fill="#3b78b8"/>
<circle cx="477.31" cy="493.26" r="1.35" fill="#3b78b8"/>
<circle cx="469.36" cy="510.36" r="1.35" fill="#3b78b8"/>
<circle cx="468.32" cy="505.75" r="1.35" fill="#3b78b8"/>
<circle cx="467.73" cy="505.46" r="1.35" fill="#3b78b8"/>
<circle cx="477.08" cy="486.00" r="1.35" fill="#3b78b8"/>
<circle cx="473.14" cy="503.23" r="1.35" fill="#3b78b8"/>
<circle cx="471.43" cy="517.72" r="1.35" fill="#3b78b8"/>
<circle cx="471.45" cy="466.28" r="1.35" fill="#3b78b8"/>
<line x1="497.70" x2="497.70" y1="485.33" y2="494.86" stroke="#e8a04a" stroke-width="0.6"/>
<line x1="497.70" x2="497.70" y1="506.28" y2="517.72" stroke="#e8a04a" stroke-width="0.6"/>
<rect x="492.70" y="494.86" width="10.00" height="11.43" fill="#fff" fill-opacity="0.6" stroke="#e8a04a" stroke-width="0.6"/>
<line x1="492.70" x2="502.70" y1="500.57" y2="500.57" stroke="#e8a04a" stroke-width="0.7"/>
<circle cx="495.02" cy="503.71" r="1.35" fill="#e8a04a"/>
<circle cx="503.20" cy="500.67" r="1.35" fill="#e8a04a"/>
<circle cx="495.10" cy="491.31" r="1.35" fill="#e8a04a"/>
<circle cx="493.39" cy="500.89" r="1.35" fill="#e8a04a"/>
<circle cx="493.19" cy="501.10" r="1.35" fill="#e8a04a"/>
<circle cx="491.98" cy="515.00" r="1.35" fill="#e8a04a"/>
<circle cx="502.69" cy="499.17" r="1.35" fill="#e8a04a"/>
<circle cx="498.09" cy="491.47" r="1.35" fill="#e8a04a"/>
<circle cx="503.47" cy="502.93" r="1.35" fill="#e8a04a"/>
<circle cx="498.19" cy="496.24" r="1.35" fill="#e8a04a"/>
<circle cx="492.55" cy="504.55" r="1.35" fill="#e8a04a"/>
<circle cx="496.15" cy="501.62" r="1.35" fill="#e8a04a"/>
<circle cx="495.84" cy="508.58" r="1.35" fill="#e8a04a"/>
<circle cx="493.60" cy="502.89" r="1.35" fill="#e8a04a"/>
<circle cx="492.66" cy="498.66" r="1.35" fill="#e8a04a"/>
<circle cx="499.98" cy="488.97" r="1.35" fill="#e8a04a"/>
<circle cx="502.16" cy="504.05" r="1.35" fill="#e8a04a"/>
<circle cx="502.91" cy="497.99" r="1.35" fill="#e8a04a"/>
<circle cx="494.56" cy="503.61" r="1.35" fill="#e8a04a"/>
<circle cx="499.09" cy="503.18" r="1.35" fill="#e8a04a"/>
<circle cx="494.75" cy="498.18" r="1.35" fill="#e8a04a"/>
<circle cx="501.83" cy="503.64" r="1.35" fill="#e8a04a"/>
<circle cx="502.66" cy="499.97" r="1.35" fill="#e8a04a"/>
<circle cx="491.84" cy="503.73" r="1.35" fill="#e8a04a"/>
<circle cx="493.98" cy="498.15" r="1.35" fill="#e8a04a"/>
<circle cx="502.13" cy="497.42" r="1.35" fill="#e8a04a"/>
<circle cx="503.49" cy="502.12" r="1.35" fill="#e8a04a"/>
<circle cx="501.88" cy="505.32" r="1.35" fill="#e8a04a"/>
<circle cx="492.47" cy="495.36" r="1.35" fill="#e8a04a"/>
<circle cx="498.90" cy="499.77" r="1.35" fill="#e8a04a"/>
<circle cx="500.94" cy="517.72" r="1.35" fill="#e8a04a"/>
<circle cx="498.55" cy="485.33" r="1.35" fill="#e8a04a"/>
<line x1="524.00" x2="524.00" y1="454.85" y2="466.28" stroke="#d0464e" stroke-width="0.6"/>
<line x1="524.00" x2="524.00" y1="492.00" y2="517.72" stroke="#d0464e" stroke-width="0.6"/>
<rect x="519.00" y="466.28" width="10.00" height="25.72" fill="#fff" fill-opacity="0.6" stroke="#d0464e" stroke-width="0.6"/>
<line x1="519.00" x2="529.00" y1="473.90" y2="473.90" stroke="#d0464e" stroke-width="0.7"/>
<circle cx="522.10" cy="473.35" r="1.35" fill="#d0464e"/>
<circle cx="523.61" cy="482.33" r="1.35" fill="#d0464e"/>
<circle cx="526.25" cy="495.88" r="1.35" fill="#d0464e"/>
<circle cx="526.91" cy="469.10" r="1.35" fill="#d0464e"/>
<circle cx="522.59" cy="481.02" r="1.35" fill="#d0464e"/>
<circle cx="522.24" cy="458.52" r="1.35" fill="#d0464e"/>
<circle cx="528.16" cy="482.26" r="1.35" fill="#d0464e"/>
<circle cx="526.01" cy="474.97" r="1.35" fill="#d0464e"/>
<circle cx="524.39" cy="499.22" r="1.35" fill="#d0464e"/>
<circle cx="521.02" cy="478.20" r="1.35" fill="#d0464e"/>
<circle cx="522.38" cy="455.90" r="1.35" fill="#d0464e"/>
<circle cx="519.03" cy="480.84" r="1.35" fill="#d0464e"/>
<circle cx="520.94" cy="471.07" r="1.35" fill="#d0464e"/>
<circle cx="519.08" cy="489.25" r="1.35" fill="#d0464e"/>
<circle cx="520.69" cy="472.64" r="1.35" fill="#d0464e"/>
<circle cx="525.49" cy="488.06" r="1.35" fill="#d0464e"/>
<circle cx="524.70" cy="466.42" r="1.35" fill="#d0464e"/>
<circle cx="528.20" cy="507.44" r="1.35" fill="#d0464e"/>
<circle cx="524.78" cy="517.72" r="1.35" fill="#d0464e"/>
<circle cx="522.09" cy="454.85" r="1.35" fill="#d0464e"/>
<path d="M445.30 454.00 V451.80 H524.00 V454.00" fill="none" stroke="#333" stroke-width="0.85"/>
<text transform="translate(484.92,454.16) scale(1,1.080)" font-size="8.00" letter-spacing="0.55" text-anchor="middle" fill="#222">**</text>
<path d="M471.50 447.20 V445.00 H524.00 V447.20" fill="none" stroke="#333" stroke-width="0.85"/>
<text transform="translate(498.02,447.36) scale(1,1.080)" font-size="8.00" letter-spacing="0.55" text-anchor="middle" fill="#222">**</text>
<path d="M497.70 440.60 V438.40 H524.00 V440.60" fill="none" stroke="#333" stroke-width="0.85"/>
<text transform="translate(511.12,440.76) scale(1,1.080)" font-size="8.00" letter-spacing="0.55" text-anchor="middle" fill="#222">**</text>
<path d="M567.80 434.30 V526.20 H678.60" fill="none" stroke="#111" stroke-width="1.10"/>
<line x1="565.80" x2="567.80" y1="441.30" y2="441.30" stroke="#333" stroke-width="0.7"/>
<text transform="translate(565.00,443.53) scale(1,1.080)" font-size="6.20" text-anchor="end" fill="#333">22</text>
<line x1="565.80" x2="567.80" y1="469.03" y2="469.03" stroke="#333" stroke-width="0.7"/>
<text transform="translate(565.00,471.27) scale(1,1.080)" font-size="6.20" text-anchor="end" fill="#333">20</text>
<line x1="565.80" x2="567.80" y1="496.77" y2="496.77" stroke="#333" stroke-width="0.7"/>
<text transform="translate(565.00,499.00) scale(1,1.080)" font-size="6.20" text-anchor="end" fill="#333">18</text>
<line x1="565.80" x2="567.80" y1="524.50" y2="524.50" stroke="#333" stroke-width="0.7"/>
<text transform="translate(565.00,526.73) scale(1,1.080)" font-size="6.20" text-anchor="end" fill="#333">16</text>
<line x1="583.20" x2="583.20" y1="526.20" y2="528.20" stroke="#333" stroke-width="0.7"/>
<text x="0" y="0" transform="translate(586.80,531.90) scale(1,1.080) rotate(-45)" font-size="6.40" text-anchor="end" fill="#333">Asymptomatic</text>
<line x1="609.40" x2="609.40" y1="526.20" y2="528.20" stroke="#333" stroke-width="0.7"/>
<text x="0" y="0" transform="translate(613.00,531.90) scale(1,1.080) rotate(-45)" font-size="6.40" text-anchor="end" fill="#333">Mild</text>
<line x1="636.00" x2="636.00" y1="526.20" y2="528.20" stroke="#333" stroke-width="0.7"/>
<text x="0" y="0" transform="translate(639.60,531.90) scale(1,1.080) rotate(-45)" font-size="6.40" text-anchor="end" fill="#333">Severe</text>
<line x1="662.40" x2="662.40" y1="526.20" y2="528.20" stroke="#333" stroke-width="0.7"/>
<text x="0" y="0" transform="translate(666.00,531.90) scale(1,1.080) rotate(-45)" font-size="6.40" text-anchor="end" fill="#333">Critical</text>
<text transform="translate(621.50,430.20) scale(1,1.080)" font-size="7.30" font-weight="bold" text-anchor="middle" fill="#111">3−hydroxyphenylacetate</text>
<line x1="583.20" x2="583.20" y1="488.45" y2="499.54" stroke="#5cb84a" stroke-width="0.6"/>
<line x1="583.20" x2="583.20" y1="512.02" y2="520.34" stroke="#5cb84a" stroke-width="0.6"/>
<rect x="578.20" y="499.54" width="10.00" height="12.48" fill="#fff" fill-opacity="0.6" stroke="#5cb84a" stroke-width="0.6"/>
<line x1="578.20" x2="588.20" y1="506.47" y2="506.47" stroke="#5cb84a" stroke-width="0.7"/>
<circle cx="583.05" cy="514.20" r="1.35" fill="#5cb84a"/>
<circle cx="585.40" cy="493.03" r="1.35" fill="#5cb84a"/>
<circle cx="587.25" cy="502.43" r="1.35" fill="#5cb84a"/>
<circle cx="583.62" cy="509.98" r="1.35" fill="#5cb84a"/>
<circle cx="582.85" cy="502.64" r="1.35" fill="#5cb84a"/>
<circle cx="577.31" cy="503.79" r="1.35" fill="#5cb84a"/>
<circle cx="579.19" cy="509.91" r="1.35" fill="#5cb84a"/>
<circle cx="585.51" cy="507.20" r="1.35" fill="#5cb84a"/>
<circle cx="586.33" cy="501.02" r="1.35" fill="#5cb84a"/>
<circle cx="584.13" cy="502.51" r="1.35" fill="#5cb84a"/>
<circle cx="577.79" cy="489.78" r="1.35" fill="#5cb84a"/>
<circle cx="586.16" cy="509.93" r="1.35" fill="#5cb84a"/>
<circle cx="587.39" cy="500.42" r="1.35" fill="#5cb84a"/>
<circle cx="587.47" cy="509.11" r="1.35" fill="#5cb84a"/>
<circle cx="586.21" cy="509.11" r="1.35" fill="#5cb84a"/>
<circle cx="585.16" cy="491.37" r="1.35" fill="#5cb84a"/>
<circle cx="581.39" cy="505.38" r="1.35" fill="#5cb84a"/>
<circle cx="581.55" cy="508.33" r="1.35" fill="#5cb84a"/>
<circle cx="579.48" cy="516.30" r="1.35" fill="#5cb84a"/>
<circle cx="584.92" cy="516.46" r="1.35" fill="#5cb84a"/>
<circle cx="581.27" cy="490.32" r="1.35" fill="#5cb84a"/>
<circle cx="586.91" cy="509.49" r="1.35" fill="#5cb84a"/>
<circle cx="579.98" cy="499.54" r="1.35" fill="#5cb84a"/>
<circle cx="580.36" cy="508.74" r="1.35" fill="#5cb84a"/>
<circle cx="578.23" cy="510.64" r="1.35" fill="#5cb84a"/>
<circle cx="580.56" cy="502.25" r="1.35" fill="#5cb84a"/>
<circle cx="586.53" cy="499.61" r="1.35" fill="#5cb84a"/>
<circle cx="587.10" cy="507.58" r="1.35" fill="#5cb84a"/>
<circle cx="588.20" cy="511.31" r="1.35" fill="#5cb84a"/>
<circle cx="577.62" cy="507.10" r="1.35" fill="#5cb84a"/>
<circle cx="585.42" cy="502.99" r="1.35" fill="#5cb84a"/>
<circle cx="583.95" cy="504.73" r="1.35" fill="#5cb84a"/>
<circle cx="581.40" cy="508.10" r="1.35" fill="#5cb84a"/>
<circle cx="588.48" cy="508.94" r="1.35" fill="#5cb84a"/>
<circle cx="585.39" cy="499.83" r="1.35" fill="#5cb84a"/>
<circle cx="580.96" cy="509.00" r="1.35" fill="#5cb84a"/>
<circle cx="587.17" cy="509.14" r="1.35" fill="#5cb84a"/>
<circle cx="582.51" cy="504.47" r="1.35" fill="#5cb84a"/>
<circle cx="582.85" cy="511.00" r="1.35" fill="#5cb84a"/>
<circle cx="582.92" cy="506.19" r="1.35" fill="#5cb84a"/>
<circle cx="582.90" cy="508.95" r="1.35" fill="#5cb84a"/>
<circle cx="577.51" cy="501.02" r="1.35" fill="#5cb84a"/>
<circle cx="587.04" cy="510.52" r="1.35" fill="#5cb84a"/>
<circle cx="580.83" cy="503.28" r="1.35" fill="#5cb84a"/>
<circle cx="582.60" cy="503.34" r="1.35" fill="#5cb84a"/>
<circle cx="579.32" cy="501.26" r="1.35" fill="#5cb84a"/>
<circle cx="584.02" cy="520.34" r="1.35" fill="#5cb84a"/>
<circle cx="578.05" cy="488.45" r="1.35" fill="#5cb84a"/>
<circle cx="581.32" cy="475.97" r="1.35" fill="#5cb84a"/>
<circle cx="582.04" cy="462.10" r="1.35" fill="#5cb84a"/>
<line x1="609.40" x2="609.40" y1="485.67" y2="502.31" stroke="#3b78b8" stroke-width="0.6"/>
<line x1="609.40" x2="609.40" y1="513.41" y2="521.73" stroke="#3b78b8" stroke-width="0.6"/>
<rect x="604.40" y="502.31" width="10.00" height="11.09" fill="#fff" fill-opacity="0.6" stroke="#3b78b8" stroke-width="0.6"/>
<line x1="604.40" x2="614.40" y1="507.86" y2="507.86" stroke="#3b78b8" stroke-width="0.7"/>
<circle cx="613.53" cy="497.79" r="1.35" fill="#3b78b8"/>
<circle cx="608.87" cy="508.44" r="1.35" fill="#3b78b8"/>
<circle cx="608.71" cy="505.24" r="1.35" fill="#3b78b8"/>
<circle cx="605.94" cy="511.10" r="1.35" fill="#3b78b8"/>
<circle cx="607.33" cy="512.55" r="1.35" fill="#3b78b8"/>
<circle cx="609.81" cy="502.89" r="1.35" fill="#3b78b8"/>
<circle cx="610.25" cy="513.13" r="1.35" fill="#3b78b8"/>
<circle cx="609.80" cy="512.44" r="1.35" fill="#3b78b8"/>
<circle cx="607.75" cy="504.39" r="1.35" fill="#3b78b8"/>
<circle cx="614.03" cy="497.87" r="1.35" fill="#3b78b8"/>
<circle cx="608.90" cy="500.93" r="1.35" fill="#3b78b8"/>
<circle cx="607.96" cy="507.59" r="1.35" fill="#3b78b8"/>
<circle cx="609.11" cy="514.60" r="1.35" fill="#3b78b8"/>
<circle cx="613.51" cy="508.69" r="1.35" fill="#3b78b8"/>
<circle cx="610.65" cy="516.82" r="1.35" fill="#3b78b8"/>
<circle cx="612.31" cy="508.26" r="1.35" fill="#3b78b8"/>
<circle cx="613.31" cy="507.71" r="1.35" fill="#3b78b8"/>
<circle cx="607.66" cy="515.33" r="1.35" fill="#3b78b8"/>
<circle cx="612.06" cy="511.10" r="1.35" fill="#3b78b8"/>
<circle cx="604.55" cy="509.69" r="1.35" fill="#3b78b8"/>
<circle cx="609.21" cy="505.68" r="1.35" fill="#3b78b8"/>
<circle cx="608.94" cy="499.68" r="1.35" fill="#3b78b8"/>
<circle cx="608.08" cy="508.32" r="1.35" fill="#3b78b8"/>
<circle cx="605.40" cy="509.82" r="1.35" fill="#3b78b8"/>
<circle cx="613.03" cy="504.12" r="1.35" fill="#3b78b8"/>
<circle cx="607.51" cy="512.67" r="1.35" fill="#3b78b8"/>
<circle cx="608.12" cy="509.14" r="1.35" fill="#3b78b8"/>
<circle cx="604.81" cy="508.16" r="1.35" fill="#3b78b8"/>
<circle cx="613.79" cy="508.60" r="1.35" fill="#3b78b8"/>
<circle cx="613.80" cy="506.85" r="1.35" fill="#3b78b8"/>
<circle cx="605.58" cy="506.88" r="1.35" fill="#3b78b8"/>
<circle cx="608.06" cy="502.43" r="1.35" fill="#3b78b8"/>
<circle cx="606.81" cy="508.17" r="1.35" fill="#3b78b8"/>
<circle cx="605.67" cy="511.97" r="1.35" fill="#3b78b8"/>
<circle cx="613.37" cy="515.63" r="1.35" fill="#3b78b8"/>
<circle cx="610.78" cy="511.35" r="1.35" fill="#3b78b8"/>
<circle cx="614.31" cy="511.31" r="1.35" fill="#3b78b8"/>
<circle cx="611.67" cy="488.55" r="1.35" fill="#3b78b8"/>
<circle cx="607.39" cy="505.53" r="1.35" fill="#3b78b8"/>
<circle cx="612.79" cy="508.05" r="1.35" fill="#3b78b8"/>
<circle cx="604.68" cy="506.60" r="1.35" fill="#3b78b8"/>
<circle cx="610.46" cy="503.34" r="1.35" fill="#3b78b8"/>
<circle cx="609.58" cy="512.94" r="1.35" fill="#3b78b8"/>
<circle cx="604.34" cy="512.73" r="1.35" fill="#3b78b8"/>
<circle cx="606.85" cy="502.83" r="1.35" fill="#3b78b8"/>
<circle cx="609.65" cy="504.96" r="1.35" fill="#3b78b8"/>
<circle cx="604.88" cy="521.73" r="1.35" fill="#3b78b8"/>
<circle cx="604.38" cy="485.67" r="1.35" fill="#3b78b8"/>
<line x1="636.00" x2="636.00" y1="482.90" y2="495.38" stroke="#e8a04a" stroke-width="0.6"/>
<line x1="636.00" x2="636.00" y1="506.47" y2="516.18" stroke="#e8a04a" stroke-width="0.6"/>
<rect x="631.00" y="495.38" width="10.00" height="11.09" fill="#fff" fill-opacity="0.6" stroke="#e8a04a" stroke-width="0.6"/>
<line x1="631.00" x2="641.00" y1="500.93" y2="500.93" stroke="#e8a04a" stroke-width="0.7"/>
<circle cx="633.68" cy="499.03" r="1.35" fill="#e8a04a"/>
<circle cx="634.40" cy="514.24" r="1.35" fill="#e8a04a"/>
<circle cx="638.41" cy="505.33" r="1.35" fill="#e8a04a"/>
<circle cx="641.89" cy="501.42" r="1.35" fill="#e8a04a"/>
<circle cx="632.46" cy="493.12" r="1.35" fill="#e8a04a"/>
<circle cx="634.72" cy="500.63" r="1.35" fill="#e8a04a"/>
<circle cx="640.81" cy="500.47" r="1.35" fill="#e8a04a"/>
<circle cx="640.16" cy="497.46" r="1.35" fill="#e8a04a"/>
<circle cx="634.98" cy="510.39" r="1.35" fill="#e8a04a"/>
<circle cx="633.21" cy="505.01" r="1.35" fill="#e8a04a"/>
<circle cx="639.63" cy="506.25" r="1.35" fill="#e8a04a"/>
<circle cx="632.40" cy="495.86" r="1.35" fill="#e8a04a"/>
<circle cx="634.42" cy="515.15" r="1.35" fill="#e8a04a"/>
<circle cx="630.16" cy="495.39" r="1.35" fill="#e8a04a"/>
<circle cx="632.63" cy="494.67" r="1.35" fill="#e8a04a"/>
<circle cx="635.39" cy="501.08" r="1.35" fill="#e8a04a"/>
<circle cx="636.05" cy="500.10" r="1.35" fill="#e8a04a"/>
<circle cx="639.23" cy="504.65" r="1.35" fill="#e8a04a"/>
<circle cx="637.41" cy="513.34" r="1.35" fill="#e8a04a"/>
<circle cx="632.74" cy="498.92" r="1.35" fill="#e8a04a"/>
<circle cx="634.76" cy="497.08" r="1.35" fill="#e8a04a"/>
<circle cx="632.92" cy="493.39" r="1.35" fill="#e8a04a"/>
<circle cx="631.62" cy="500.55" r="1.35" fill="#e8a04a"/>
<circle cx="631.94" cy="492.99" r="1.35" fill="#e8a04a"/>
<circle cx="641.50" cy="505.15" r="1.35" fill="#e8a04a"/>
<circle cx="639.58" cy="513.74" r="1.35" fill="#e8a04a"/>
<circle cx="640.18" cy="503.91" r="1.35" fill="#e8a04a"/>
<circle cx="638.63" cy="500.37" r="1.35" fill="#e8a04a"/>
<circle cx="633.18" cy="498.19" r="1.35" fill="#e8a04a"/>
<circle cx="638.92" cy="501.30" r="1.35" fill="#e8a04a"/>
<circle cx="636.47" cy="516.18" r="1.35" fill="#e8a04a"/>
<circle cx="639.46" cy="482.90" r="1.35" fill="#e8a04a"/>
<circle cx="636.32" cy="459.33" r="1.35" fill="#e8a04a"/>
<line x1="662.40" x2="662.40" y1="460.71" y2="471.81" stroke="#d0464e" stroke-width="0.6"/>
<line x1="662.40" x2="662.40" y1="506.47" y2="517.57" stroke="#d0464e" stroke-width="0.6"/>
<rect x="657.40" y="471.81" width="10.00" height="34.67" fill="#fff" fill-opacity="0.6" stroke="#d0464e" stroke-width="0.6"/>
<line x1="657.40" x2="667.40" y1="499.54" y2="499.54" stroke="#d0464e" stroke-width="0.7"/>
<circle cx="668.33" cy="502.89" r="1.35" fill="#d0464e"/>
<circle cx="657.48" cy="483.47" r="1.35" fill="#d0464e"/>
<circle cx="659.58" cy="498.79" r="1.35" fill="#d0464e"/>
<circle cx="658.30" cy="511.18" r="1.35" fill="#d0464e"/>
<circle cx="660.91" cy="509.74" r="1.35" fill="#d0464e"/>
<circle cx="666.68" cy="483.59" r="1.35" fill="#d0464e"/>
<circle cx="658.35" cy="469.65" r="1.35" fill="#d0464e"/>
<circle cx="662.55" cy="505.76" r="1.35" fill="#d0464e"/>
<circle cx="661.51" cy="504.22" r="1.35" fill="#d0464e"/>
<circle cx="666.50" cy="484.27" r="1.35" fill="#d0464e"/>
<circle cx="663.08" cy="488.92" r="1.35" fill="#d0464e"/>
<circle cx="668.40" cy="513.01" r="1.35" fill="#d0464e"/>
<circle cx="666.71" cy="498.53" r="1.35" fill="#d0464e"/>
<circle cx="667.41" cy="478.47" r="1.35" fill="#d0464e"/>
<circle cx="665.77" cy="499.92" r="1.35" fill="#d0464e"/>
<circle cx="657.72" cy="494.29" r="1.35" fill="#d0464e"/>
<circle cx="657.71" cy="490.21" r="1.35" fill="#d0464e"/>
<circle cx="668.07" cy="483.09" r="1.35" fill="#d0464e"/>
<circle cx="658.64" cy="517.57" r="1.35" fill="#d0464e"/>
<circle cx="657.19" cy="460.71" r="1.35" fill="#d0464e"/>
<path d="M583.20 458.80 V456.60 H636.00 V458.80" fill="none" stroke="#333" stroke-width="0.85"/>
<text transform="translate(609.88,458.96) scale(1,1.080)" font-size="8.00" letter-spacing="0.55" text-anchor="middle" fill="#222">*</text>
<path d="M583.20 452.70 V450.50 H662.40 V452.70" fill="none" stroke="#333" stroke-width="0.85"/>
<text transform="translate(623.07,452.86) scale(1,1.080)" font-size="8.00" letter-spacing="0.55" text-anchor="middle" fill="#222">**</text>
<path d="M609.40 446.80 V444.60 H636.00 V446.80" fill="none" stroke="#333" stroke-width="0.85"/>
<text transform="translate(622.98,446.96) scale(1,1.080)" font-size="8.00" letter-spacing="0.55" text-anchor="middle" fill="#222">*</text>
<path d="M609.40 440.20 V438.00 H662.40 V440.20" fill="none" stroke="#333" stroke-width="0.85"/>
<text transform="translate(636.17,440.36) scale(1,1.080)" font-size="8.00" letter-spacing="0.55" text-anchor="middle" fill="#222">**</text>
<path d="M429.40 574.30 V665.60 H540.50" fill="none" stroke="#111" stroke-width="1.10"/>
<line x1="427.40" x2="429.40" y1="575.80" y2="575.80" stroke="#333" stroke-width="0.7"/>
<text transform="translate(426.60,578.03) scale(1,1.080)" font-size="6.20" text-anchor="end" fill="#333">24</text>
<line x1="427.40" x2="429.40" y1="599.00" y2="599.00" stroke="#333" stroke-width="0.7"/>
<text transform="translate(426.60,601.23) scale(1,1.080)" font-size="6.20" text-anchor="end" fill="#333">21</text>
<line x1="427.40" x2="429.40" y1="622.20" y2="622.20" stroke="#333" stroke-width="0.7"/>
<text transform="translate(426.60,624.43) scale(1,1.080)" font-size="6.20" text-anchor="end" fill="#333">18</text>
<line x1="427.40" x2="429.40" y1="645.40" y2="645.40" stroke="#333" stroke-width="0.7"/>
<text transform="translate(426.60,647.63) scale(1,1.080)" font-size="6.20" text-anchor="end" fill="#333">15</text>
<line x1="445.30" x2="445.30" y1="665.60" y2="667.60" stroke="#333" stroke-width="0.7"/>
<text x="0" y="0" transform="translate(448.90,671.30) scale(1,1.080) rotate(-45)" font-size="6.40" text-anchor="end" fill="#333">Asymptomatic</text>
<line x1="471.50" x2="471.50" y1="665.60" y2="667.60" stroke="#333" stroke-width="0.7"/>
<text x="0" y="0" transform="translate(475.10,671.30) scale(1,1.080) rotate(-45)" font-size="6.40" text-anchor="end" fill="#333">Mild</text>
<line x1="497.70" x2="497.70" y1="665.60" y2="667.60" stroke="#333" stroke-width="0.7"/>
<text x="0" y="0" transform="translate(501.30,671.30) scale(1,1.080) rotate(-45)" font-size="6.40" text-anchor="end" fill="#333">Severe</text>
<line x1="524.00" x2="524.00" y1="665.60" y2="667.60" stroke="#333" stroke-width="0.7"/>
<text x="0" y="0" transform="translate(527.60,671.30) scale(1,1.080) rotate(-45)" font-size="6.40" text-anchor="end" fill="#333">Critical</text>
<text transform="translate(482.00,569.50) scale(1,1.080)" font-size="7.30" font-weight="bold" text-anchor="middle" fill="#111">3−dehydroshikimate</text>
<line x1="445.30" x2="445.30" y1="641.53" y2="649.27" stroke="#5cb84a" stroke-width="0.6"/>
<line x1="445.30" x2="445.30" y1="654.68" y2="657.00" stroke="#5cb84a" stroke-width="0.6"/>
<rect x="440.30" y="649.27" width="10.00" height="5.41" fill="#fff" fill-opacity="0.6" stroke="#5cb84a" stroke-width="0.6"/>
<line x1="440.30" x2="450.30" y1="653.13" y2="653.13" stroke="#5cb84a" stroke-width="0.7"/>
<circle cx="445.15" cy="652.35" r="1.35" fill="#5cb84a"/>
<circle cx="442.74" cy="653.36" r="1.35" fill="#5cb84a"/>
<circle cx="441.31" cy="644.27" r="1.35" fill="#5cb84a"/>
<circle cx="446.56" cy="649.84" r="1.35" fill="#5cb84a"/>
<circle cx="439.36" cy="649.42" r="1.35" fill="#5cb84a"/>
<circle cx="441.20" cy="652.24" r="1.35" fill="#5cb84a"/>
<circle cx="447.32" cy="654.40" r="1.35" fill="#5cb84a"/>
<circle cx="445.63" cy="652.06" r="1.35" fill="#5cb84a"/>
<circle cx="447.79" cy="653.19" r="1.35" fill="#5cb84a"/>
<circle cx="449.47" cy="654.28" r="1.35" fill="#5cb84a"/>
<circle cx="443.19" cy="650.27" r="1.35" fill="#5cb84a"/>
<circle cx="448.46" cy="652.33" r="1.35" fill="#5cb84a"/>
<circle cx="448.96" cy="650.69" r="1.35" fill="#5cb84a"/>
<circle cx="449.22" cy="653.70" r="1.35" fill="#5cb84a"/>
<circle cx="445.72" cy="656.35" r="1.35" fill="#5cb84a"/>
<circle cx="448.46" cy="651.69" r="1.35" fill="#5cb84a"/>
<circle cx="439.71" cy="655.33" r="1.35" fill="#5cb84a"/>
<circle cx="441.60" cy="653.91" r="1.35" fill="#5cb84a"/>
<circle cx="446.22" cy="653.36" r="1.35" fill="#5cb84a"/>
<circle cx="445.96" cy="649.85" r="1.35" fill="#5cb84a"/>
<circle cx="446.63" cy="653.97" r="1.35" fill="#5cb84a"/>
<circle cx="444.28" cy="653.97" r="1.35" fill="#5cb84a"/>
<circle cx="439.90" cy="653.02" r="1.35" fill="#5cb84a"/>
<circle cx="443.14" cy="651.86" r="1.35" fill="#5cb84a"/>
<circle cx="441.70" cy="655.10" r="1.35" fill="#5cb84a"/>
<circle cx="447.30" cy="651.63" r="1.35" fill="#5cb84a"/>
<circle cx="442.13" cy="651.85" r="1.35" fill="#5cb84a"/>
<circle cx="448.42" cy="651.06" r="1.35" fill="#5cb84a"/>
<circle cx="445.73" cy="653.76" r="1.35" fill="#5cb84a"/>
<circle cx="443.97" cy="654.09" r="1.35" fill="#5cb84a"/>
<circle cx="446.67" cy="653.88" r="1.35" fill="#5cb84a"/>
<circle cx="449.97" cy="651.76" r="1.35" fill="#5cb84a"/>
<circle cx="443.29" cy="653.31" r="1.35" fill="#5cb84a"/>
<circle cx="439.98" cy="650.74" r="1.35" fill="#5cb84a"/>
<circle cx="449.62" cy="651.51" r="1.35" fill="#5cb84a"/>
<circle cx="442.78" cy="654.44" r="1.35" fill="#5cb84a"/>
<circle cx="450.00" cy="650.32" r="1.35" fill="#5cb84a"/>
<circle cx="445.02" cy="650.42" r="1.35" fill="#5cb84a"/>
<circle cx="444.19" cy="650.68" r="1.35" fill="#5cb84a"/>
<circle cx="449.41" cy="650.70" r="1.35" fill="#5cb84a"/>
<circle cx="440.67" cy="650.01" r="1.35" fill="#5cb84a"/>
<circle cx="449.68" cy="654.13" r="1.35" fill="#5cb84a"/>
<circle cx="442.63" cy="652.18" r="1.35" fill="#5cb84a"/>
<circle cx="448.61" cy="651.77" r="1.35" fill="#5cb84a"/>
<circle cx="450.77" cy="653.20" r="1.35" fill="#5cb84a"/>
<circle cx="449.35" cy="649.34" r="1.35" fill="#5cb84a"/>
<circle cx="443.35" cy="657.00" r="1.35" fill="#5cb84a"/>
<circle cx="450.91" cy="641.53" r="1.35" fill="#5cb84a"/>
<line x1="471.50" x2="471.50" y1="647.72" y2="651.59" stroke="#3b78b8" stroke-width="0.6"/>
<line x1="471.50" x2="471.50" y1="655.45" y2="657.00" stroke="#3b78b8" stroke-width="0.6"/>
<rect x="466.50" y="651.59" width="10.00" height="3.87" fill="#fff" fill-opacity="0.6" stroke="#3b78b8" stroke-width="0.6"/>
<line x1="466.50" x2="476.50" y1="653.91" y2="653.91" stroke="#3b78b8" stroke-width="0.7"/>
<circle cx="476.67" cy="654.49" r="1.35" fill="#3b78b8"/>
<circle cx="471.64" cy="653.02" r="1.35" fill="#3b78b8"/>
<circle cx="472.95" cy="653.28" r="1.35" fill="#3b78b8"/>
<circle cx="469.64" cy="651.05" r="1.35" fill="#3b78b8"/>
<circle cx="471.01" cy="655.35" r="1.35" fill="#3b78b8"/>
<circle cx="466.64" cy="650.30" r="1.35" fill="#3b78b8"/>
<circle cx="469.70" cy="651.71" r="1.35" fill="#3b78b8"/>
<circle cx="467.78" cy="652.90" r="1.35" fill="#3b78b8"/>
<circle cx="470.34" cy="654.07" r="1.35" fill="#3b78b8"/>
<circle cx="473.41" cy="654.62" r="1.35" fill="#3b78b8"/>
<circle cx="475.81" cy="654.60" r="1.35" fill="#3b78b8"/>
<circle cx="466.47" cy="649.62" r="1.35" fill="#3b78b8"/>
<circle cx="467.11" cy="654.31" r="1.35" fill="#3b78b8"/>
<circle cx="472.96" cy="654.14" r="1.35" fill="#3b78b8"/>
<circle cx="476.75" cy="653.04" r="1.35" fill="#3b78b8"/>
<circle cx="472.23" cy="654.29" r="1.35" fill="#3b78b8"/>
<circle cx="471.73" cy="651.22" r="1.35" fill="#3b78b8"/>
<circle cx="475.84" cy="652.21" r="1.35" fill="#3b78b8"/>
<circle cx="467.97" cy="654.82" r="1.35" fill="#3b78b8"/>
<circle cx="465.53" cy="656.45" r="1.35" fill="#3b78b8"/>
<circle cx="471.56" cy="653.50" r="1.35" fill="#3b78b8"/>
<circle cx="472.56" cy="651.83" r="1.35" fill="#3b78b8"/>
<circle cx="466.97" cy="656.43" r="1.35" fill="#3b78b8"/>
<circle cx="473.75" cy="652.62" r="1.35" fill="#3b78b8"/>
<circle cx="472.87" cy="652.42" r="1.35" fill="#3b78b8"/>
<circle cx="475.49" cy="652.17" r="1.35" fill="#3b78b8"/>
<circle cx="469.48" cy="652.40" r="1.35" fill="#3b78b8"/>
<circle cx="466.30" cy="653.58" r="1.35" fill="#3b78b8"/>
<circle cx="468.22" cy="653.90" r="1.35" fill="#3b78b8"/>
<circle cx="468.31" cy="652.55" r="1.35" fill="#3b78b8"/>
<circle cx="469.45" cy="655.38" r="1.35" fill="#3b78b8"/>
<circle cx="473.29" cy="653.95" r="1.35" fill="#3b78b8"/>
<circle cx="468.76" cy="655.13" r="1.35" fill="#3b78b8"/>
<circle cx="477.31" cy="653.43" r="1.35" fill="#3b78b8"/>
<circle cx="467.52" cy="656.20" r="1.35" fill="#3b78b8"/>
<circle cx="475.99" cy="653.71" r="1.35" fill="#3b78b8"/>
<circle cx="468.41" cy="654.77" r="1.35" fill="#3b78b8"/>
<circle cx="476.59" cy="656.55" r="1.35" fill="#3b78b8"/>
<circle cx="468.23" cy="653.51" r="1.35" fill="#3b78b8"/>
<circle cx="472.13" cy="652.85" r="1.35" fill="#3b78b8"/>
<circle cx="468.45" cy="653.65" r="1.35" fill="#3b78b8"/>
<circle cx="474.11" cy="649.25" r="1.35" fill="#3b78b8"/>
<circle cx="472.85" cy="653.82" r="1.35" fill="#3b78b8"/>
<circle cx="474.27" cy="653.42" r="1.35" fill="#3b78b8"/>
<circle cx="470.34" cy="651.28" r="1.35" fill="#3b78b8"/>
<circle cx="467.44" cy="651.67" r="1.35" fill="#3b78b8"/>
<circle cx="469.35" cy="657.00" r="1.35" fill="#3b78b8"/>
<circle cx="475.76" cy="647.72" r="1.35" fill="#3b78b8"/>
<line x1="497.70" x2="497.70" y1="643.85" y2="653.13" stroke="#e8a04a" stroke-width="0.6"/>
<line x1="497.70" x2="497.70" y1="657.00" y2="659.32" stroke="#e8a04a" stroke-width="0.6"/>
<rect x="492.70" y="653.13" width="10.00" height="3.87" fill="#fff" fill-opacity="0.6" stroke="#e8a04a" stroke-width="0.6"/>
<line x1="492.70" x2="502.70" y1="655.45" y2="655.45" stroke="#e8a04a" stroke-width="0.7"/>
<circle cx="499.95" cy="654.88" r="1.35" fill="#e8a04a"/>
<circle cx="502.60" cy="654.33" r="1.35" fill="#e8a04a"/>
<circle cx="500.23" cy="657.07" r="1.35" fill="#e8a04a"/>
<circle cx="501.39" cy="655.30" r="1.35" fill="#e8a04a"/>
<circle cx="501.20" cy="656.10" r="1.35" fill="#e8a04a"/>
<circle cx="497.66" cy="658.73" r="1.35" fill="#e8a04a"/>
<circle cx="498.07" cy="659.18" r="1.35" fill="#e8a04a"/>
<circle cx="498.23" cy="653.78" r="1.35" fill="#e8a04a"/>
<circle cx="493.02" cy="655.33" r="1.35" fill="#e8a04a"/>
<circle cx="492.11" cy="647.87" r="1.35" fill="#e8a04a"/>
<circle cx="495.36" cy="656.48" r="1.35" fill="#e8a04a"/>
<circle cx="496.63" cy="658.34" r="1.35" fill="#e8a04a"/>
<circle cx="492.46" cy="656.07" r="1.35" fill="#e8a04a"/>
<circle cx="500.12" cy="657.30" r="1.35" fill="#e8a04a"/>
<circle cx="495.27" cy="656.21" r="1.35" fill="#e8a04a"/>
<circle cx="497.57" cy="653.47" r="1.35" fill="#e8a04a"/>
<circle cx="502.63" cy="655.00" r="1.35" fill="#e8a04a"/>
<circle cx="501.88" cy="654.89" r="1.35" fill="#e8a04a"/>
<circle cx="497.02" cy="656.38" r="1.35" fill="#e8a04a"/>
<circle cx="497.46" cy="658.37" r="1.35" fill="#e8a04a"/>
<circle cx="492.14" cy="656.97" r="1.35" fill="#e8a04a"/>
<circle cx="492.11" cy="654.65" r="1.35" fill="#e8a04a"/>
<circle cx="498.26" cy="650.61" r="1.35" fill="#e8a04a"/>
<circle cx="492.27" cy="656.48" r="1.35" fill="#e8a04a"/>
<circle cx="499.99" cy="656.74" r="1.35" fill="#e8a04a"/>
<circle cx="493.25" cy="655.66" r="1.35" fill="#e8a04a"/>
<circle cx="494.39" cy="650.94" r="1.35" fill="#e8a04a"/>
<circle cx="500.71" cy="653.96" r="1.35" fill="#e8a04a"/>
<circle cx="493.46" cy="654.85" r="1.35" fill="#e8a04a"/>
<circle cx="500.68" cy="653.84" r="1.35" fill="#e8a04a"/>
<circle cx="491.87" cy="659.32" r="1.35" fill="#e8a04a"/>
<circle cx="497.54" cy="643.85" r="1.35" fill="#e8a04a"/>
<line x1="524.00" x2="524.00" y1="604.41" y2="617.56" stroke="#d0464e" stroke-width="0.6"/>
<line x1="524.00" x2="524.00" y1="650.81" y2="657.00" stroke="#d0464e" stroke-width="0.6"/>
<rect x="519.00" y="617.56" width="10.00" height="33.25" fill="#fff" fill-opacity="0.6" stroke="#d0464e" stroke-width="0.6"/>
<line x1="519.00" x2="529.00" y1="629.16" y2="629.16" stroke="#d0464e" stroke-width="0.7"/>
<circle cx="525.11" cy="642.55" r="1.35" fill="#d0464e"/>
<circle cx="526.61" cy="622.82" r="1.35" fill="#d0464e"/>
<circle cx="518.03" cy="643.95" r="1.35" fill="#d0464e"/>
<circle cx="529.12" cy="637.45" r="1.35" fill="#d0464e"/>
<circle cx="523.72" cy="633.32" r="1.35" fill="#d0464e"/>
<circle cx="524.97" cy="628.57" r="1.35" fill="#d0464e"/>
<circle cx="523.05" cy="610.29" r="1.35" fill="#d0464e"/>
<circle cx="520.53" cy="630.48" r="1.35" fill="#d0464e"/>
<circle cx="520.98" cy="624.16" r="1.35" fill="#d0464e"/>
<circle cx="527.15" cy="639.00" r="1.35" fill="#d0464e"/>
<circle cx="529.96" cy="620.76" r="1.35" fill="#d0464e"/>
<circle cx="527.07" cy="641.67" r="1.35" fill="#d0464e"/>
<circle cx="529.94" cy="627.33" r="1.35" fill="#d0464e"/>
<circle cx="524.77" cy="647.92" r="1.35" fill="#d0464e"/>
<circle cx="521.44" cy="606.20" r="1.35" fill="#d0464e"/>
<circle cx="524.54" cy="630.97" r="1.35" fill="#d0464e"/>
<circle cx="518.95" cy="643.96" r="1.35" fill="#d0464e"/>
<circle cx="518.45" cy="617.66" r="1.35" fill="#d0464e"/>
<circle cx="518.82" cy="657.00" r="1.35" fill="#d0464e"/>
<circle cx="524.48" cy="604.41" r="1.35" fill="#d0464e"/>
<path d="M445.30 602.70 V600.50 H471.50 V602.70" fill="none" stroke="#333" stroke-width="0.85"/>
<text transform="translate(458.67,602.86) scale(1,1.080)" font-size="8.00" letter-spacing="0.55" text-anchor="middle" fill="#222">***</text>
<path d="M445.30 596.60 V594.40 H497.70 V596.60" fill="none" stroke="#333" stroke-width="0.85"/>
<text transform="translate(471.77,596.76) scale(1,1.080)" font-size="8.00" letter-spacing="0.55" text-anchor="middle" fill="#222">***</text>
<path d="M445.30 591.10 V588.90 H524.00 V591.10" fill="none" stroke="#333" stroke-width="0.85"/>
<text transform="translate(484.92,591.26) scale(1,1.080)" font-size="8.00" letter-spacing="0.55" text-anchor="middle" fill="#222">**</text>
<path d="M471.50 585.20 V583.00 H524.00 V585.20" fill="none" stroke="#333" stroke-width="0.85"/>
<text transform="translate(498.02,585.36) scale(1,1.080)" font-size="8.00" letter-spacing="0.55" text-anchor="middle" fill="#222">***</text>
<path d="M497.70 579.10 V576.90 H524.00 V579.10" fill="none" stroke="#333" stroke-width="0.85"/>
<text transform="translate(511.12,579.26) scale(1,1.080)" font-size="8.00" letter-spacing="0.55" text-anchor="middle" fill="#222">**</text>
<path d="M567.80 574.30 V665.60 H678.60" fill="none" stroke="#111" stroke-width="1.10"/>
<line x1="565.80" x2="567.80" y1="593.30" y2="593.30" stroke="#333" stroke-width="0.7"/>
<text transform="translate(565.00,595.53) scale(1,1.080)" font-size="6.20" text-anchor="end" fill="#333">22</text>
<line x1="565.80" x2="567.80" y1="616.67" y2="616.67" stroke="#333" stroke-width="0.7"/>
<text transform="translate(565.00,618.90) scale(1,1.080)" font-size="6.20" text-anchor="end" fill="#333">20</text>
<line x1="565.80" x2="567.80" y1="640.03" y2="640.03" stroke="#333" stroke-width="0.7"/>
<text transform="translate(565.00,642.27) scale(1,1.080)" font-size="6.20" text-anchor="end" fill="#333">18</text>
<line x1="565.80" x2="567.80" y1="663.40" y2="663.40" stroke="#333" stroke-width="0.7"/>
<text transform="translate(565.00,665.63) scale(1,1.080)" font-size="6.20" text-anchor="end" fill="#333">16</text>
<line x1="583.20" x2="583.20" y1="665.60" y2="667.60" stroke="#333" stroke-width="0.7"/>
<text x="0" y="0" transform="translate(586.80,671.30) scale(1,1.080) rotate(-45)" font-size="6.40" text-anchor="end" fill="#333">Asymptomatic</text>
<line x1="609.40" x2="609.40" y1="665.60" y2="667.60" stroke="#333" stroke-width="0.7"/>
<text x="0" y="0" transform="translate(613.00,671.30) scale(1,1.080) rotate(-45)" font-size="6.40" text-anchor="end" fill="#333">Mild</text>
<line x1="636.00" x2="636.00" y1="665.60" y2="667.60" stroke="#333" stroke-width="0.7"/>
<text x="0" y="0" transform="translate(639.60,671.30) scale(1,1.080) rotate(-45)" font-size="6.40" text-anchor="end" fill="#333">Severe</text>
<line x1="662.40" x2="662.40" y1="665.60" y2="667.60" stroke="#333" stroke-width="0.7"/>
<text x="0" y="0" transform="translate(666.00,671.30) scale(1,1.080) rotate(-45)" font-size="6.40" text-anchor="end" fill="#333">Critical</text>
<text transform="translate(620.40,569.50) scale(1,1.080)" font-size="7.30" font-weight="bold" text-anchor="middle" fill="#111">Phenylacetic acid</text>
<line x1="583.20" x2="583.20" y1="640.03" y2="648.21" stroke="#5cb84a" stroke-width="0.6"/>
<line x1="583.20" x2="583.20" y1="654.05" y2="657.56" stroke="#5cb84a" stroke-width="0.6"/>
<rect x="578.20" y="648.21" width="10.00" height="5.84" fill="#fff" fill-opacity="0.6" stroke="#5cb84a" stroke-width="0.6"/>
<line x1="578.20" x2="588.20" y1="651.72" y2="651.72" stroke="#5cb84a" stroke-width="0.7"/>
<circle cx="588.59" cy="650.66" r="1.35" fill="#5cb84a"/>
<circle cx="579.05" cy="653.70" r="1.35" fill="#5cb84a"/>
<circle cx="578.31" cy="653.25" r="1.35" fill="#5cb84a"/>
<circle cx="587.98" cy="654.75" r="1.35" fill="#5cb84a"/>
<circle cx="588.26" cy="651.72" r="1.35" fill="#5cb84a"/>
<circle cx="583.35" cy="645.36" r="1.35" fill="#5cb84a"/>
<circle cx="583.67" cy="652.24" r="1.35" fill="#5cb84a"/>
<circle cx="581.25" cy="650.61" r="1.35" fill="#5cb84a"/>
<circle cx="581.96" cy="647.69" r="1.35" fill="#5cb84a"/>
<circle cx="580.59" cy="648.80" r="1.35" fill="#5cb84a"/>
<circle cx="578.42" cy="653.11" r="1.35" fill="#5cb84a"/>
<circle cx="588.92" cy="653.16" r="1.35" fill="#5cb84a"/>
<circle cx="587.61" cy="652.63" r="1.35" fill="#5cb84a"/>
<circle cx="587.55" cy="649.05" r="1.35" fill="#5cb84a"/>
<circle cx="578.98" cy="650.47" r="1.35" fill="#5cb84a"/>
<circle cx="584.84" cy="652.35" r="1.35" fill="#5cb84a"/>
<circle cx="577.93" cy="649.50" r="1.35" fill="#5cb84a"/>
<circle cx="585.78" cy="648.21" r="1.35" fill="#5cb84a"/>
<circle cx="578.04" cy="645.87" r="1.35" fill="#5cb84a"/>
<circle cx="584.51" cy="652.69" r="1.35" fill="#5cb84a"/>
<circle cx="579.11" cy="654.99" r="1.35" fill="#5cb84a"/>
<circle cx="588.95" cy="649.48" r="1.35" fill="#5cb84a"/>
<circle cx="588.15" cy="644.71" r="1.35" fill="#5cb84a"/>
<circle cx="582.31" cy="652.43" r="1.35" fill="#5cb84a"/>
<circle cx="588.24" cy="657.36" r="1.35" fill="#5cb84a"/>
<circle cx="586.58" cy="651.55" r="1.35" fill="#5cb84a"/>
<circle cx="579.33" cy="653.42" r="1.35" fill="#5cb84a"/>
<circle cx="587.52" cy="647.85" r="1.35" fill="#5cb84a"/>
<circle cx="587.73" cy="654.85" r="1.35" fill="#5cb84a"/>
<circle cx="580.25" cy="651.57" r="1.35" fill="#5cb84a"/>
<circle cx="585.23" cy="640.56" r="1.35" fill="#5cb84a"/>
<circle cx="580.86" cy="651.71" r="1.35" fill="#5cb84a"/>
<circle cx="577.52" cy="654.85" r="1.35" fill="#5cb84a"/>
<circle cx="582.71" cy="653.51" r="1.35" fill="#5cb84a"/>
<circle cx="578.83" cy="649.02" r="1.35" fill="#5cb84a"/>
<circle cx="586.99" cy="653.36" r="1.35" fill="#5cb84a"/>
<circle cx="585.61" cy="642.44" r="1.35" fill="#5cb84a"/>
<circle cx="580.08" cy="655.22" r="1.35" fill="#5cb84a"/>
<circle cx="582.04" cy="643.00" r="1.35" fill="#5cb84a"/>
<circle cx="577.98" cy="651.67" r="1.35" fill="#5cb84a"/>
<circle cx="581.49" cy="649.57" r="1.35" fill="#5cb84a"/>
<circle cx="584.42" cy="656.08" r="1.35" fill="#5cb84a"/>
<circle cx="587.16" cy="652.89" r="1.35" fill="#5cb84a"/>
<circle cx="588.85" cy="653.66" r="1.35" fill="#5cb84a"/>
<circle cx="584.66" cy="654.05" r="1.35" fill="#5cb84a"/>
<circle cx="582.53" cy="652.27" r="1.35" fill="#5cb84a"/>
<circle cx="587.71" cy="657.56" r="1.35" fill="#5cb84a"/>
<circle cx="584.20" cy="640.03" r="1.35" fill="#5cb84a"/>
<line x1="609.40" x2="609.40" y1="634.19" y2="645.88" stroke="#3b78b8" stroke-width="0.6"/>
<line x1="609.40" x2="609.40" y1="654.05" y2="661.06" stroke="#3b78b8" stroke-width="0.6"/>
<rect x="604.40" y="645.88" width="10.00" height="8.18" fill="#fff" fill-opacity="0.6" stroke="#3b78b8" stroke-width="0.6"/>
<line x1="604.40" x2="614.40" y1="650.55" y2="650.55" stroke="#3b78b8" stroke-width="0.7"/>
<circle cx="607.34" cy="649.42" r="1.35" fill="#3b78b8"/>
<circle cx="610.30" cy="646.78" r="1.35" fill="#3b78b8"/>
<circle cx="604.29" cy="650.82" r="1.35" fill="#3b78b8"/>
<circle cx="613.32" cy="650.98" r="1.35" fill="#3b78b8"/>
<circle cx="614.93" cy="648.91" r="1.35" fill="#3b78b8"/>
<circle cx="614.20" cy="651.08" r="1.35" fill="#3b78b8"/>
<circle cx="605.27" cy="647.34" r="1.35" fill="#3b78b8"/>
<circle cx="614.95" cy="634.53" r="1.35" fill="#3b78b8"/>
<circle cx="614.05" cy="652.95" r="1.35" fill="#3b78b8"/>
<circle cx="606.10" cy="648.18" r="1.35" fill="#3b78b8"/>
<circle cx="608.43" cy="651.88" r="1.35" fill="#3b78b8"/>
<circle cx="605.31" cy="646.74" r="1.35" fill="#3b78b8"/>
<circle cx="607.82" cy="652.91" r="1.35" fill="#3b78b8"/>
<circle cx="612.59" cy="652.94" r="1.35" fill="#3b78b8"/>
<circle cx="604.51" cy="647.94" r="1.35" fill="#3b78b8"/>
<circle cx="611.31" cy="651.59" r="1.35" fill="#3b78b8"/>
<circle cx="612.92" cy="651.81" r="1.35" fill="#3b78b8"/>
<circle cx="604.05" cy="652.20" r="1.35" fill="#3b78b8"/>
<circle cx="605.34" cy="646.86" r="1.35" fill="#3b78b8"/>
<circle cx="612.78" cy="651.29" r="1.35" fill="#3b78b8"/>
<circle cx="613.21" cy="653.92" r="1.35" fill="#3b78b8"/>
<circle cx="606.84" cy="651.57" r="1.35" fill="#3b78b8"/>
<circle cx="614.02" cy="653.77" r="1.35" fill="#3b78b8"/>
<circle cx="611.13" cy="645.96" r="1.35" fill="#3b78b8"/>
<circle cx="603.55" cy="647.25" r="1.35" fill="#3b78b8"/>
<circle cx="612.18" cy="651.17" r="1.35" fill="#3b78b8"/>
<circle cx="605.55" cy="651.19" r="1.35" fill="#3b78b8"/>
<circle cx="607.44" cy="650.14" r="1.35" fill="#3b78b8"/>
<circle cx="613.22" cy="649.85" r="1.35" fill="#3b78b8"/>
<circle cx="603.58" cy="651.44" r="1.35" fill="#3b78b8"/>
<circle cx="613.37" cy="651.80" r="1.35" fill="#3b78b8"/>
<circle cx="607.67" cy="647.68" r="1.35" fill="#3b78b8"/>
<circle cx="610.67" cy="647.11" r="1.35" fill="#3b78b8"/>
<circle cx="606.91" cy="648.24" r="1.35" fill="#3b78b8"/>
<circle cx="610.31" cy="643.71" r="1.35" fill="#3b78b8"/>
<circle cx="606.11" cy="652.06" r="1.35" fill="#3b78b8"/>
<circle cx="610.43" cy="654.37" r="1.35" fill="#3b78b8"/>
<circle cx="608.70" cy="655.71" r="1.35" fill="#3b78b8"/>
<circle cx="610.76" cy="653.98" r="1.35" fill="#3b78b8"/>
<circle cx="603.42" cy="646.54" r="1.35" fill="#3b78b8"/>
<circle cx="612.20" cy="651.95" r="1.35" fill="#3b78b8"/>
<circle cx="606.10" cy="645.49" r="1.35" fill="#3b78b8"/>
<circle cx="613.26" cy="655.42" r="1.35" fill="#3b78b8"/>
<circle cx="609.11" cy="646.78" r="1.35" fill="#3b78b8"/>
<circle cx="611.43" cy="653.19" r="1.35" fill="#3b78b8"/>
<circle cx="608.60" cy="648.13" r="1.35" fill="#3b78b8"/>
<circle cx="604.90" cy="661.06" r="1.35" fill="#3b78b8"/>
<circle cx="615.13" cy="634.19" r="1.35" fill="#3b78b8"/>
<line x1="636.00" x2="636.00" y1="641.20" y2="648.21" stroke="#e8a04a" stroke-width="0.6"/>
<line x1="636.00" x2="636.00" y1="655.22" y2="657.56" stroke="#e8a04a" stroke-width="0.6"/>
<rect x="631.00" y="648.21" width="10.00" height="7.01" fill="#fff" fill-opacity="0.6" stroke="#e8a04a" stroke-width="0.6"/>
<line x1="631.00" x2="641.00" y1="651.72" y2="651.72" stroke="#e8a04a" stroke-width="0.7"/>
<circle cx="635.78" cy="644.76" r="1.35" fill="#e8a04a"/>
<circle cx="640.04" cy="652.45" r="1.35" fill="#e8a04a"/>
<circle cx="633.77" cy="652.93" r="1.35" fill="#e8a04a"/>
<circle cx="632.28" cy="651.15" r="1.35" fill="#e8a04a"/>
<circle cx="641.23" cy="652.51" r="1.35" fill="#e8a04a"/>
<circle cx="636.71" cy="653.85" r="1.35" fill="#e8a04a"/>
<circle cx="637.97" cy="654.14" r="1.35" fill="#e8a04a"/>
<circle cx="636.53" cy="651.34" r="1.35" fill="#e8a04a"/>
<circle cx="637.31" cy="654.93" r="1.35" fill="#e8a04a"/>
<circle cx="631.41" cy="649.28" r="1.35" fill="#e8a04a"/>
<circle cx="631.36" cy="654.86" r="1.35" fill="#e8a04a"/>
<circle cx="631.74" cy="649.76" r="1.35" fill="#e8a04a"/>
<circle cx="635.40" cy="650.02" r="1.35" fill="#e8a04a"/>
<circle cx="630.75" cy="649.60" r="1.35" fill="#e8a04a"/>
<circle cx="640.27" cy="653.85" r="1.35" fill="#e8a04a"/>
<circle cx="631.71" cy="641.20" r="1.35" fill="#e8a04a"/>
<circle cx="640.08" cy="651.14" r="1.35" fill="#e8a04a"/>
<circle cx="638.22" cy="649.35" r="1.35" fill="#e8a04a"/>
<circle cx="632.17" cy="651.29" r="1.35" fill="#e8a04a"/>
<circle cx="633.30" cy="651.76" r="1.35" fill="#e8a04a"/>
<circle cx="637.60" cy="656.29" r="1.35" fill="#e8a04a"/>
<circle cx="641.86" cy="650.04" r="1.35" fill="#e8a04a"/>
<circle cx="634.47" cy="654.86" r="1.35" fill="#e8a04a"/>
<circle cx="632.88" cy="654.95" r="1.35" fill="#e8a04a"/>
<circle cx="632.29" cy="651.44" r="1.35" fill="#e8a04a"/>
<circle cx="639.56" cy="652.03" r="1.35" fill="#e8a04a"/>
<circle cx="631.70" cy="643.59" r="1.35" fill="#e8a04a"/>
<circle cx="630.77" cy="651.43" r="1.35" fill="#e8a04a"/>
<circle cx="638.00" cy="648.37" r="1.35" fill="#e8a04a"/>
<circle cx="638.92" cy="647.35" r="1.35" fill="#e8a04a"/>
<circle cx="632.30" cy="657.56" r="1.35" fill="#e8a04a"/>
<circle cx="636.06" cy="641.20" r="1.35" fill="#e8a04a"/>
<line x1="662.40" x2="662.40" y1="594.47" y2="611.99" stroke="#d0464e" stroke-width="0.6"/>
<line x1="662.40" x2="662.40" y1="649.38" y2="658.73" stroke="#d0464e" stroke-width="0.6"/>
<rect x="657.40" y="611.99" width="10.00" height="37.39" fill="#fff" fill-opacity="0.6" stroke="#d0464e" stroke-width="0.6"/>
<line x1="657.40" x2="667.40" y1="633.02" y2="633.02" stroke="#d0464e" stroke-width="0.7"/>
<circle cx="658.03" cy="634.63" r="1.35" fill="#d0464e"/>
<circle cx="665.90" cy="627.68" r="1.35" fill="#d0464e"/>
<circle cx="659.50" cy="629.05" r="1.35" fill="#d0464e"/>
<circle cx="663.91" cy="646.82" r="1.35" fill="#d0464e"/>
<circle cx="665.63" cy="629.05" r="1.35" fill="#d0464e"/>
<circle cx="659.33" cy="622.70" r="1.35" fill="#d0464e"/>
<circle cx="656.62" cy="652.65" r="1.35" fill="#d0464e"/>
<circle cx="657.60" cy="620.45" r="1.35" fill="#d0464e"/>
<circle cx="661.04" cy="638.51" r="1.35" fill="#d0464e"/>
<circle cx="666.56" cy="610.73" r="1.35" fill="#d0464e"/>
<circle cx="662.57" cy="642.67" r="1.35" fill="#d0464e"/>
<circle cx="660.51" cy="629.57" r="1.35" fill="#d0464e"/>
<circle cx="662.55" cy="619.12" r="1.35" fill="#d0464e"/>
<circle cx="664.24" cy="631.05" r="1.35" fill="#d0464e"/>
<circle cx="659.31" cy="630.52" r="1.35" fill="#d0464e"/>
<circle cx="666.51" cy="625.46" r="1.35" fill="#d0464e"/>
<circle cx="666.81" cy="624.58" r="1.35" fill="#d0464e"/>
<circle cx="663.32" cy="630.08" r="1.35" fill="#d0464e"/>
<circle cx="658.62" cy="658.73" r="1.35" fill="#d0464e"/>
<circle cx="666.14" cy="594.47" r="1.35" fill="#d0464e"/>
<path d="M583.20 592.70 V590.50 H662.40 V592.70" fill="none" stroke="#333" stroke-width="0.85"/>
<text transform="translate(623.07,592.86) scale(1,1.080)" font-size="8.00" letter-spacing="0.55" text-anchor="middle" fill="#222">***</text>
<path d="M609.40 586.30 V584.10 H662.40 V586.30" fill="none" stroke="#333" stroke-width="0.85"/>
<text transform="translate(636.17,586.46) scale(1,1.080)" font-size="8.00" letter-spacing="0.55" text-anchor="middle" fill="#222">**</text>
<path d="M636.00 579.80 V577.60 H662.40 V579.80" fill="none" stroke="#333" stroke-width="0.85"/>
<text transform="translate(649.48,579.96) scale(1,1.080)" font-size="8.00" letter-spacing="0.55" text-anchor="middle" fill="#222">**</text>
<text x="0" y="0" transform="translate(401.1,176.60) scale(1,1.080) rotate(-90)" font-size="7.0" text-anchor="middle" fill="#222">Log<tspan font-size="4.9" dy="1.6">2</tspan><tspan dy="-1.6"> (abundance+1)</tspan></text>
<text x="0" y="0" transform="translate(401.1,309.30) scale(1,1.080) rotate(-90)" font-size="7.0" text-anchor="middle" fill="#222">Log<tspan font-size="4.9" dy="1.6">2</tspan><tspan dy="-1.6"> (abundance+1)</tspan></text>
<text x="0" y="0" transform="translate(401.1,482.80) scale(1,1.080) rotate(-90)" font-size="7.0" text-anchor="middle" fill="#222">Log<tspan font-size="4.9" dy="1.6">2</tspan><tspan dy="-1.6"> (abundance+1)</tspan></text>
<text x="0" y="0" transform="translate(401.1,615.70) scale(1,1.080) rotate(-90)" font-size="7.0" text-anchor="middle" fill="#222">Log<tspan font-size="4.9" dy="1.6">2</tspan><tspan dy="-1.6"> (abundance+1)</tspan></text>
<text x="0" y="0" transform="translate(333.70,364.40) scale(1,1.080) rotate(-90)" font-size="7.0" text-anchor="middle" fill="#222">Log<tspan font-size="4.9" dy="1.6">2</tspan><tspan dy="-1.6"> (abundance+1)</tspan></text>
<text x="0" y="0" transform="translate(348.40,366.40) scale(1,1.080) rotate(-90)" font-size="7.0" text-anchor="middle" fill="#222">Log<tspan font-size="4.9" dy="1.6">2</tspan><tspan dy="-1.6"> (abundance+1)</tspan></text>
<text transform="translate(388.6,107.4) scale(1,1.080)" font-size="12.5" font-weight="bold" fill="#000">c</text>
<text transform="translate(406.6,107.4) scale(1,1.080)" font-size="9.6" fill="#111">Proteins</text>
<text transform="translate(388.6,413.9) scale(1,1.080)" font-size="12.5" font-weight="bold" fill="#000">e</text>
<text transform="translate(407.0,413.7) scale(1,1.080)" font-size="9.6" fill="#111">Metabolites</text>
<path d="M52.20 713.00 V838.10 H148.70" fill="none" stroke="#111" stroke-width="1.10"/>
<line x1="50.20" x2="52.20" y1="726.20" y2="726.20" stroke="#333" stroke-width="0.7"/>
<text transform="translate(49.40,729.37) scale(1,1.080)" font-size="8.80" text-anchor="end" fill="#333">34.0</text>
<line x1="50.20" x2="52.20" y1="750.83" y2="750.83" stroke="#333" stroke-width="0.7"/>
<text transform="translate(49.40,753.99) scale(1,1.080)" font-size="8.80" text-anchor="end" fill="#333">33.5</text>
<line x1="50.20" x2="52.20" y1="775.45" y2="775.45" stroke="#333" stroke-width="0.7"/>
<text transform="translate(49.40,778.62) scale(1,1.080)" font-size="8.80" text-anchor="end" fill="#333">33.0</text>
<line x1="50.20" x2="52.20" y1="800.08" y2="800.08" stroke="#333" stroke-width="0.7"/>
<text transform="translate(49.40,803.24) scale(1,1.080)" font-size="8.80" text-anchor="end" fill="#333">32.5</text>
<line x1="50.20" x2="52.20" y1="824.70" y2="824.70" stroke="#333" stroke-width="0.7"/>
<text transform="translate(49.40,827.87) scale(1,1.080)" font-size="8.80" text-anchor="end" fill="#333">32.0</text>
<line x1="65.40" x2="65.40" y1="838.10" y2="840.10" stroke="#333" stroke-width="0.7"/>
<text x="0" y="0" transform="translate(68.60,844.50) scale(1,1.080) rotate(-45)" font-size="8.90" text-anchor="end" fill="#333">Asymptomatic</text>
<line x1="88.90" x2="88.90" y1="838.10" y2="840.10" stroke="#333" stroke-width="0.7"/>
<text x="0" y="0" transform="translate(92.10,844.50) scale(1,1.080) rotate(-45)" font-size="8.90" text-anchor="end" fill="#333">Mild</text>
<line x1="112.40" x2="112.40" y1="838.10" y2="840.10" stroke="#333" stroke-width="0.7"/>
<text x="0" y="0" transform="translate(115.60,844.50) scale(1,1.080) rotate(-45)" font-size="8.90" text-anchor="end" fill="#333">Severe</text>
<line x1="135.00" x2="135.00" y1="838.10" y2="840.10" stroke="#333" stroke-width="0.7"/>
<text x="0" y="0" transform="translate(138.20,844.50) scale(1,1.080) rotate(-45)" font-size="8.90" text-anchor="end" fill="#333">Critical</text>
<text transform="translate(99.80,708.40) scale(1,1.080)" font-size="9.20"  text-anchor="middle" fill="#111">PE</text>
<line x1="65.40" x2="65.40" y1="785.30" y2="800.08" stroke="#5cb84a" stroke-width="0.6"/>
<line x1="65.40" x2="65.40" y1="812.39" y2="832.09" stroke="#5cb84a" stroke-width="0.6"/>
<rect x="60.90" y="800.08" width="9.00" height="12.31" fill="#fff" fill-opacity="0.6" stroke="#5cb84a" stroke-width="0.6"/>
<line x1="60.90" x2="69.90" y1="805.98" y2="805.98" stroke="#5cb84a" stroke-width="0.7"/>
<circle cx="64.85" cy="809.88" r="1.60" fill="#5cb84a"/>
<circle cx="59.76" cy="796.12" r="1.60" fill="#5cb84a"/>
<circle cx="62.59" cy="812.25" r="1.60" fill="#5cb84a"/>
<circle cx="64.92" cy="810.33" r="1.60" fill="#5cb84a"/>
<circle cx="65.62" cy="808.96" r="1.60" fill="#5cb84a"/>
<circle cx="65.62" cy="810.01" r="1.60" fill="#5cb84a"/>
<circle cx="61.00" cy="793.62" r="1.60" fill="#5cb84a"/>
<circle cx="69.00" cy="803.76" r="1.60" fill="#5cb84a"/>
<circle cx="60.57" cy="811.14" r="1.60" fill="#5cb84a"/>
<circle cx="64.71" cy="803.95" r="1.60" fill="#5cb84a"/>
<circle cx="68.15" cy="804.48" r="1.60" fill="#5cb84a"/>
<circle cx="60.68" cy="810.66" r="1.60" fill="#5cb84a"/>
<circle cx="59.65" cy="806.33" r="1.60" fill="#5cb84a"/>
<circle cx="71.26" cy="817.87" r="1.60" fill="#5cb84a"/>
<circle cx="67.72" cy="809.61" r="1.60" fill="#5cb84a"/>
<circle cx="61.70" cy="796.08" r="1.60" fill="#5cb84a"/>
<circle cx="67.32" cy="804.77" r="1.60" fill="#5cb84a"/>
<circle cx="60.62" cy="810.65" r="1.60" fill="#5cb84a"/>
<circle cx="69.32" cy="803.16" r="1.60" fill="#5cb84a"/>
<circle cx="59.87" cy="811.68" r="1.60" fill="#5cb84a"/>
<circle cx="60.72" cy="820.00" r="1.60" fill="#5cb84a"/>
<circle cx="62.07" cy="800.14" r="1.60" fill="#5cb84a"/>
<circle cx="66.91" cy="801.53" r="1.60" fill="#5cb84a"/>
<circle cx="69.84" cy="803.57" r="1.60" fill="#5cb84a"/>
<circle cx="62.32" cy="813.68" r="1.60" fill="#5cb84a"/>
<circle cx="68.69" cy="808.76" r="1.60" fill="#5cb84a"/>
<circle cx="64.35" cy="807.74" r="1.60" fill="#5cb84a"/>
<circle cx="64.90" cy="813.74" r="1.60" fill="#5cb84a"/>
<circle cx="67.52" cy="805.87" r="1.60" fill="#5cb84a"/>
<circle cx="62.27" cy="804.07" r="1.60" fill="#5cb84a"/>
<circle cx="67.90" cy="806.87" r="1.60" fill="#5cb84a"/>
<circle cx="63.53" cy="808.13" r="1.60" fill="#5cb84a"/>
<circle cx="61.30" cy="805.32" r="1.60" fill="#5cb84a"/>
<circle cx="67.10" cy="811.17" r="1.60" fill="#5cb84a"/>
<circle cx="65.55" cy="805.67" r="1.60" fill="#5cb84a"/>
<circle cx="59.88" cy="818.40" r="1.60" fill="#5cb84a"/>
<circle cx="70.74" cy="800.94" r="1.60" fill="#5cb84a"/>
<circle cx="68.62" cy="811.82" r="1.60" fill="#5cb84a"/>
<circle cx="64.76" cy="809.08" r="1.60" fill="#5cb84a"/>
<circle cx="68.93" cy="805.03" r="1.60" fill="#5cb84a"/>
<circle cx="68.59" cy="807.55" r="1.60" fill="#5cb84a"/>
<circle cx="59.79" cy="812.22" r="1.60" fill="#5cb84a"/>
<circle cx="60.11" cy="795.11" r="1.60" fill="#5cb84a"/>
<circle cx="65.28" cy="810.62" r="1.60" fill="#5cb84a"/>
<circle cx="64.48" cy="812.25" r="1.60" fill="#5cb84a"/>
<circle cx="67.52" cy="808.60" r="1.60" fill="#5cb84a"/>
<circle cx="61.34" cy="832.09" r="1.60" fill="#5cb84a"/>
<circle cx="61.07" cy="785.30" r="1.60" fill="#5cb84a"/>
<line x1="88.90" x2="88.90" y1="758.21" y2="785.30" stroke="#3b78b8" stroke-width="0.6"/>
<line x1="88.90" x2="88.90" y1="807.46" y2="832.09" stroke="#3b78b8" stroke-width="0.6"/>
<rect x="84.40" y="785.30" width="9.00" height="22.16" fill="#fff" fill-opacity="0.6" stroke="#3b78b8" stroke-width="0.6"/>
<line x1="84.40" x2="93.40" y1="795.15" y2="795.15" stroke="#3b78b8" stroke-width="0.7"/>
<circle cx="93.39" cy="785.58" r="1.60" fill="#3b78b8"/>
<circle cx="90.79" cy="786.32" r="1.60" fill="#3b78b8"/>
<circle cx="91.98" cy="799.74" r="1.60" fill="#3b78b8"/>
<circle cx="90.84" cy="797.84" r="1.60" fill="#3b78b8"/>
<circle cx="91.69" cy="798.56" r="1.60" fill="#3b78b8"/>
<circle cx="86.82" cy="790.39" r="1.60" fill="#3b78b8"/>
<circle cx="87.76" cy="799.84" r="1.60" fill="#3b78b8"/>
<circle cx="88.24" cy="810.98" r="1.60" fill="#3b78b8"/>
<circle cx="91.61" cy="791.57" r="1.60" fill="#3b78b8"/>
<circle cx="87.26" cy="787.55" r="1.60" fill="#3b78b8"/>
<circle cx="91.87" cy="789.90" r="1.60" fill="#3b78b8"/>
<circle cx="85.58" cy="784.98" r="1.60" fill="#3b78b8"/>
<circle cx="88.41" cy="789.31" r="1.60" fill="#3b78b8"/>
<circle cx="89.38" cy="790.14" r="1.60" fill="#3b78b8"/>
<circle cx="83.97" cy="799.96" r="1.60" fill="#3b78b8"/>
<circle cx="84.01" cy="803.85" r="1.60" fill="#3b78b8"/>
<circle cx="90.55" cy="804.39" r="1.60" fill="#3b78b8"/>
<circle cx="84.92" cy="808.95" r="1.60" fill="#3b78b8"/>
<circle cx="88.39" cy="788.19" r="1.60" fill="#3b78b8"/>
<circle cx="93.75" cy="787.84" r="1.60" fill="#3b78b8"/>
<circle cx="90.37" cy="797.32" r="1.60" fill="#3b78b8"/>
<circle cx="90.77" cy="805.24" r="1.60" fill="#3b78b8"/>
<circle cx="90.21" cy="778.08" r="1.60" fill="#3b78b8"/>
<circle cx="86.03" cy="783.89" r="1.60" fill="#3b78b8"/>
<circle cx="84.97" cy="789.51" r="1.60" fill="#3b78b8"/>
<circle cx="86.03" cy="812.49" r="1.60" fill="#3b78b8"/>
<circle cx="84.96" cy="794.82" r="1.60" fill="#3b78b8"/>
<circle cx="85.22" cy="824.49" r="1.60" fill="#3b78b8"/>
<circle cx="89.04" cy="800.28" r="1.60" fill="#3b78b8"/>
<circle cx="89.62" cy="791.57" r="1.60" fill="#3b78b8"/>
<circle cx="91.71" cy="828.32" r="1.60" fill="#3b78b8"/>
<circle cx="89.48" cy="794.86" r="1.60" fill="#3b78b8"/>
<circle cx="84.30" cy="796.18" r="1.60" fill="#3b78b8"/>
<circle cx="87.67" cy="796.87" r="1.60" fill="#3b78b8"/>
<circle cx="87.27" cy="818.40" r="1.60" fill="#3b78b8"/>
<circle cx="84.67" cy="788.74" r="1.60" fill="#3b78b8"/>
<circle cx="94.46" cy="788.09" r="1.60" fill="#3b78b8"/>
<circle cx="85.42" cy="816.33" r="1.60" fill="#3b78b8"/>
<circle cx="91.54" cy="797.97" r="1.60" fill="#3b78b8"/>
<circle cx="85.09" cy="791.39" r="1.60" fill="#3b78b8"/>
<circle cx="88.71" cy="793.30" r="1.60" fill="#3b78b8"/>
<circle cx="85.47" cy="804.08" r="1.60" fill="#3b78b8"/>
<circle cx="93.97" cy="799.37" r="1.60" fill="#3b78b8"/>
<circle cx="91.29" cy="779.82" r="1.60" fill="#3b78b8"/>
<circle cx="92.84" cy="806.94" r="1.60" fill="#3b78b8"/>
<circle cx="94.86" cy="803.88" r="1.60" fill="#3b78b8"/>
<circle cx="86.56" cy="832.09" r="1.60" fill="#3b78b8"/>
<circle cx="88.12" cy="758.21" r="1.60" fill="#3b78b8"/>
<line x1="112.40" x2="112.40" y1="765.60" y2="786.28" stroke="#e8a04a" stroke-width="0.6"/>
<line x1="112.40" x2="112.40" y1="805.00" y2="829.63" stroke="#e8a04a" stroke-width="0.6"/>
<rect x="107.90" y="786.28" width="9.00" height="18.72" fill="#fff" fill-opacity="0.6" stroke="#e8a04a" stroke-width="0.6"/>
<line x1="107.90" x2="116.90" y1="794.17" y2="794.17" stroke="#e8a04a" stroke-width="0.7"/>
<circle cx="108.25" cy="773.13" r="1.60" fill="#e8a04a"/>
<circle cx="110.56" cy="785.46" r="1.60" fill="#e8a04a"/>
<circle cx="116.56" cy="788.79" r="1.60" fill="#e8a04a"/>
<circle cx="114.81" cy="795.31" r="1.60" fill="#e8a04a"/>
<circle cx="116.28" cy="793.75" r="1.60" fill="#e8a04a"/>
<circle cx="116.81" cy="804.52" r="1.60" fill="#e8a04a"/>
<circle cx="109.76" cy="807.64" r="1.60" fill="#e8a04a"/>
<circle cx="114.84" cy="797.74" r="1.60" fill="#e8a04a"/>
<circle cx="117.69" cy="793.70" r="1.60" fill="#e8a04a"/>
<circle cx="116.30" cy="793.08" r="1.60" fill="#e8a04a"/>
<circle cx="115.77" cy="793.82" r="1.60" fill="#e8a04a"/>
<circle cx="108.83" cy="797.77" r="1.60" fill="#e8a04a"/>
<circle cx="110.06" cy="784.12" r="1.60" fill="#e8a04a"/>
<circle cx="112.52" cy="795.62" r="1.60" fill="#e8a04a"/>
<circle cx="108.28" cy="797.86" r="1.60" fill="#e8a04a"/>
<circle cx="114.79" cy="782.31" r="1.60" fill="#e8a04a"/>
<circle cx="116.24" cy="786.26" r="1.60" fill="#e8a04a"/>
<circle cx="111.99" cy="788.89" r="1.60" fill="#e8a04a"/>
<circle cx="106.74" cy="816.45" r="1.60" fill="#e8a04a"/>
<circle cx="112.52" cy="795.78" r="1.60" fill="#e8a04a"/>
<circle cx="116.95" cy="792.31" r="1.60" fill="#e8a04a"/>
<circle cx="107.58" cy="805.35" r="1.60" fill="#e8a04a"/>
<circle cx="114.62" cy="788.59" r="1.60" fill="#e8a04a"/>
<circle cx="111.11" cy="787.03" r="1.60" fill="#e8a04a"/>
<circle cx="107.71" cy="797.78" r="1.60" fill="#e8a04a"/>
<circle cx="117.28" cy="798.34" r="1.60" fill="#e8a04a"/>
<circle cx="111.88" cy="785.63" r="1.60" fill="#e8a04a"/>
<circle cx="116.69" cy="804.00" r="1.60" fill="#e8a04a"/>
<circle cx="107.33" cy="786.32" r="1.60" fill="#e8a04a"/>
<circle cx="108.72" cy="801.42" r="1.60" fill="#e8a04a"/>
<circle cx="110.52" cy="829.63" r="1.60" fill="#e8a04a"/>
<circle cx="114.80" cy="765.60" r="1.60" fill="#e8a04a"/>
<line x1="135.00" x2="135.00" y1="745.90" y2="779.39" stroke="#d0464e" stroke-width="0.6"/>
<line x1="135.00" x2="135.00" y1="802.54" y2="822.24" stroke="#d0464e" stroke-width="0.6"/>
<rect x="130.50" y="779.39" width="9.00" height="23.15" fill="#fff" fill-opacity="0.6" stroke="#d0464e" stroke-width="0.6"/>
<line x1="130.50" x2="139.50" y1="787.76" y2="787.76" stroke="#d0464e" stroke-width="0.7"/>
<circle cx="133.42" cy="786.05" r="1.60" fill="#d0464e"/>
<circle cx="130.04" cy="801.59" r="1.60" fill="#d0464e"/>
<circle cx="133.27" cy="790.08" r="1.60" fill="#d0464e"/>
<circle cx="133.94" cy="791.07" r="1.60" fill="#d0464e"/>
<circle cx="133.23" cy="780.22" r="1.60" fill="#d0464e"/>
<circle cx="132.53" cy="779.56" r="1.60" fill="#d0464e"/>
<circle cx="134.07" cy="800.90" r="1.60" fill="#d0464e"/>
<circle cx="133.49" cy="798.27" r="1.60" fill="#d0464e"/>
<circle cx="131.66" cy="786.11" r="1.60" fill="#d0464e"/>
<circle cx="133.94" cy="785.31" r="1.60" fill="#d0464e"/>
<circle cx="134.47" cy="786.97" r="1.60" fill="#d0464e"/>
<circle cx="138.67" cy="794.27" r="1.60" fill="#d0464e"/>
<circle cx="135.07" cy="788.46" r="1.60" fill="#d0464e"/>
<circle cx="133.76" cy="804.80" r="1.60" fill="#d0464e"/>
<circle cx="134.60" cy="778.68" r="1.60" fill="#d0464e"/>
<circle cx="132.14" cy="803.90" r="1.60" fill="#d0464e"/>
<circle cx="134.18" cy="783.01" r="1.60" fill="#d0464e"/>
<circle cx="132.24" cy="783.63" r="1.60" fill="#d0464e"/>
<circle cx="135.65" cy="822.24" r="1.60" fill="#d0464e"/>
<circle cx="134.29" cy="745.90" r="1.60" fill="#d0464e"/>
<path d="M65.40 743.20 V741.00 H88.90 V743.20" fill="none" stroke="#333" stroke-width="0.85"/>
<text transform="translate(77.45,742.44) scale(1,1.080)" font-size="8.40" letter-spacing="0.60" text-anchor="middle" fill="#222">**</text>
<path d="M65.40 734.30 V732.10 H112.40 V734.30" fill="none" stroke="#333" stroke-width="0.85"/>
<text transform="translate(89.20,733.54) scale(1,1.080)" font-size="8.40" letter-spacing="0.60" text-anchor="middle" fill="#222">***</text>
<path d="M65.40 725.60 V723.40 H135.00 V725.60" fill="none" stroke="#333" stroke-width="0.85"/>
<text transform="translate(100.50,724.84) scale(1,1.080)" font-size="8.40" letter-spacing="0.60" text-anchor="middle" fill="#222">**</text>
<path d="M180.00 713.70 V836.60 H285.90" fill="none" stroke="#111" stroke-width="1.10"/>
<line x1="178.00" x2="180.00" y1="729.00" y2="729.00" stroke="#333" stroke-width="0.7"/>
<text transform="translate(177.20,732.17) scale(1,1.080)" font-size="8.80" text-anchor="end" fill="#333">28</text>
<line x1="178.00" x2="180.00" y1="749.28" y2="749.28" stroke="#333" stroke-width="0.7"/>
<text transform="translate(177.20,752.45) scale(1,1.080)" font-size="8.80" text-anchor="end" fill="#333">27</text>
<line x1="178.00" x2="180.00" y1="769.56" y2="769.56" stroke="#333" stroke-width="0.7"/>
<text transform="translate(177.20,772.73) scale(1,1.080)" font-size="8.80" text-anchor="end" fill="#333">26</text>
<line x1="178.00" x2="180.00" y1="789.84" y2="789.84" stroke="#333" stroke-width="0.7"/>
<text transform="translate(177.20,793.01) scale(1,1.080)" font-size="8.80" text-anchor="end" fill="#333">25</text>
<line x1="178.00" x2="180.00" y1="810.12" y2="810.12" stroke="#333" stroke-width="0.7"/>
<text transform="translate(177.20,813.29) scale(1,1.080)" font-size="8.80" text-anchor="end" fill="#333">24</text>
<line x1="178.00" x2="180.00" y1="830.40" y2="830.40" stroke="#333" stroke-width="0.7"/>
<text transform="translate(177.20,833.57) scale(1,1.080)" font-size="8.80" text-anchor="end" fill="#333">23</text>
<line x1="194.30" x2="194.30" y1="836.60" y2="838.60" stroke="#333" stroke-width="0.7"/>
<text x="0" y="0" transform="translate(197.50,843.00) scale(1,1.080) rotate(-45)" font-size="8.90" text-anchor="end" fill="#333">Asymptomatic</text>
<line x1="219.50" x2="219.50" y1="836.60" y2="838.60" stroke="#333" stroke-width="0.7"/>
<text x="0" y="0" transform="translate(222.70,843.00) scale(1,1.080) rotate(-45)" font-size="8.90" text-anchor="end" fill="#333">Mild</text>
<line x1="245.20" x2="245.20" y1="836.60" y2="838.60" stroke="#333" stroke-width="0.7"/>
<text x="0" y="0" transform="translate(248.40,843.00) scale(1,1.080) rotate(-45)" font-size="8.90" text-anchor="end" fill="#333">Severe</text>
<line x1="270.50" x2="270.50" y1="836.60" y2="838.60" stroke="#333" stroke-width="0.7"/>
<text x="0" y="0" transform="translate(273.70,843.00) scale(1,1.080) rotate(-45)" font-size="8.90" text-anchor="end" fill="#333">Critical</text>
<text transform="translate(232.00,708.80) scale(1,1.080)" font-size="9.20"  text-anchor="middle" fill="#111">LPI</text>
<line x1="194.30" x2="194.30" y1="787.81" y2="793.90" stroke="#5cb84a" stroke-width="0.6"/>
<line x1="194.30" x2="194.30" y1="812.15" y2="822.29" stroke="#5cb84a" stroke-width="0.6"/>
<rect x="189.80" y="793.90" width="9.00" height="18.25" fill="#fff" fill-opacity="0.6" stroke="#5cb84a" stroke-width="0.6"/>
<line x1="189.80" x2="198.80" y1="804.04" y2="804.04" stroke="#5cb84a" stroke-width="0.7"/>
<circle cx="190.14" cy="806.21" r="1.60" fill="#5cb84a"/>
<circle cx="190.54" cy="806.99" r="1.60" fill="#5cb84a"/>
<circle cx="197.38" cy="808.30" r="1.60" fill="#5cb84a"/>
<circle cx="191.15" cy="815.61" r="1.60" fill="#5cb84a"/>
<circle cx="200.17" cy="796.37" r="1.60" fill="#5cb84a"/>
<circle cx="196.33" cy="792.72" r="1.60" fill="#5cb84a"/>
<circle cx="195.50" cy="802.37" r="1.60" fill="#5cb84a"/>
<circle cx="196.01" cy="799.46" r="1.60" fill="#5cb84a"/>
<circle cx="191.17" cy="806.68" r="1.60" fill="#5cb84a"/>
<circle cx="199.79" cy="807.28" r="1.60" fill="#5cb84a"/>
<circle cx="188.78" cy="798.40" r="1.60" fill="#5cb84a"/>
<circle cx="199.19" cy="790.42" r="1.60" fill="#5cb84a"/>
<circle cx="194.70" cy="801.64" r="1.60" fill="#5cb84a"/>
<circle cx="195.53" cy="800.40" r="1.60" fill="#5cb84a"/>
<circle cx="194.83" cy="802.32" r="1.60" fill="#5cb84a"/>
<circle cx="192.96" cy="800.30" r="1.60" fill="#5cb84a"/>
<circle cx="190.29" cy="810.42" r="1.60" fill="#5cb84a"/>
<circle cx="192.52" cy="820.36" r="1.60" fill="#5cb84a"/>
<circle cx="195.98" cy="818.12" r="1.60" fill="#5cb84a"/>
<circle cx="192.04" cy="804.64" r="1.60" fill="#5cb84a"/>
<circle cx="197.85" cy="789.94" r="1.60" fill="#5cb84a"/>
<circle cx="196.62" cy="802.85" r="1.60" fill="#5cb84a"/>
<circle cx="188.66" cy="812.37" r="1.60" fill="#5cb84a"/>
<circle cx="189.41" cy="804.34" r="1.60" fill="#5cb84a"/>
<circle cx="198.46" cy="799.43" r="1.60" fill="#5cb84a"/>
<circle cx="194.72" cy="808.65" r="1.60" fill="#5cb84a"/>
<circle cx="189.90" cy="801.92" r="1.60" fill="#5cb84a"/>
<circle cx="194.65" cy="816.63" r="1.60" fill="#5cb84a"/>
<circle cx="194.89" cy="805.22" r="1.60" fill="#5cb84a"/>
<circle cx="196.79" cy="796.20" r="1.60" fill="#5cb84a"/>
<circle cx="194.02" cy="804.22" r="1.60" fill="#5cb84a"/>
<circle cx="199.47" cy="800.41" r="1.60" fill="#5cb84a"/>
<circle cx="188.48" cy="804.89" r="1.60" fill="#5cb84a"/>
<circle cx="198.95" cy="812.10" r="1.60" fill="#5cb84a"/>
<circle cx="196.78" cy="803.14" r="1.60" fill="#5cb84a"/>
<circle cx="192.82" cy="796.26" r="1.60" fill="#5cb84a"/>
<circle cx="189.53" cy="797.77" r="1.60" fill="#5cb84a"/>
<circle cx="190.04" cy="794.93" r="1.60" fill="#5cb84a"/>
<circle cx="196.74" cy="790.75" r="1.60" fill="#5cb84a"/>
<circle cx="196.29" cy="806.02" r="1.60" fill="#5cb84a"/>
<circle cx="194.66" cy="806.07" r="1.60" fill="#5cb84a"/>
<circle cx="189.30" cy="794.13" r="1.60" fill="#5cb84a"/>
<circle cx="189.51" cy="802.91" r="1.60" fill="#5cb84a"/>
<circle cx="194.14" cy="809.07" r="1.60" fill="#5cb84a"/>
<circle cx="189.59" cy="794.20" r="1.60" fill="#5cb84a"/>
<circle cx="191.83" cy="801.21" r="1.60" fill="#5cb84a"/>
<circle cx="188.62" cy="822.29" r="1.60" fill="#5cb84a"/>
<circle cx="191.01" cy="787.81" r="1.60" fill="#5cb84a"/>
<line x1="219.50" x2="219.50" y1="773.62" y2="789.84" stroke="#3b78b8" stroke-width="0.6"/>
<line x1="219.50" x2="219.50" y1="804.04" y2="824.32" stroke="#3b78b8" stroke-width="0.6"/>
<rect x="215.00" y="789.84" width="9.00" height="14.20" fill="#fff" fill-opacity="0.6" stroke="#3b78b8" stroke-width="0.6"/>
<line x1="215.00" x2="224.00" y1="795.92" y2="795.92" stroke="#3b78b8" stroke-width="0.7"/>
<circle cx="214.07" cy="795.46" r="1.60" fill="#3b78b8"/>
<circle cx="219.06" cy="799.33" r="1.60" fill="#3b78b8"/>
<circle cx="216.35" cy="798.24" r="1.60" fill="#3b78b8"/>
<circle cx="217.36" cy="801.36" r="1.60" fill="#3b78b8"/>
<circle cx="222.48" cy="791.88" r="1.60" fill="#3b78b8"/>
<circle cx="222.72" cy="794.24" r="1.60" fill="#3b78b8"/>
<circle cx="220.35" cy="797.65" r="1.60" fill="#3b78b8"/>
<circle cx="224.49" cy="804.62" r="1.60" fill="#3b78b8"/>
<circle cx="222.00" cy="793.03" r="1.60" fill="#3b78b8"/>
<circle cx="215.40" cy="799.69" r="1.60" fill="#3b78b8"/>
<circle cx="218.30" cy="803.22" r="1.60" fill="#3b78b8"/>
<circle cx="217.10" cy="799.04" r="1.60" fill="#3b78b8"/>
<circle cx="225.32" cy="803.12" r="1.60" fill="#3b78b8"/>
<circle cx="218.59" cy="794.21" r="1.60" fill="#3b78b8"/>
<circle cx="216.76" cy="791.30" r="1.60" fill="#3b78b8"/>
<circle cx="223.73" cy="797.04" r="1.60" fill="#3b78b8"/>
<circle cx="224.97" cy="795.50" r="1.60" fill="#3b78b8"/>
<circle cx="217.86" cy="786.91" r="1.60" fill="#3b78b8"/>
<circle cx="216.99" cy="797.69" r="1.60" fill="#3b78b8"/>
<circle cx="217.34" cy="780.69" r="1.60" fill="#3b78b8"/>
<circle cx="214.03" cy="794.53" r="1.60" fill="#3b78b8"/>
<circle cx="221.26" cy="808.64" r="1.60" fill="#3b78b8"/>
<circle cx="213.78" cy="800.65" r="1.60" fill="#3b78b8"/>
<circle cx="225.43" cy="809.96" r="1.60" fill="#3b78b8"/>
<circle cx="223.32" cy="791.74" r="1.60" fill="#3b78b8"/>
<circle cx="218.14" cy="781.06" r="1.60" fill="#3b78b8"/>
<circle cx="220.53" cy="793.90" r="1.60" fill="#3b78b8"/>
<circle cx="223.51" cy="797.50" r="1.60" fill="#3b78b8"/>
<circle cx="214.91" cy="795.60" r="1.60" fill="#3b78b8"/>
<circle cx="221.65" cy="804.70" r="1.60" fill="#3b78b8"/>
<circle cx="223.77" cy="794.75" r="1.60" fill="#3b78b8"/>
<circle cx="219.67" cy="784.01" r="1.60" fill="#3b78b8"/>
<circle cx="224.00" cy="794.17" r="1.60" fill="#3b78b8"/>
<circle cx="216.47" cy="794.38" r="1.60" fill="#3b78b8"/>
<circle cx="213.53" cy="796.44" r="1.60" fill="#3b78b8"/>
<circle cx="216.27" cy="792.68" r="1.60" fill="#3b78b8"/>
<circle cx="225.45" cy="795.31" r="1.60" fill="#3b78b8"/>
<circle cx="217.57" cy="792.21" r="1.60" fill="#3b78b8"/>
<circle cx="217.41" cy="791.87" r="1.60" fill="#3b78b8"/>
<circle cx="214.34" cy="809.89" r="1.60" fill="#3b78b8"/>
<circle cx="218.20" cy="805.66" r="1.60" fill="#3b78b8"/>
<circle cx="216.46" cy="802.88" r="1.60" fill="#3b78b8"/>
<circle cx="219.45" cy="792.23" r="1.60" fill="#3b78b8"/>
<circle cx="213.89" cy="801.95" r="1.60" fill="#3b78b8"/>
<circle cx="214.82" cy="797.46" r="1.60" fill="#3b78b8"/>
<circle cx="213.71" cy="795.90" r="1.60" fill="#3b78b8"/>
<circle cx="224.69" cy="824.32" r="1.60" fill="#3b78b8"/>
<circle cx="222.80" cy="773.62" r="1.60" fill="#3b78b8"/>
<line x1="245.20" x2="245.20" y1="771.59" y2="793.90" stroke="#e8a04a" stroke-width="0.6"/>
<line x1="245.20" x2="245.20" y1="806.06" y2="831.41" stroke="#e8a04a" stroke-width="0.6"/>
<rect x="240.70" y="793.90" width="9.00" height="12.17" fill="#fff" fill-opacity="0.6" stroke="#e8a04a" stroke-width="0.6"/>
<line x1="240.70" x2="249.70" y1="799.98" y2="799.98" stroke="#e8a04a" stroke-width="0.7"/>
<circle cx="248.95" cy="802.46" r="1.60" fill="#e8a04a"/>
<circle cx="249.88" cy="800.03" r="1.60" fill="#e8a04a"/>
<circle cx="247.38" cy="805.09" r="1.60" fill="#e8a04a"/>
<circle cx="249.63" cy="801.70" r="1.60" fill="#e8a04a"/>
<circle cx="250.12" cy="801.58" r="1.60" fill="#e8a04a"/>
<circle cx="250.10" cy="800.85" r="1.60" fill="#e8a04a"/>
<circle cx="250.13" cy="801.64" r="1.60" fill="#e8a04a"/>
<circle cx="243.97" cy="797.54" r="1.60" fill="#e8a04a"/>
<circle cx="239.74" cy="796.68" r="1.60" fill="#e8a04a"/>
<circle cx="243.64" cy="803.06" r="1.60" fill="#e8a04a"/>
<circle cx="249.42" cy="800.30" r="1.60" fill="#e8a04a"/>
<circle cx="246.96" cy="798.41" r="1.60" fill="#e8a04a"/>
<circle cx="240.91" cy="787.64" r="1.60" fill="#e8a04a"/>
<circle cx="242.06" cy="818.50" r="1.60" fill="#e8a04a"/>
<circle cx="244.02" cy="798.24" r="1.60" fill="#e8a04a"/>
<circle cx="239.78" cy="805.65" r="1.60" fill="#e8a04a"/>
<circle cx="247.72" cy="800.52" r="1.60" fill="#e8a04a"/>
<circle cx="245.15" cy="794.06" r="1.60" fill="#e8a04a"/>
<circle cx="250.46" cy="794.72" r="1.60" fill="#e8a04a"/>
<circle cx="248.31" cy="790.19" r="1.60" fill="#e8a04a"/>
<circle cx="244.46" cy="798.39" r="1.60" fill="#e8a04a"/>
<circle cx="241.27" cy="779.59" r="1.60" fill="#e8a04a"/>
<circle cx="246.21" cy="796.50" r="1.60" fill="#e8a04a"/>
<circle cx="251.13" cy="803.43" r="1.60" fill="#e8a04a"/>
<circle cx="248.34" cy="814.14" r="1.60" fill="#e8a04a"/>
<circle cx="241.35" cy="800.07" r="1.60" fill="#e8a04a"/>
<circle cx="240.79" cy="794.01" r="1.60" fill="#e8a04a"/>
<circle cx="241.06" cy="802.30" r="1.60" fill="#e8a04a"/>
<circle cx="245.41" cy="810.17" r="1.60" fill="#e8a04a"/>
<circle cx="240.07" cy="804.35" r="1.60" fill="#e8a04a"/>
<circle cx="250.10" cy="831.41" r="1.60" fill="#e8a04a"/>
<circle cx="245.16" cy="771.59" r="1.60" fill="#e8a04a"/>
<line x1="270.50" x2="270.50" y1="753.34" y2="773.62" stroke="#d0464e" stroke-width="0.6"/>
<line x1="270.50" x2="270.50" y1="789.84" y2="799.98" stroke="#d0464e" stroke-width="0.6"/>
<rect x="266.00" y="773.62" width="9.00" height="16.22" fill="#fff" fill-opacity="0.6" stroke="#d0464e" stroke-width="0.6"/>
<line x1="266.00" x2="275.00" y1="781.73" y2="781.73" stroke="#d0464e" stroke-width="0.7"/>
<circle cx="267.67" cy="788.07" r="1.60" fill="#d0464e"/>
<circle cx="270.56" cy="791.07" r="1.60" fill="#d0464e"/>
<circle cx="264.56" cy="774.61" r="1.60" fill="#d0464e"/>
<circle cx="267.55" cy="770.24" r="1.60" fill="#d0464e"/>
<circle cx="265.06" cy="788.08" r="1.60" fill="#d0464e"/>
<circle cx="266.92" cy="785.49" r="1.60" fill="#d0464e"/>
<circle cx="269.48" cy="781.23" r="1.60" fill="#d0464e"/>
<circle cx="264.80" cy="766.27" r="1.60" fill="#d0464e"/>
<circle cx="270.02" cy="787.37" r="1.60" fill="#d0464e"/>
<circle cx="265.96" cy="791.67" r="1.60" fill="#d0464e"/>
<circle cx="268.64" cy="774.15" r="1.60" fill="#d0464e"/>
<circle cx="265.13" cy="785.10" r="1.60" fill="#d0464e"/>
<circle cx="269.91" cy="762.98" r="1.60" fill="#d0464e"/>
<circle cx="269.19" cy="783.99" r="1.60" fill="#d0464e"/>
<circle cx="269.59" cy="777.54" r="1.60" fill="#d0464e"/>
<circle cx="271.40" cy="780.74" r="1.60" fill="#d0464e"/>
<circle cx="265.92" cy="777.69" r="1.60" fill="#d0464e"/>
<circle cx="275.34" cy="776.95" r="1.60" fill="#d0464e"/>
<circle cx="267.08" cy="799.98" r="1.60" fill="#d0464e"/>
<circle cx="264.61" cy="753.34" r="1.60" fill="#d0464e"/>
<path d="M194.30 752.50 V750.30 H219.50 V752.50" fill="none" stroke="#333" stroke-width="0.85"/>
<text transform="translate(207.20,751.74) scale(1,1.080)" font-size="8.40" letter-spacing="0.60" text-anchor="middle" fill="#222">**</text>
<path d="M194.30 744.90 V742.70 H245.20 V744.90" fill="none" stroke="#333" stroke-width="0.85"/>
<text transform="translate(220.05,744.14) scale(1,1.080)" font-size="8.40" letter-spacing="0.60" text-anchor="middle" fill="#222">*</text>
<path d="M194.30 737.20 V735.00 H270.50 V737.20" fill="none" stroke="#333" stroke-width="0.85"/>
<text transform="translate(232.70,736.44) scale(1,1.080)" font-size="8.40" letter-spacing="0.60" text-anchor="middle" fill="#222">****</text>
<path d="M219.50 729.50 V727.30 H270.50 V729.50" fill="none" stroke="#333" stroke-width="0.85"/>
<text transform="translate(245.30,728.74) scale(1,1.080)" font-size="8.40" letter-spacing="0.60" text-anchor="middle" fill="#222">****</text>
<path d="M245.20 721.80 V719.60 H270.50 V721.80" fill="none" stroke="#333" stroke-width="0.85"/>
<text transform="translate(258.15,721.04) scale(1,1.080)" font-size="8.40" letter-spacing="0.60" text-anchor="middle" fill="#222">****</text>
<path d="M311.60 712.00 V836.40 H418.00" fill="none" stroke="#111" stroke-width="1.10"/>
<line x1="309.60" x2="311.60" y1="713.70" y2="713.70" stroke="#333" stroke-width="0.7"/>
<text transform="translate(308.80,716.87) scale(1,1.080)" font-size="8.80" text-anchor="end" fill="#333">32</text>
<line x1="309.60" x2="311.60" y1="750.57" y2="750.57" stroke="#333" stroke-width="0.7"/>
<text transform="translate(308.80,753.73) scale(1,1.080)" font-size="8.80" text-anchor="end" fill="#333">31</text>
<line x1="309.60" x2="311.60" y1="787.43" y2="787.43" stroke="#333" stroke-width="0.7"/>
<text transform="translate(308.80,790.60) scale(1,1.080)" font-size="8.80" text-anchor="end" fill="#333">30</text>
<line x1="309.60" x2="311.60" y1="824.30" y2="824.30" stroke="#333" stroke-width="0.7"/>
<text transform="translate(308.80,827.47) scale(1,1.080)" font-size="8.80" text-anchor="end" fill="#333">29</text>
<line x1="326.90" x2="326.90" y1="836.40" y2="838.40" stroke="#333" stroke-width="0.7"/>
<text x="0" y="0" transform="translate(330.10,842.80) scale(1,1.080) rotate(-45)" font-size="8.90" text-anchor="end" fill="#333">Asymptomatic</text>
<line x1="352.20" x2="352.20" y1="836.40" y2="838.40" stroke="#333" stroke-width="0.7"/>
<text x="0" y="0" transform="translate(355.40,842.80) scale(1,1.080) rotate(-45)" font-size="8.90" text-anchor="end" fill="#333">Mild</text>
<line x1="377.40" x2="377.40" y1="836.40" y2="838.40" stroke="#333" stroke-width="0.7"/>
<text x="0" y="0" transform="translate(380.60,842.80) scale(1,1.080) rotate(-45)" font-size="8.90" text-anchor="end" fill="#333">Severe</text>
<line x1="402.80" x2="402.80" y1="836.40" y2="838.40" stroke="#333" stroke-width="0.7"/>
<text x="0" y="0" transform="translate(406.00,842.80) scale(1,1.080) rotate(-45)" font-size="8.90" text-anchor="end" fill="#333">Critical</text>
<text transform="translate(364.90,708.40) scale(1,1.080)" font-size="9.20"  text-anchor="middle" fill="#111">Cer</text>
<line x1="326.90" x2="326.90" y1="772.69" y2="785.59" stroke="#5cb84a" stroke-width="0.6"/>
<line x1="326.90" x2="326.90" y1="794.81" y2="805.87" stroke="#5cb84a" stroke-width="0.6"/>
<rect x="322.40" y="785.59" width="9.00" height="9.22" fill="#fff" fill-opacity="0.6" stroke="#5cb84a" stroke-width="0.6"/>
<line x1="322.40" x2="331.40" y1="791.12" y2="791.12" stroke="#5cb84a" stroke-width="0.7"/>
<circle cx="326.86" cy="794.26" r="1.60" fill="#5cb84a"/>
<circle cx="320.98" cy="788.57" r="1.60" fill="#5cb84a"/>
<circle cx="323.24" cy="795.15" r="1.60" fill="#5cb84a"/>
<circle cx="329.08" cy="786.96" r="1.60" fill="#5cb84a"/>
<circle cx="330.41" cy="789.94" r="1.60" fill="#5cb84a"/>
<circle cx="323.37" cy="790.25" r="1.60" fill="#5cb84a"/>
<circle cx="326.51" cy="785.51" r="1.60" fill="#5cb84a"/>
<circle cx="321.34" cy="795.88" r="1.60" fill="#5cb84a"/>
<circle cx="327.38" cy="793.62" r="1.60" fill="#5cb84a"/>
<circle cx="329.97" cy="788.21" r="1.60" fill="#5cb84a"/>
<circle cx="326.90" cy="785.63" r="1.60" fill="#5cb84a"/>
<circle cx="330.32" cy="790.46" r="1.60" fill="#5cb84a"/>
<circle cx="323.71" cy="789.83" r="1.60" fill="#5cb84a"/>
<circle cx="328.89" cy="794.38" r="1.60" fill="#5cb84a"/>
<circle cx="326.55" cy="782.40" r="1.60" fill="#5cb84a"/>
<circle cx="328.14" cy="792.40" r="1.60" fill="#5cb84a"/>
<circle cx="321.77" cy="786.37" r="1.60" fill="#5cb84a"/>
<circle cx="326.35" cy="793.63" r="1.60" fill="#5cb84a"/>
<circle cx="328.34" cy="787.52" r="1.60" fill="#5cb84a"/>
<circle cx="323.71" cy="785.74" r="1.60" fill="#5cb84a"/>
<circle cx="327.55" cy="788.82" r="1.60" fill="#5cb84a"/>
<circle cx="321.14" cy="792.11" r="1.60" fill="#5cb84a"/>
<circle cx="325.92" cy="797.38" r="1.60" fill="#5cb84a"/>
<circle cx="332.19" cy="790.79" r="1.60" fill="#5cb84a"/>
<circle cx="328.66" cy="793.01" r="1.60" fill="#5cb84a"/>
<circle cx="326.97" cy="790.00" r="1.60" fill="#5cb84a"/>
<circle cx="331.35" cy="784.20" r="1.60" fill="#5cb84a"/>
<circle cx="329.22" cy="793.35" r="1.60" fill="#5cb84a"/>
<circle cx="327.01" cy="793.79" r="1.60" fill="#5cb84a"/>
<circle cx="325.40" cy="785.54" r="1.60" fill="#5cb84a"/>
<circle cx="331.39" cy="789.34" r="1.60" fill="#5cb84a"/>
<circle cx="327.67" cy="801.82" r="1.60" fill="#5cb84a"/>
<circle cx="326.75" cy="786.34" r="1.60" fill="#5cb84a"/>
<circle cx="325.36" cy="786.84" r="1.60" fill="#5cb84a"/>
<circle cx="322.73" cy="777.83" r="1.60" fill="#5cb84a"/>
<circle cx="323.19" cy="793.46" r="1.60" fill="#5cb84a"/>
<circle cx="328.13" cy="780.83" r="1.60" fill="#5cb84a"/>
<circle cx="327.35" cy="793.10" r="1.60" fill="#5cb84a"/>
<circle cx="330.19" cy="789.45" r="1.60" fill="#5cb84a"/>
<circle cx="326.29" cy="791.61" r="1.60" fill="#5cb84a"/>
<circle cx="325.51" cy="789.26" r="1.60" fill="#5cb84a"/>
<circle cx="327.56" cy="789.24" r="1.60" fill="#5cb84a"/>
<circle cx="323.92" cy="793.87" r="1.60" fill="#5cb84a"/>
<circle cx="332.44" cy="790.46" r="1.60" fill="#5cb84a"/>
<circle cx="328.52" cy="788.80" r="1.60" fill="#5cb84a"/>
<circle cx="324.51" cy="790.12" r="1.60" fill="#5cb84a"/>
<circle cx="326.80" cy="805.87" r="1.60" fill="#5cb84a"/>
<circle cx="330.99" cy="772.69" r="1.60" fill="#5cb84a"/>
<circle cx="328.70" cy="820.61" r="1.60" fill="#5cb84a"/>
<line x1="352.20" x2="352.20" y1="752.41" y2="770.84" stroke="#3b78b8" stroke-width="0.6"/>
<line x1="352.20" x2="352.20" y1="787.43" y2="798.49" stroke="#3b78b8" stroke-width="0.6"/>
<rect x="347.70" y="770.84" width="9.00" height="16.59" fill="#fff" fill-opacity="0.6" stroke="#3b78b8" stroke-width="0.6"/>
<line x1="347.70" x2="356.70" y1="780.06" y2="780.06" stroke="#3b78b8" stroke-width="0.7"/>
<circle cx="357.59" cy="763.87" r="1.60" fill="#3b78b8"/>
<circle cx="347.00" cy="780.50" r="1.60" fill="#3b78b8"/>
<circle cx="356.26" cy="786.57" r="1.60" fill="#3b78b8"/>
<circle cx="352.16" cy="792.63" r="1.60" fill="#3b78b8"/>
<circle cx="355.79" cy="777.44" r="1.60" fill="#3b78b8"/>
<circle cx="355.92" cy="788.89" r="1.60" fill="#3b78b8"/>
<circle cx="354.55" cy="786.35" r="1.60" fill="#3b78b8"/>
<circle cx="350.73" cy="783.46" r="1.60" fill="#3b78b8"/>
<circle cx="352.42" cy="784.41" r="1.60" fill="#3b78b8"/>
<circle cx="348.65" cy="784.18" r="1.60" fill="#3b78b8"/>
<circle cx="349.35" cy="784.93" r="1.60" fill="#3b78b8"/>
<circle cx="346.47" cy="775.80" r="1.60" fill="#3b78b8"/>
<circle cx="350.58" cy="776.14" r="1.60" fill="#3b78b8"/>
<circle cx="357.02" cy="771.46" r="1.60" fill="#3b78b8"/>
<circle cx="354.84" cy="770.85" r="1.60" fill="#3b78b8"/>
<circle cx="346.95" cy="787.08" r="1.60" fill="#3b78b8"/>
<circle cx="350.31" cy="774.72" r="1.60" fill="#3b78b8"/>
<circle cx="351.44" cy="785.12" r="1.60" fill="#3b78b8"/>
<circle cx="352.47" cy="786.61" r="1.60" fill="#3b78b8"/>
<circle cx="352.32" cy="787.66" r="1.60" fill="#3b78b8"/>
<circle cx="356.25" cy="776.19" r="1.60" fill="#3b78b8"/>
<circle cx="348.55" cy="782.72" r="1.60" fill="#3b78b8"/>
<circle cx="353.89" cy="787.06" r="1.60" fill="#3b78b8"/>
<circle cx="353.97" cy="774.98" r="1.60" fill="#3b78b8"/>
<circle cx="346.40" cy="763.02" r="1.60" fill="#3b78b8"/>
<circle cx="348.02" cy="775.75" r="1.60" fill="#3b78b8"/>
<circle cx="347.62" cy="772.16" r="1.60" fill="#3b78b8"/>
<circle cx="353.60" cy="784.36" r="1.60" fill="#3b78b8"/>
<circle cx="356.50" cy="756.41" r="1.60" fill="#3b78b8"/>
<circle cx="356.78" cy="785.54" r="1.60" fill="#3b78b8"/>
<circle cx="356.26" cy="789.14" r="1.60" fill="#3b78b8"/>
<circle cx="352.78" cy="763.25" r="1.60" fill="#3b78b8"/>
<circle cx="353.63" cy="782.93" r="1.60" fill="#3b78b8"/>
<circle cx="354.16" cy="784.11" r="1.60" fill="#3b78b8"/>
<circle cx="349.78" cy="793.32" r="1.60" fill="#3b78b8"/>
<circle cx="352.01" cy="780.02" r="1.60" fill="#3b78b8"/>
<circle cx="347.82" cy="787.83" r="1.60" fill="#3b78b8"/>
<circle cx="350.18" cy="771.04" r="1.60" fill="#3b78b8"/>
<circle cx="350.59" cy="786.37" r="1.60" fill="#3b78b8"/>
<circle cx="357.68" cy="781.71" r="1.60" fill="#3b78b8"/>
<circle cx="348.71" cy="775.55" r="1.60" fill="#3b78b8"/>
<circle cx="352.06" cy="775.75" r="1.60" fill="#3b78b8"/>
<circle cx="346.92" cy="786.19" r="1.60" fill="#3b78b8"/>
<circle cx="346.93" cy="778.38" r="1.60" fill="#3b78b8"/>
<circle cx="352.40" cy="777.74" r="1.60" fill="#3b78b8"/>
<circle cx="353.29" cy="787.36" r="1.60" fill="#3b78b8"/>
<circle cx="352.49" cy="798.49" r="1.60" fill="#3b78b8"/>
<circle cx="358.06" cy="752.41" r="1.60" fill="#3b78b8"/>
<line x1="377.40" x2="377.40" y1="754.25" y2="776.37" stroke="#e8a04a" stroke-width="0.6"/>
<line x1="377.40" x2="377.40" y1="791.12" y2="807.71" stroke="#e8a04a" stroke-width="0.6"/>
<rect x="372.90" y="776.37" width="9.00" height="14.75" fill="#fff" fill-opacity="0.6" stroke="#e8a04a" stroke-width="0.6"/>
<line x1="372.90" x2="381.90" y1="785.59" y2="785.59" stroke="#e8a04a" stroke-width="0.7"/>
<circle cx="373.68" cy="781.89" r="1.60" fill="#e8a04a"/>
<circle cx="374.58" cy="782.28" r="1.60" fill="#e8a04a"/>
<circle cx="373.01" cy="779.77" r="1.60" fill="#e8a04a"/>
<circle cx="383.19" cy="778.13" r="1.60" fill="#e8a04a"/>
<circle cx="372.51" cy="780.82" r="1.60" fill="#e8a04a"/>
<circle cx="381.58" cy="789.88" r="1.60" fill="#e8a04a"/>
<circle cx="376.00" cy="790.16" r="1.60" fill="#e8a04a"/>
<circle cx="381.69" cy="800.09" r="1.60" fill="#e8a04a"/>
<circle cx="376.66" cy="787.70" r="1.60" fill="#e8a04a"/>
<circle cx="382.71" cy="766.38" r="1.60" fill="#e8a04a"/>
<circle cx="380.26" cy="783.22" r="1.60" fill="#e8a04a"/>
<circle cx="380.69" cy="770.05" r="1.60" fill="#e8a04a"/>
<circle cx="371.99" cy="787.36" r="1.60" fill="#e8a04a"/>
<circle cx="379.52" cy="780.68" r="1.60" fill="#e8a04a"/>
<circle cx="371.75" cy="784.90" r="1.60" fill="#e8a04a"/>
<circle cx="378.70" cy="782.43" r="1.60" fill="#e8a04a"/>
<circle cx="376.07" cy="781.56" r="1.60" fill="#e8a04a"/>
<circle cx="373.16" cy="782.89" r="1.60" fill="#e8a04a"/>
<circle cx="377.09" cy="785.01" r="1.60" fill="#e8a04a"/>
<circle cx="375.12" cy="776.46" r="1.60" fill="#e8a04a"/>
<circle cx="377.07" cy="783.60" r="1.60" fill="#e8a04a"/>
<circle cx="378.81" cy="788.63" r="1.60" fill="#e8a04a"/>
<circle cx="372.79" cy="779.35" r="1.60" fill="#e8a04a"/>
<circle cx="377.03" cy="785.53" r="1.60" fill="#e8a04a"/>
<circle cx="376.46" cy="768.95" r="1.60" fill="#e8a04a"/>
<circle cx="382.33" cy="780.37" r="1.60" fill="#e8a04a"/>
<circle cx="382.66" cy="787.30" r="1.60" fill="#e8a04a"/>
<circle cx="374.66" cy="782.57" r="1.60" fill="#e8a04a"/>
<circle cx="375.75" cy="787.95" r="1.60" fill="#e8a04a"/>
<circle cx="376.89" cy="795.31" r="1.60" fill="#e8a04a"/>
<circle cx="375.22" cy="807.71" r="1.60" fill="#e8a04a"/>
<circle cx="382.75" cy="754.25" r="1.60" fill="#e8a04a"/>
<circle cx="378.84" cy="831.67" r="1.60" fill="#e8a04a"/>
<line x1="402.80" x2="402.80" y1="739.51" y2="765.31" stroke="#d0464e" stroke-width="0.6"/>
<line x1="402.80" x2="402.80" y1="787.43" y2="802.18" stroke="#d0464e" stroke-width="0.6"/>
<rect x="398.30" y="765.31" width="9.00" height="22.12" fill="#fff" fill-opacity="0.6" stroke="#d0464e" stroke-width="0.6"/>
<line x1="398.30" x2="407.30" y1="776.37" y2="776.37" stroke="#d0464e" stroke-width="0.7"/>
<circle cx="397.41" cy="769.05" r="1.60" fill="#d0464e"/>
<circle cx="406.44" cy="766.12" r="1.60" fill="#d0464e"/>
<circle cx="404.79" cy="772.03" r="1.60" fill="#d0464e"/>
<circle cx="408.78" cy="771.52" r="1.60" fill="#d0464e"/>
<circle cx="406.98" cy="774.88" r="1.60" fill="#d0464e"/>
<circle cx="402.95" cy="774.38" r="1.60" fill="#d0464e"/>
<circle cx="405.06" cy="786.13" r="1.60" fill="#d0464e"/>
<circle cx="401.46" cy="788.00" r="1.60" fill="#d0464e"/>
<circle cx="400.39" cy="784.72" r="1.60" fill="#d0464e"/>
<circle cx="407.95" cy="774.89" r="1.60" fill="#d0464e"/>
<circle cx="401.58" cy="772.32" r="1.60" fill="#d0464e"/>
<circle cx="405.42" cy="783.87" r="1.60" fill="#d0464e"/>
<circle cx="396.90" cy="776.23" r="1.60" fill="#d0464e"/>
<circle cx="397.94" cy="787.38" r="1.60" fill="#d0464e"/>
<circle cx="406.89" cy="790.50" r="1.60" fill="#d0464e"/>
<circle cx="404.48" cy="783.50" r="1.60" fill="#d0464e"/>
<circle cx="405.74" cy="786.81" r="1.60" fill="#d0464e"/>
<circle cx="404.09" cy="775.49" r="1.60" fill="#d0464e"/>
<circle cx="398.69" cy="802.18" r="1.60" fill="#d0464e"/>
<circle cx="402.69" cy="739.51" r="1.60" fill="#d0464e"/>
<path d="M326.90 738.70 V736.50 H352.20 V738.70" fill="none" stroke="#333" stroke-width="0.85"/>
<text transform="translate(339.85,737.94) scale(1,1.080)" font-size="8.40" letter-spacing="0.60" text-anchor="middle" fill="#222">****</text>
<path d="M326.90 729.90 V727.70 H377.40 V729.90" fill="none" stroke="#333" stroke-width="0.85"/>
<text transform="translate(352.45,729.14) scale(1,1.080)" font-size="8.40" letter-spacing="0.60" text-anchor="middle" fill="#222">**</text>
<path d="M326.90 721.20 V719.00 H402.80 V721.20" fill="none" stroke="#333" stroke-width="0.85"/>
<text transform="translate(365.15,720.44) scale(1,1.080)" font-size="8.40" letter-spacing="0.60" text-anchor="middle" fill="#222">***</text>
<path d="M443.70 713.00 V836.30 H544.60" fill="none" stroke="#111" stroke-width="1.10"/>
<line x1="441.70" x2="443.70" y1="734.50" y2="734.50" stroke="#333" stroke-width="0.7"/>
<text transform="translate(440.90,737.67) scale(1,1.080)" font-size="8.80" text-anchor="end" fill="#333">36</text>
<line x1="441.70" x2="443.70" y1="763.00" y2="763.00" stroke="#333" stroke-width="0.7"/>
<text transform="translate(440.90,766.17) scale(1,1.080)" font-size="8.80" text-anchor="end" fill="#333">35</text>
<line x1="441.70" x2="443.70" y1="791.50" y2="791.50" stroke="#333" stroke-width="0.7"/>
<text transform="translate(440.90,794.67) scale(1,1.080)" font-size="8.80" text-anchor="end" fill="#333">34</text>
<line x1="441.70" x2="443.70" y1="820.00" y2="820.00" stroke="#333" stroke-width="0.7"/>
<text transform="translate(440.90,823.17) scale(1,1.080)" font-size="8.80" text-anchor="end" fill="#333">33</text>
<line x1="459.30" x2="459.30" y1="836.30" y2="838.30" stroke="#333" stroke-width="0.7"/>
<text x="0" y="0" transform="translate(462.50,842.70) scale(1,1.080) rotate(-45)" font-size="8.90" text-anchor="end" fill="#333">Asymptomatic</text>
<line x1="484.30" x2="484.30" y1="836.30" y2="838.30" stroke="#333" stroke-width="0.7"/>
<text x="0" y="0" transform="translate(487.50,842.70) scale(1,1.080) rotate(-45)" font-size="8.90" text-anchor="end" fill="#333">Mild</text>
<line x1="509.70" x2="509.70" y1="836.30" y2="838.30" stroke="#333" stroke-width="0.7"/>
<text x="0" y="0" transform="translate(512.90,842.70) scale(1,1.080) rotate(-45)" font-size="8.90" text-anchor="end" fill="#333">Severe</text>
<line x1="535.80" x2="535.80" y1="836.30" y2="838.30" stroke="#333" stroke-width="0.7"/>
<text x="0" y="0" transform="translate(539.00,842.70) scale(1,1.080) rotate(-45)" font-size="8.90" text-anchor="end" fill="#333">Critical</text>
<text transform="translate(497.00,707.70) scale(1,1.080)" font-size="9.20"  text-anchor="middle" fill="#111">LPC</text>
<line x1="459.30" x2="459.30" y1="741.62" y2="748.75" stroke="#5cb84a" stroke-width="0.6"/>
<line x1="459.30" x2="459.30" y1="760.15" y2="771.55" stroke="#5cb84a" stroke-width="0.6"/>
<rect x="454.80" y="748.75" width="9.00" height="11.40" fill="#fff" fill-opacity="0.6" stroke="#5cb84a" stroke-width="0.6"/>
<line x1="454.80" x2="463.80" y1="754.45" y2="754.45" stroke="#5cb84a" stroke-width="0.7"/>
<circle cx="463.75" cy="750.55" r="1.60" fill="#5cb84a"/>
<circle cx="461.65" cy="751.34" r="1.60" fill="#5cb84a"/>
<circle cx="454.60" cy="749.46" r="1.60" fill="#5cb84a"/>
<circle cx="464.29" cy="763.79" r="1.60" fill="#5cb84a"/>
<circle cx="461.00" cy="756.38" r="1.60" fill="#5cb84a"/>
<circle cx="458.46" cy="751.58" r="1.60" fill="#5cb84a"/>
<circle cx="462.54" cy="753.80" r="1.60" fill="#5cb84a"/>
<circle cx="458.21" cy="757.99" r="1.60" fill="#5cb84a"/>
<circle cx="459.77" cy="757.84" r="1.60" fill="#5cb84a"/>
<circle cx="453.61" cy="749.61" r="1.60" fill="#5cb84a"/>
<circle cx="454.21" cy="759.32" r="1.60" fill="#5cb84a"/>
<circle cx="464.46" cy="754.73" r="1.60" fill="#5cb84a"/>
<circle cx="458.36" cy="750.59" r="1.60" fill="#5cb84a"/>
<circle cx="462.79" cy="753.31" r="1.60" fill="#5cb84a"/>
<circle cx="457.76" cy="750.24" r="1.60" fill="#5cb84a"/>
<circle cx="458.01" cy="752.92" r="1.60" fill="#5cb84a"/>
<circle cx="454.63" cy="749.63" r="1.60" fill="#5cb84a"/>
<circle cx="464.05" cy="755.21" r="1.60" fill="#5cb84a"/>
<circle cx="456.33" cy="756.46" r="1.60" fill="#5cb84a"/>
<circle cx="462.50" cy="752.76" r="1.60" fill="#5cb84a"/>
<circle cx="455.43" cy="751.24" r="1.60" fill="#5cb84a"/>
<circle cx="456.94" cy="751.15" r="1.60" fill="#5cb84a"/>
<circle cx="454.36" cy="757.70" r="1.60" fill="#5cb84a"/>
<circle cx="461.65" cy="756.94" r="1.60" fill="#5cb84a"/>
<circle cx="464.31" cy="741.97" r="1.60" fill="#5cb84a"/>
<circle cx="460.83" cy="749.76" r="1.60" fill="#5cb84a"/>
<circle cx="461.03" cy="752.05" r="1.60" fill="#5cb84a"/>
<circle cx="456.28" cy="753.06" r="1.60" fill="#5cb84a"/>
<circle cx="464.73" cy="750.94" r="1.60" fill="#5cb84a"/>
<circle cx="454.66" cy="761.87" r="1.60" fill="#5cb84a"/>
<circle cx="456.30" cy="742.28" r="1.60" fill="#5cb84a"/>
<circle cx="460.09" cy="755.51" r="1.60" fill="#5cb84a"/>
<circle cx="460.98" cy="765.81" r="1.60" fill="#5cb84a"/>
<circle cx="456.75" cy="749.82" r="1.60" fill="#5cb84a"/>
<circle cx="460.39" cy="759.90" r="1.60" fill="#5cb84a"/>
<circle cx="454.68" cy="745.19" r="1.60" fill="#5cb84a"/>
<circle cx="453.89" cy="760.10" r="1.60" fill="#5cb84a"/>
<circle cx="458.41" cy="750.12" r="1.60" fill="#5cb84a"/>
<circle cx="460.22" cy="758.24" r="1.60" fill="#5cb84a"/>
<circle cx="463.89" cy="754.02" r="1.60" fill="#5cb84a"/>
<circle cx="458.90" cy="769.58" r="1.60" fill="#5cb84a"/>
<circle cx="464.53" cy="754.19" r="1.60" fill="#5cb84a"/>
<circle cx="462.50" cy="750.10" r="1.60" fill="#5cb84a"/>
<circle cx="464.96" cy="745.78" r="1.60" fill="#5cb84a"/>
<circle cx="461.81" cy="757.63" r="1.60" fill="#5cb84a"/>
<circle cx="458.37" cy="757.86" r="1.60" fill="#5cb84a"/>
<circle cx="460.94" cy="771.55" r="1.60" fill="#5cb84a"/>
<circle cx="461.58" cy="741.62" r="1.60" fill="#5cb84a"/>
<line x1="484.30" x2="484.30" y1="743.05" y2="748.75" stroke="#3b78b8" stroke-width="0.6"/>
<line x1="484.30" x2="484.30" y1="760.15" y2="770.12" stroke="#3b78b8" stroke-width="0.6"/>
<rect x="479.80" y="748.75" width="9.00" height="11.40" fill="#fff" fill-opacity="0.6" stroke="#3b78b8" stroke-width="0.6"/>
<line x1="479.80" x2="488.80" y1="754.45" y2="754.45" stroke="#3b78b8" stroke-width="0.7"/>
<circle cx="481.89" cy="758.18" r="1.60" fill="#3b78b8"/>
<circle cx="489.71" cy="753.98" r="1.60" fill="#3b78b8"/>
<circle cx="488.02" cy="756.08" r="1.60" fill="#3b78b8"/>
<circle cx="483.34" cy="749.49" r="1.60" fill="#3b78b8"/>
<circle cx="480.49" cy="753.67" r="1.60" fill="#3b78b8"/>
<circle cx="479.89" cy="755.01" r="1.60" fill="#3b78b8"/>
<circle cx="482.52" cy="745.88" r="1.60" fill="#3b78b8"/>
<circle cx="479.30" cy="750.34" r="1.60" fill="#3b78b8"/>
<circle cx="484.35" cy="769.09" r="1.60" fill="#3b78b8"/>
<circle cx="485.64" cy="756.22" r="1.60" fill="#3b78b8"/>
<circle cx="489.99" cy="756.35" r="1.60" fill="#3b78b8"/>
<circle cx="479.24" cy="748.72" r="1.60" fill="#3b78b8"/>
<circle cx="479.43" cy="761.90" r="1.60" fill="#3b78b8"/>
<circle cx="485.58" cy="751.32" r="1.60" fill="#3b78b8"/>
<circle cx="480.17" cy="748.71" r="1.60" fill="#3b78b8"/>
<circle cx="480.13" cy="756.97" r="1.60" fill="#3b78b8"/>
<circle cx="485.35" cy="760.12" r="1.60" fill="#3b78b8"/>
<circle cx="486.62" cy="760.45" r="1.60" fill="#3b78b8"/>
<circle cx="487.56" cy="754.71" r="1.60" fill="#3b78b8"/>
<circle cx="482.70" cy="753.58" r="1.60" fill="#3b78b8"/>
<circle cx="479.95" cy="758.45" r="1.60" fill="#3b78b8"/>
<circle cx="478.42" cy="748.30" r="1.60" fill="#3b78b8"/>
<circle cx="487.79" cy="749.99" r="1.60" fill="#3b78b8"/>
<circle cx="487.04" cy="758.19" r="1.60" fill="#3b78b8"/>
<circle cx="479.32" cy="748.89" r="1.60" fill="#3b78b8"/>
<circle cx="485.20" cy="759.57" r="1.60" fill="#3b78b8"/>
<circle cx="478.91" cy="758.54" r="1.60" fill="#3b78b8"/>
<circle cx="483.81" cy="754.68" r="1.60" fill="#3b78b8"/>
<circle cx="488.31" cy="756.12" r="1.60" fill="#3b78b8"/>
<circle cx="489.91" cy="757.81" r="1.60" fill="#3b78b8"/>
<circle cx="485.30" cy="757.23" r="1.60" fill="#3b78b8"/>
<circle cx="488.66" cy="755.26" r="1.60" fill="#3b78b8"/>
<circle cx="484.23" cy="749.81" r="1.60" fill="#3b78b8"/>
<circle cx="489.88" cy="752.30" r="1.60" fill="#3b78b8"/>
<circle cx="481.08" cy="748.78" r="1.60" fill="#3b78b8"/>
<circle cx="478.52" cy="754.00" r="1.60" fill="#3b78b8"/>
<circle cx="484.12" cy="752.97" r="1.60" fill="#3b78b8"/>
<circle cx="490.19" cy="756.30" r="1.60" fill="#3b78b8"/>
<circle cx="485.97" cy="752.59" r="1.60" fill="#3b78b8"/>
<circle cx="486.49" cy="755.02" r="1.60" fill="#3b78b8"/>
<circle cx="487.66" cy="759.54" r="1.60" fill="#3b78b8"/>
<circle cx="486.73" cy="743.41" r="1.60" fill="#3b78b8"/>
<circle cx="487.17" cy="748.78" r="1.60" fill="#3b78b8"/>
<circle cx="482.43" cy="753.24" r="1.60" fill="#3b78b8"/>
<circle cx="482.40" cy="749.35" r="1.60" fill="#3b78b8"/>
<circle cx="488.69" cy="754.23" r="1.60" fill="#3b78b8"/>
<circle cx="481.36" cy="770.12" r="1.60" fill="#3b78b8"/>
<circle cx="484.57" cy="743.05" r="1.60" fill="#3b78b8"/>
<line x1="509.70" x2="509.70" y1="743.05" y2="748.75" stroke="#e8a04a" stroke-width="0.6"/>
<line x1="509.70" x2="509.70" y1="760.15" y2="763.00" stroke="#e8a04a" stroke-width="0.6"/>
<rect x="505.20" y="748.75" width="9.00" height="11.40" fill="#fff" fill-opacity="0.6" stroke="#e8a04a" stroke-width="0.6"/>
<line x1="505.20" x2="514.20" y1="754.45" y2="754.45" stroke="#e8a04a" stroke-width="0.7"/>
<circle cx="512.74" cy="752.76" r="1.60" fill="#e8a04a"/>
<circle cx="514.98" cy="749.90" r="1.60" fill="#e8a04a"/>
<circle cx="511.83" cy="758.12" r="1.60" fill="#e8a04a"/>
<circle cx="513.72" cy="759.91" r="1.60" fill="#e8a04a"/>
<circle cx="508.40" cy="750.66" r="1.60" fill="#e8a04a"/>
<circle cx="504.38" cy="747.49" r="1.60" fill="#e8a04a"/>
<circle cx="511.38" cy="758.91" r="1.60" fill="#e8a04a"/>
<circle cx="508.26" cy="749.55" r="1.60" fill="#e8a04a"/>
<circle cx="505.49" cy="761.87" r="1.60" fill="#e8a04a"/>
<circle cx="506.85" cy="753.13" r="1.60" fill="#e8a04a"/>
<circle cx="507.85" cy="759.21" r="1.60" fill="#e8a04a"/>
<circle cx="505.43" cy="762.46" r="1.60" fill="#e8a04a"/>
<circle cx="508.32" cy="757.15" r="1.60" fill="#e8a04a"/>
<circle cx="510.72" cy="759.57" r="1.60" fill="#e8a04a"/>
<circle cx="507.83" cy="752.42" r="1.60" fill="#e8a04a"/>
<circle cx="507.48" cy="751.26" r="1.60" fill="#e8a04a"/>
<circle cx="509.80" cy="759.41" r="1.60" fill="#e8a04a"/>
<circle cx="508.59" cy="756.65" r="1.60" fill="#e8a04a"/>
<circle cx="504.76" cy="750.85" r="1.60" fill="#e8a04a"/>
<circle cx="510.85" cy="758.58" r="1.60" fill="#e8a04a"/>
<circle cx="504.05" cy="744.60" r="1.60" fill="#e8a04a"/>
<circle cx="514.31" cy="750.12" r="1.60" fill="#e8a04a"/>
<circle cx="512.96" cy="753.55" r="1.60" fill="#e8a04a"/>
<circle cx="504.74" cy="750.92" r="1.60" fill="#e8a04a"/>
<circle cx="511.05" cy="760.05" r="1.60" fill="#e8a04a"/>
<circle cx="509.07" cy="753.42" r="1.60" fill="#e8a04a"/>
<circle cx="510.56" cy="754.49" r="1.60" fill="#e8a04a"/>
<circle cx="509.40" cy="753.83" r="1.60" fill="#e8a04a"/>
<circle cx="512.77" cy="746.04" r="1.60" fill="#e8a04a"/>
<circle cx="508.96" cy="754.41" r="1.60" fill="#e8a04a"/>
<circle cx="513.17" cy="763.00" r="1.60" fill="#e8a04a"/>
<circle cx="514.05" cy="743.05" r="1.60" fill="#e8a04a"/>
<line x1="535.80" x2="535.80" y1="740.20" y2="758.73" stroke="#d0464e" stroke-width="0.6"/>
<line x1="535.80" x2="535.80" y1="774.40" y2="794.35" stroke="#d0464e" stroke-width="0.6"/>
<rect x="531.30" y="758.73" width="9.00" height="15.67" fill="#fff" fill-opacity="0.6" stroke="#d0464e" stroke-width="0.6"/>
<line x1="531.30" x2="540.30" y1="767.27" y2="767.27" stroke="#d0464e" stroke-width="0.7"/>
<circle cx="530.61" cy="773.57" r="1.60" fill="#d0464e"/>
<circle cx="533.98" cy="772.18" r="1.60" fill="#d0464e"/>
<circle cx="538.67" cy="769.02" r="1.60" fill="#d0464e"/>
<circle cx="531.31" cy="757.86" r="1.60" fill="#d0464e"/>
<circle cx="541.53" cy="757.84" r="1.60" fill="#d0464e"/>
<circle cx="539.53" cy="765.08" r="1.60" fill="#d0464e"/>
<circle cx="530.91" cy="773.82" r="1.60" fill="#d0464e"/>
<circle cx="530.35" cy="774.27" r="1.60" fill="#d0464e"/>
<circle cx="530.16" cy="765.87" r="1.60" fill="#d0464e"/>
<circle cx="540.58" cy="767.55" r="1.60" fill="#d0464e"/>
<circle cx="538.15" cy="761.78" r="1.60" fill="#d0464e"/>
<circle cx="532.45" cy="771.38" r="1.60" fill="#d0464e"/>
<circle cx="533.90" cy="757.08" r="1.60" fill="#d0464e"/>
<circle cx="531.18" cy="759.68" r="1.60" fill="#d0464e"/>
<circle cx="533.57" cy="766.86" r="1.60" fill="#d0464e"/>
<circle cx="538.38" cy="783.55" r="1.60" fill="#d0464e"/>
<circle cx="538.73" cy="774.95" r="1.60" fill="#d0464e"/>
<circle cx="532.97" cy="766.54" r="1.60" fill="#d0464e"/>
<circle cx="540.62" cy="794.35" r="1.60" fill="#d0464e"/>
<circle cx="541.01" cy="740.20" r="1.60" fill="#d0464e"/>
<circle cx="534.42" cy="831.40" r="1.60" fill="#d0464e"/>
<path d="M459.30 738.70 V736.50 H535.80 V738.70" fill="none" stroke="#333" stroke-width="0.85"/>
<text transform="translate(497.85,737.94) scale(1,1.080)" font-size="8.40" letter-spacing="0.60" text-anchor="middle" fill="#222">****</text>
<path d="M484.30 729.50 V727.30 H535.80 V729.50" fill="none" stroke="#333" stroke-width="0.85"/>
<text transform="translate(510.35,728.74) scale(1,1.080)" font-size="8.40" letter-spacing="0.60" text-anchor="middle" fill="#222">****</text>
<path d="M509.70 720.70 V718.50 H535.80 V720.70" fill="none" stroke="#333" stroke-width="0.85"/>
<text transform="translate(523.05,719.94) scale(1,1.080)" font-size="8.40" letter-spacing="0.60" text-anchor="middle" fill="#222">****</text>
<path d="M581.00 715.20 V836.50 H679.30" fill="none" stroke="#111" stroke-width="1.10"/>
<line x1="579.00" x2="581.00" y1="738.70" y2="738.70" stroke="#333" stroke-width="0.7"/>
<text transform="translate(578.20,741.87) scale(1,1.080)" font-size="8.80" text-anchor="end" fill="#333">25.0</text>
<line x1="579.00" x2="581.00" y1="771.60" y2="771.60" stroke="#333" stroke-width="0.7"/>
<text transform="translate(578.20,774.77) scale(1,1.080)" font-size="8.80" text-anchor="end" fill="#333">22.5</text>
<line x1="579.00" x2="581.00" y1="804.50" y2="804.50" stroke="#333" stroke-width="0.7"/>
<text transform="translate(578.20,807.67) scale(1,1.080)" font-size="8.80" text-anchor="end" fill="#333">20.0</text>
<line x1="594.20" x2="594.20" y1="836.50" y2="838.50" stroke="#333" stroke-width="0.7"/>
<text x="0" y="0" transform="translate(597.40,842.90) scale(1,1.080) rotate(-45)" font-size="8.90" text-anchor="end" fill="#333">Asymptomatic</text>
<line x1="617.90" x2="617.90" y1="836.50" y2="838.50" stroke="#333" stroke-width="0.7"/>
<text x="0" y="0" transform="translate(621.10,842.90) scale(1,1.080) rotate(-45)" font-size="8.90" text-anchor="end" fill="#333">Mild</text>
<line x1="642.00" x2="642.00" y1="836.50" y2="838.50" stroke="#333" stroke-width="0.7"/>
<text x="0" y="0" transform="translate(645.20,842.90) scale(1,1.080) rotate(-45)" font-size="8.90" text-anchor="end" fill="#333">Severe</text>
<line x1="665.50" x2="665.50" y1="836.50" y2="838.50" stroke="#333" stroke-width="0.7"/>
<text x="0" y="0" transform="translate(668.70,842.90) scale(1,1.080) rotate(-45)" font-size="8.90" text-anchor="end" fill="#333">Critical</text>
<text transform="translate(629.70,709.80) scale(1,1.080)" font-size="9.20"  text-anchor="middle" fill="#111">LPA</text>
<line x1="594.20" x2="594.20" y1="747.91" y2="758.44" stroke="#5cb84a" stroke-width="0.6"/>
<line x1="594.20" x2="594.20" y1="771.60" y2="804.50" stroke="#5cb84a" stroke-width="0.6"/>
<rect x="589.70" y="758.44" width="9.00" height="13.16" fill="#fff" fill-opacity="0.6" stroke="#5cb84a" stroke-width="0.6"/>
<line x1="589.70" x2="598.70" y1="765.68" y2="765.68" stroke="#5cb84a" stroke-width="0.7"/>
<circle cx="593.08" cy="770.48" r="1.60" fill="#5cb84a"/>
<circle cx="599.37" cy="758.14" r="1.60" fill="#5cb84a"/>
<circle cx="599.45" cy="762.44" r="1.60" fill="#5cb84a"/>
<circle cx="597.16" cy="758.87" r="1.60" fill="#5cb84a"/>
<circle cx="590.65" cy="770.71" r="1.60" fill="#5cb84a"/>
<circle cx="599.39" cy="757.38" r="1.60" fill="#5cb84a"/>
<circle cx="592.33" cy="753.92" r="1.60" fill="#5cb84a"/>
<circle cx="597.84" cy="768.99" r="1.60" fill="#5cb84a"/>
<circle cx="596.18" cy="768.48" r="1.60" fill="#5cb84a"/>
<circle cx="595.58" cy="767.59" r="1.60" fill="#5cb84a"/>
<circle cx="592.91" cy="767.34" r="1.60" fill="#5cb84a"/>
<circle cx="597.37" cy="777.07" r="1.60" fill="#5cb84a"/>
<circle cx="599.96" cy="757.79" r="1.60" fill="#5cb84a"/>
<circle cx="598.63" cy="756.81" r="1.60" fill="#5cb84a"/>
<circle cx="598.15" cy="759.17" r="1.60" fill="#5cb84a"/>
<circle cx="591.30" cy="773.39" r="1.60" fill="#5cb84a"/>
<circle cx="591.15" cy="762.49" r="1.60" fill="#5cb84a"/>
<circle cx="597.14" cy="784.03" r="1.60" fill="#5cb84a"/>
<circle cx="593.71" cy="765.49" r="1.60" fill="#5cb84a"/>
<circle cx="598.92" cy="756.65" r="1.60" fill="#5cb84a"/>
<circle cx="594.22" cy="762.26" r="1.60" fill="#5cb84a"/>
<circle cx="599.78" cy="762.74" r="1.60" fill="#5cb84a"/>
<circle cx="588.37" cy="781.06" r="1.60" fill="#5cb84a"/>
<circle cx="599.36" cy="756.00" r="1.60" fill="#5cb84a"/>
<circle cx="591.70" cy="766.93" r="1.60" fill="#5cb84a"/>
<circle cx="597.14" cy="766.24" r="1.60" fill="#5cb84a"/>
<circle cx="595.28" cy="753.04" r="1.60" fill="#5cb84a"/>
<circle cx="595.82" cy="770.73" r="1.60" fill="#5cb84a"/>
<circle cx="593.52" cy="775.05" r="1.60" fill="#5cb84a"/>
<circle cx="597.40" cy="776.64" r="1.60" fill="#5cb84a"/>
<circle cx="598.53" cy="771.57" r="1.60" fill="#5cb84a"/>
<circle cx="592.50" cy="772.24" r="1.60" fill="#5cb84a"/>
<circle cx="596.84" cy="771.56" r="1.60" fill="#5cb84a"/>
<circle cx="594.63" cy="784.77" r="1.60" fill="#5cb84a"/>
<circle cx="596.23" cy="759.80" r="1.60" fill="#5cb84a"/>
<circle cx="594.38" cy="773.95" r="1.60" fill="#5cb84a"/>
<circle cx="596.37" cy="773.76" r="1.60" fill="#5cb84a"/>
<circle cx="590.22" cy="761.05" r="1.60" fill="#5cb84a"/>
<circle cx="593.07" cy="758.85" r="1.60" fill="#5cb84a"/>
<circle cx="598.43" cy="766.65" r="1.60" fill="#5cb84a"/>
<circle cx="590.32" cy="757.15" r="1.60" fill="#5cb84a"/>
<circle cx="596.80" cy="751.82" r="1.60" fill="#5cb84a"/>
<circle cx="593.68" cy="766.83" r="1.60" fill="#5cb84a"/>
<circle cx="593.98" cy="757.15" r="1.60" fill="#5cb84a"/>
<circle cx="591.32" cy="758.55" r="1.60" fill="#5cb84a"/>
<circle cx="596.95" cy="761.22" r="1.60" fill="#5cb84a"/>
<circle cx="590.16" cy="804.50" r="1.60" fill="#5cb84a"/>
<circle cx="592.36" cy="747.91" r="1.60" fill="#5cb84a"/>
<line x1="617.90" x2="617.90" y1="751.86" y2="775.55" stroke="#3b78b8" stroke-width="0.6"/>
<line x1="617.90" x2="617.90" y1="791.34" y2="809.76" stroke="#3b78b8" stroke-width="0.6"/>
<rect x="613.40" y="775.55" width="9.00" height="15.79" fill="#fff" fill-opacity="0.6" stroke="#3b78b8" stroke-width="0.6"/>
<line x1="613.40" x2="622.40" y1="784.76" y2="784.76" stroke="#3b78b8" stroke-width="0.7"/>
<circle cx="616.84" cy="784.17" r="1.60" fill="#3b78b8"/>
<circle cx="617.12" cy="782.99" r="1.60" fill="#3b78b8"/>
<circle cx="621.02" cy="780.62" r="1.60" fill="#3b78b8"/>
<circle cx="615.75" cy="776.77" r="1.60" fill="#3b78b8"/>
<circle cx="615.45" cy="780.92" r="1.60" fill="#3b78b8"/>
<circle cx="620.53" cy="777.85" r="1.60" fill="#3b78b8"/>
<circle cx="612.92" cy="775.97" r="1.60" fill="#3b78b8"/>
<circle cx="622.58" cy="764.71" r="1.60" fill="#3b78b8"/>
<circle cx="613.68" cy="777.60" r="1.60" fill="#3b78b8"/>
<circle cx="615.18" cy="785.62" r="1.60" fill="#3b78b8"/>
<circle cx="618.38" cy="777.69" r="1.60" fill="#3b78b8"/>
<circle cx="614.34" cy="780.31" r="1.60" fill="#3b78b8"/>
<circle cx="613.32" cy="777.17" r="1.60" fill="#3b78b8"/>
<circle cx="623.37" cy="790.26" r="1.60" fill="#3b78b8"/>
<circle cx="617.82" cy="798.64" r="1.60" fill="#3b78b8"/>
<circle cx="619.16" cy="805.13" r="1.60" fill="#3b78b8"/>
<circle cx="623.70" cy="776.24" r="1.60" fill="#3b78b8"/>
<circle cx="620.67" cy="782.59" r="1.60" fill="#3b78b8"/>
<circle cx="620.52" cy="780.81" r="1.60" fill="#3b78b8"/>
<circle cx="620.95" cy="798.78" r="1.60" fill="#3b78b8"/>
<circle cx="623.69" cy="783.55" r="1.60" fill="#3b78b8"/>
<circle cx="622.56" cy="792.80" r="1.60" fill="#3b78b8"/>
<circle cx="615.07" cy="788.33" r="1.60" fill="#3b78b8"/>
<circle cx="620.18" cy="795.18" r="1.60" fill="#3b78b8"/>
<circle cx="614.67" cy="780.37" r="1.60" fill="#3b78b8"/>
<circle cx="612.00" cy="784.80" r="1.60" fill="#3b78b8"/>
<circle cx="616.14" cy="796.77" r="1.60" fill="#3b78b8"/>
<circle cx="622.23" cy="781.96" r="1.60" fill="#3b78b8"/>
<circle cx="614.94" cy="788.23" r="1.60" fill="#3b78b8"/>
<circle cx="623.26" cy="796.42" r="1.60" fill="#3b78b8"/>
<circle cx="622.58" cy="790.86" r="1.60" fill="#3b78b8"/>
<circle cx="622.17" cy="777.35" r="1.60" fill="#3b78b8"/>
<circle cx="618.13" cy="791.31" r="1.60" fill="#3b78b8"/>
<circle cx="614.01" cy="776.78" r="1.60" fill="#3b78b8"/>
<circle cx="623.66" cy="790.70" r="1.60" fill="#3b78b8"/>
<circle cx="612.04" cy="776.88" r="1.60" fill="#3b78b8"/>
<circle cx="621.30" cy="787.49" r="1.60" fill="#3b78b8"/>
<circle cx="622.07" cy="797.11" r="1.60" fill="#3b78b8"/>
<circle cx="618.22" cy="784.68" r="1.60" fill="#3b78b8"/>
<circle cx="621.84" cy="805.44" r="1.60" fill="#3b78b8"/>
<circle cx="619.42" cy="787.16" r="1.60" fill="#3b78b8"/>
<circle cx="617.19" cy="783.24" r="1.60" fill="#3b78b8"/>
<circle cx="621.11" cy="788.17" r="1.60" fill="#3b78b8"/>
<circle cx="619.11" cy="787.42" r="1.60" fill="#3b78b8"/>
<circle cx="622.93" cy="780.13" r="1.60" fill="#3b78b8"/>
<circle cx="618.72" cy="759.87" r="1.60" fill="#3b78b8"/>
<circle cx="617.28" cy="809.76" r="1.60" fill="#3b78b8"/>
<circle cx="622.72" cy="751.86" r="1.60" fill="#3b78b8"/>
<line x1="642.00" x2="642.00" y1="759.76" y2="774.23" stroke="#e8a04a" stroke-width="0.6"/>
<line x1="642.00" x2="642.00" y1="791.34" y2="801.87" stroke="#e8a04a" stroke-width="0.6"/>
<rect x="637.50" y="774.23" width="9.00" height="17.11" fill="#fff" fill-opacity="0.6" stroke="#e8a04a" stroke-width="0.6"/>
<line x1="637.50" x2="646.50" y1="782.13" y2="782.13" stroke="#e8a04a" stroke-width="0.7"/>
<circle cx="645.72" cy="777.24" r="1.60" fill="#e8a04a"/>
<circle cx="636.01" cy="769.95" r="1.60" fill="#e8a04a"/>
<circle cx="641.30" cy="784.07" r="1.60" fill="#e8a04a"/>
<circle cx="644.81" cy="788.55" r="1.60" fill="#e8a04a"/>
<circle cx="647.59" cy="784.36" r="1.60" fill="#e8a04a"/>
<circle cx="642.48" cy="768.93" r="1.60" fill="#e8a04a"/>
<circle cx="645.49" cy="769.02" r="1.60" fill="#e8a04a"/>
<circle cx="639.42" cy="781.05" r="1.60" fill="#e8a04a"/>
<circle cx="643.79" cy="779.11" r="1.60" fill="#e8a04a"/>
<circle cx="638.27" cy="782.35" r="1.60" fill="#e8a04a"/>
<circle cx="646.82" cy="775.45" r="1.60" fill="#e8a04a"/>
<circle cx="639.43" cy="777.65" r="1.60" fill="#e8a04a"/>
<circle cx="644.42" cy="785.39" r="1.60" fill="#e8a04a"/>
<circle cx="638.69" cy="782.70" r="1.60" fill="#e8a04a"/>
<circle cx="645.22" cy="787.25" r="1.60" fill="#e8a04a"/>
<circle cx="643.07" cy="776.91" r="1.60" fill="#e8a04a"/>
<circle cx="642.52" cy="777.49" r="1.60" fill="#e8a04a"/>
<circle cx="639.33" cy="778.50" r="1.60" fill="#e8a04a"/>
<circle cx="644.27" cy="790.09" r="1.60" fill="#e8a04a"/>
<circle cx="641.33" cy="791.50" r="1.60" fill="#e8a04a"/>
<circle cx="646.87" cy="779.60" r="1.60" fill="#e8a04a"/>
<circle cx="645.77" cy="770.90" r="1.60" fill="#e8a04a"/>
<circle cx="644.36" cy="784.86" r="1.60" fill="#e8a04a"/>
<circle cx="636.32" cy="778.24" r="1.60" fill="#e8a04a"/>
<circle cx="643.48" cy="772.64" r="1.60" fill="#e8a04a"/>
<circle cx="641.00" cy="774.47" r="1.60" fill="#e8a04a"/>
<circle cx="641.57" cy="794.89" r="1.60" fill="#e8a04a"/>
<circle cx="641.52" cy="796.36" r="1.60" fill="#e8a04a"/>
<circle cx="642.44" cy="786.80" r="1.60" fill="#e8a04a"/>
<circle cx="643.88" cy="784.28" r="1.60" fill="#e8a04a"/>
<circle cx="646.38" cy="801.87" r="1.60" fill="#e8a04a"/>
<circle cx="645.28" cy="759.76" r="1.60" fill="#e8a04a"/>
<circle cx="640.62" cy="829.50" r="1.60" fill="#e8a04a"/>
<line x1="665.50" x2="665.50" y1="742.65" y2="766.34" stroke="#d0464e" stroke-width="0.6"/>
<line x1="665.50" x2="665.50" y1="795.29" y2="817.66" stroke="#d0464e" stroke-width="0.6"/>
<rect x="661.00" y="766.34" width="9.00" height="28.95" fill="#fff" fill-opacity="0.6" stroke="#d0464e" stroke-width="0.6"/>
<line x1="661.00" x2="670.00" y1="782.13" y2="782.13" stroke="#d0464e" stroke-width="0.7"/>
<circle cx="661.20" cy="784.81" r="1.60" fill="#d0464e"/>
<circle cx="660.08" cy="808.22" r="1.60" fill="#d0464e"/>
<circle cx="669.24" cy="791.74" r="1.60" fill="#d0464e"/>
<circle cx="661.37" cy="756.78" r="1.60" fill="#d0464e"/>
<circle cx="665.22" cy="781.97" r="1.60" fill="#d0464e"/>
<circle cx="669.10" cy="778.06" r="1.60" fill="#d0464e"/>
<circle cx="661.96" cy="766.83" r="1.60" fill="#d0464e"/>
<circle cx="662.89" cy="758.17" r="1.60" fill="#d0464e"/>
<circle cx="663.58" cy="777.15" r="1.60" fill="#d0464e"/>
<circle cx="666.62" cy="803.63" r="1.60" fill="#d0464e"/>
<circle cx="664.45" cy="776.07" r="1.60" fill="#d0464e"/>
<circle cx="670.79" cy="781.10" r="1.60" fill="#d0464e"/>
<circle cx="662.91" cy="784.73" r="1.60" fill="#d0464e"/>
<circle cx="669.11" cy="800.91" r="1.60" fill="#d0464e"/>
<circle cx="660.94" cy="792.29" r="1.60" fill="#d0464e"/>
<circle cx="663.83" cy="801.51" r="1.60" fill="#d0464e"/>
<circle cx="662.50" cy="785.28" r="1.60" fill="#d0464e"/>
<circle cx="666.60" cy="782.03" r="1.60" fill="#d0464e"/>
<circle cx="659.97" cy="817.66" r="1.60" fill="#d0464e"/>
<circle cx="665.78" cy="742.65" r="1.60" fill="#d0464e"/>
<path d="M594.20 740.90 V738.70 H617.90 V740.90" fill="none" stroke="#333" stroke-width="0.85"/>
<text transform="translate(606.40,735.40) scale(1,1.080)" font-size="4.30" letter-spacing="0.70" text-anchor="middle" fill="#222">****</text>
<path d="M594.20 731.80 V729.60 H642.00 V731.80" fill="none" stroke="#333" stroke-width="0.85"/>
<text transform="translate(618.45,726.30) scale(1,1.080)" font-size="4.30" letter-spacing="0.70" text-anchor="middle" fill="#222">***</text>
<path d="M594.20 723.10 V720.90 H665.50 V723.10" fill="none" stroke="#333" stroke-width="0.85"/>
<text transform="translate(630.20,717.60) scale(1,1.080)" font-size="4.30" letter-spacing="0.70" text-anchor="middle" fill="#222">*</text>
<text x="0" y="0" transform="translate(19.5,771) scale(1,1.080) rotate(-90)" font-size="10.2" text-anchor="middle" fill="#111">Log<tspan font-size="7" dy="2.5">2</tspan><tspan dy="-2.5">(abundance+1)</tspan></text>
<text transform="translate(-0.5,706.6) scale(1,1.080)" font-size="12.5" font-weight="bold" fill="#000">f</text>
</svg></body></html>
